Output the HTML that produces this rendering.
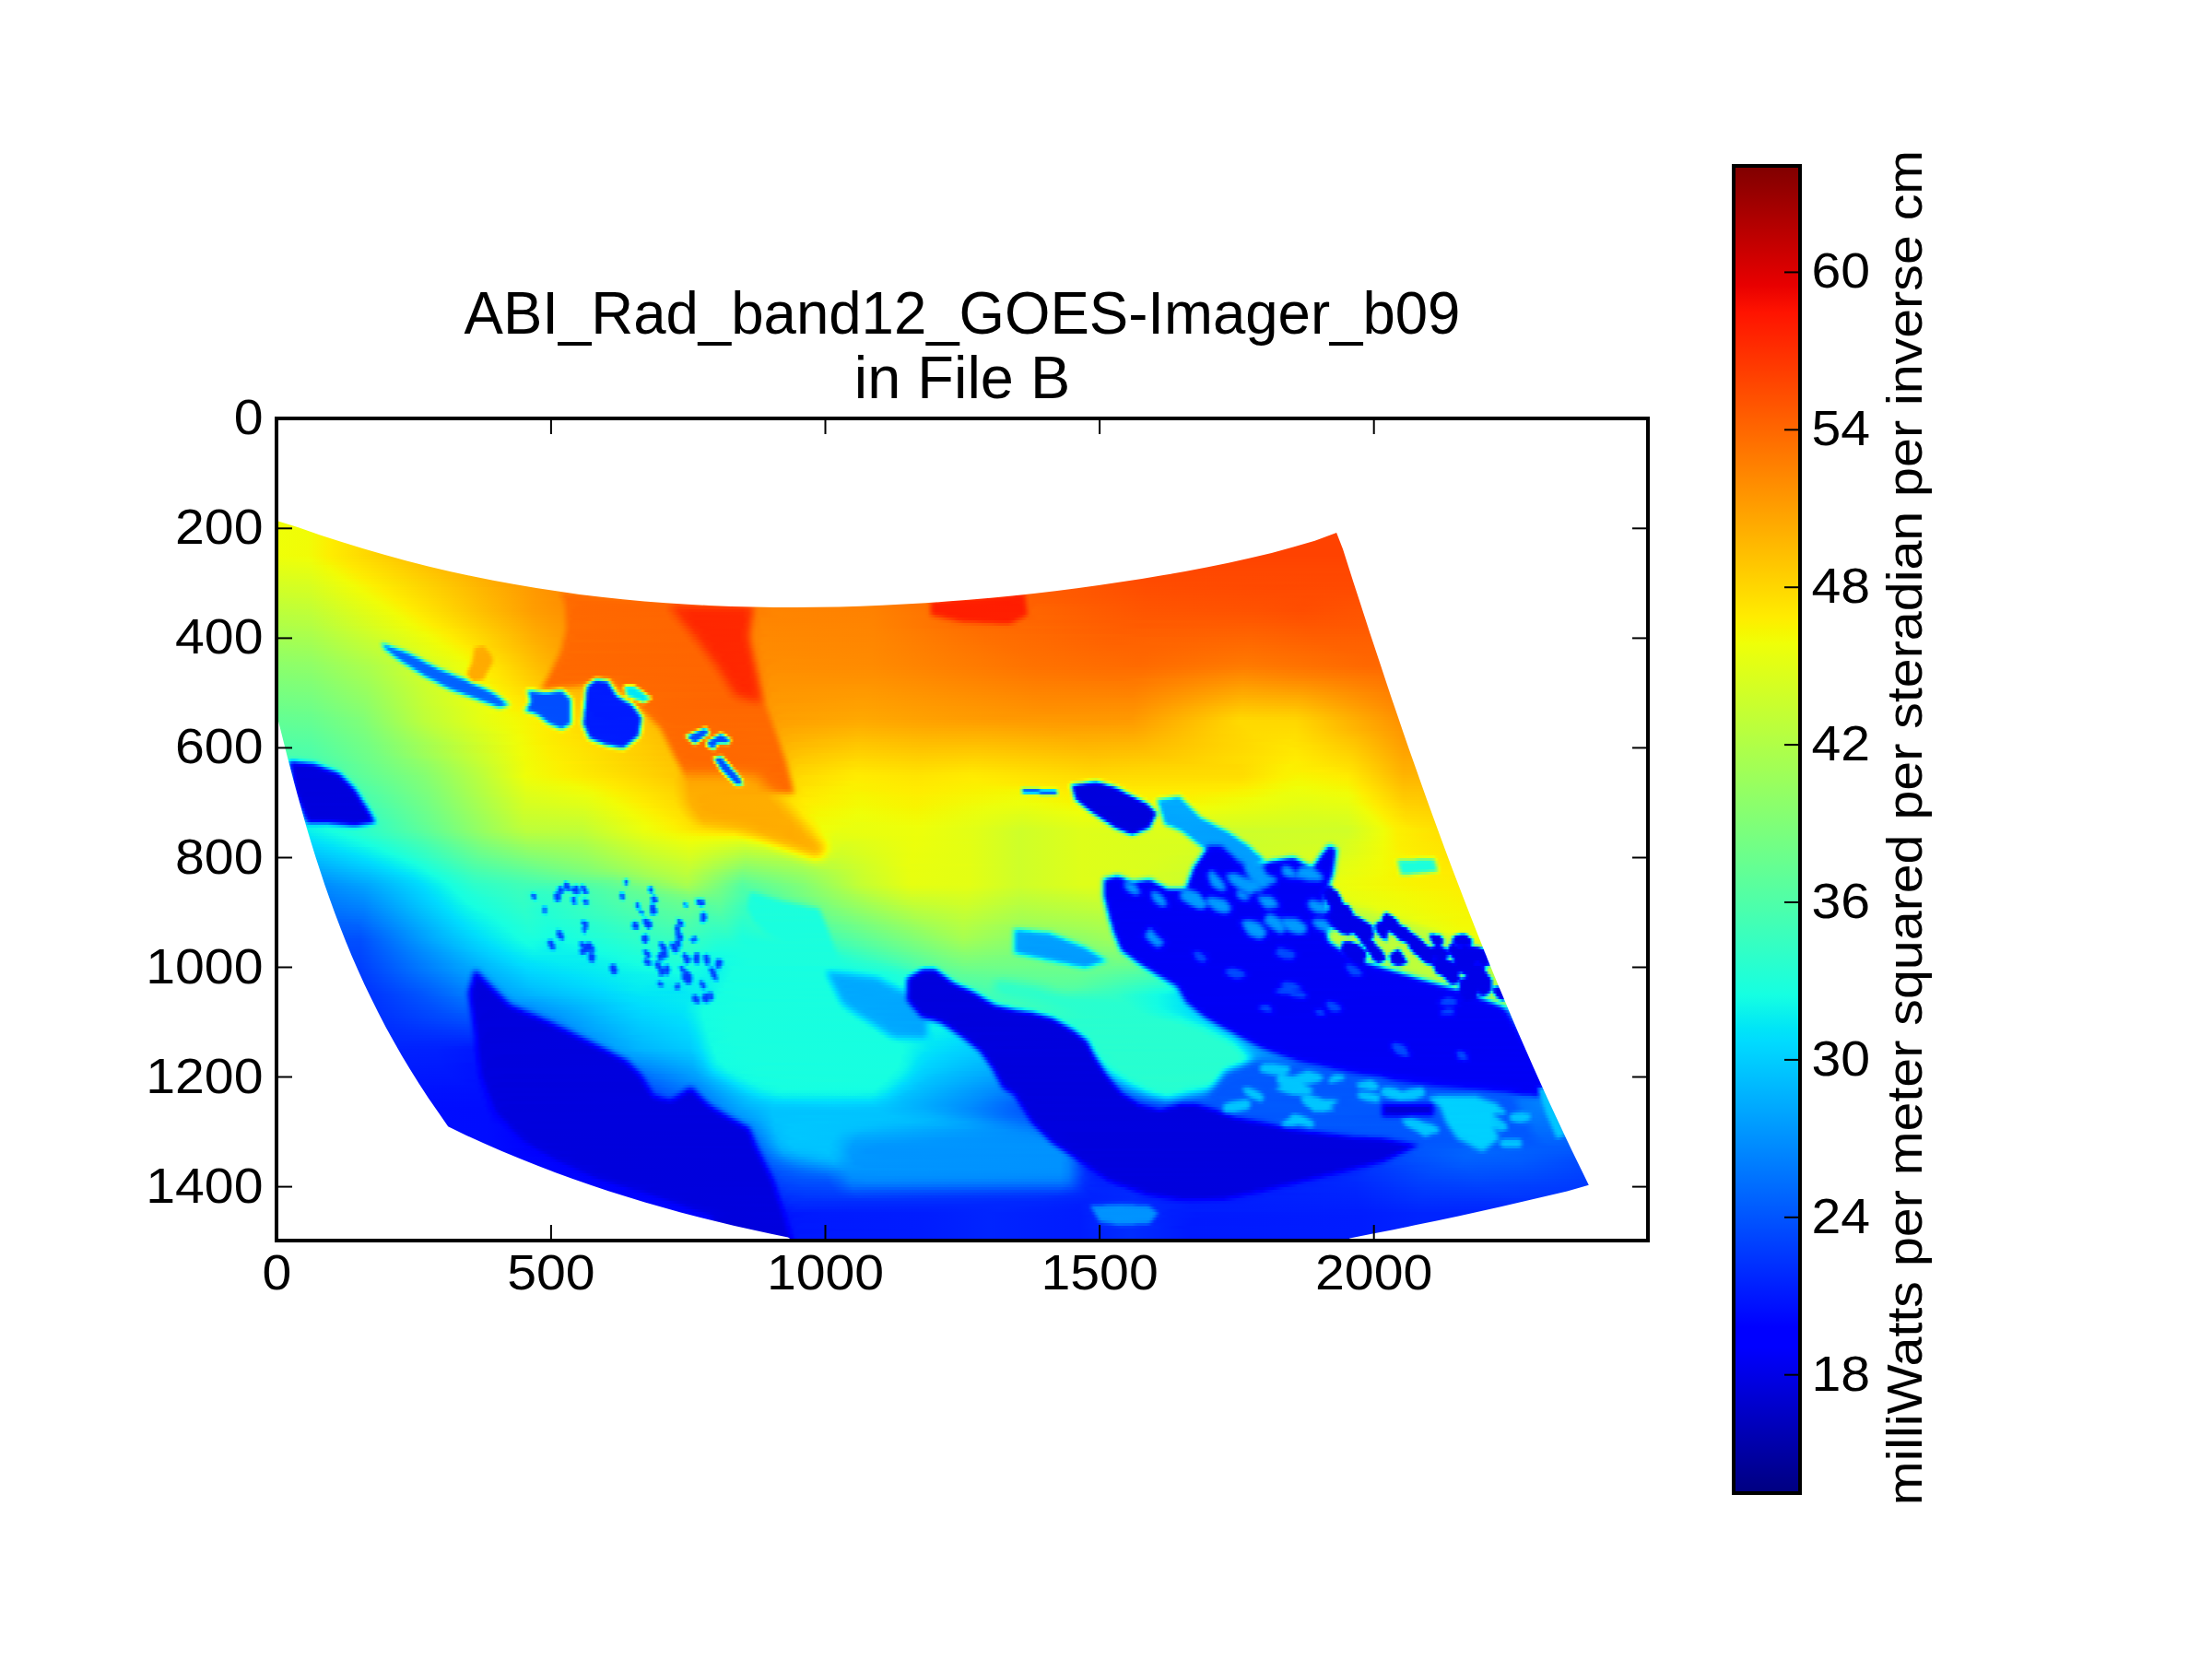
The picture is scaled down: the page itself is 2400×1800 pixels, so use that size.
<!DOCTYPE html>
<html><head><meta charset="utf-8"><style>
html,body{margin:0;padding:0;background:#fff;width:2400px;height:1800px;overflow:hidden}
#img{position:absolute;left:300.0px;top:454.0px;width:1488.0px;height:892.0px;overflow:hidden;clip-path:polygon(0.3px 111.0px,23.8px 118.2px,47.2px 126.4px,70.7px 134.1px,94.2px 141.3px,117.6px 148.1px,141.1px 154.5px,164.6px 160.5px,188.0px 166.0px,211.5px 171.1px,235.0px 175.8px,258.4px 180.1px,281.9px 184.1px,305.3px 187.6px,328.8px 190.9px,352.3px 193.7px,375.7px 196.2px,399.2px 198.4px,422.7px 200.2px,446.1px 201.8px,469.6px 203.0px,493.1px 203.9px,516.5px 204.5px,540.0px 204.9px,563.5px 205.0px,586.9px 204.8px,610.4px 204.4px,633.9px 203.7px,657.3px 202.8px,680.8px 201.6px,704.3px 200.2px,727.7px 198.6px,751.2px 196.8px,774.7px 194.7px,798.1px 192.5px,821.6px 189.9px,845.1px 187.2px,868.5px 184.2px,892.0px 181.1px,915.5px 177.6px,938.9px 174.0px,962.4px 170.1px,985.8px 166.0px,1009.3px 161.6px,1032.8px 156.8px,1056.2px 151.6px,1079.7px 145.9px,1103.2px 139.6px,1126.6px 132.7px,1150.1px 124.0px,1157.1px 142.1px,1162.9px 160.3px,1168.7px 178.4px,1174.6px 196.6px,1180.5px 214.7px,1186.4px 232.9px,1192.4px 251.0px,1198.4px 269.1px,1204.4px 287.3px,1210.5px 305.4px,1216.7px 323.6px,1222.9px 341.7px,1229.2px 359.9px,1235.6px 378.0px,1242.0px 396.2px,1248.4px 414.3px,1255.0px 432.5px,1261.6px 450.6px,1268.3px 468.8px,1275.1px 486.9px,1282.0px 505.0px,1289.0px 523.2px,1296.0px 541.3px,1303.2px 559.5px,1310.4px 577.6px,1317.7px 595.8px,1325.2px 613.9px,1332.8px 632.1px,1340.4px 650.2px,1348.2px 668.4px,1356.1px 686.5px,1364.1px 704.7px,1372.2px 722.8px,1380.5px 740.9px,1388.9px 759.1px,1397.4px 777.2px,1406.1px 795.4px,1414.9px 813.5px,1423.8px 831.7px,1400.3px 838.4px,1376.7px 844.0px,1353.1px 849.5px,1329.5px 854.9px,1306.0px 860.2px,1282.4px 865.4px,1258.8px 870.4px,1235.2px 875.3px,1211.7px 880.2px,1188.1px 884.8px,1164.5px 889.4px,1131.2px 911.0px,589.5px 911.0px,555.0px 888.4px,535.6px 884.5px,516.2px 880.3px,496.8px 875.9px,477.4px 871.3px,458.0px 866.5px,438.6px 861.4px,419.2px 856.1px,399.7px 850.5px,380.3px 844.6px,360.9px 838.5px,341.5px 832.0px,322.1px 825.3px,302.7px 818.2px,283.3px 810.8px,263.9px 803.0px,244.5px 794.9px,225.1px 786.5px,205.6px 777.7px,186.2px 768.2px,175.5px 752.8px,164.9px 737.4px,154.8px 722.0px,145.1px 706.6px,135.9px 691.2px,127.1px 675.8px,118.6px 660.4px,110.6px 645.0px,102.9px 629.6px,95.5px 614.2px,88.5px 598.8px,81.8px 583.4px,75.4px 568.0px,69.3px 552.6px,63.5px 537.2px,57.9px 521.8px,52.5px 506.4px,47.4px 491.1px,42.4px 475.7px,37.6px 460.3px,33.0px 444.9px,28.6px 429.5px,24.3px 414.1px,20.1px 398.7px,16.0px 383.3px,12.0px 367.9px,8.1px 352.5px,4.2px 337.1px,0.3px 321.7px)}
#img div{position:absolute;left:0;width:100%}
#cb{position:absolute;left:1881px;top:180px;width:72px;height:1440px;background:linear-gradient(0deg,#000080 0.00%,#0000ff 11.00%,#0000ff 12.50%,#00dbff 34.00%,#00e5f7 35.00%,#15ffe2 37.50%,#efff08 64.00%,#f7f600 65.00%,#ffec00 66.00%,#ff1300 89.00%,#e80000 91.00%,#800000 100.00%)}
svg{position:absolute;left:0;top:0}
.t{font-family:"Liberation Sans",sans-serif;font-size:53px;fill:#000}
.ti{font-family:"Liberation Sans",sans-serif;font-size:64px;fill:#000}
</style></head><body>
<div id="img">
<div style="top:0px;height:3px;background:linear-gradient(90deg,#efff08 1.5px,#f1fc06 34.5px,#feed00 58.5px,#ffc700 127.5px,#ff8d00 298.5px,#ff7b00 388.5px,#ff7800 634.5px,#ff5500 751.5px,#ff5100 829.5px,#ff4200 943.5px,#ff4200 1486.5px)"></div>
<div style="top:3px;height:3px;background:linear-gradient(90deg,#efff08 1.5px,#f1fc06 34.5px,#feed00 58.5px,#ffc700 127.5px,#ff8d00 298.5px,#ff7b00 388.5px,#ff7800 634.5px,#ff5500 751.5px,#ff5100 829.5px,#ff4200 943.5px,#ff4200 1486.5px)"></div>
<div style="top:6px;height:3px;background:linear-gradient(90deg,#efff08 1.5px,#f1fc06 34.5px,#feed00 58.5px,#ffc700 127.5px,#ff8d00 298.5px,#ff7b00 388.5px,#ff7800 634.5px,#ff5500 751.5px,#ff5100 829.5px,#ff4200 943.5px,#ff4200 1486.5px)"></div>
<div style="top:9px;height:3px;background:linear-gradient(90deg,#efff08 1.5px,#f1fc06 34.5px,#feed00 58.5px,#ffc700 127.5px,#ff8d00 298.5px,#ff7b00 388.5px,#ff7800 634.5px,#ff5500 751.5px,#ff5100 829.5px,#ff4200 943.5px,#ff4200 1486.5px)"></div>
<div style="top:12px;height:3px;background:linear-gradient(90deg,#efff08 1.5px,#f1fc06 34.5px,#feed00 58.5px,#ffc700 127.5px,#ff8d00 298.5px,#ff7b00 388.5px,#ff7800 634.5px,#ff5500 751.5px,#ff5100 829.5px,#ff4200 943.5px,#ff4200 1486.5px)"></div>
<div style="top:15px;height:3px;background:linear-gradient(90deg,#efff08 1.5px,#f1fc06 34.5px,#feed00 58.5px,#ffc700 127.5px,#ff8d00 298.5px,#ff7b00 388.5px,#ff7800 634.5px,#ff5500 751.5px,#ff5100 829.5px,#ff4200 943.5px,#ff4200 1486.5px)"></div>
<div style="top:18px;height:3px;background:linear-gradient(90deg,#efff08 1.5px,#f1fc06 34.5px,#feed00 58.5px,#ffc700 127.5px,#ff8d00 298.5px,#ff7b00 388.5px,#ff7800 634.5px,#ff5500 751.5px,#ff5100 829.5px,#ff4200 943.5px,#ff4200 1486.5px)"></div>
<div style="top:21px;height:3px;background:linear-gradient(90deg,#efff08 1.5px,#f1fc06 34.5px,#feed00 58.5px,#ffc700 127.5px,#ff8d00 298.5px,#ff7b00 388.5px,#ff7800 634.5px,#ff5500 751.5px,#ff5100 829.5px,#ff4200 943.5px,#ff4200 1486.5px)"></div>
<div style="top:24px;height:3px;background:linear-gradient(90deg,#efff08 1.5px,#f1fc06 34.5px,#feed00 58.5px,#ffc700 127.5px,#ff8d00 298.5px,#ff7b00 388.5px,#ff7800 634.5px,#ff5500 751.5px,#ff5100 829.5px,#ff4200 943.5px,#ff4200 1486.5px)"></div>
<div style="top:27px;height:3px;background:linear-gradient(90deg,#efff08 1.5px,#f1fc06 34.5px,#feed00 58.5px,#ffc700 127.5px,#ff8d00 298.5px,#ff7b00 388.5px,#ff7800 634.5px,#ff5500 751.5px,#ff5100 829.5px,#ff4200 943.5px,#ff4200 1486.5px)"></div>
<div style="top:30px;height:3px;background:linear-gradient(90deg,#efff08 1.5px,#f1fc06 34.5px,#feed00 58.5px,#ffc700 127.5px,#ff8d00 298.5px,#ff7b00 388.5px,#ff7800 634.5px,#ff5500 751.5px,#ff5100 829.5px,#ff4200 943.5px,#ff4200 1486.5px)"></div>
<div style="top:33px;height:3px;background:linear-gradient(90deg,#efff08 1.5px,#f1fc06 34.5px,#feed00 58.5px,#ffc700 127.5px,#ff8d00 298.5px,#ff7b00 388.5px,#ff7800 634.5px,#ff5500 751.5px,#ff5100 829.5px,#ff4200 943.5px,#ff4200 1486.5px)"></div>
<div style="top:36px;height:3px;background:linear-gradient(90deg,#efff08 1.5px,#f1fc06 34.5px,#feed00 58.5px,#ffc700 127.5px,#ff8d00 298.5px,#ff7b00 388.5px,#ff7800 634.5px,#ff5500 751.5px,#ff5100 829.5px,#ff4200 943.5px,#ff4200 1486.5px)"></div>
<div style="top:39px;height:3px;background:linear-gradient(90deg,#efff08 1.5px,#f1fc06 34.5px,#feed00 58.5px,#ffc700 127.5px,#ff8d00 298.5px,#ff7b00 388.5px,#ff7800 634.5px,#ff5500 751.5px,#ff5100 829.5px,#ff4200 943.5px,#ff4200 1486.5px)"></div>
<div style="top:42px;height:3px;background:linear-gradient(90deg,#efff08 1.5px,#f1fc06 34.5px,#feed00 58.5px,#ffc700 127.5px,#ff8d00 298.5px,#ff7b00 388.5px,#ff7800 634.5px,#ff5500 751.5px,#ff5100 829.5px,#ff4200 943.5px,#ff4200 1486.5px)"></div>
<div style="top:45px;height:3px;background:linear-gradient(90deg,#efff08 1.5px,#f1fc06 34.5px,#feed00 58.5px,#ffc700 127.5px,#ff8d00 298.5px,#ff7b00 388.5px,#ff7800 634.5px,#ff5500 751.5px,#ff5100 829.5px,#ff4200 943.5px,#ff4200 1486.5px)"></div>
<div style="top:48px;height:3px;background:linear-gradient(90deg,#efff08 1.5px,#f1fc06 34.5px,#feed00 58.5px,#ffc700 127.5px,#ff8d00 298.5px,#ff7b00 388.5px,#ff7800 634.5px,#ff5500 751.5px,#ff5100 829.5px,#ff4200 943.5px,#ff4200 1486.5px)"></div>
<div style="top:51px;height:3px;background:linear-gradient(90deg,#efff08 1.5px,#f1fc06 34.5px,#feed00 58.5px,#ffc700 127.5px,#ff8d00 298.5px,#ff7b00 388.5px,#ff7800 634.5px,#ff5500 751.5px,#ff5100 829.5px,#ff4200 943.5px,#ff4200 1486.5px)"></div>
<div style="top:54px;height:3px;background:linear-gradient(90deg,#efff08 1.5px,#f1fc06 34.5px,#feed00 58.5px,#ffc700 127.5px,#ff8d00 298.5px,#ff7b00 388.5px,#ff7800 634.5px,#ff5500 751.5px,#ff5100 829.5px,#ff4200 943.5px,#ff4200 1486.5px)"></div>
<div style="top:57px;height:3px;background:linear-gradient(90deg,#efff08 1.5px,#f1fc06 34.5px,#feed00 58.5px,#ffc700 127.5px,#ff8d00 298.5px,#ff7b00 388.5px,#ff7800 634.5px,#ff5500 751.5px,#ff5100 829.5px,#ff4200 943.5px,#ff4200 1486.5px)"></div>
<div style="top:60px;height:3px;background:linear-gradient(90deg,#efff08 1.5px,#f1fc06 34.5px,#feed00 58.5px,#ffc700 127.5px,#ff8d00 298.5px,#ff7b00 388.5px,#ff7800 634.5px,#ff5500 751.5px,#ff5100 829.5px,#ff4200 943.5px,#ff4200 1486.5px)"></div>
<div style="top:63px;height:3px;background:linear-gradient(90deg,#efff08 1.5px,#f1fc06 34.5px,#feed00 58.5px,#ffc700 127.5px,#ff8d00 298.5px,#ff7b00 388.5px,#ff7800 634.5px,#ff5500 751.5px,#ff5100 829.5px,#ff4200 943.5px,#ff4200 1486.5px)"></div>
<div style="top:66px;height:3px;background:linear-gradient(90deg,#efff08 1.5px,#f1fc06 34.5px,#feed00 58.5px,#ffc700 127.5px,#ff8d00 298.5px,#ff7b00 388.5px,#ff7800 634.5px,#ff5500 751.5px,#ff5100 829.5px,#ff4200 943.5px,#ff4200 1486.5px)"></div>
<div style="top:69px;height:3px;background:linear-gradient(90deg,#efff08 1.5px,#f1fc06 34.5px,#feed00 58.5px,#ffc700 127.5px,#ff8d00 298.5px,#ff7b00 388.5px,#ff7800 634.5px,#ff5500 751.5px,#ff5100 829.5px,#ff4200 943.5px,#ff4200 1486.5px)"></div>
<div style="top:72px;height:3px;background:linear-gradient(90deg,#efff08 1.5px,#f1fc06 34.5px,#feed00 58.5px,#ffc700 127.5px,#ff8d00 298.5px,#ff7b00 388.5px,#ff7800 634.5px,#ff5500 751.5px,#ff5100 829.5px,#ff4200 943.5px,#ff4200 1486.5px)"></div>
<div style="top:75px;height:3px;background:linear-gradient(90deg,#efff08 1.5px,#f1fc06 34.5px,#feed00 58.5px,#ffc700 127.5px,#ff8d00 298.5px,#ff7b00 388.5px,#ff7800 634.5px,#ff5500 751.5px,#ff5100 829.5px,#ff4200 943.5px,#ff4200 1486.5px)"></div>
<div style="top:78px;height:3px;background:linear-gradient(90deg,#efff08 1.5px,#f1fc06 34.5px,#feed00 58.5px,#ffc700 127.5px,#ff8d00 298.5px,#ff7b00 388.5px,#ff7800 634.5px,#ff5500 751.5px,#ff5100 829.5px,#ff4200 943.5px,#ff4200 1486.5px)"></div>
<div style="top:81px;height:3px;background:linear-gradient(90deg,#efff08 1.5px,#f1fc06 34.5px,#feed00 58.5px,#ffc700 127.5px,#ff8d00 298.5px,#ff7b00 388.5px,#ff7800 634.5px,#ff5500 751.5px,#ff5100 829.5px,#ff4200 943.5px,#ff4200 1486.5px)"></div>
<div style="top:84px;height:3px;background:linear-gradient(90deg,#efff08 1.5px,#f1fc06 34.5px,#feed00 58.5px,#ffc700 127.5px,#ff8d00 298.5px,#ff7b00 388.5px,#ff7800 634.5px,#ff5500 751.5px,#ff5100 829.5px,#ff4200 943.5px,#ff4200 1486.5px)"></div>
<div style="top:87px;height:3px;background:linear-gradient(90deg,#efff08 1.5px,#f1fc06 34.5px,#feed00 58.5px,#ffc700 127.5px,#ff8d00 298.5px,#ff7b00 388.5px,#ff7800 634.5px,#ff5500 751.5px,#ff5100 829.5px,#ff4200 943.5px,#ff4200 1486.5px)"></div>
<div style="top:90px;height:3px;background:linear-gradient(90deg,#efff08 1.5px,#f1fc06 34.5px,#feed00 58.5px,#ffc700 127.5px,#ff8d00 298.5px,#ff7b00 388.5px,#ff7800 634.5px,#ff5500 751.5px,#ff5100 829.5px,#ff4200 943.5px,#ff4200 1486.5px)"></div>
<div style="top:93px;height:3px;background:linear-gradient(90deg,#efff08 1.5px,#f1fc06 34.5px,#feed00 58.5px,#ffc700 127.5px,#ff8d00 298.5px,#ff7b00 388.5px,#ff7800 634.5px,#ff5500 751.5px,#ff5100 829.5px,#ff4200 943.5px,#ff4200 1486.5px)"></div>
<div style="top:96px;height:3px;background:linear-gradient(90deg,#efff08 1.5px,#f1fc06 34.5px,#feed00 58.5px,#ffc700 127.5px,#ff8d00 298.5px,#ff7b00 388.5px,#ff7800 634.5px,#ff5500 751.5px,#ff5100 829.5px,#ff4200 943.5px,#ff4200 1486.5px)"></div>
<div style="top:99px;height:3px;background:linear-gradient(90deg,#efff08 1.5px,#f1fc06 34.5px,#feed00 58.5px,#ffc700 127.5px,#ff8d00 298.5px,#ff7b00 388.5px,#ff7800 634.5px,#ff5500 751.5px,#ff5100 829.5px,#ff4200 943.5px,#ff4200 1486.5px)"></div>
<div style="top:102px;height:3px;background:linear-gradient(90deg,#efff08 1.5px,#f1fc06 34.5px,#feed00 58.5px,#ffc700 127.5px,#ff8d00 298.5px,#ff7b00 388.5px,#ff7800 634.5px,#ff5500 751.5px,#ff5100 829.5px,#ff4200 943.5px,#ff4200 1486.5px)"></div>
<div style="top:105px;height:3px;background:linear-gradient(90deg,#efff08 1.5px,#f1fc06 34.5px,#feed00 58.5px,#ffc700 127.5px,#ff8d00 298.5px,#ff7b00 388.5px,#ff7800 634.5px,#ff5500 751.5px,#ff5100 829.5px,#ff4200 943.5px,#ff4200 1486.5px)"></div>
<div style="top:108px;height:3px;background:linear-gradient(90deg,#efff08 1.5px,#f1fc06 34.5px,#feed00 58.5px,#ffc700 127.5px,#ff8d00 298.5px,#ff7b00 388.5px,#ff7800 634.5px,#ff5500 751.5px,#ff5100 829.5px,#ff4200 943.5px,#ff4200 1486.5px)"></div>
<div style="top:111px;height:3px;background:linear-gradient(90deg,#efff08 1.5px,#f1fc06 34.5px,#feed00 58.5px,#ffc700 127.5px,#ff8d00 298.5px,#ff7b00 388.5px,#ff7800 634.5px,#ff5500 751.5px,#ff5100 829.5px,#ff4200 943.5px,#ff4200 1486.5px)"></div>
<div style="top:114px;height:3px;background:linear-gradient(90deg,#efff08 1.5px,#f1fc06 34.5px,#feed00 58.5px,#ffc700 127.5px,#ff8d00 298.5px,#ff7b00 388.5px,#ff7800 634.5px,#ff5500 751.5px,#ff5100 829.5px,#ff4200 943.5px,#ff4200 1486.5px)"></div>
<div style="top:117px;height:3px;background:linear-gradient(90deg,#efff08 1.5px,#f1fc06 34.5px,#feed00 58.5px,#ffc700 127.5px,#ff8d00 298.5px,#ff7b00 388.5px,#ff7800 634.5px,#ff5500 751.5px,#ff5100 829.5px,#ff4200 943.5px,#ff4200 1486.5px)"></div>
<div style="top:120px;height:3px;background:linear-gradient(90deg,#efff08 1.5px,#f1fc06 34.5px,#feed00 58.5px,#ffc700 127.5px,#ff8d00 298.5px,#ff7b00 388.5px,#ff7800 634.5px,#ff5500 751.5px,#ff5100 829.5px,#ff4200 943.5px,#ff4200 1486.5px)"></div>
<div style="top:123px;height:3px;background:linear-gradient(90deg,#efff08 1.5px,#f1fc06 34.5px,#feed00 58.5px,#ffc700 127.5px,#ff8d00 298.5px,#ff7b00 388.5px,#ff7800 634.5px,#ff5500 751.5px,#ff5100 829.5px,#ff4200 943.5px,#ff4200 1486.5px)"></div>
<div style="top:126px;height:3px;background:linear-gradient(90deg,#efff08 1.5px,#f1fc06 34.5px,#feed00 58.5px,#ffc700 127.5px,#ff8d00 298.5px,#ff7b00 388.5px,#ff7800 634.5px,#ff5500 751.5px,#ff5100 829.5px,#ff4200 943.5px,#ff4200 1486.5px)"></div>
<div style="top:129px;height:3px;background:linear-gradient(90deg,#efff08 1.5px,#f1fc06 34.5px,#feed00 58.5px,#ffc700 127.5px,#ff8d00 298.5px,#ff7b00 388.5px,#ff7800 634.5px,#ff5500 751.5px,#ff5100 829.5px,#ff4200 943.5px,#ff4200 1486.5px)"></div>
<div style="top:132px;height:3px;background:linear-gradient(90deg,#efff08 1.5px,#f1fc06 34.5px,#feed00 58.5px,#ffc700 127.5px,#ff8d00 298.5px,#ff7b00 388.5px,#ff7800 634.5px,#ff5500 751.5px,#ff5100 829.5px,#ff4200 943.5px,#ff4200 1486.5px)"></div>
<div style="top:135px;height:3px;background:linear-gradient(90deg,#efff08 1.5px,#f1fc06 34.5px,#feed00 58.5px,#ffc700 127.5px,#ff8d00 298.5px,#ff7b00 388.5px,#ff7800 634.5px,#ff5500 751.5px,#ff5100 829.5px,#ff4200 943.5px,#ff4200 1486.5px)"></div>
<div style="top:138px;height:3px;background:linear-gradient(90deg,#efff08 1.5px,#f1fc06 34.5px,#feed00 58.5px,#ffc700 127.5px,#ff8d00 298.5px,#ff7b00 388.5px,#ff7800 634.5px,#ff5500 751.5px,#ff5100 829.5px,#ff4200 943.5px,#ff4200 1486.5px)"></div>
<div style="top:141px;height:3px;background:linear-gradient(90deg,#efff08 1.5px,#f1fc06 34.5px,#feed00 58.5px,#ffc700 127.5px,#ff8d00 298.5px,#ff7b00 388.5px,#ff7800 634.5px,#ff5500 751.5px,#ff5100 829.5px,#ff4200 943.5px,#ff4200 1486.5px)"></div>
<div style="top:144px;height:3px;background:linear-gradient(90deg,#efff08 1.5px,#f1fc06 34.5px,#feed00 58.5px,#ffc700 127.5px,#ff8d00 298.5px,#ff7b00 388.5px,#ff7800 634.5px,#ff5500 751.5px,#ff5100 829.5px,#ff4200 943.5px,#ff4200 1486.5px)"></div>
<div style="top:147px;height:3px;background:linear-gradient(90deg,#eeff08 1.5px,#f1fc06 34.5px,#feed00 58.5px,#ffc700 127.5px,#ff8d00 298.5px,#ff7b00 388.5px,#ff7800 634.5px,#ff5500 751.5px,#ff5100 829.5px,#ff4200 943.5px,#ff4200 1486.5px)"></div>
<div style="top:150px;height:3px;background:linear-gradient(90deg,#edff0a 1.5px,#effe08 34.5px,#fcef00 58.5px,#ffc200 142.5px,#ff8200 343.5px,#ff7b00 415.5px,#ff7800 634.5px,#ff5600 751.5px,#ff5200 829.5px,#ff4300 940.5px,#ff4300 1486.5px)"></div>
<div style="top:153px;height:3px;background:linear-gradient(90deg,#eaff0d 1.5px,#eeff09 37.5px,#faf200 58.5px,#ffe500 79.5px,#ffbb00 166.5px,#ff8300 340.5px,#ff7c00 412.5px,#ff7900 634.5px,#ff5700 751.5px,#ff5300 829.5px,#ff4400 940.5px,#ff4400 1486.5px)"></div>
<div style="top:156px;height:3px;background:linear-gradient(90deg,#e8ff0f 1.5px,#eaff0d 34.5px,#f7f500 58.5px,#ffe600 82.5px,#ffbb00 172.5px,#ff8400 337.5px,#ff7c00 412.5px,#ff7900 637.5px,#ff5800 751.5px,#ff5400 829.5px,#ff4500 940.5px,#ff4500 1486.5px)"></div>
<div style="top:159px;height:3px;background:linear-gradient(90deg,#e5ff12 1.5px,#e9ff0e 37.5px,#f3fa04 55.5px,#ffea00 79.5px,#ffbc00 175.5px,#ff8500 331.5px,#ff7d00 412.5px,#ff7a00 634.5px,#ff5900 751.5px,#ff5500 829.5px,#ff4600 940.5px,#ff4600 1486.5px)"></div>
<div style="top:162px;height:3px;background:linear-gradient(90deg,#e3ff14 1.5px,#e5ff12 34.5px,#f2fb04 58.5px,#ffe800 88.5px,#ffbd00 178.5px,#ff8800 322.5px,#ff7d00 406.5px,#ff7a00 637.5px,#ff5a00 751.5px,#ff5600 826.5px,#ff4700 940.5px,#ff4700 1486.5px)"></div>
<div style="top:165px;height:3px;background:linear-gradient(90deg,#e0ff17 1.5px,#e4ff13 37.5px,#f1fc05 61.5px,#fdee00 82.5px,#ffbc00 184.5px,#ff8b00 313.5px,#ff7e00 400.5px,#ff7b00 634.5px,#ff5b00 751.5px,#ff5700 826.5px,#ff4800 940.5px,#ff4800 1486.5px)"></div>
<div style="top:168px;height:3px;background:linear-gradient(90deg,#deff19 1.5px,#e0ff17 34.5px,#f2fb04 67.5px,#ffe800 97.5px,#ffb500 205.5px,#ff8f00 304.5px,#ff7f00 379.5px,#ff7b00 637.5px,#ff5b00 754.5px,#ff5700 832.5px,#ff4900 940.5px,#ff4700 1138.5px,#ff4900 1486.5px)"></div>
<div style="top:171px;height:3px;background:linear-gradient(90deg,#dbff1c 1.5px,#dfff18 37.5px,#f1fc05 70.5px,#fdee00 91.5px,#ffb800 202.5px,#ff8e00 307.5px,#ff7e00 403.5px,#ff7b00 640.5px,#ff5c00 754.5px,#ff5800 832.5px,#ff4a00 940.5px,#ff4800 1141.5px,#ff4a00 1486.5px)"></div>
<div style="top:174px;height:3px;background:linear-gradient(90deg,#d9ff1e 1.5px,#dbff1c 34.5px,#f1fd06 73.5px,#fdee00 97.5px,#ffad00 229.5px,#ff8f00 307.5px,#ff7f00 391.5px,#ff7c00 637.5px,#ff5d00 754.5px,#ff5900 832.5px,#ff4a00 946.5px,#ff4800 1132.5px,#ff4a00 1486.5px)"></div>
<div style="top:177px;height:3px;background:linear-gradient(90deg,#d6ff21 1.5px,#d9ff1e 34.5px,#f1fc05 79.5px,#fcef00 100.5px,#ff9c00 268.5px,#ff8500 349.5px,#ff7f00 427.5px,#ff7c00 640.5px,#ff5e00 754.5px,#ff5a00 832.5px,#ff4b00 946.5px,#ff4900 1135.5px,#ff4b00 1486.5px)"></div>
<div style="top:180px;height:3px;background:linear-gradient(90deg,#d4ff23 1.5px,#d6ff21 34.5px,#f1fd06 82.5px,#fdef00 106.5px,#ff9f00 262.5px,#ff8600 346.5px,#ff8000 424.5px,#ff7d00 637.5px,#ff5f00 757.5px,#ff5b00 832.5px,#ff4c00 943.5px,#ff4800 1096.5px,#ff4c00 1324.5px,#ff4c00 1486.5px)"></div>
<div style="top:183px;height:3px;background:linear-gradient(90deg,#d1ff26 1.5px,#d4ff23 34.5px,#f1fc05 88.5px,#ffea00 118.5px,#ff9800 283.5px,#ff8700 337.5px,#ff8000 424.5px,#ff7d00 640.5px,#ff6000 757.5px,#ff5a00 844.5px,#ff4d00 943.5px,#ff4900 1090.5px,#ff4d00 1342.5px,#ff4d00 1486.5px)"></div>
<div style="top:186px;height:3px;background:linear-gradient(90deg,#cfff28 1.5px,#d3ff24 37.5px,#f1fd06 91.5px,#fdef00 115.5px,#ff9900 280.5px,#ff9000 304.5px,#ff8200 316.5px,#ff7e00 640.5px,#ff6100 757.5px,#ff5900 799.5px,#ff5800 811.5px,#ff5f00 820.5px,#ff4e00 943.5px,#ff4b00 1078.5px,#ff4b00 1132.5px,#ff4e00 1486.5px)"></div>
<div style="top:189px;height:3px;background:linear-gradient(90deg,#ccff2b 1.5px,#cfff28 34.5px,#f1fc06 97.5px,#fdee00 121.5px,#ff9b00 277.5px,#ff9000 304.5px,#ff7700 313.5px,#ff7700 331.5px,#ff8000 418.5px,#ff7e00 643.5px,#ff6300 739.5px,#ff5500 775.5px,#ff4000 799.5px,#ff3a00 805.5px,#ff3c00 808.5px,#ff4700 811.5px,#ff5900 814.5px,#ff5f00 820.5px,#ff4f00 943.5px,#ff4c00 1075.5px,#ff4c00 1135.5px,#ff4f00 1486.5px)"></div>
<div style="top:192px;height:3px;background:linear-gradient(90deg,#caff2d 1.5px,#ceff29 37.5px,#f0fd06 100.5px,#fdef00 124.5px,#ff9a00 280.5px,#ff9100 304.5px,#ff7d00 310.5px,#ff7100 313.5px,#ff6b00 322.5px,#ff7d00 433.5px,#ff8200 625.5px,#ff6d00 709.5px,#ff5500 742.5px,#ff2800 793.5px,#ff2200 805.5px,#ff2600 808.5px,#ff3800 811.5px,#ff5400 814.5px,#ff5f00 817.5px,#ff5000 946.5px,#ff4d00 1072.5px,#ff4b00 1120.5px,#ff5000 1210.5px,#ff5000 1486.5px)"></div>
<div style="top:195px;height:3px;background:linear-gradient(90deg,#c7ff30 1.5px,#caff2d 34.5px,#f1fc06 106.5px,#feee00 130.5px,#ff9c00 277.5px,#ff9200 304.5px,#ff8d00 307.5px,#ff6a00 316.5px,#ff6e00 394.5px,#ff7200 424.5px,#ff7400 457.5px,#ff7e00 517.5px,#ff8200 541.5px,#ff7f00 643.5px,#ff7100 703.5px,#ff6600 709.5px,#ff5b00 712.5px,#ff3000 748.5px,#ff2100 775.5px,#ff1d00 805.5px,#ff2000 808.5px,#ff3100 811.5px,#ff5000 814.5px,#ff6000 817.5px,#ff5100 946.5px,#ff4e00 1069.5px,#ff4c00 1123.5px,#ff5100 1204.5px,#ff5100 1486.5px)"></div>
<div style="top:198px;height:3px;background:linear-gradient(90deg,#c5ff32 1.5px,#c9ff2e 37.5px,#f0fd07 109.5px,#fbf000 130.5px,#ffe200 154.5px,#ff9c00 277.5px,#ff9000 307.5px,#ff6c00 316.5px,#ff6800 328.5px,#ff6a00 421.5px,#ff5d00 439.5px,#ff6c00 511.5px,#ff8100 523.5px,#ff8000 640.5px,#ff7200 703.5px,#ff6c00 706.5px,#ff3d00 712.5px,#ff3300 715.5px,#ff2200 739.5px,#ff1c00 793.5px,#ff1f00 808.5px,#ff2f00 811.5px,#ff4e00 814.5px,#ff6000 817.5px,#ff5200 949.5px,#ff4f00 1066.5px,#ff4c00 1114.5px,#ff5200 1198.5px,#ff5200 1486.5px)"></div>
<div style="top:201px;height:3px;background:linear-gradient(90deg,#c2ff35 1.5px,#c5ff32 34.5px,#f1fc06 115.5px,#feed00 139.5px,#ff9d00 277.5px,#ff9100 307.5px,#ff8900 310.5px,#ff6d00 316.5px,#ff6800 331.5px,#ff6600 421.5px,#ff4c00 436.5px,#ff5200 508.5px,#ff5f00 514.5px,#ff7900 520.5px,#ff8200 526.5px,#ff8000 646.5px,#ff7300 703.5px,#ff6b00 706.5px,#ff4f00 709.5px,#ff2c00 712.5px,#ff2000 715.5px,#ff1c00 805.5px,#ff1e00 808.5px,#ff2b00 811.5px,#ff4a00 814.5px,#ff5f00 817.5px,#ff6200 826.5px,#ff5300 946.5px,#ff5000 1066.5px,#ff4c00 1114.5px,#ff5300 1192.5px,#ff5300 1486.5px)"></div>
<div style="top:204px;height:3px;background:linear-gradient(90deg,#c0ff37 1.5px,#c4ff33 37.5px,#f0fd06 118.5px,#feee00 142.5px,#ff9d00 277.5px,#ff9200 307.5px,#ff8b00 310.5px,#ff6e00 316.5px,#ff6800 325.5px,#ff6500 421.5px,#ff3f00 436.5px,#ff3a00 451.5px,#ff3b00 505.5px,#ff4300 511.5px,#ff4f00 514.5px,#ff7500 520.5px,#ff7f00 523.5px,#ff8400 538.5px,#ff8100 643.5px,#ff7300 703.5px,#ff6c00 706.5px,#ff2a00 712.5px,#ff1e00 715.5px,#ff1d00 808.5px,#ff2800 811.5px,#ff4700 814.5px,#ff5f00 817.5px,#ff6400 823.5px,#ff5400 943.5px,#ff5100 1063.5px,#ff4d00 1111.5px,#ff5400 1195.5px,#ff5400 1486.5px)"></div>
<div style="top:207px;height:3px;background:linear-gradient(90deg,#bdff39 1.5px,#c0ff37 34.5px,#f1fc05 124.5px,#fdee00 145.5px,#ff9f00 274.5px,#ff9300 307.5px,#ff8d00 310.5px,#ff6f00 316.5px,#ff6800 322.5px,#ff6500 421.5px,#ff4d00 430.5px,#ff3800 436.5px,#ff2e00 448.5px,#ff2f00 505.5px,#ff3900 511.5px,#ff4800 514.5px,#ff7300 520.5px,#ff7f00 523.5px,#ff8400 538.5px,#ff8100 646.5px,#ff7400 703.5px,#ff6d00 706.5px,#ff2b00 712.5px,#ff1e00 715.5px,#ff1d00 808.5px,#ff2700 811.5px,#ff5e00 817.5px,#ff6500 820.5px,#ff5500 940.5px,#ff5200 1063.5px,#ff4d00 1111.5px,#ff5500 1186.5px,#ff5500 1486.5px)"></div>
<div style="top:210px;height:3px;background:linear-gradient(90deg,#bbff3c 1.5px,#bfff38 37.5px,#f1fd06 127.5px,#feed00 151.5px,#ff9f00 277.5px,#ff9400 307.5px,#ff8e00 310.5px,#ff7000 316.5px,#ff6800 322.5px,#ff6600 421.5px,#ff5c00 427.5px,#ff3100 439.5px,#ff2800 451.5px,#ff2a00 505.5px,#ff3500 511.5px,#ff4600 514.5px,#ff7400 520.5px,#ff7f00 523.5px,#ff8500 541.5px,#ff8200 643.5px,#ff7500 703.5px,#ff6f00 706.5px,#ff3500 712.5px,#ff2700 715.5px,#ff1d00 730.5px,#ff1f00 808.5px,#ff2900 811.5px,#ff5e00 817.5px,#ff6500 820.5px,#ff5600 943.5px,#ff5400 1060.5px,#ff4f00 1114.5px,#ff5600 1192.5px,#ff5600 1486.5px)"></div>
<div style="top:213px;height:3px;background:linear-gradient(90deg,#b8ff3e 1.5px,#bbff3c 34.5px,#f1fc05 133.5px,#fdee00 154.5px,#ffa100 277.5px,#ff9600 307.5px,#ff9000 310.5px,#ff7100 316.5px,#ff6900 319.5px,#ff6500 424.5px,#ff5900 430.5px,#ff2e00 442.5px,#ff2600 454.5px,#ff2800 505.5px,#ff3600 511.5px,#ff4800 514.5px,#ff7600 520.5px,#ff8100 523.5px,#ff8500 547.5px,#ff8200 646.5px,#ff7600 703.5px,#ff7200 706.5px,#ff4600 715.5px,#ff2800 727.5px,#ff1d00 742.5px,#ff1f00 802.5px,#ff2d00 808.5px,#ff6200 817.5px,#ff6600 826.5px,#ff5700 940.5px,#ff5600 1060.5px,#ff5100 1111.5px,#ff5700 1207.5px,#ff5700 1486.5px)"></div>
<div style="top:216px;height:3px;background:linear-gradient(90deg,#b6ff41 1.5px,#baff3d 37.5px,#f0fd06 136.5px,#feed00 160.5px,#ffa300 277.5px,#ff9700 307.5px,#ff9100 310.5px,#ff7200 316.5px,#ff6800 322.5px,#ff6700 424.5px,#ff5700 433.5px,#ff3400 442.5px,#ff2800 448.5px,#ff2800 505.5px,#ff2c00 508.5px,#ff3700 511.5px,#ff7900 520.5px,#ff8500 526.5px,#ff8300 643.5px,#ff7500 706.5px,#ff6100 718.5px,#ff2b00 739.5px,#ff2300 751.5px,#ff1d00 793.5px,#ff2300 799.5px,#ff3b00 805.5px,#ff6200 814.5px,#ff6600 826.5px,#ff5800 943.5px,#ff5800 1060.5px,#ff5200 1111.5px,#ff5800 1207.5px,#ff5800 1486.5px)"></div>
<div style="top:219px;height:3px;background:linear-gradient(90deg,#b3ff43 1.5px,#b7ff40 37.5px,#f1fc05 142.5px,#fdee00 163.5px,#ffa300 280.5px,#ff9800 307.5px,#ff9300 310.5px,#ff7400 316.5px,#ff6a00 319.5px,#ff6600 427.5px,#ff5e00 433.5px,#ff3200 445.5px,#ff2600 454.5px,#ff2800 505.5px,#ff2d00 508.5px,#ff3a00 511.5px,#ff6900 517.5px,#ff7b00 520.5px,#ff8500 526.5px,#ff8300 646.5px,#ff7300 715.5px,#ff6300 730.5px,#ff4000 745.5px,#ff3c00 757.5px,#ff3200 766.5px,#ff2f00 775.5px,#ff2900 787.5px,#ff2900 793.5px,#ff2e00 796.5px,#ff5900 805.5px,#ff6600 811.5px,#ff5c00 904.5px,#ff5b00 1006.5px,#ff5800 1072.5px,#ff5400 1114.5px,#ff5900 1225.5px,#ff5900 1486.5px)"></div>
<div style="top:222px;height:3px;background:linear-gradient(90deg,#b1ff46 1.5px,#b5ff42 37.5px,#f1fd06 145.5px,#feed00 169.5px,#ffa500 280.5px,#ff9a00 307.5px,#ff9500 310.5px,#ff7500 316.5px,#ff6b00 319.5px,#ff6600 430.5px,#ff5c00 436.5px,#ff3100 448.5px,#ff2700 454.5px,#ff2800 505.5px,#ff3c00 511.5px,#ff6d00 517.5px,#ff7d00 520.5px,#ff8600 526.5px,#ff8400 643.5px,#ff7100 727.5px,#ff6000 748.5px,#ff5a00 760.5px,#ff5300 775.5px,#ff4a00 784.5px,#ff4900 793.5px,#ff6800 805.5px,#ff5a00 940.5px,#ff5c00 1057.5px,#ff5600 1117.5px,#ff5a00 1285.5px,#ff5a00 1486.5px)"></div>
<div style="top:225px;height:3px;background:linear-gradient(90deg,#aeff48 1.5px,#b2ff45 37.5px,#f1fc05 151.5px,#fdee00 172.5px,#ffa700 280.5px,#ff9b00 307.5px,#ff9600 310.5px,#ff7600 316.5px,#ff6b00 319.5px,#ff6600 433.5px,#ff5b00 439.5px,#ff2f00 451.5px,#ff2600 460.5px,#ff2900 505.5px,#ff3000 508.5px,#ff3f00 511.5px,#ff7000 517.5px,#ff7f00 520.5px,#ff8700 526.5px,#ff8400 646.5px,#ff6e00 739.5px,#ff6400 793.5px,#ff6a00 811.5px,#ff5b00 937.5px,#ff5e00 1057.5px,#ff5800 1120.5px,#ff5b00 1486.5px)"></div>
<div style="top:228px;height:3px;background:linear-gradient(90deg,#acff4b 1.5px,#b0ff47 37.5px,#e8ff0f 139.5px,#f6f701 163.5px,#ffe600 190.5px,#ffaa00 277.5px,#ff9c00 307.5px,#ff9600 310.5px,#ff7400 316.5px,#ff6a00 319.5px,#ff6500 436.5px,#ff5900 442.5px,#ff2e00 454.5px,#ff2600 466.5px,#ff2700 502.5px,#ff3200 508.5px,#ff4200 511.5px,#ff7400 517.5px,#ff8100 520.5px,#ff8700 529.5px,#ff8500 643.5px,#ff6d00 763.5px,#ff5e00 910.5px,#ff6000 1057.5px,#ff5a00 1120.5px,#ff5c00 1486.5px)"></div>
<div style="top:231px;height:3px;background:linear-gradient(90deg,#a9ff4d 1.5px,#adff4a 37.5px,#e0ff17 130.5px,#f1fc05 160.5px,#fdee00 181.5px,#ffaa00 280.5px,#ff9d00 307.5px,#ff9400 310.5px,#ff7100 316.5px,#ff6900 319.5px,#ff6500 439.5px,#ff5700 445.5px,#ff3400 454.5px,#ff2700 463.5px,#ff2700 502.5px,#ff3300 508.5px,#ff4500 511.5px,#ff7600 517.5px,#ff8200 520.5px,#ff8800 529.5px,#ff8500 646.5px,#ff6e00 763.5px,#ff5e00 916.5px,#ff6200 1057.5px,#ff5b00 1123.5px,#ff5d00 1486.5px)"></div>
<div style="top:234px;height:3px;background:linear-gradient(90deg,#a7ff50 1.5px,#abff4c 37.5px,#d8ff1f 121.5px,#f1fd06 163.5px,#feed00 187.5px,#ffac00 280.5px,#ff9d00 307.5px,#ff9200 310.5px,#ff6e00 316.5px,#ff6800 325.5px,#ff6600 439.5px,#ff5e00 445.5px,#ff2c00 460.5px,#ff2600 472.5px,#ff2700 502.5px,#ff3400 508.5px,#ff4600 511.5px,#ff7700 517.5px,#ff8300 520.5px,#ff8800 535.5px,#ff8500 649.5px,#ff6f00 766.5px,#ff5f00 940.5px,#ff6400 1057.5px,#ff5d00 1123.5px,#ff5e00 1486.5px)"></div>
<div style="top:237px;height:3px;background:linear-gradient(90deg,#a4ff52 1.5px,#a8ff4f 37.5px,#d5ff22 121.5px,#f1fc05 169.5px,#fdee00 190.5px,#ffaf00 277.5px,#ffa200 304.5px,#ff9d00 307.5px,#ff6c00 316.5px,#ff6800 328.5px,#ff6600 442.5px,#ff5d00 448.5px,#ff3100 460.5px,#ff2700 466.5px,#ff2700 502.5px,#ff3300 508.5px,#ff4500 511.5px,#ff7700 517.5px,#ff8300 520.5px,#ff8900 529.5px,#ff8600 646.5px,#ff6f00 772.5px,#ff6100 907.5px,#ff6400 997.5px,#ff6600 1054.5px,#ff5f00 1126.5px,#ff5e00 1486.5px)"></div>
<div style="top:240px;height:3px;background:linear-gradient(90deg,#a2ff55 1.5px,#a5ff51 37.5px,#caff2c 109.5px,#c3ff34 112.5px,#b4ff43 115.5px,#cdff2a 121.5px,#dcff1b 136.5px,#f1fd06 172.5px,#feed00 196.5px,#ffaf00 280.5px,#ffa300 304.5px,#ff9c00 307.5px,#ff7600 313.5px,#ff6b00 316.5px,#ff6600 445.5px,#ff5100 454.5px,#ff2f00 463.5px,#ff2600 472.5px,#ff2700 502.5px,#ff3100 508.5px,#ff4200 511.5px,#ff7400 517.5px,#ff8200 520.5px,#ff8900 526.5px,#ff8600 649.5px,#ff7000 772.5px,#ff6200 907.5px,#ff6400 979.5px,#ff6800 1054.5px,#ff6000 1129.5px,#ff5f00 1486.5px)"></div>
<div style="top:243px;height:3px;background:linear-gradient(90deg,#9fff57 1.5px,#a3ff54 37.5px,#c7ff30 109.5px,#abff4b 112.5px,#54ffa3 115.5px,#4bffac 118.5px,#84ff72 121.5px,#aeff49 124.5px,#c7ff30 127.5px,#d7ff20 133.5px,#f1fc05 178.5px,#fdee00 199.5px,#ffdf00 217.5px,#ffd700 226.5px,#ffb100 280.5px,#ffa300 304.5px,#ff9a00 307.5px,#ff7200 313.5px,#ff6800 319.5px,#ff6500 448.5px,#ff5900 454.5px,#ff2d00 466.5px,#ff2600 478.5px,#ff2900 505.5px,#ff2f00 508.5px,#ff3e00 511.5px,#ff7000 517.5px,#ff8100 520.5px,#ff8a00 529.5px,#ff8700 646.5px,#ff7000 778.5px,#ff6200 913.5px,#ff6a00 1054.5px,#ff6100 1138.5px,#ff6000 1486.5px)"></div>
<div style="top:246px;height:3px;background:linear-gradient(90deg,#9dff5a 1.5px,#a0ff56 37.5px,#c5ff32 109.5px,#b4ff43 112.5px,#47ffb0 115.5px,#00b2ff 118.5px,#00beff 121.5px,#16ffe1 124.5px,#5cff9b 127.5px,#96ff60 130.5px,#b9ff3d 133.5px,#cdff2a 136.5px,#daff1d 142.5px,#f1fd06 181.5px,#feed00 205.5px,#ffe800 211.5px,#ffc400 220.5px,#ffbf00 223.5px,#ffd600 229.5px,#ffc600 253.5px,#ffb000 286.5px,#ffa300 304.5px,#ff9700 307.5px,#ff6f00 313.5px,#ff6800 319.5px,#ff6500 451.5px,#ff5700 457.5px,#ff3300 466.5px,#ff2600 475.5px,#ff2800 505.5px,#ff3a00 511.5px,#ff6c00 517.5px,#ff7f00 520.5px,#ff8a00 526.5px,#ff8700 649.5px,#ff6f00 793.5px,#ff6400 907.5px,#ff6400 952.5px,#ff6c00 1054.5px,#ff6200 1150.5px,#ff6100 1486.5px)"></div>
<div style="top:249px;height:3px;background:linear-gradient(90deg,#9aff5c 1.5px,#9eff59 37.5px,#c1ff36 106.5px,#c0ff37 112.5px,#8aff6d 115.5px,#05ecf2 118.5px,#0088ff 121.5px,#0078ff 124.5px,#0098ff 127.5px,#00d1ff 130.5px,#2affcd 133.5px,#a3ff54 139.5px,#c5ff32 142.5px,#d5ff22 145.5px,#e1ff16 157.5px,#f1fc05 187.5px,#fdee00 208.5px,#ffe800 211.5px,#ffb400 217.5px,#ffad00 223.5px,#ffb700 226.5px,#ffcd00 229.5px,#ffd700 232.5px,#ffb100 286.5px,#ffa800 301.5px,#ffa200 304.5px,#ff6d00 313.5px,#ff6800 319.5px,#ff6600 451.5px,#ff5e00 457.5px,#ff3100 469.5px,#ff2700 475.5px,#ff2800 505.5px,#ff2c00 508.5px,#ff3700 511.5px,#ff4b00 514.5px,#ff6700 517.5px,#ff7c00 520.5px,#ff8a00 526.5px,#ff8800 643.5px,#ff6f00 799.5px,#ff6500 907.5px,#ff6500 949.5px,#ff6e00 1054.5px,#ff6300 1153.5px,#ff6200 1486.5px)"></div>
<div style="top:252px;height:3px;background:linear-gradient(90deg,#98ff5f 1.5px,#9bff5b 37.5px,#bcff3b 103.5px,#c1ff35 112.5px,#b8ff3f 115.5px,#83ff74 118.5px,#1bffdb 121.5px,#0098ff 124.5px,#006bff 127.5px,#006aff 130.5px,#007aff 133.5px,#00a0ff 136.5px,#01e6f6 139.5px,#48ffaf 142.5px,#93ff64 145.5px,#c3ff34 148.5px,#d6ff20 151.5px,#e2ff15 163.5px,#f2fb04 193.5px,#fbf100 208.5px,#ffe800 211.5px,#ffc500 214.5px,#ffad00 217.5px,#ffad00 226.5px,#ffba00 229.5px,#ffcf00 232.5px,#ffd800 235.5px,#ffb400 283.5px,#ffa900 301.5px,#ff9f00 304.5px,#ff7600 310.5px,#ff6b00 313.5px,#ff6600 454.5px,#ff5c00 460.5px,#ff2f00 472.5px,#ff2600 481.5px,#ff2700 505.5px,#ff3300 511.5px,#ff4600 514.5px,#ff7900 520.5px,#ff8500 523.5px,#ff8b00 532.5px,#ff8800 646.5px,#ff6f00 805.5px,#ff6700 901.5px,#ff6500 940.5px,#ff7000 1051.5px,#ff6300 1174.5px,#ff6300 1486.5px)"></div>
<div style="top:255px;height:3px;background:linear-gradient(90deg,#95ff61 1.5px,#99ff5e 37.5px,#b9ff3e 103.5px,#c0ff36 115.5px,#bcff3b 118.5px,#99ff5e 121.5px,#3effb8 124.5px,#00acff 127.5px,#006fff 130.5px,#0063ff 133.5px,#0064ff 136.5px,#006eff 139.5px,#008bff 142.5px,#00d2ff 145.5px,#45ffb2 148.5px,#94ff63 151.5px,#c4ff33 154.5px,#d7ff20 157.5px,#e3ff14 169.5px,#f1fc05 196.5px,#f9f400 208.5px,#ffe700 211.5px,#ffc100 214.5px,#ffac00 217.5px,#ffaa00 226.5px,#ffae00 229.5px,#ffd600 235.5px,#ffd700 241.5px,#ffb800 280.5px,#ffad00 298.5px,#ffa700 301.5px,#ff9900 304.5px,#ff7000 310.5px,#ff6800 316.5px,#ff6500 457.5px,#ff5900 463.5px,#ff2d00 475.5px,#ff2600 487.5px,#ff2900 508.5px,#ff3100 511.5px,#ff4100 514.5px,#ff7500 520.5px,#ff8400 523.5px,#ff8b00 529.5px,#ff8900 643.5px,#ff6f00 814.5px,#ff6800 901.5px,#ff6600 940.5px,#ff7200 1051.5px,#ff6400 1183.5px,#ff6400 1486.5px)"></div>
<div style="top:258px;height:3px;background:linear-gradient(90deg,#93ff64 1.5px,#96ff61 37.5px,#b6ff41 103.5px,#bfff38 121.5px,#a7ff50 124.5px,#58ff9f 127.5px,#00cfff 130.5px,#007cff 133.5px,#0065ff 136.5px,#0063ff 142.5px,#006bff 145.5px,#008bff 148.5px,#00d2ff 151.5px,#45ffb1 154.5px,#97ff60 157.5px,#caff2d 160.5px,#daff1d 163.5px,#f1fd06 199.5px,#f6f600 208.5px,#ffe300 211.5px,#ffba00 214.5px,#ffab00 217.5px,#ffab00 229.5px,#ffb600 232.5px,#ffd100 235.5px,#ffdb00 238.5px,#ffb800 283.5px,#ffad00 298.5px,#ffa400 301.5px,#ff7900 307.5px,#ff6c00 310.5px,#ff6800 322.5px,#ff6500 460.5px,#ff5700 466.5px,#ff3300 475.5px,#ff2600 484.5px,#ff2800 508.5px,#ff2f00 511.5px,#ff3d00 514.5px,#ff7000 520.5px,#ff8200 523.5px,#ff8c00 529.5px,#ff8900 646.5px,#ff7000 814.5px,#ff6a00 892.5px,#ff6700 937.5px,#ff7400 1051.5px,#ff6500 1186.5px,#ff6500 1486.5px)"></div>
<div style="top:261px;height:3px;background:linear-gradient(90deg,#91ff66 1.5px,#94ff63 37.5px,#b1ff45 100.5px,#c0ff37 124.5px,#b3ff44 127.5px,#78ff7f 130.5px,#15ffe2 133.5px,#0098ff 136.5px,#006cff 139.5px,#0062ff 142.5px,#0063ff 148.5px,#006bff 151.5px,#008bff 154.5px,#00defc 157.5px,#5eff99 160.5px,#a9ff4e 163.5px,#ceff29 166.5px,#dbff1c 169.5px,#f2fc05 205.5px,#f5f702 208.5px,#ffdd00 211.5px,#ffb500 214.5px,#ffaa00 217.5px,#ffaa00 229.5px,#ffb200 232.5px,#ffce00 235.5px,#ffdd00 238.5px,#ffb900 283.5px,#ffb200 295.5px,#ffac00 298.5px,#ff9c00 301.5px,#ff7100 307.5px,#ff6800 313.5px,#ff6600 460.5px,#ff5e00 466.5px,#ff3100 478.5px,#ff2700 484.5px,#ff2800 508.5px,#ff2d00 511.5px,#ff3900 514.5px,#ff6b00 520.5px,#ff7f00 523.5px,#ff8900 526.5px,#ff8d00 550.5px,#ff8a00 643.5px,#ff7000 823.5px,#ff6b00 892.5px,#ff6800 937.5px,#ff7600 1051.5px,#ff6600 1183.5px,#ff6600 1486.5px)"></div>
<div style="top:264px;height:3px;background:linear-gradient(90deg,#8eff69 1.5px,#91ff66 37.5px,#afff48 100.5px,#c0ff36 127.5px,#bbff3c 130.5px,#99ff5e 133.5px,#48ffaf 136.5px,#00c6ff 139.5px,#007dff 142.5px,#0066ff 145.5px,#0061ff 151.5px,#0063ff 154.5px,#0070ff 157.5px,#009dff 160.5px,#0bf4eb 163.5px,#63ff94 166.5px,#a9ff4d 169.5px,#cfff28 172.5px,#dcff1b 175.5px,#effe08 205.5px,#f6f601 208.5px,#ffd300 211.5px,#ffb000 214.5px,#ffaa00 220.5px,#ffab00 229.5px,#ffb700 232.5px,#ffd400 235.5px,#ffdf00 238.5px,#ffb200 295.5px,#ffa800 298.5px,#ff7a00 304.5px,#ff6c00 307.5px,#ff6800 319.5px,#ff6600 463.5px,#ff5c00 469.5px,#ff2f00 481.5px,#ff2600 490.5px,#ff2700 508.5px,#ff3500 514.5px,#ff4a00 517.5px,#ff7c00 523.5px,#ff8800 526.5px,#ff8d00 541.5px,#ff8a00 646.5px,#ff7100 820.5px,#ff6c00 892.5px,#ff6900 937.5px,#ff7800 1051.5px,#ff6700 1180.5px,#ff6700 1486.5px)"></div>
<div style="top:267px;height:3px;background:linear-gradient(90deg,#8cff6b 1.5px,#8fff68 37.5px,#acff4b 100.5px,#c0ff37 133.5px,#b0ff47 136.5px,#78ff7f 139.5px,#1fffd7 142.5px,#00a5ff 145.5px,#0070ff 148.5px,#0063ff 151.5px,#0064ff 160.5px,#0072ff 163.5px,#009eff 166.5px,#0cf4eb 169.5px,#63ff93 172.5px,#aaff4d 175.5px,#ceff29 178.5px,#dbff1c 181.5px,#e5ff12 190.5px,#eeff09 205.5px,#feed00 208.5px,#ffc100 211.5px,#ffac00 214.5px,#ffaa00 226.5px,#ffaf00 229.5px,#ffdf00 235.5px,#ffe000 241.5px,#ffc100 277.5px,#ffb700 292.5px,#ffb000 295.5px,#ffa000 298.5px,#ff7200 304.5px,#ff6800 310.5px,#ff6500 466.5px,#ff5900 472.5px,#ff2d00 484.5px,#ff2600 493.5px,#ff2a00 511.5px,#ff3200 514.5px,#ff4400 517.5px,#ff7900 523.5px,#ff8700 526.5px,#ff8e00 535.5px,#ff8b00 646.5px,#ff7200 817.5px,#ff6d00 895.5px,#ff6a00 934.5px,#ff7b00 1048.5px,#ff6800 1183.5px,#ff6800 1486.5px)"></div>
<div style="top:270px;height:3px;background:linear-gradient(90deg,#8aff6d 1.5px,#8dff6a 37.5px,#aaff4d 100.5px,#c3ff34 136.5px,#beff39 139.5px,#a3ff53 142.5px,#5aff9d 145.5px,#00d9ff 148.5px,#0084ff 151.5px,#0067ff 154.5px,#0061ff 163.5px,#0064ff 166.5px,#0072ff 169.5px,#009eff 172.5px,#0bf3ec 175.5px,#58ff9f 178.5px,#99ff5e 181.5px,#c4ff33 184.5px,#d9ff1e 187.5px,#e5ff12 193.5px,#eaff0c 202.5px,#f1fc06 205.5px,#ffd900 208.5px,#ffb300 211.5px,#ffaa00 214.5px,#ffac00 226.5px,#ffbb00 229.5px,#ffd900 232.5px,#ffe600 235.5px,#ffbf00 283.5px,#ffb800 292.5px,#ffad00 295.5px,#ff7b00 301.5px,#ff6d00 304.5px,#ff6800 310.5px,#ff6700 466.5px,#ff5f00 472.5px,#ff3200 484.5px,#ff2600 493.5px,#ff2900 511.5px,#ff3000 514.5px,#ff3f00 517.5px,#ff7500 523.5px,#ff8500 526.5px,#ff8e00 532.5px,#ff8c00 646.5px,#ff7300 826.5px,#ff6e00 901.5px,#ff6e00 943.5px,#ff7f00 1051.5px,#ff6b00 1186.5px,#ff6a00 1486.5px)"></div>
<div style="top:273px;height:3px;background:linear-gradient(90deg,#87ff6f 1.5px,#8bff6c 37.5px,#a6ff51 97.5px,#c4ff33 142.5px,#b8ff3e 145.5px,#87ff70 148.5px,#2affcc 151.5px,#00b1ff 154.5px,#0075ff 157.5px,#0063ff 160.5px,#0064ff 172.5px,#0071ff 175.5px,#0091ff 178.5px,#00d0ff 181.5px,#33ffc4 184.5px,#7dff79 187.5px,#b4ff43 190.5px,#d6ff21 193.5px,#e3ff14 196.5px,#eaff0d 202.5px,#faf100 205.5px,#ffc300 208.5px,#ffac00 211.5px,#ffaa00 223.5px,#ffb100 226.5px,#ffe700 232.5px,#ffe600 238.5px,#ffc200 283.5px,#ffb700 292.5px,#ffa500 295.5px,#ff7300 301.5px,#ff6a00 304.5px,#ff6600 469.5px,#ff5d00 475.5px,#ff2f00 487.5px,#ff2600 496.5px,#ff2800 511.5px,#ff2e00 514.5px,#ff3b00 517.5px,#ff7000 523.5px,#ff8300 526.5px,#ff8f00 532.5px,#ff8e00 643.5px,#ff7500 826.5px,#ff7000 904.5px,#ff7000 940.5px,#ff8400 1051.5px,#ff6e00 1189.5px,#ff6c00 1486.5px)"></div>
<div style="top:276px;height:3px;background:linear-gradient(90deg,#85ff71 1.5px,#88ff6e 37.5px,#a6ff51 100.5px,#c7ff30 145.5px,#c3ff34 148.5px,#abff4c 151.5px,#6bff8c 154.5px,#07eef0 157.5px,#008fff 160.5px,#006bff 163.5px,#0061ff 169.5px,#0063ff 178.5px,#0069ff 181.5px,#007eff 184.5px,#00adff 187.5px,#12fbe5 190.5px,#66ff91 193.5px,#a7ff50 196.5px,#cfff28 199.5px,#e3ff14 202.5px,#feed00 205.5px,#ffbc00 208.5px,#ffab00 211.5px,#ffac00 223.5px,#ffbf00 226.5px,#ffe100 229.5px,#ffec00 232.5px,#ffbe00 289.5px,#ffb200 292.5px,#ff7d00 298.5px,#ff6d00 301.5px,#ff6800 316.5px,#ff6600 472.5px,#ff5a00 478.5px,#ff3400 487.5px,#ff2800 493.5px,#ff2800 511.5px,#ff2c00 514.5px,#ff3700 517.5px,#ff4d00 520.5px,#ff8100 526.5px,#ff8c00 529.5px,#ff9100 544.5px,#ff8f00 646.5px,#ff7700 823.5px,#ff7200 904.5px,#ff7200 937.5px,#ff8900 1048.5px,#ff6f00 1207.5px,#ff6e00 1486.5px)"></div>
<div style="top:279px;height:3px;background:linear-gradient(90deg,#83ff73 1.5px,#86ff70 37.5px,#a4ff53 100.5px,#c8ff2e 151.5px,#c0ff37 154.5px,#96ff61 157.5px,#43ffb4 160.5px,#00d0ff 163.5px,#008aff 166.5px,#006bff 169.5px,#0061ff 175.5px,#0065ff 187.5px,#0073ff 190.5px,#009bff 193.5px,#00defd 196.5px,#45ffb2 199.5px,#d0ff27 205.5px,#ffd800 208.5px,#ffb000 211.5px,#ffaa00 214.5px,#ffac00 220.5px,#ffb300 223.5px,#ffec00 229.5px,#ffe900 238.5px,#ffc400 286.5px,#ffbc00 289.5px,#ffa800 292.5px,#ff7300 298.5px,#ff6a00 301.5px,#ff6b00 340.5px,#ff8200 343.5px,#ffab00 346.5px,#ffaa00 349.5px,#ff8600 355.5px,#ff8000 358.5px,#ff6c00 364.5px,#ff6800 388.5px,#ff6500 475.5px,#ff5600 481.5px,#ff3100 490.5px,#ff2700 496.5px,#ff2700 511.5px,#ff3400 517.5px,#ff4700 520.5px,#ff7e00 526.5px,#ff8b00 529.5px,#ff9200 538.5px,#ff9000 649.5px,#ff7900 823.5px,#ff7400 907.5px,#ff7500 937.5px,#ff8e00 1048.5px,#ff7e00 1135.5px,#ff7000 1228.5px,#ff7000 1486.5px)"></div>
<div style="top:282px;height:3px;background:linear-gradient(90deg,#81ff76 1.5px,#84ff72 37.5px,#a0ff57 97.5px,#caff2d 154.5px,#c8ff2f 157.5px,#b8ff3e 160.5px,#8dff6a 163.5px,#42ffb5 166.5px,#00d1ff 169.5px,#008aff 172.5px,#006bff 175.5px,#0062ff 178.5px,#0063ff 193.5px,#006cff 196.5px,#0084ff 199.5px,#00baff 202.5px,#26ffd1 205.5px,#9dff59 208.5px,#ffd900 211.5px,#ffb700 214.5px,#ffc200 220.5px,#ffd000 223.5px,#ffe700 226.5px,#faf200 229.5px,#ffe100 250.5px,#ffc400 286.5px,#ffb500 289.5px,#ff7c00 295.5px,#ff6d00 298.5px,#ff6800 313.5px,#ff6b00 334.5px,#ff7200 337.5px,#ffa100 340.5px,#c6ff31 343.5px,#3dffba 346.5px,#2cffcb 349.5px,#56ffa1 352.5px,#8aff6d 355.5px,#afff47 358.5px,#ffce00 361.5px,#ff7e00 364.5px,#ff6e00 367.5px,#ff6800 376.5px,#ff6600 475.5px,#ff5c00 481.5px,#ff2e00 493.5px,#ff2600 505.5px,#ff2a00 514.5px,#ff3100 517.5px,#ff4300 520.5px,#ff7b00 526.5px,#ff8b00 529.5px,#ff9200 535.5px,#ff9200 646.5px,#ff7b00 823.5px,#ff7500 916.5px,#ff9200 1048.5px,#ff8500 1126.5px,#ff7200 1222.5px,#ff7200 1486.5px)"></div>
<div style="top:285px;height:3px;background:linear-gradient(90deg,#7fff78 1.5px,#82ff75 37.5px,#9eff59 97.5px,#ccff2b 160.5px,#caff2d 163.5px,#bbff3c 166.5px,#8fff68 169.5px,#42ffb5 172.5px,#00c8ff 175.5px,#007eff 178.5px,#0067ff 181.5px,#0061ff 190.5px,#0066ff 202.5px,#0077ff 205.5px,#00bdff 208.5px,#62ff94 211.5px,#b7ff40 214.5px,#dbff1b 217.5px,#f1fc06 220.5px,#f7f500 223.5px,#ffe300 250.5px,#ffca00 283.5px,#ffc000 286.5px,#ffa800 289.5px,#ff8800 292.5px,#ff7300 295.5px,#ff6b00 298.5px,#ff7100 328.5px,#ff7400 331.5px,#ff8100 334.5px,#ffc200 337.5px,#84ff72 340.5px,#00a8ff 343.5px,#003fff 346.5px,#0031ff 349.5px,#0054ff 355.5px,#0085ff 358.5px,#71ff86 361.5px,#ffb400 364.5px,#ff7c00 367.5px,#ff6f00 370.5px,#ff6900 376.5px,#ff6500 478.5px,#ff5900 484.5px,#ff3300 493.5px,#ff2800 499.5px,#ff2900 514.5px,#ff3000 517.5px,#ff3e00 520.5px,#ff7600 526.5px,#ff8900 529.5px,#ff9300 535.5px,#ff9300 649.5px,#ff7d00 826.5px,#ff7900 934.5px,#ff9700 1048.5px,#ff8d00 1114.5px,#ff7400 1219.5px,#ff7400 1486.5px)"></div>
<div style="top:288px;height:3px;background:linear-gradient(90deg,#7dff7a 1.5px,#80ff77 37.5px,#9cff5b 97.5px,#cdff29 163.5px,#ccff2a 169.5px,#bbff3b 172.5px,#82ff75 175.5px,#28ffcf 178.5px,#00b6ff 181.5px,#007dff 184.5px,#0067ff 187.5px,#0061ff 196.5px,#0061ff 205.5px,#0067ff 208.5px,#0083ff 211.5px,#00b3ff 214.5px,#19ffde 217.5px,#70ff87 220.5px,#b2ff45 223.5px,#ddff1a 226.5px,#f2fb05 229.5px,#fbf100 235.5px,#ffde00 259.5px,#ffd000 280.5px,#ffca00 283.5px,#ffb900 286.5px,#ff8000 292.5px,#ff7400 295.5px,#ff8100 322.5px,#ff9000 331.5px,#ffd100 334.5px,#5aff9d 337.5px,#0080ff 340.5px,#0028ff 343.5px,#001bff 346.5px,#001bff 355.5px,#0029ff 358.5px,#00b4ff 361.5px,#c3ff34 364.5px,#ff9e00 367.5px,#ff7d00 370.5px,#ff7100 373.5px,#ff9f00 376.5px,#f1fc06 379.5px,#ebff0c 385.5px,#ffda00 388.5px,#ff7d00 391.5px,#ff6900 394.5px,#ff6700 478.5px,#ff5e00 484.5px,#ff3000 496.5px,#ff2600 505.5px,#ff2800 514.5px,#ff2e00 517.5px,#ff3b00 520.5px,#ff5300 523.5px,#ff7200 526.5px,#ff8800 529.5px,#ff9400 535.5px,#ff9600 637.5px,#ff7f00 826.5px,#ff7b00 931.5px,#ff9c00 1048.5px,#ff9200 1114.5px,#ff7500 1222.5px,#ff7500 1486.5px)"></div>
<div style="top:291px;height:3px;background:linear-gradient(90deg,#7bff7c 1.5px,#7eff79 37.5px,#9aff5d 97.5px,#d0ff27 169.5px,#ccff2b 175.5px,#b4ff43 178.5px,#7bff7b 181.5px,#28ffce 184.5px,#00b9ff 187.5px,#0084ff 190.5px,#006cff 193.5px,#0063ff 196.5px,#0062ff 211.5px,#0065ff 214.5px,#0073ff 217.5px,#009dff 220.5px,#00e3f9 223.5px,#55ffa2 226.5px,#abff4c 229.5px,#dfff18 232.5px,#f4f802 235.5px,#fdee00 241.5px,#ffdc00 268.5px,#f9f300 271.5px,#e9ff0e 274.5px,#eeff08 277.5px,#fdee00 280.5px,#ffc200 286.5px,#ffa500 289.5px,#ff9400 292.5px,#ff9200 295.5px,#ffaa00 301.5px,#ffcf00 307.5px,#ffc700 310.5px,#ffa500 313.5px,#ff9e00 316.5px,#ffa500 328.5px,#ffae00 331.5px,#d2ff25 334.5px,#00acff 337.5px,#0026ff 340.5px,#001aff 343.5px,#001bff 358.5px,#0042ff 361.5px,#23ffd4 364.5px,#fdee00 367.5px,#ff9600 370.5px,#ff8100 373.5px,#ffcb00 376.5px,#35ffc1 379.5px,#0ef7e9 382.5px,#0ef7e9 385.5px,#29ffcd 388.5px,#aaff4c 391.5px,#ffa600 394.5px,#ff6d00 397.5px,#ff6800 403.5px,#ff6600 481.5px,#ff5b00 487.5px,#ff2d00 499.5px,#ff2700 511.5px,#ff2d00 517.5px,#ff3800 520.5px,#ff4e00 523.5px,#ff8500 529.5px,#ff9100 532.5px,#ff9500 544.5px,#ff9700 640.5px,#ff8100 823.5px,#ff7d00 928.5px,#ffa100 1048.5px,#ff9700 1114.5px,#ff7700 1222.5px,#ff7700 1486.5px)"></div>
<div style="top:294px;height:3px;background:linear-gradient(90deg,#79ff7e 1.5px,#7dff7a 40.5px,#98ff5f 97.5px,#cbff2c 163.5px,#d3ff24 178.5px,#ceff29 181.5px,#b6ff41 184.5px,#82ff75 187.5px,#3fffb7 190.5px,#00dbff 193.5px,#009eff 196.5px,#007bff 199.5px,#0069ff 202.5px,#0061ff 208.5px,#0063ff 220.5px,#006dff 223.5px,#008eff 226.5px,#00ddfe 229.5px,#56ffa1 232.5px,#b0ff47 235.5px,#e8ff0f 238.5px,#faf200 241.5px,#ffe500 256.5px,#ffde00 265.5px,#ffe500 268.5px,#b3ff44 271.5px,#3dffba 274.5px,#2cffcb 277.5px,#7cff7b 283.5px,#aaff4d 286.5px,#cdff2a 289.5px,#d4ff22 292.5px,#cdff2a 295.5px,#a4ff52 298.5px,#42ffb4 304.5px,#2bffcc 307.5px,#5aff9d 310.5px,#e1ff16 313.5px,#ffc300 316.5px,#ffb800 319.5px,#ffb700 328.5px,#ffc200 331.5px,#a5ff52 334.5px,#007dff 337.5px,#001dff 340.5px,#001aff 358.5px,#001fff 361.5px,#0075ff 364.5px,#83ff74 367.5px,#ffc200 370.5px,#ff9600 373.5px,#ffae00 376.5px,#51ffa5 379.5px,#01e7f6 382.5px,#00e6f6 388.5px,#0df5ea 391.5px,#60ff97 394.5px,#ffd600 397.5px,#ff7600 400.5px,#ff6800 403.5px,#ff6500 484.5px,#ff5700 490.5px,#ff3400 499.5px,#ff2a00 505.5px,#ff2900 514.5px,#ff3600 520.5px,#ff4900 523.5px,#ff8200 529.5px,#ff9100 532.5px,#ff9600 547.5px,#ff9900 637.5px,#ff8300 823.5px,#ff8000 931.5px,#ffa600 1048.5px,#ff9d00 1111.5px,#ff7900 1225.5px,#ff7900 1486.5px)"></div>
<div style="top:297px;height:3px;background:linear-gradient(90deg,#77ff80 1.5px,#7aff7d 37.5px,#96ff61 97.5px,#caff2d 163.5px,#d6ff21 184.5px,#d2ff25 187.5px,#c4ff33 190.5px,#a0ff56 193.5px,#6dff8a 196.5px,#30ffc7 199.5px,#00d1ff 202.5px,#0092ff 205.5px,#0074ff 208.5px,#0066ff 211.5px,#0061ff 223.5px,#0063ff 226.5px,#006cff 229.5px,#0090ff 232.5px,#05ebf2 235.5px,#79ff7d 238.5px,#d6ff21 241.5px,#f7f500 244.5px,#ffeb00 250.5px,#ffe000 265.5px,#ffe500 268.5px,#afff48 271.5px,#00c2ff 274.5px,#0066ff 277.5px,#0071ff 280.5px,#0083ff 283.5px,#00a3ff 286.5px,#00baff 289.5px,#00bdff 292.5px,#00b7ff 295.5px,#007aff 301.5px,#0066ff 304.5px,#005fff 307.5px,#0085ff 310.5px,#36ffc1 313.5px,#d7ff1f 316.5px,#ffcc00 319.5px,#ffc000 322.5px,#ffbd00 328.5px,#ffce00 331.5px,#79ff7e 334.5px,#005aff 337.5px,#001bff 340.5px,#001aff 361.5px,#002fff 364.5px,#00ccff 367.5px,#c2ff34 370.5px,#ffbe00 373.5px,#ffa800 376.5px,#89ff6e 379.5px,#05ebf2 382.5px,#00e6f7 388.5px,#04ebf3 394.5px,#36ffc1 397.5px,#d9ff1d 400.5px,#ff8800 403.5px,#ff6a00 406.5px,#ff6700 484.5px,#ff5e00 490.5px,#ff3600 502.5px,#ff2c00 514.5px,#ff3600 520.5px,#ff4600 523.5px,#ff7e00 529.5px,#ff9000 532.5px,#ff9700 538.5px,#ff9a00 640.5px,#ff8500 823.5px,#ff8200 928.5px,#ffaa00 1048.5px,#ffa300 1108.5px,#ff7b00 1228.5px,#ff7b00 1486.5px)"></div>
<div style="top:300px;height:3px;background:linear-gradient(90deg,#75ff82 1.5px,#78ff7f 37.5px,#94ff63 97.5px,#c7ff30 160.5px,#d9ff1e 193.5px,#d3ff24 196.5px,#c3ff34 199.5px,#9bff5c 202.5px,#1cffdb 208.5px,#00baff 211.5px,#0086ff 214.5px,#006eff 217.5px,#0064ff 220.5px,#0063ff 232.5px,#0072ff 235.5px,#00b6ff 238.5px,#4fffa8 241.5px,#c0ff37 244.5px,#f4f903 247.5px,#feee00 250.5px,#ffe300 268.5px,#d1ff26 271.5px,#07efef 274.5px,#005aff 277.5px,#004dff 280.5px,#004fff 298.5px,#004dff 307.5px,#0051ff 310.5px,#0081ff 313.5px,#35ffc1 316.5px,#d9ff1e 319.5px,#ffcb00 322.5px,#ffc200 325.5px,#ffc000 328.5px,#ffd200 331.5px,#6fff88 334.5px,#0052ff 337.5px,#001bff 340.5px,#001cff 364.5px,#0046ff 367.5px,#00e3f9 370.5px,#9eff59 373.5px,#ffe400 376.5px,#e5ff12 379.5px,#66ff90 382.5px,#1effd8 385.5px,#06edf0 388.5px,#00e6f6 391.5px,#01e7f6 397.5px,#1cffdb 400.5px,#93ff64 403.5px,#ffae00 406.5px,#ff6a00 409.5px,#ff6600 487.5px,#ff5300 496.5px,#ff3900 508.5px,#ff3400 517.5px,#ff3900 520.5px,#ff4600 523.5px,#ff7a00 529.5px,#ff8f00 532.5px,#ff9800 538.5px,#ff9b00 643.5px,#ff8700 826.5px,#ff8400 928.5px,#ffaf00 1045.5px,#ffa900 1108.5px,#ff7d00 1222.5px,#ff7d00 1486.5px)"></div>
<div style="top:303px;height:3px;background:linear-gradient(90deg,#73ff84 1.5px,#76ff81 37.5px,#92ff65 97.5px,#c8ff2f 163.5px,#deff19 199.5px,#dcff1b 202.5px,#d3ff23 205.5px,#bdff3a 208.5px,#8aff6c 211.5px,#49ffad 214.5px,#08efef 217.5px,#00a5ff 220.5px,#007cff 223.5px,#006aff 226.5px,#0061ff 232.5px,#0061ff 235.5px,#0069ff 238.5px,#0096ff 241.5px,#2cffcb 244.5px,#abff4c 247.5px,#ecff0b 250.5px,#fdef00 253.5px,#ffe400 268.5px,#e9ff0e 271.5px,#3affbd 274.5px,#0069ff 277.5px,#004dff 280.5px,#004dff 310.5px,#0051ff 313.5px,#0087ff 316.5px,#60ff97 319.5px,#ffe600 322.5px,#ffc500 325.5px,#ffc300 328.5px,#ffdc00 331.5px,#5aff9d 334.5px,#004aff 337.5px,#001aff 340.5px,#001dff 367.5px,#0037ff 370.5px,#0091ff 373.5px,#3cffba 376.5px,#c9ff2e 379.5px,#ffdf00 382.5px,#eeff09 385.5px,#9aff5c 388.5px,#3cffba 391.5px,#10f9e7 394.5px,#02e8f5 397.5px,#0df6ea 400.5px,#64ff93 403.5px,#ffc900 406.5px,#ff6c00 409.5px,#ff6800 421.5px,#ff6500 490.5px,#ff4100 514.5px,#ff4200 520.5px,#ff4b00 523.5px,#ff5d00 526.5px,#ff8e00 532.5px,#ff9700 535.5px,#ff9d00 637.5px,#ff9200 742.5px,#ff8800 832.5px,#ff8800 931.5px,#ffb400 1048.5px,#ffae00 1108.5px,#ff7f00 1222.5px,#ff7f00 1486.5px)"></div>
<div style="top:306px;height:3px;background:linear-gradient(90deg,#71ff86 1.5px,#74ff83 37.5px,#90ff67 97.5px,#c9ff2e 166.5px,#e2ff15 208.5px,#deff18 211.5px,#d2ff25 214.5px,#b2ff44 217.5px,#77ff7f 220.5px,#36ffc1 223.5px,#00dbff 226.5px,#009dff 229.5px,#0076ff 232.5px,#0067ff 235.5px,#0065ff 241.5px,#0087ff 244.5px,#0af2ec 247.5px,#90ff66 250.5px,#e6ff10 253.5px,#fdee00 256.5px,#ffe600 268.5px,#e7ff10 271.5px,#3fffb8 274.5px,#006cff 277.5px,#004dff 280.5px,#004dff 313.5px,#0060ff 316.5px,#2bffcc 319.5px,#f6f601 322.5px,#ffc800 325.5px,#ffc700 328.5px,#faf200 331.5px,#25ffd2 334.5px,#0036ff 337.5px,#001aff 340.5px,#001aff 370.5px,#0022ff 373.5px,#004dff 376.5px,#00bdff 379.5px,#63ff93 382.5px,#eeff09 385.5px,#ffac00 388.5px,#ffbc00 391.5px,#cfff28 394.5px,#7aff7d 397.5px,#afff48 400.5px,#ffa600 403.5px,#ff6d00 406.5px,#ff6800 412.5px,#ff6600 493.5px,#ff4e00 517.5px,#ff5300 523.5px,#ff6000 526.5px,#ff8c00 532.5px,#ff9700 535.5px,#ff9f00 634.5px,#ff9400 739.5px,#ff8a00 832.5px,#ff8a00 931.5px,#ffb900 1048.5px,#ffb300 1108.5px,#ff8100 1222.5px,#ff8100 1486.5px)"></div>
<div style="top:309px;height:3px;background:linear-gradient(90deg,#6fff88 1.5px,#72ff85 37.5px,#8cff6b 94.5px,#c4ff33 160.5px,#e6ff11 214.5px,#dfff18 220.5px,#ceff29 223.5px,#abff4c 226.5px,#6eff89 229.5px,#23ffd4 232.5px,#00c6ff 235.5px,#008dff 238.5px,#0073ff 241.5px,#007eff 244.5px,#00bbff 247.5px,#52ffa5 250.5px,#ccff2b 253.5px,#f9f300 256.5px,#ffeb00 262.5px,#ffea00 265.5px,#fbf100 268.5px,#adff4a 271.5px,#00d1ff 274.5px,#0058ff 277.5px,#004dff 280.5px,#004dff 313.5px,#005eff 316.5px,#26ffd0 319.5px,#f3fa04 322.5px,#ffcb00 325.5px,#ffca00 328.5px,#f2fb05 331.5px,#11fae6 334.5px,#002eff 337.5px,#001aff 340.5px,#001cff 376.5px,#0029ff 379.5px,#005eff 382.5px,#0ef7e9 385.5px,#cfff28 388.5px,#ff9c00 391.5px,#ff8000 394.5px,#ff8700 397.5px,#ff6900 403.5px,#ff6500 499.5px,#ff5a00 520.5px,#ff6400 526.5px,#ff8a00 532.5px,#ff9700 535.5px,#ff9b00 547.5px,#ffa000 637.5px,#ff9700 721.5px,#ff8c00 832.5px,#ff8d00 931.5px,#ffb200 1018.5px,#ffbe00 1048.5px,#ffb800 1108.5px,#ff8300 1222.5px,#ff8300 1486.5px)"></div>
<div style="top:312px;height:3px;background:linear-gradient(90deg,#6cff8a 1.5px,#70ff87 37.5px,#8aff6d 94.5px,#c2ff34 160.5px,#e9ff0e 223.5px,#e8ff0f 226.5px,#dfff18 229.5px,#c7ff30 232.5px,#9cff5a 235.5px,#57ffa0 238.5px,#20ffd7 241.5px,#38ffbe 244.5px,#c3ff34 250.5px,#ecff0b 253.5px,#faf200 256.5px,#feed00 265.5px,#dcff1b 268.5px,#3effb9 271.5px,#0078ff 274.5px,#004fff 277.5px,#004dff 313.5px,#005eff 316.5px,#25ffd1 319.5px,#f1fd06 322.5px,#ffce00 325.5px,#ffcd00 328.5px,#eaff0d 331.5px,#07eef0 334.5px,#002cff 337.5px,#001aff 340.5px,#001aff 379.5px,#001eff 382.5px,#0046ff 385.5px,#1affdd 388.5px,#efff08 391.5px,#ff9500 394.5px,#ff7900 397.5px,#ff6d00 400.5px,#ff6800 415.5px,#ff6500 511.5px,#ff6300 523.5px,#ff6700 526.5px,#ff7200 529.5px,#ff9500 535.5px,#ff9c00 541.5px,#ffa100 637.5px,#ff9800 736.5px,#ff8e00 829.5px,#ff8f00 931.5px,#ffbb00 1027.5px,#ffc300 1048.5px,#ffbe00 1105.5px,#ff8500 1222.5px,#ff8500 1486.5px)"></div>
<div style="top:315px;height:3px;background:linear-gradient(90deg,#6aff8c 1.5px,#6eff89 37.5px,#88ff6f 94.5px,#c1ff36 160.5px,#ebff0c 229.5px,#e9ff0e 235.5px,#caff2d 241.5px,#d4ff23 244.5px,#e9ff0e 247.5px,#f7f500 253.5px,#fcf000 262.5px,#f9f300 265.5px,#bbff3c 268.5px,#11fbe5 271.5px,#0082ff 274.5px,#0062ff 277.5px,#0053ff 280.5px,#004dff 289.5px,#004dff 313.5px,#005eff 316.5px,#25ffd2 319.5px,#eeff08 322.5px,#ffd100 325.5px,#ffd200 328.5px,#cdff2a 331.5px,#00bbff 334.5px,#0025ff 337.5px,#001aff 340.5px,#001aff 382.5px,#001eff 385.5px,#005fff 388.5px,#54ffa2 391.5px,#ffd500 394.5px,#ff9000 397.5px,#ff7900 400.5px,#ff6d00 403.5px,#ff6800 418.5px,#ff6800 526.5px,#ff6f00 529.5px,#ff9100 535.5px,#ff9b00 538.5px,#ffa300 637.5px,#ff9a00 721.5px,#ff9000 835.5px,#ff9100 928.5px,#ffb900 1015.5px,#ffc700 1045.5px,#ffc400 1105.5px,#ff8700 1222.5px,#ff8700 1486.5px)"></div>
<div style="top:318px;height:3px;background:linear-gradient(90deg,#68ff8e 1.5px,#6bff8b 37.5px,#86ff71 94.5px,#c0ff37 160.5px,#ecff0b 232.5px,#f4f903 250.5px,#f9f300 265.5px,#e0ff17 268.5px,#5eff99 274.5px,#1effd9 277.5px,#00b9ff 280.5px,#0074ff 283.5px,#0053ff 286.5px,#004dff 292.5px,#004dff 313.5px,#005eff 316.5px,#24ffd3 319.5px,#ecff0b 322.5px,#ffd400 325.5px,#ffd600 328.5px,#b7ff40 331.5px,#0097ff 334.5px,#001fff 337.5px,#0019ff 346.5px,#001aff 385.5px,#0025ff 388.5px,#0096ff 391.5px,#99ff5e 394.5px,#ffbe00 397.5px,#ff8f00 400.5px,#ff7a00 403.5px,#ff6e00 406.5px,#ff6800 415.5px,#ff6800 526.5px,#ff6c00 529.5px,#ff9900 538.5px,#ff9e00 553.5px,#ffa500 634.5px,#ff9c00 718.5px,#ff9200 838.5px,#ff9400 931.5px,#ffba00 1009.5px,#ffcc00 1045.5px,#ffc900 1105.5px,#ff8800 1225.5px,#ff8800 1486.5px)"></div>
<div style="top:321px;height:3px;background:linear-gradient(90deg,#66ff91 1.5px,#69ff8d 37.5px,#84ff73 94.5px,#bfff38 160.5px,#e5ff12 220.5px,#f2fb04 250.5px,#f9f300 268.5px,#f4f802 271.5px,#ebff0c 274.5px,#d3ff24 277.5px,#9fff58 280.5px,#36ffc1 283.5px,#009cff 286.5px,#005aff 289.5px,#004eff 292.5px,#004dff 313.5px,#005eff 316.5px,#23ffd4 319.5px,#eaff0d 322.5px,#ffd600 325.5px,#ffda00 328.5px,#b0ff46 331.5px,#0090ff 334.5px,#001fff 337.5px,#0019ff 346.5px,#001aff 388.5px,#0034ff 391.5px,#00d6ff 394.5px,#d3ff23 397.5px,#ffac00 400.5px,#ff8f00 403.5px,#ff7a00 406.5px,#ff6e00 409.5px,#ff6800 418.5px,#ff6a00 529.5px,#ff7300 532.5px,#ff9600 538.5px,#ff9f00 544.5px,#ffa600 637.5px,#ff9e00 709.5px,#ff9600 790.5px,#ff9600 928.5px,#ffbc00 1006.5px,#ffd100 1045.5px,#ffce00 1105.5px,#ff8a00 1225.5px,#ff8a00 1486.5px)"></div>
<div style="top:324px;height:3px;background:linear-gradient(90deg,#64ff93 1.5px,#67ff8f 37.5px,#7fff78 91.5px,#beff39 160.5px,#e4ff13 220.5px,#f2fb05 253.5px,#fbf100 277.5px,#f5f702 280.5px,#d1ff26 283.5px,#67ff8f 286.5px,#00c5ff 289.5px,#0065ff 292.5px,#004fff 295.5px,#004dff 313.5px,#005eff 316.5px,#22ffd5 319.5px,#e8ff0f 322.5px,#ffd900 325.5px,#ffe100 328.5px,#92ff65 331.5px,#0078ff 334.5px,#001dff 337.5px,#0019ff 361.5px,#001dff 391.5px,#006dff 394.5px,#8cff6b 397.5px,#ffc600 400.5px,#ffa700 403.5px,#ff7a00 409.5px,#ff6e00 412.5px,#ff6800 421.5px,#ff6900 529.5px,#ff6f00 532.5px,#ff9200 538.5px,#ff9d00 541.5px,#ffa800 634.5px,#ff9f00 715.5px,#ff9900 784.5px,#ff9700 925.5px,#ffc000 1006.5px,#ffd600 1045.5px,#ffd300 1105.5px,#ff8c00 1225.5px,#ff8c00 1486.5px)"></div>
<div style="top:327px;height:3px;background:linear-gradient(90deg,#62ff95 1.5px,#65ff92 37.5px,#7dff7a 91.5px,#bcff3b 160.5px,#e4ff13 223.5px,#f2fb05 256.5px,#faf200 283.5px,#e4ff13 286.5px,#8eff69 289.5px,#00e6f6 292.5px,#0078ff 295.5px,#0055ff 298.5px,#004dff 304.5px,#004dff 313.5px,#0062ff 316.5px,#27ffd0 319.5px,#e7ff0f 322.5px,#ffdc00 325.5px,#ffea00 328.5px,#6aff8c 331.5px,#0057ff 334.5px,#001bff 337.5px,#001aff 388.5px,#001dff 391.5px,#007cff 394.5px,#9fff58 397.5px,#ffca00 400.5px,#ffa700 406.5px,#ff7a00 412.5px,#ff6e00 415.5px,#ff6800 424.5px,#ff6800 529.5px,#ff6c00 532.5px,#ff7800 535.5px,#ff9b00 541.5px,#ffa100 550.5px,#ffaa00 634.5px,#ffa200 706.5px,#ff9c00 781.5px,#ff9800 865.5px,#ff9b00 928.5px,#ffc500 1009.5px,#ffd900 1045.5px,#ffd700 1105.5px,#ff8e00 1225.5px,#ff8e00 1486.5px)"></div>
<div style="top:330px;height:3px;background:linear-gradient(90deg,#60ff97 1.5px,#63ff94 37.5px,#7eff79 94.5px,#b9ff3e 160.5px,#e2ff15 223.5px,#f2fb04 259.5px,#fcef00 286.5px,#eeff09 289.5px,#aeff49 292.5px,#3dffba 295.5px,#00beff 298.5px,#007cff 301.5px,#0059ff 304.5px,#004fff 307.5px,#0050ff 310.5px,#0062ff 313.5px,#00aaff 316.5px,#6aff8d 319.5px,#f4f903 322.5px,#ffdc00 325.5px,#ffe900 328.5px,#75ff82 331.5px,#0062ff 334.5px,#001cff 337.5px,#001aff 388.5px,#0020ff 391.5px,#009dff 394.5px,#c0ff37 397.5px,#ffc800 400.5px,#ffb800 406.5px,#ff9000 412.5px,#ff7a00 415.5px,#ff6d00 418.5px,#ff6800 433.5px,#ff6a00 532.5px,#ff7200 535.5px,#ff9800 541.5px,#ffa100 544.5px,#ffad00 634.5px,#ffa500 709.5px,#ffa000 781.5px,#ff9b00 886.5px,#ff9e00 928.5px,#ffc800 1012.5px,#ffd900 1045.5px,#ffd900 1105.5px,#ff9000 1225.5px,#ff9000 1486.5px)"></div>
<div style="top:333px;height:3px;background:linear-gradient(90deg,#5eff99 1.5px,#61ff96 37.5px,#7cff7b 94.5px,#bbff3c 166.5px,#e0ff17 223.5px,#f2fc05 259.5px,#feee00 289.5px,#f8f400 292.5px,#dcff1b 295.5px,#a7ff50 298.5px,#54ffa3 301.5px,#00dcff 304.5px,#0093ff 307.5px,#008fff 310.5px,#0df5ea 313.5px,#81ff76 316.5px,#e1ff16 319.5px,#ffe300 322.5px,#ffdd00 325.5px,#ffe100 328.5px,#b5ff42 331.5px,#00b5ff 334.5px,#0028ff 337.5px,#001aff 340.5px,#001aff 388.5px,#0028ff 391.5px,#00d2ff 394.5px,#deff19 397.5px,#ffc700 400.5px,#ffb800 409.5px,#ffa700 412.5px,#ff7700 418.5px,#ff6b00 421.5px,#ff6a00 457.5px,#ff7900 460.5px,#ffb200 463.5px,#ffb800 466.5px,#ff6c00 469.5px,#ff6800 481.5px,#ff6900 532.5px,#ff6e00 535.5px,#ff9400 541.5px,#ffa100 544.5px,#ffa700 562.5px,#ffb000 634.5px,#ffa800 703.5px,#ffa600 766.5px,#ff9f00 841.5px,#ffa200 931.5px,#ffcf00 1024.5px,#ffda00 1051.5px,#ffda00 1105.5px,#ff9200 1225.5px,#ff9200 1486.5px)"></div>
<div style="top:336px;height:3px;background:linear-gradient(90deg,#5cff9b 1.5px,#5fff98 37.5px,#7aff7c 94.5px,#b8ff3f 166.5px,#e3ff14 232.5px,#f2fb04 262.5px,#ffec00 295.5px,#fbf100 298.5px,#e9ff0e 301.5px,#bdff3a 304.5px,#80ff77 307.5px,#75ff82 310.5px,#c3ff34 313.5px,#f7f500 316.5px,#ffe300 319.5px,#ffdd00 328.5px,#f0fe07 331.5px,#47ffaf 334.5px,#0050ff 337.5px,#001bff 340.5px,#001aff 388.5px,#002eff 391.5px,#10fae7 394.5px,#f2fb05 397.5px,#ffc600 400.5px,#ffc000 409.5px,#ffb700 412.5px,#ffa300 415.5px,#ff8600 418.5px,#ff7100 421.5px,#ff6900 424.5px,#ff6800 448.5px,#ff6d00 451.5px,#ff8500 454.5px,#ffe500 457.5px,#6aff8d 460.5px,#00d3ff 463.5px,#2dffca 466.5px,#ffa400 469.5px,#ff6900 472.5px,#ff6b00 535.5px,#ff7800 538.5px,#ffa000 544.5px,#ffa800 550.5px,#ffb400 631.5px,#ffac00 706.5px,#ffa900 772.5px,#ffa200 856.5px,#ffa500 931.5px,#ffd000 1024.5px,#ffda00 1054.5px,#ffdc00 1105.5px,#ffa500 1195.5px,#ff9400 1225.5px,#ff9400 1486.5px)"></div>
<div style="top:339px;height:3px;background:linear-gradient(90deg,#5aff9d 1.5px,#5dff9a 37.5px,#7bff7c 97.5px,#bcff3b 175.5px,#e9ff0d 247.5px,#f4f903 265.5px,#ffea00 301.5px,#ffec00 304.5px,#f8f500 307.5px,#f6f601 310.5px,#ffe900 313.5px,#ffe000 322.5px,#ffdd00 328.5px,#ffe400 331.5px,#a6ff51 334.5px,#009aff 337.5px,#0022ff 340.5px,#001aff 343.5px,#001aff 388.5px,#003dff 391.5px,#35ffc2 394.5px,#feed00 397.5px,#ffc700 400.5px,#ffbf00 412.5px,#ffb100 415.5px,#ff7a00 421.5px,#ff6c00 424.5px,#ff6800 436.5px,#ff6800 442.5px,#ff7200 445.5px,#ff9800 448.5px,#d3ff23 451.5px,#3dffba 454.5px,#00a2ff 457.5px,#005aff 460.5px,#004eff 463.5px,#0077ff 466.5px,#b9ff3e 469.5px,#ff6e00 472.5px,#ff6900 475.5px,#ff7b00 478.5px,#ffca00 481.5px,#ff9f00 484.5px,#ff6c00 487.5px,#ff6800 499.5px,#ff6a00 535.5px,#ff7300 538.5px,#ff9d00 544.5px,#ffa800 547.5px,#ffb700 631.5px,#ffaf00 703.5px,#ffae00 763.5px,#ffa600 847.5px,#ffa700 928.5px,#ffd200 1027.5px,#ffdb00 1057.5px,#ffdd00 1105.5px,#ffb000 1183.5px,#ff9600 1225.5px,#ff9600 1486.5px)"></div>
<div style="top:342px;height:3px;background:linear-gradient(90deg,#58ff9f 1.5px,#5bff9c 37.5px,#77ff80 94.5px,#bbff3c 178.5px,#f1fc06 262.5px,#fcf000 286.5px,#ffdf00 331.5px,#e2ff15 334.5px,#23ffd4 337.5px,#0040ff 340.5px,#001cff 343.5px,#001aff 385.5px,#0022ff 388.5px,#006fff 391.5px,#7aff7d 394.5px,#ffda00 397.5px,#ffc700 400.5px,#ffc200 412.5px,#ffbb00 415.5px,#ffa600 418.5px,#ff8800 421.5px,#ff7100 424.5px,#ff6900 427.5px,#ff6800 439.5px,#ff7d00 442.5px,#bdff3a 445.5px,#16ffe1 448.5px,#007eff 451.5px,#0053ff 454.5px,#004dff 457.5px,#004eff 460.5px,#006cff 463.5px,#3fffb8 466.5px,#ffcb00 469.5px,#ff7200 472.5px,#ffb500 475.5px,#8dff6a 478.5px,#00b8ff 481.5px,#24ffd3 484.5px,#f6f601 487.5px,#ff7b00 490.5px,#ff6900 493.5px,#ff6900 535.5px,#ff6e00 538.5px,#ff7f00 541.5px,#ff9700 544.5px,#ffa700 547.5px,#ffaf00 559.5px,#ffba00 634.5px,#ffb300 703.5px,#ffb200 763.5px,#ffaa00 841.5px,#ffac00 931.5px,#ffce00 1018.5px,#ffdc00 1060.5px,#ffdf00 1105.5px,#ffb700 1177.5px,#ff9800 1222.5px,#ff9800 1486.5px)"></div>
<div style="top:345px;height:3px;background:linear-gradient(90deg,#56ffa1 1.5px,#59ff9e 37.5px,#75ff82 94.5px,#c1ff36 190.5px,#f1fd06 262.5px,#fbf100 286.5px,#ffde00 331.5px,#ffea00 334.5px,#98ff5f 337.5px,#00b4ff 340.5px,#0049ff 343.5px,#0028ff 346.5px,#001dff 349.5px,#001aff 382.5px,#0027ff 385.5px,#0075ff 388.5px,#36ffc1 391.5px,#d9ff1e 394.5px,#ffce00 397.5px,#ffc700 403.5px,#ffc000 415.5px,#ffb300 418.5px,#ff7b00 424.5px,#ff6c00 427.5px,#ff6800 439.5px,#ff7700 442.5px,#b7ff3f 445.5px,#0092ff 448.5px,#004eff 451.5px,#0051ff 457.5px,#0093ff 460.5px,#8dff6a 463.5px,#ffa300 466.5px,#ff9400 469.5px,#cfff27 472.5px,#01e7f6 475.5px,#0067ff 478.5px,#004eff 481.5px,#0054ff 484.5px,#00a6ff 487.5px,#92ff65 490.5px,#ff9500 493.5px,#ff6800 496.5px,#ff6b00 538.5px,#ff7800 541.5px,#ffa500 547.5px,#ffae00 550.5px,#ffbe00 631.5px,#ffb600 703.5px,#ffb500 766.5px,#ffac00 874.5px,#ffaf00 931.5px,#ffd000 1021.5px,#ffdc00 1060.5px,#ffe000 1105.5px,#ffbe00 1171.5px,#ff9a00 1222.5px,#ff9a00 1486.5px)"></div>
<div style="top:348px;height:3px;background:linear-gradient(90deg,#54ffa3 1.5px,#57ffa0 37.5px,#76ff81 97.5px,#d2ff25 217.5px,#f0fd07 262.5px,#faf100 286.5px,#ffe500 316.5px,#ffe000 334.5px,#f1fc06 337.5px,#9eff59 340.5px,#3effb9 343.5px,#00bbff 346.5px,#0065ff 349.5px,#0034ff 352.5px,#0021ff 355.5px,#001aff 361.5px,#001bff 379.5px,#0032ff 382.5px,#0095ff 385.5px,#5dff9a 388.5px,#e5ff12 391.5px,#ffd400 394.5px,#ffca00 397.5px,#ffc300 415.5px,#ffbc00 418.5px,#ffa700 421.5px,#ff8800 424.5px,#ff7200 427.5px,#ff6900 430.5px,#ff6800 442.5px,#ff7f00 445.5px,#abff4c 448.5px,#0090ff 451.5px,#005bff 454.5px,#00d8ff 457.5px,#d6ff21 460.5px,#ff8000 463.5px,#ffbb00 466.5px,#47ffb0 469.5px,#007fff 472.5px,#0051ff 475.5px,#0052ff 487.5px,#00baff 490.5px,#ffca00 493.5px,#ff6900 496.5px,#ff6a00 538.5px,#ff7200 541.5px,#ffa100 547.5px,#ffae00 550.5px,#ffbb00 589.5px,#ffc100 634.5px,#ffba00 700.5px,#ffb900 766.5px,#ffaf00 877.5px,#ffb200 931.5px,#ffd300 1027.5px,#ffe300 1099.5px,#ffc300 1168.5px,#ff9c00 1222.5px,#ff9c00 1486.5px)"></div>
<div style="top:351px;height:3px;background:linear-gradient(90deg,#52ffa5 1.5px,#55ffa2 37.5px,#74ff83 97.5px,#ebff0c 256.5px,#f8f400 280.5px,#ffe600 316.5px,#ffe000 337.5px,#ffe700 340.5px,#eeff09 343.5px,#bdff3a 346.5px,#6eff89 349.5px,#0df5ea 352.5px,#008dff 355.5px,#0054ff 358.5px,#003bff 361.5px,#002bff 364.5px,#001dff 370.5px,#001dff 376.5px,#003aff 379.5px,#00baff 382.5px,#88ff6f 385.5px,#f4f903 388.5px,#ffd200 391.5px,#ffcb00 397.5px,#ffc100 418.5px,#ffb400 421.5px,#ff7b00 427.5px,#ff6c00 430.5px,#ff6800 442.5px,#ff6800 445.5px,#ff7f00 448.5px,#b2ff45 451.5px,#5cff9b 454.5px,#ffd600 457.5px,#ff7000 460.5px,#ff6b00 463.5px,#c5ff32 466.5px,#006dff 469.5px,#004dff 472.5px,#0058ff 475.5px,#00e0fc 478.5px,#38ffbf 481.5px,#39ffbe 484.5px,#2fffc8 487.5px,#84ff73 490.5px,#ff8000 493.5px,#ff6800 496.5px,#ff6900 538.5px,#ff6e00 541.5px,#ff8000 544.5px,#ff9b00 547.5px,#ffae00 550.5px,#ffb700 559.5px,#ffc500 631.5px,#ffbd00 703.5px,#ffbd00 766.5px,#ffb300 871.5px,#ffb600 934.5px,#ffdf00 1069.5px,#ffe300 1105.5px,#ffc500 1168.5px,#ff9d00 1222.5px,#ff9d00 1486.5px)"></div>
<div style="top:354px;height:3px;background:linear-gradient(90deg,#4fffa7 1.5px,#53ffa4 37.5px,#74ff82 100.5px,#f1fc06 265.5px,#fdef00 295.5px,#ffde00 343.5px,#ffe100 346.5px,#fcef00 349.5px,#dbff1b 352.5px,#61ff95 358.5px,#2dffca 361.5px,#00e1fa 364.5px,#00a5ff 367.5px,#0079ff 370.5px,#0055ff 373.5px,#0063ff 376.5px,#00e2fa 379.5px,#9bff5c 382.5px,#ffeb00 385.5px,#ffd100 388.5px,#ffc400 418.5px,#ffbd00 421.5px,#ffa700 424.5px,#ff8800 427.5px,#ff7200 430.5px,#ff6900 433.5px,#ff6800 448.5px,#ff8300 454.5px,#ff6a00 457.5px,#ff6a00 463.5px,#fcf000 466.5px,#00dcff 469.5px,#0062ff 472.5px,#00a3ff 475.5px,#feed00 478.5px,#ff7e00 481.5px,#ff7d00 484.5px,#ff8400 487.5px,#ff8300 490.5px,#ff6900 493.5px,#ff6b00 541.5px,#ff7900 544.5px,#ffab00 550.5px,#ffb600 553.5px,#ffc800 631.5px,#ffc000 697.5px,#ffc200 757.5px,#ffb600 871.5px,#ffb900 934.5px,#ffe500 1093.5px,#ffdf00 1120.5px,#ffc800 1168.5px,#ff9f00 1222.5px,#ff9f00 1486.5px)"></div>
<div style="top:357px;height:3px;background:linear-gradient(90deg,#4dffa9 1.5px,#51ffa6 37.5px,#73ff84 100.5px,#f0fd06 265.5px,#fcf000 295.5px,#ffdd00 352.5px,#feed00 358.5px,#effe07 361.5px,#dbff1c 364.5px,#93ff64 370.5px,#67ff90 373.5px,#6aff8d 376.5px,#c4ff33 379.5px,#ffe500 382.5px,#ffd200 385.5px,#ffc200 421.5px,#ffb400 424.5px,#ff7b00 430.5px,#ff6c00 433.5px,#ff6800 445.5px,#ff6800 463.5px,#ff7200 466.5px,#ffbc00 469.5px,#6fff87 472.5px,#85ff72 475.5px,#ff8000 478.5px,#ff6800 481.5px,#ff6a00 541.5px,#ff7300 544.5px,#ffa700 550.5px,#ffb600 553.5px,#ffbf00 571.5px,#ffcb00 631.5px,#ffc400 700.5px,#ffc600 757.5px,#ffb900 874.5px,#ffbc00 934.5px,#ffe700 1102.5px,#ffcb00 1168.5px,#ffa100 1222.5px,#ffa100 1486.5px)"></div>
<div style="top:360px;height:3px;background:linear-gradient(90deg,#4bffab 1.5px,#4fffa8 37.5px,#73ff84 103.5px,#f0fd07 265.5px,#fbf000 295.5px,#ffdf00 343.5px,#ffda00 364.5px,#ffea00 376.5px,#ffdb00 379.5px,#ffd300 382.5px,#ffc500 421.5px,#ffbd00 424.5px,#ffa800 427.5px,#ff8900 430.5px,#ff7200 433.5px,#ff6900 436.5px,#ff6900 469.5px,#ff7d00 472.5px,#ff8300 475.5px,#ff6900 478.5px,#ff6900 541.5px,#ff6f00 544.5px,#ff8200 547.5px,#ffa000 550.5px,#ffb500 553.5px,#ffbe00 559.5px,#ffcf00 631.5px,#ffc700 697.5px,#ffc900 760.5px,#ffbd00 880.5px,#ffc100 943.5px,#ffe800 1105.5px,#ffd000 1165.5px,#ffa300 1222.5px,#ffa300 1486.5px)"></div>
<div style="top:363px;height:3px;background:linear-gradient(90deg,#49ffae 1.5px,#4dffaa 37.5px,#71ff86 103.5px,#d6ff21 235.5px,#effe07 265.5px,#fbf100 295.5px,#ffe000 343.5px,#ffc300 424.5px,#ffb500 427.5px,#ff7b00 433.5px,#ff6c00 436.5px,#ff6800 448.5px,#ff6b00 475.5px,#ff7700 478.5px,#ff8a00 481.5px,#ff6800 487.5px,#ff6b00 544.5px,#ff7900 547.5px,#ffb100 553.5px,#ffbe00 556.5px,#ffcb00 592.5px,#ffd200 631.5px,#ffcb00 697.5px,#ffcd00 760.5px,#ffc000 883.5px,#ffc500 952.5px,#ffe900 1105.5px,#ffd300 1165.5px,#ffa500 1222.5px,#ffa500 1486.5px)"></div>
<div style="top:366px;height:3px;background:linear-gradient(90deg,#47ffb0 1.5px,#45ffb2 10.5px,#3dffba 16.5px,#77ff80 115.5px,#d2ff25 232.5px,#f1fc06 268.5px,#fdee00 304.5px,#ffc600 424.5px,#ffbe00 427.5px,#ffa900 430.5px,#ff8900 433.5px,#ff7200 436.5px,#ff6800 442.5px,#ff6800 469.5px,#ff7d00 472.5px,#e4ff13 475.5px,#6aff8d 478.5px,#28ffcf 481.5px,#b3ff44 484.5px,#ff7b00 487.5px,#ff6800 490.5px,#ff6a00 544.5px,#ff7300 547.5px,#ff8b00 550.5px,#ffab00 553.5px,#ffbe00 556.5px,#ffc800 571.5px,#ffd500 631.5px,#ffce00 700.5px,#ffd100 757.5px,#ffc300 889.5px,#ffc900 961.5px,#ffe300 1072.5px,#ffeb00 1105.5px,#ffd600 1165.5px,#ffa700 1222.5px,#ffa700 1486.5px)"></div>
<div style="top:369px;height:3px;background:linear-gradient(90deg,#45ffb2 1.5px,#44ffb3 7.5px,#37ffc0 10.5px,#14fee3 13.5px,#00defc 16.5px,#00dcff 19.5px,#03eaf3 22.5px,#12fbe5 25.5px,#32ffc5 37.5px,#4effa9 49.5px,#89ff6e 145.5px,#d9ff1e 241.5px,#f1fc06 268.5px,#fcef00 304.5px,#ffc400 427.5px,#ffb600 430.5px,#ff7d00 436.5px,#ff6d00 439.5px,#ff6800 454.5px,#ff6800 469.5px,#ff7d00 472.5px,#6dff8a 475.5px,#0064ff 478.5px,#0051ff 481.5px,#00a6ff 484.5px,#f2fb05 487.5px,#ff6f00 490.5px,#ff6800 493.5px,#ff6900 544.5px,#ff6e00 547.5px,#ff8200 550.5px,#ffa300 553.5px,#ffbc00 556.5px,#ffc800 562.5px,#ffd900 631.5px,#ffd100 694.5px,#ffd500 757.5px,#ffc700 883.5px,#ffcc00 964.5px,#ffdf00 1057.5px,#ffec00 1105.5px,#ffd800 1165.5px,#ffa900 1222.5px,#ffa900 1486.5px)"></div>
<div style="top:372px;height:3px;background:linear-gradient(90deg,#43ffb4 1.5px,#41ffb6 7.5px,#29ffce 10.5px,#00b4ff 13.5px,#0053ff 16.5px,#003bff 19.5px,#0061ff 25.5px,#006dff 28.5px,#009bff 34.5px,#00a8ff 37.5px,#00c0ff 40.5px,#04ebf3 43.5px,#26ffd1 46.5px,#3cffbb 49.5px,#4effa9 55.5px,#94ff63 163.5px,#daff1d 244.5px,#f1fc05 271.5px,#ffec00 316.5px,#ffc700 427.5px,#ffc000 430.5px,#ffac00 433.5px,#ff8d00 436.5px,#ff7500 439.5px,#ff6b00 442.5px,#ff6b00 472.5px,#ffd800 475.5px,#00c5ff 478.5px,#004fff 481.5px,#0053ff 484.5px,#00d9ff 487.5px,#ffec00 490.5px,#ff7000 493.5px,#ff6900 496.5px,#ff6b00 547.5px,#ff7a00 550.5px,#ffb900 556.5px,#ffc700 559.5px,#ffdd00 625.5px,#ffd500 697.5px,#ffd900 757.5px,#ffca00 883.5px,#ffd100 988.5px,#ffdf00 1057.5px,#fdee00 1105.5px,#ffdb00 1165.5px,#ffab00 1222.5px,#ffab00 1486.5px)"></div>
<div style="top:375px;height:3px;background:linear-gradient(90deg,#41ffb6 1.5px,#3fffb7 7.5px,#29ffcd 10.5px,#00a6ff 13.5px,#0018ff 16.5px,#0000f3 19.5px,#0000f3 22.5px,#0000ff 28.5px,#0000ff 31.5px,#000fff 37.5px,#0023ff 40.5px,#0050ff 43.5px,#00c9ff 49.5px,#12fce5 52.5px,#31ffc6 55.5px,#42ffb4 58.5px,#51ffa6 64.5px,#91ff65 163.5px,#cdff2a 232.5px,#f1fc06 271.5px,#fcf000 307.5px,#ffc500 430.5px,#ffb900 433.5px,#ff8100 439.5px,#ff7000 442.5px,#ff6c00 454.5px,#ff6c00 472.5px,#ff7700 475.5px,#b0ff47 478.5px,#007aff 481.5px,#004dff 484.5px,#0054ff 487.5px,#00dbff 490.5px,#ffd900 493.5px,#ff6e00 496.5px,#ff6800 544.5px,#ff6a00 547.5px,#ff7400 550.5px,#ffb400 556.5px,#ffc700 559.5px,#ffd000 568.5px,#ffdf00 631.5px,#ffd800 697.5px,#ffdd00 754.5px,#ffcd00 886.5px,#ffd900 1042.5px,#fcf000 1099.5px,#ffde00 1165.5px,#ffad00 1222.5px,#ffad00 1486.5px)"></div>
<div style="top:378px;height:3px;background:linear-gradient(90deg,#3fffb8 1.5px,#3effb9 7.5px,#2fffc8 10.5px,#00bdff 13.5px,#0023ff 16.5px,#0000e8 19.5px,#0000de 22.5px,#0000e3 37.5px,#0000e8 40.5px,#0000f7 43.5px,#0005ff 46.5px,#002dff 49.5px,#0065ff 52.5px,#00a4ff 55.5px,#00dcff 58.5px,#1cffdb 61.5px,#37ffbf 64.5px,#49ffae 67.5px,#56ffa1 73.5px,#8cff6b 160.5px,#c2ff35 223.5px,#f1fd06 271.5px,#fdee00 313.5px,#ffc800 430.5px,#ffc100 433.5px,#ffae00 436.5px,#ff7a00 442.5px,#ff7200 445.5px,#ff7100 475.5px,#ff9f00 478.5px,#25ffd2 481.5px,#0055ff 484.5px,#004dff 487.5px,#0059ff 490.5px,#3bffbc 493.5px,#ffae00 496.5px,#ff7300 499.5px,#ff6800 544.5px,#ff7000 550.5px,#ff8900 553.5px,#ffae00 556.5px,#ffc700 559.5px,#ffd200 565.5px,#ffe300 631.5px,#ffdb00 694.5px,#ffe100 754.5px,#ffd100 880.5px,#ffda00 1042.5px,#fcf000 1096.5px,#ffe800 1147.5px,#ffde00 1168.5px,#ffaf00 1222.5px,#ffaf00 1486.5px)"></div>
<div style="top:381px;height:3px;background:linear-gradient(90deg,#3dffba 1.5px,#3cffba 7.5px,#33ffc4 10.5px,#00d3ff 13.5px,#0037ff 16.5px,#0000ed 19.5px,#0000dd 22.5px,#0000de 43.5px,#0000eb 49.5px,#0000ff 52.5px,#0011ff 55.5px,#003cff 58.5px,#0073ff 61.5px,#00b4ff 64.5px,#0df6ea 67.5px,#39ffbe 70.5px,#4fffa7 73.5px,#58ff9f 79.5px,#89ff6e 160.5px,#c0ff37 223.5px,#f0fd07 271.5px,#fcef00 313.5px,#ffc900 430.5px,#ffc500 433.5px,#ffb900 436.5px,#ff8800 442.5px,#ff7c00 445.5px,#ff7a00 475.5px,#ff7f00 478.5px,#f7f500 481.5px,#00d5ff 484.5px,#0054ff 487.5px,#004dff 490.5px,#0065ff 493.5px,#46ffb1 496.5px,#ffb500 499.5px,#ff7c00 502.5px,#ff7000 523.5px,#ff6800 538.5px,#ff6800 547.5px,#ff6d00 550.5px,#ff8200 553.5px,#ffa700 556.5px,#ffc500 559.5px,#ffd100 562.5px,#ffe700 625.5px,#ffdf00 697.5px,#ffe500 754.5px,#ffd400 883.5px,#ffdc00 1048.5px,#fbf100 1096.5px,#ffed00 1135.5px,#ffe300 1165.5px,#ffb000 1222.5px,#ffb000 1486.5px)"></div>
<div style="top:384px;height:3px;background:linear-gradient(90deg,#3bffbc 1.5px,#3bffbc 7.5px,#34ffc2 10.5px,#01e7f6 13.5px,#0051ff 16.5px,#0000f6 19.5px,#0000de 22.5px,#0000df 52.5px,#0000ef 58.5px,#0000ff 61.5px,#001eff 64.5px,#0066ff 67.5px,#00d0ff 70.5px,#34ffc3 73.5px,#4fffa8 76.5px,#58ff9f 82.5px,#86ff70 160.5px,#bbff3c 220.5px,#f0fe07 271.5px,#fbf000 313.5px,#ffe100 361.5px,#ffc700 433.5px,#ffbf00 436.5px,#ff9800 442.5px,#ff8a00 445.5px,#ff8700 454.5px,#ff8700 478.5px,#ff8d00 481.5px,#ebff0c 484.5px,#00d2ff 487.5px,#0054ff 490.5px,#004dff 493.5px,#0065ff 496.5px,#5eff99 499.5px,#ffa200 502.5px,#ff8700 505.5px,#ff8000 517.5px,#ff6b00 532.5px,#ff6b00 550.5px,#ff7b00 553.5px,#ffc200 559.5px,#ffd300 562.5px,#ffea00 628.5px,#ffe200 694.5px,#ffe900 751.5px,#ffd700 883.5px,#ffdc00 1048.5px,#fbf100 1093.5px,#f9f300 1111.5px,#ffe900 1162.5px,#ffb200 1222.5px,#ffb200 1486.5px)"></div>
<div style="top:387px;height:3px;background:linear-gradient(90deg,#38ffbe 1.5px,#35ffc2 10.5px,#10f9e7 13.5px,#006fff 16.5px,#0000ff 19.5px,#0000df 22.5px,#0000dd 58.5px,#0000e9 64.5px,#0000ff 67.5px,#0050ff 70.5px,#00cbff 73.5px,#33ffc4 76.5px,#4fffa8 79.5px,#59ff9e 88.5px,#81ff75 157.5px,#b9ff3e 220.5px,#edff09 268.5px,#fbf100 316.5px,#ffde00 376.5px,#ffc800 433.5px,#ffb700 439.5px,#ff9800 445.5px,#ff9300 451.5px,#ff9400 481.5px,#ff9a00 484.5px,#e2ff14 487.5px,#00cfff 490.5px,#0053ff 493.5px,#004dff 496.5px,#0085ff 499.5px,#96ff61 502.5px,#ffa500 505.5px,#ff9300 508.5px,#ff8c00 517.5px,#ff6e00 532.5px,#ff6800 547.5px,#ff6a00 550.5px,#ff7500 553.5px,#ff9500 556.5px,#ffbd00 559.5px,#ffd300 562.5px,#ffdc00 571.5px,#ffec00 631.5px,#ffe500 694.5px,#ffeb00 754.5px,#ffdb00 880.5px,#ffde00 1048.5px,#fcf000 1087.5px,#f7f600 1108.5px,#ffec00 1162.5px,#ffb500 1222.5px,#ffb400 1486.5px)"></div>
<div style="top:390px;height:3px;background:linear-gradient(90deg,#36ffc1 1.5px,#34ffc3 10.5px,#1bffdc 13.5px,#008dff 16.5px,#0004ff 19.5px,#0000e1 22.5px,#0000dc 28.5px,#0000dd 64.5px,#0000e4 67.5px,#0000ff 70.5px,#004fff 73.5px,#00cbff 76.5px,#32ffc4 79.5px,#4effa9 82.5px,#5aff9d 94.5px,#82ff75 160.5px,#b7ff40 220.5px,#ecff0b 271.5px,#faf100 328.5px,#ffe500 364.5px,#ffcd00 430.5px,#ffbb00 439.5px,#ffa300 445.5px,#ff9d00 451.5px,#ff9e00 484.5px,#ffa500 487.5px,#dcff1b 490.5px,#00ccff 493.5px,#0053ff 496.5px,#004eff 499.5px,#00a0ff 502.5px,#e5ff11 505.5px,#ff9f00 508.5px,#ff9100 520.5px,#ff6e00 535.5px,#ff6900 550.5px,#ff7100 553.5px,#ff8b00 556.5px,#ffb400 559.5px,#ffd100 562.5px,#ffdb00 565.5px,#feed00 631.5px,#ffe600 694.5px,#ffed00 757.5px,#ffdf00 865.5px,#ffe600 874.5px,#fdef00 877.5px,#f4f903 880.5px,#e2ff15 883.5px,#d0ff27 889.5px,#e4ff13 892.5px,#faf200 895.5px,#ffe500 898.5px,#ffde00 904.5px,#ffe000 1045.5px,#fbf000 1081.5px,#f5f802 1108.5px,#fdef00 1162.5px,#ffb800 1222.5px,#ffb600 1486.5px)"></div>
<div style="top:393px;height:3px;background:linear-gradient(90deg,#34ffc3 1.5px,#33ffc4 10.5px,#22ffd5 13.5px,#00aaff 16.5px,#0018ff 19.5px,#0000e5 22.5px,#0000dd 25.5px,#0000dd 67.5px,#0000e3 70.5px,#0000ff 73.5px,#004fff 76.5px,#00caff 79.5px,#32ffc5 82.5px,#4dffaa 85.5px,#55ffa1 91.5px,#80ff77 160.5px,#bcff3b 226.5px,#e9ff0d 271.5px,#f4f903 316.5px,#ffe800 364.5px,#ffce00 430.5px,#ffbd00 439.5px,#ffa500 448.5px,#ffa500 487.5px,#ffab00 490.5px,#d7ff20 493.5px,#00cbff 496.5px,#0055ff 499.5px,#0064ff 502.5px,#90ff67 505.5px,#ffaa00 508.5px,#ff9300 523.5px,#ff7200 535.5px,#ff6800 547.5px,#ff6d00 553.5px,#ff8200 556.5px,#ffcd00 562.5px,#ffdb00 565.5px,#fdef00 622.5px,#ffe800 694.5px,#fdee00 760.5px,#ffe200 856.5px,#ffe600 859.5px,#edff0a 862.5px,#c1ff36 868.5px,#8bff6c 874.5px,#59ff9e 877.5px,#32ffc5 880.5px,#00defd 883.5px,#00beff 886.5px,#00b2ff 889.5px,#07eef0 892.5px,#51ffa6 895.5px,#98ff5f 898.5px,#d2ff25 901.5px,#f2fb05 904.5px,#ffeb00 907.5px,#ffe100 913.5px,#ffe400 1045.5px,#f9f300 1081.5px,#f2fb05 1105.5px,#faf200 1162.5px,#ffe300 1177.5px,#ffba00 1222.5px,#ffb800 1486.5px)"></div>
<div style="top:396px;height:3px;background:linear-gradient(90deg,#31ffc6 1.5px,#31ffc6 10.5px,#26ffd1 13.5px,#00c1ff 16.5px,#002cff 19.5px,#0000ea 22.5px,#0000dd 25.5px,#0000dd 70.5px,#0000e3 73.5px,#0000ff 76.5px,#004fff 79.5px,#00c9ff 82.5px,#31ffc5 85.5px,#4dffaa 88.5px,#56ffa0 97.5px,#7eff79 160.5px,#baff3d 226.5px,#e7ff10 271.5px,#f2fb04 322.5px,#ffe800 370.5px,#ffd000 430.5px,#ffbf00 439.5px,#ffa800 448.5px,#ffa800 490.5px,#ffae00 493.5px,#d9ff1e 496.5px,#3affbd 499.5px,#28ffcf 502.5px,#9bff5b 505.5px,#ffb200 508.5px,#ffa800 511.5px,#ffa100 520.5px,#ff7300 538.5px,#ff6900 550.5px,#ff6b00 553.5px,#ff7b00 556.5px,#ffc800 562.5px,#ffdc00 565.5px,#fbf100 628.5px,#ffe900 694.5px,#fbf000 760.5px,#ffe900 832.5px,#ffe500 856.5px,#f0fd07 859.5px,#6eff89 862.5px,#00d4ff 865.5px,#0061ff 871.5px,#0047ff 874.5px,#001eff 877.5px,#0006ff 880.5px,#0000fe 883.5px,#0000f4 886.5px,#0000f3 889.5px,#0000ff 892.5px,#001bff 895.5px,#0060ff 898.5px,#00c5ff 901.5px,#38ffbf 904.5px,#c3ff33 910.5px,#f2fb05 913.5px,#ffe800 916.5px,#ffe300 928.5px,#ffe900 1048.5px,#f2fb04 1093.5px,#f2fb05 1123.5px,#f8f400 1162.5px,#ffe600 1177.5px,#ffbd00 1222.5px,#ffba00 1486.5px)"></div>
<div style="top:399px;height:3px;background:linear-gradient(90deg,#2fffc8 1.5px,#2effc8 10.5px,#27ffd0 13.5px,#00d4ff 16.5px,#0042ff 19.5px,#0000f1 22.5px,#0000dd 25.5px,#0000dd 73.5px,#0000e3 76.5px,#0000ff 79.5px,#0050ff 82.5px,#00d0ff 85.5px,#37ffc0 88.5px,#4effa9 91.5px,#81ff76 166.5px,#c1ff35 235.5px,#e4ff13 271.5px,#f1fd06 328.5px,#feed00 364.5px,#ffd300 430.5px,#ffc100 439.5px,#ffaa00 448.5px,#ffaa00 493.5px,#ffad00 496.5px,#ffba00 499.5px,#ffbc00 502.5px,#ffaa00 508.5px,#ffa500 520.5px,#ff9400 529.5px,#ff7500 541.5px,#ff6b00 550.5px,#ff6c00 553.5px,#ff7700 556.5px,#ff9800 559.5px,#ffc300 562.5px,#ffdb00 565.5px,#ffe300 571.5px,#fbf100 619.5px,#ffeb00 694.5px,#faf200 772.5px,#faf200 805.5px,#d1ff26 808.5px,#b6ff40 811.5px,#beff38 814.5px,#c0ff37 823.5px,#c7ff30 826.5px,#e8ff0f 829.5px,#effe07 832.5px,#f2fb05 844.5px,#fcf000 847.5px,#ffe800 850.5px,#ffe800 856.5px,#efff08 859.5px,#41ffb6 862.5px,#0020ff 865.5px,#0000ef 868.5px,#0000e5 871.5px,#0000dc 886.5px,#0000df 895.5px,#0000e6 898.5px,#0000fa 901.5px,#000dff 904.5px,#0045ff 907.5px,#00b3ff 910.5px,#54ffa3 913.5px,#bcff3b 916.5px,#f2fb04 919.5px,#ffe800 922.5px,#ffe900 1030.5px,#f9f300 1066.5px,#eeff08 1108.5px,#f5f702 1162.5px,#ffe900 1177.5px,#ffc000 1222.5px,#ffbc00 1426.5px,#ffbc00 1486.5px)"></div>
<div style="top:402px;height:3px;background:linear-gradient(90deg,#2cffcb 1.5px,#28ffcf 13.5px,#00e6f7 16.5px,#005eff 19.5px,#0000fd 22.5px,#0000de 25.5px,#0000dd 76.5px,#0000e4 79.5px,#0000ff 82.5px,#0065ff 85.5px,#06edf1 88.5px,#41ffb6 91.5px,#4fffa8 94.5px,#7fff78 166.5px,#c2ff34 238.5px,#e2ff15 271.5px,#f1fc06 337.5px,#fcef00 367.5px,#ffd500 430.5px,#ffc300 439.5px,#ffac00 448.5px,#ffa800 520.5px,#ff9800 532.5px,#ff7f00 544.5px,#ff7900 553.5px,#ff8000 556.5px,#ff9900 559.5px,#ffc100 562.5px,#ffdb00 565.5px,#ffe500 571.5px,#faf200 619.5px,#ffec00 697.5px,#f8f400 769.5px,#f6f701 805.5px,#6fff88 808.5px,#0073ff 811.5px,#0068ff 814.5px,#0069ff 823.5px,#0079ff 826.5px,#00c7ff 829.5px,#00d7ff 832.5px,#00d8ff 841.5px,#00e4f8 844.5px,#9eff59 847.5px,#feed00 850.5px,#ffea00 856.5px,#f7f500 859.5px,#77ff80 862.5px,#003cff 865.5px,#0000e2 868.5px,#0000dc 874.5px,#0000de 904.5px,#0000e3 907.5px,#0000fa 910.5px,#002dff 913.5px,#00b4ff 916.5px,#6bff8c 919.5px,#cfff28 922.5px,#f5f701 925.5px,#ffeb00 928.5px,#ffec00 1024.5px,#f2fb04 1078.5px,#ecff0b 1108.5px,#f3fa04 1162.5px,#ffe900 1180.5px,#ffc300 1222.5px,#ffbe00 1348.5px,#ffbe00 1486.5px)"></div>
<div style="top:405px;height:3px;background:linear-gradient(90deg,#2affcd 1.5px,#27ffcf 13.5px,#0cf5eb 16.5px,#007dff 19.5px,#0000ff 22.5px,#0000e1 25.5px,#0000dc 31.5px,#0000dd 79.5px,#0000e8 82.5px,#0012ff 85.5px,#0092ff 88.5px,#21ffd6 91.5px,#48ffaf 94.5px,#51ffa6 100.5px,#7dff7a 166.5px,#c7ff30 244.5px,#dfff18 271.5px,#f0fd07 343.5px,#faf200 367.5px,#ffe500 397.5px,#ffd700 430.5px,#ffc500 439.5px,#ffae00 448.5px,#ffaa00 472.5px,#ffa700 529.5px,#ff9d00 553.5px,#ffa100 556.5px,#ffb000 559.5px,#ffdf00 565.5px,#ffe800 574.5px,#f8f400 631.5px,#feed00 694.5px,#f5f701 784.5px,#f3f903 805.5px,#96ff61 808.5px,#00e0fb 811.5px,#00d4ff 814.5px,#00d5ff 823.5px,#00c5ff 826.5px,#0078ff 829.5px,#0068ff 832.5px,#0069ff 841.5px,#0073ff 844.5px,#71ff85 847.5px,#fbf100 850.5px,#feed00 856.5px,#fbf100 859.5px,#aaff4d 862.5px,#007eff 865.5px,#0000ea 868.5px,#0000dc 871.5px,#0000dd 910.5px,#0000e2 913.5px,#0000ff 916.5px,#004bff 919.5px,#00dffc 922.5px,#77ff7f 925.5px,#cdff29 928.5px,#f3fa04 931.5px,#fdee00 934.5px,#fdee00 967.5px,#f3fa04 979.5px,#ffec00 985.5px,#f6f701 1057.5px,#eaff0d 1099.5px,#f0fd07 1162.5px,#fdef00 1177.5px,#ffc600 1222.5px,#ffc000 1324.5px,#ffc000 1486.5px)"></div>
<div style="top:408px;height:3px;background:linear-gradient(90deg,#27ffd0 1.5px,#26ffd1 13.5px,#16ffe1 16.5px,#00a4ff 19.5px,#001dff 22.5px,#0000e8 25.5px,#0000dd 28.5px,#0000de 82.5px,#0000f3 85.5px,#0039ff 88.5px,#00c8ff 91.5px,#36ffc1 94.5px,#4bffac 97.5px,#79ff7e 163.5px,#cdff29 253.5px,#ddff1a 271.5px,#ebff0c 337.5px,#f8f500 367.5px,#ffe700 397.5px,#ffd900 430.5px,#ffc700 439.5px,#ffaf00 448.5px,#ffaa00 463.5px,#ffac00 532.5px,#ffc800 556.5px,#ffe400 565.5px,#fbf100 601.5px,#f7f600 631.5px,#fdef00 694.5px,#f2fb05 805.5px,#e4ff13 811.5px,#e6ff11 823.5px,#e0ff17 826.5px,#c0ff37 829.5px,#baff3d 832.5px,#bbff3b 841.5px,#b4ff42 844.5px,#d0ff27 847.5px,#faf200 850.5px,#fbf100 859.5px,#cfff28 862.5px,#00ceff 865.5px,#0000fd 868.5px,#0000dd 871.5px,#0000dd 916.5px,#0000e6 919.5px,#0000ff 922.5px,#0050ff 925.5px,#00defd 928.5px,#76ff81 931.5px,#cbff2c 934.5px,#f1fd06 937.5px,#fbf100 940.5px,#fcf000 952.5px,#f1fc06 958.5px,#dcff1b 964.5px,#b6ff40 970.5px,#9aff5d 973.5px,#84ff73 976.5px,#89ff6e 979.5px,#caff2d 982.5px,#f6f701 985.5px,#fcf000 988.5px,#f4f903 1054.5px,#eaff0d 1090.5px,#e9ff0e 1123.5px,#f0fd07 1165.5px,#fdef00 1180.5px,#ffc800 1222.5px,#ffc200 1324.5px,#ffc200 1486.5px)"></div>
<div style="top:411px;height:3px;background:linear-gradient(90deg,#25ffd2 1.5px,#24ffd3 13.5px,#1dffd9 16.5px,#00d0ff 19.5px,#004fff 22.5px,#0000fb 25.5px,#0000df 28.5px,#0000dc 82.5px,#0000e2 85.5px,#0000ff 88.5px,#006eff 91.5px,#0cf4eb 94.5px,#40ffb7 97.5px,#4bffab 100.5px,#77ff80 163.5px,#daff1d 271.5px,#e7ff0f 337.5px,#f2fb04 361.5px,#ffe900 397.5px,#ffd800 433.5px,#ffb100 448.5px,#ffaa00 460.5px,#ffad00 532.5px,#ffbf00 544.5px,#ffdf00 559.5px,#ffeb00 571.5px,#f6f701 634.5px,#fbf000 694.5px,#f0fd07 811.5px,#f9f300 859.5px,#e6ff11 862.5px,#44ffb2 865.5px,#002eff 868.5px,#0000e9 871.5px,#0000dd 874.5px,#0000de 922.5px,#0000e6 925.5px,#0000ff 928.5px,#004fff 931.5px,#00ddfe 934.5px,#74ff83 937.5px,#c9ff2e 940.5px,#eeff09 943.5px,#f9f300 946.5px,#faf200 949.5px,#f0fd06 952.5px,#83ff73 958.5px,#5fff98 961.5px,#27ffd0 967.5px,#10f9e7 970.5px,#00e0fb 973.5px,#00cfff 976.5px,#00ddfd 979.5px,#51ffa6 982.5px,#c3ff33 985.5px,#f3fa04 988.5px,#f9f300 991.5px,#eeff08 1063.5px,#e6ff11 1111.5px,#ebff0b 1162.5px,#faf200 1180.5px,#ffe300 1195.5px,#ffcb00 1222.5px,#ffc400 1309.5px,#ffc400 1486.5px)"></div>
<div style="top:414px;height:3px;background:linear-gradient(90deg,#22ffd5 1.5px,#20ffd7 16.5px,#09f0ee 19.5px,#0088ff 22.5px,#000bff 25.5px,#0000e4 28.5px,#0000dc 34.5px,#0000dd 85.5px,#0000ea 88.5px,#001cff 91.5px,#009fff 94.5px,#24ffd3 97.5px,#45ffb2 100.5px,#4dffa9 106.5px,#72ff85 160.5px,#d8ff1f 271.5px,#e3ff14 334.5px,#f1fc06 364.5px,#fcef00 388.5px,#ffde00 430.5px,#ffcd00 439.5px,#ffb300 448.5px,#ffaa00 460.5px,#ffad00 535.5px,#ffba00 544.5px,#ffe100 559.5px,#ffec00 571.5px,#f4f903 631.5px,#faf200 694.5px,#ecff0b 805.5px,#f7f500 859.5px,#f3fa04 862.5px,#b7ff40 865.5px,#1affdd 868.5px,#003cff 871.5px,#0000f0 874.5px,#0000de 877.5px,#0000de 928.5px,#0000e6 931.5px,#0000ff 934.5px,#004eff 937.5px,#00dbff 940.5px,#75ff82 943.5px,#d1ff26 946.5px,#f4f903 949.5px,#e9ff0e 952.5px,#7dff7a 955.5px,#01e7f6 958.5px,#00c0ff 961.5px,#00b0ff 967.5px,#00a9ff 976.5px,#00acff 979.5px,#00cfff 982.5px,#4effa9 985.5px,#c1ff36 988.5px,#f0fd07 991.5px,#f6f601 994.5px,#e9ff0e 1075.5px,#e4ff12 1117.5px,#e9ff0e 1162.5px,#f3fa04 1174.5px,#ffe900 1192.5px,#ffce00 1222.5px,#ffc500 1312.5px,#ffc500 1486.5px)"></div>
<div style="top:417px;height:3px;background:linear-gradient(90deg,#20ffd7 1.5px,#1fffd8 16.5px,#15ffe2 19.5px,#00bbff 22.5px,#003bff 25.5px,#0000f4 28.5px,#0000de 31.5px,#0000df 88.5px,#0000f8 91.5px,#0042ff 94.5px,#00ccff 97.5px,#33ffc3 100.5px,#47ffaf 103.5px,#73ff84 163.5px,#d5ff22 271.5px,#e1ff16 337.5px,#f2fc05 370.5px,#feed00 400.5px,#ffdd00 433.5px,#ffc700 442.5px,#ffb000 451.5px,#ffaa00 469.5px,#ffad00 538.5px,#ffbb00 547.5px,#ffe400 562.5px,#fdef00 574.5px,#f3fa03 634.5px,#f9f300 694.5px,#ebff0c 790.5px,#edff0a 823.5px,#f5f802 862.5px,#effe08 865.5px,#c4ff33 868.5px,#3bffbb 871.5px,#0066ff 874.5px,#0000fe 877.5px,#0000df 880.5px,#0000de 934.5px,#0000e6 937.5px,#0000ff 940.5px,#0059ff 943.5px,#32ffc5 946.5px,#c5ff31 949.5px,#e9ff0e 952.5px,#94ff63 955.5px,#00e0fb 958.5px,#00abff 961.5px,#00abff 982.5px,#00cdff 985.5px,#4cffaa 988.5px,#beff38 991.5px,#edff0a 994.5px,#f3fa04 1000.5px,#e8ff0f 1066.5px,#e2ff15 1117.5px,#e6ff10 1162.5px,#f3fa04 1177.5px,#ffe900 1195.5px,#ffd000 1225.5px,#ffc700 1306.5px,#ffc700 1486.5px)"></div>
<div style="top:420px;height:3px;background:linear-gradient(90deg,#1dffda 1.5px,#1affdd 19.5px,#00e3f9 22.5px,#0077ff 25.5px,#0003ff 28.5px,#0000e2 31.5px,#0000dc 37.5px,#0000dd 88.5px,#0000e3 91.5px,#0000ff 94.5px,#006fff 97.5px,#0cf4eb 100.5px,#3effb9 103.5px,#48ffaf 106.5px,#6eff89 160.5px,#d2ff25 268.5px,#ddff1a 334.5px,#f1fd06 373.5px,#fbf000 397.5px,#ffdf00 433.5px,#ffcc00 442.5px,#ffb300 451.5px,#ffaa00 463.5px,#ffad00 541.5px,#ffbd00 550.5px,#ffe700 565.5px,#f9f300 583.5px,#f2fb05 634.5px,#f8f400 691.5px,#ebff0c 775.5px,#e8ff0f 811.5px,#f2fb05 859.5px,#effe07 868.5px,#d3ff24 871.5px,#67ff8f 874.5px,#008dff 877.5px,#0003ff 880.5px,#0000e2 883.5px,#0000dc 892.5px,#0000de 940.5px,#0000ed 943.5px,#003cff 946.5px,#2cffcb 949.5px,#c1ff36 952.5px,#b8ff3f 955.5px,#22ffd5 958.5px,#00afff 961.5px,#00a7ff 964.5px,#00a7ff 982.5px,#00abff 985.5px,#00ccff 988.5px,#4bffac 991.5px,#bcff3b 994.5px,#eaff0d 997.5px,#f0fe07 1003.5px,#e0ff17 1111.5px,#e4ff13 1162.5px,#f0fd07 1177.5px,#fdef00 1192.5px,#ffd400 1222.5px,#ffc900 1300.5px,#ffc900 1486.5px)"></div>
<div style="top:423px;height:3px;background:linear-gradient(90deg,#1bffdc 1.5px,#1affdd 19.5px,#0ef7e8 22.5px,#00adff 25.5px,#002cff 28.5px,#0000ee 31.5px,#0000dd 34.5px,#0000dd 91.5px,#0000eb 94.5px,#001fff 97.5px,#00a7ff 100.5px,#26ffd0 103.5px,#43ffb4 106.5px,#72ff85 166.5px,#cfff27 268.5px,#d8ff1f 331.5px,#f2fc05 379.5px,#feee00 409.5px,#ffdf00 436.5px,#ffb100 454.5px,#ffaa00 466.5px,#ffad00 544.5px,#ffbe00 553.5px,#ffea00 568.5px,#f8f500 583.5px,#f0fd06 631.5px,#f6f600 694.5px,#e9ff0e 775.5px,#e5ff12 811.5px,#f0fd06 868.5px,#efff08 871.5px,#dbff1b 874.5px,#89ff6d 877.5px,#00c5ff 880.5px,#0018ff 883.5px,#0000e9 886.5px,#0000dd 889.5px,#0000dd 943.5px,#0000eb 946.5px,#003bff 949.5px,#2affcc 952.5px,#abff4b 955.5px,#52ffa5 958.5px,#00bcff 961.5px,#00a7ff 964.5px,#00aaff 988.5px,#00cbff 991.5px,#49ffae 994.5px,#b9ff3e 997.5px,#e7ff10 1000.5px,#edff0a 1003.5px,#deff19 1111.5px,#e1ff15 1162.5px,#f0fd07 1180.5px,#fdef00 1195.5px,#ffd600 1225.5px,#ffcb00 1297.5px,#ffcb00 1486.5px)"></div>
<div style="top:426px;height:3px;background:linear-gradient(90deg,#18ffdf 1.5px,#18ffdf 19.5px,#14fee3 22.5px,#00d4ff 25.5px,#0061ff 28.5px,#0000ff 31.5px,#0000e0 34.5px,#0000dc 46.5px,#0000df 94.5px,#0000fd 97.5px,#0050ff 100.5px,#00dcfe 103.5px,#37ffc0 106.5px,#45ffb2 109.5px,#6dff8a 163.5px,#cdff2a 268.5px,#d6ff21 334.5px,#f1fc06 382.5px,#fbf100 406.5px,#ffe200 436.5px,#ffce00 445.5px,#ffb000 457.5px,#ffaa00 475.5px,#ffac00 544.5px,#ffb700 553.5px,#ffec00 571.5px,#f5f802 589.5px,#f0fe07 634.5px,#f5f702 694.5px,#e9ff0e 766.5px,#e2ff15 811.5px,#eeff09 871.5px,#edff0a 874.5px,#e3ff14 877.5px,#a2ff55 880.5px,#16ffe1 883.5px,#004fff 886.5px,#0000fe 889.5px,#0000e0 892.5px,#0000dc 904.5px,#0000dd 946.5px,#0000ec 949.5px,#0049ff 952.5px,#52ffa5 955.5px,#74ff83 958.5px,#00d2ff 961.5px,#00a8ff 964.5px,#00a9ff 991.5px,#00caff 994.5px,#47ffb0 997.5px,#b6ff41 1000.5px,#e3ff13 1003.5px,#e9ff0e 1009.5px,#dbff1b 1114.5px,#dfff18 1162.5px,#f0fd07 1183.5px,#fdef00 1198.5px,#ffd900 1225.5px,#ffcd00 1297.5px,#ffcd00 1486.5px)"></div>
<div style="top:429px;height:3px;background:linear-gradient(90deg,#16ffe1 1.5px,#14ffe2 22.5px,#05ecf2 25.5px,#0098ff 28.5px,#001bff 31.5px,#0000e9 34.5px,#0000dd 37.5px,#0000dd 94.5px,#0000e5 97.5px,#000dff 100.5px,#008fff 103.5px,#1cffdb 106.5px,#3fffb8 109.5px,#47ffaf 115.5px,#68ff8f 160.5px,#caff2c 268.5px,#d3ff24 334.5px,#f1fd06 385.5px,#fcef00 415.5px,#ffe100 439.5px,#ffc300 451.5px,#ffaf00 460.5px,#ffaa00 505.5px,#ffac00 547.5px,#ffb700 556.5px,#ffe800 571.5px,#f7f600 580.5px,#eeff09 631.5px,#f4f903 694.5px,#e7ff10 766.5px,#deff18 808.5px,#ecff0b 874.5px,#e5ff12 880.5px,#c2ff34 883.5px,#5dff9a 886.5px,#00a0ff 889.5px,#0013ff 892.5px,#0000e9 895.5px,#0000dd 898.5px,#0000dc 946.5px,#0000e2 949.5px,#0031ff 952.5px,#51ffa6 955.5px,#9cff5b 958.5px,#10f9e7 961.5px,#00abff 964.5px,#00a6ff 970.5px,#00a8ff 994.5px,#00c9ff 997.5px,#45ffb2 1000.5px,#afff48 1003.5px,#daff1d 1006.5px,#e4ff13 1009.5px,#d9ff1d 1117.5px,#dcff1a 1162.5px,#f0fd07 1186.5px,#fdef00 1201.5px,#ffdc00 1222.5px,#ffcf00 1294.5px,#ffcf00 1486.5px)"></div>
<div style="top:432px;height:3px;background:linear-gradient(90deg,#13fde4 1.5px,#13fde4 22.5px,#0df6ea 25.5px,#00c3ff 28.5px,#004cff 31.5px,#0000ff 34.5px,#0000e3 37.5px,#0000dd 94.5px,#0000e0 97.5px,#0000f7 100.5px,#0041ff 103.5px,#00ccff 106.5px,#31ffc6 109.5px,#42ffb5 112.5px,#6cff8b 166.5px,#c8ff2f 268.5px,#ceff29 331.5px,#f1fc06 391.5px,#fdef00 421.5px,#ffe100 442.5px,#ffb400 460.5px,#ffac00 484.5px,#ffac00 550.5px,#ffb800 559.5px,#ffea00 574.5px,#f3fa04 586.5px,#edff0a 634.5px,#f3fa04 694.5px,#e7ff10 760.5px,#dcff1b 808.5px,#e9ff0e 877.5px,#e7ff10 883.5px,#d7ff1f 886.5px,#97ff60 889.5px,#12fce5 892.5px,#004eff 895.5px,#0000fe 898.5px,#0000e0 901.5px,#0000dc 913.5px,#0000dd 946.5px,#0000f8 949.5px,#00a1ff 952.5px,#a3ff54 955.5px,#c5ff32 958.5px,#3fffb8 961.5px,#00b5ff 964.5px,#00a5ff 967.5px,#00a7ff 997.5px,#00c5ff 1000.5px,#2cffcb 1003.5px,#7dff7a 1006.5px,#b8ff3e 1009.5px,#d6ff20 1012.5px,#e0ff17 1015.5px,#d7ff1f 1123.5px,#daff1d 1162.5px,#f0fd07 1189.5px,#fdef00 1204.5px,#ffde00 1225.5px,#ffd100 1294.5px,#ffd100 1486.5px)"></div>
<div style="top:435px;height:3px;background:linear-gradient(90deg,#11fae6 1.5px,#0ff8e8 25.5px,#00e0fb 28.5px,#008dff 31.5px,#002bff 34.5px,#0006ff 37.5px,#0003ff 46.5px,#0000fe 61.5px,#0000e8 73.5px,#0000e1 85.5px,#0000ee 94.5px,#0000ff 100.5px,#002fff 103.5px,#00a2ff 106.5px,#21ffd6 109.5px,#3effb9 112.5px,#75ff82 178.5px,#c5ff31 268.5px,#cbff2c 331.5px,#f1fc05 397.5px,#ffeb00 433.5px,#ffe000 445.5px,#ffb700 463.5px,#ffaa00 520.5px,#ffae00 556.5px,#ffc100 565.5px,#ffeb00 577.5px,#f3fa04 586.5px,#ecff0b 616.5px,#f1fc06 697.5px,#e4ff12 763.5px,#d9ff1e 808.5px,#e7ff10 874.5px,#e6ff11 886.5px,#e0ff17 889.5px,#beff39 892.5px,#5aff9d 895.5px,#009dff 898.5px,#0013ff 901.5px,#0000e9 904.5px,#0000dd 907.5px,#0000dc 943.5px,#0000e1 946.5px,#0028ff 949.5px,#41ffb6 952.5px,#d3ff24 955.5px,#d8ff1e 958.5px,#6eff89 961.5px,#00c8ff 964.5px,#00a6ff 967.5px,#00a5ff 1000.5px,#00b2ff 1003.5px,#00d8ff 1006.5px,#30ffc7 1009.5px,#7aff7d 1012.5px,#b5ff42 1015.5px,#d4ff23 1018.5px,#dcff1a 1021.5px,#d5ff22 1123.5px,#d7ff1f 1162.5px,#f0fd07 1192.5px,#fdef00 1207.5px,#ffe100 1225.5px,#ffd300 1291.5px,#ffd300 1486.5px)"></div>
<div style="top:438px;height:3px;background:linear-gradient(90deg,#0ef7e9 1.5px,#0ef7e9 25.5px,#08f0ef 28.5px,#00cdff 31.5px,#0099ff 34.5px,#0082ff 37.5px,#0082ff 55.5px,#005eff 61.5px,#0051ff 64.5px,#002dff 70.5px,#0025ff 73.5px,#0009ff 79.5px,#0003ff 85.5px,#000cff 88.5px,#0039ff 94.5px,#0070ff 100.5px,#0097ff 103.5px,#00d5ff 106.5px,#27ffd0 109.5px,#3cffbb 112.5px,#6dff89 172.5px,#c3ff34 268.5px,#c8ff2f 331.5px,#f1fd06 400.5px,#fdef00 430.5px,#ffe000 448.5px,#ffc100 463.5px,#ffaa00 523.5px,#ffae00 559.5px,#ffc200 568.5px,#feed00 580.5px,#f1fc06 589.5px,#eaff0d 631.5px,#f0fd07 694.5px,#e4ff13 760.5px,#d6ff21 808.5px,#e4ff13 874.5px,#e2ff15 892.5px,#d3ff24 895.5px,#93ff64 898.5px,#10f9e7 901.5px,#004cff 904.5px,#0000fd 907.5px,#0000e0 910.5px,#0000dc 934.5px,#0000dd 943.5px,#0000f8 946.5px,#009fff 949.5px,#9fff58 952.5px,#e0ff16 955.5px,#dfff18 958.5px,#9eff59 961.5px,#1dffd9 964.5px,#00c2ff 967.5px,#00adff 970.5px,#00a4ff 976.5px,#00a5ff 1006.5px,#00b1ff 1009.5px,#00d6ff 1012.5px,#31ffc5 1015.5px,#85ff72 1018.5px,#bdff39 1021.5px,#d3ff24 1024.5px,#d8ff1f 1030.5px,#d3ff23 1150.5px,#daff1d 1168.5px,#f0fd07 1195.5px,#fdef00 1210.5px,#ffe300 1228.5px,#ffd500 1291.5px,#ffd500 1486.5px)"></div>
<div style="top:441px;height:3px;background:linear-gradient(90deg,#0cf4eb 1.5px,#0bf3ec 28.5px,#00e5f7 34.5px,#00e5f7 43.5px,#04ebf3 55.5px,#00dbff 61.5px,#00d4ff 64.5px,#00b3ff 73.5px,#0090ff 79.5px,#0089ff 82.5px,#0089ff 85.5px,#0096ff 88.5px,#00ccff 94.5px,#00e4f8 97.5px,#0df6ea 100.5px,#1bffdc 103.5px,#35ffc2 109.5px,#3effb9 115.5px,#63ff94 163.5px,#bcff3b 262.5px,#c1ff36 277.5px,#c4ff32 331.5px,#efff08 400.5px,#fcf000 433.5px,#ffe100 451.5px,#ffcb00 466.5px,#ffb500 505.5px,#ffab00 529.5px,#ffac00 559.5px,#ffba00 568.5px,#fcef00 583.5px,#efff08 592.5px,#e9ff0e 631.5px,#efff08 697.5px,#e3ff14 757.5px,#d3ff24 808.5px,#e2ff15 874.5px,#e1ff16 895.5px,#dbff1b 898.5px,#b9ff3e 901.5px,#56ffa0 904.5px,#009bff 907.5px,#0015ff 910.5px,#0000f1 913.5px,#0000e1 916.5px,#0000dc 931.5px,#0000e1 940.5px,#0000f2 943.5px,#0038ff 946.5px,#41ffb6 949.5px,#ceff29 952.5px,#e1ff16 955.5px,#e1ff16 958.5px,#d0ff26 961.5px,#9aff5c 964.5px,#1effd9 970.5px,#00d3ff 973.5px,#00b2ff 976.5px,#00a6ff 979.5px,#00a2ff 1009.5px,#00a4ff 1012.5px,#00b3ff 1015.5px,#00e6f7 1018.5px,#44ffb3 1021.5px,#8aff6d 1024.5px,#baff3d 1027.5px,#ceff29 1030.5px,#d4ff23 1036.5px,#d2ff24 1162.5px,#f0fd07 1198.5px,#fdef00 1213.5px,#ffe300 1237.5px,#ffd700 1291.5px,#ffd700 1486.5px)"></div>
<div style="top:444px;height:3px;background:linear-gradient(90deg,#09f1ee 1.5px,#0cf5ea 37.5px,#17ffe0 58.5px,#13fde4 76.5px,#10f9e7 85.5px,#1dffda 91.5px,#32ffc5 103.5px,#61ff96 163.5px,#a5ff51 238.5px,#beff39 271.5px,#c1ff36 331.5px,#edff0a 400.5px,#faf200 433.5px,#ffdd00 460.5px,#ffc600 499.5px,#ffae00 523.5px,#ffab00 559.5px,#ffb300 568.5px,#ffdb00 580.5px,#fbf100 586.5px,#f0fe07 592.5px,#e8ff0f 616.5px,#edff09 697.5px,#e1ff15 757.5px,#d0ff27 808.5px,#dfff18 874.5px,#ddff1a 901.5px,#ceff29 904.5px,#90ff67 907.5px,#1effd9 910.5px,#008dff 913.5px,#002aff 916.5px,#0000ff 919.5px,#0000e5 922.5px,#0000dd 928.5px,#0000e5 934.5px,#0000ff 937.5px,#002aff 940.5px,#008dff 943.5px,#28ffcf 946.5px,#acff4b 949.5px,#dcff1b 952.5px,#deff19 961.5px,#d9ff1d 964.5px,#cbff2b 967.5px,#abff4b 970.5px,#77ff80 973.5px,#32ffc5 976.5px,#00e2fa 979.5px,#00b8ff 982.5px,#00a5ff 985.5px,#00a1ff 1015.5px,#00a5ff 1018.5px,#00b7ff 1021.5px,#01e6f6 1024.5px,#41ffb6 1027.5px,#86ff71 1030.5px,#b6ff41 1033.5px,#cbff2c 1036.5px,#cfff28 1048.5px,#d0ff27 1162.5px,#f0fd07 1201.5px,#fdef00 1216.5px,#ffd800 1285.5px,#ffd800 1486.5px)"></div>
<div style="top:447px;height:3px;background:linear-gradient(90deg,#05ecf1 1.5px,#08efef 34.5px,#17ffe0 61.5px,#2bffcb 97.5px,#57ff9f 157.5px,#9aff5d 229.5px,#baff3d 271.5px,#bdff3a 331.5px,#e8ff0f 397.5px,#f3fa04 424.5px,#ffe800 460.5px,#ffda00 496.5px,#ffb200 526.5px,#ffaa00 556.5px,#ffaf00 568.5px,#ffc500 577.5px,#ffea00 586.5px,#f1fc06 592.5px,#e7ff10 607.5px,#e9ff0e 649.5px,#edff0a 697.5px,#e1ff16 757.5px,#ceff29 805.5px,#deff19 874.5px,#deff19 904.5px,#d8ff1e 907.5px,#c4ff33 910.5px,#97ff60 913.5px,#48ffaf 916.5px,#00c6ff 919.5px,#004aff 922.5px,#0002ff 925.5px,#0000f8 928.5px,#0002ff 931.5px,#004aff 934.5px,#00c6ff 937.5px,#48ffaf 940.5px,#97ff60 943.5px,#c4ff33 946.5px,#d9ff1e 949.5px,#deff19 955.5px,#dbff1c 970.5px,#d2ff25 973.5px,#b7ff40 976.5px,#89ff6e 979.5px,#3bffbc 982.5px,#00d2ff 985.5px,#00a9ff 988.5px,#00a1ff 994.5px,#00a0ff 1021.5px,#00a4ff 1024.5px,#00b6ff 1027.5px,#00e5f7 1030.5px,#46ffb1 1033.5px,#95ff62 1036.5px,#c1ff36 1039.5px,#ccff2b 1042.5px,#d0ff27 1162.5px,#effe07 1201.5px,#fcf000 1216.5px,#ffda00 1285.5px,#ffda00 1486.5px)"></div>
<div style="top:450px;height:3px;background:linear-gradient(90deg,#01e7f6 1.5px,#03eaf3 34.5px,#17ffe0 70.5px,#4dffaa 151.5px,#92ff65 226.5px,#b3ff43 271.5px,#b9ff3e 331.5px,#e5ff12 400.5px,#f1fc05 430.5px,#faf200 460.5px,#ffed00 496.5px,#ffd200 514.5px,#ffb400 532.5px,#ffaa00 556.5px,#ffaf00 571.5px,#ffc700 580.5px,#fdee00 589.5px,#edff0a 595.5px,#e4ff13 607.5px,#e9ff0e 658.5px,#edff0a 694.5px,#e2ff15 754.5px,#ceff29 805.5px,#deff19 874.5px,#dbff1c 913.5px,#d0ff27 916.5px,#afff48 919.5px,#66ff91 922.5px,#0df5ea 925.5px,#00b1ff 928.5px,#0cf5ea 931.5px,#66ff91 934.5px,#afff48 937.5px,#cfff27 940.5px,#daff1d 943.5px,#ddff1a 961.5px,#dbff1c 976.5px,#d4ff22 979.5px,#b4ff43 982.5px,#61ff95 985.5px,#00e4f8 988.5px,#00aeff 991.5px,#00a2ff 994.5px,#00a0ff 1027.5px,#00a4ff 1030.5px,#00bcff 1033.5px,#19ffde 1036.5px,#6fff88 1039.5px,#b0ff47 1042.5px,#c9ff2e 1045.5px,#ceff29 1051.5px,#d2ff25 1162.5px,#f0fe07 1201.5px,#fbf000 1216.5px,#ffe700 1240.5px,#ffdb00 1291.5px,#ffdb00 1486.5px)"></div>
<div style="top:453px;height:3px;background:linear-gradient(90deg,#00e1fa 1.5px,#00e4f8 34.5px,#17ffe0 79.5px,#4dffa9 157.5px,#8dff6a 226.5px,#adff4a 271.5px,#b4ff43 331.5px,#dfff18 397.5px,#f1fc06 439.5px,#f2fb05 466.5px,#f2fb05 499.5px,#ffe700 514.5px,#ffb700 538.5px,#ffab00 556.5px,#ffad00 571.5px,#ffbd00 580.5px,#ffe400 589.5px,#f0fd06 595.5px,#e2ff15 604.5px,#e6ff11 649.5px,#ecff0a 694.5px,#e2ff15 754.5px,#ceff29 805.5px,#deff19 874.5px,#dcff1a 919.5px,#d5ff22 922.5px,#acff4a 928.5px,#d4ff22 934.5px,#dcff1b 937.5px,#dcff1b 979.5px,#d9ff1e 982.5px,#c1ff36 985.5px,#78ff7f 988.5px,#15ffe1 991.5px,#00b5ff 994.5px,#00a3ff 997.5px,#00a0ff 1033.5px,#00abff 1036.5px,#00d9ff 1039.5px,#45ffb2 1042.5px,#9bff5c 1045.5px,#c4ff33 1048.5px,#cdff2a 1051.5px,#d3ff24 1162.5px,#f0fd07 1201.5px,#fbf100 1216.5px,#ffe400 1252.5px,#ffdc00 1294.5px,#ffdc00 1486.5px)"></div>
<div style="top:456px;height:3px;background:linear-gradient(90deg,#00dbff 1.5px,#00defd 34.5px,#05ecf2 55.5px,#17ffe0 88.5px,#48ffae 157.5px,#85ff72 223.5px,#a7ff50 271.5px,#afff47 331.5px,#dcff1b 400.5px,#f0fe07 448.5px,#e6ff11 502.5px,#f0fd06 514.5px,#ffea00 523.5px,#ffbb00 544.5px,#ffac00 562.5px,#ffb000 577.5px,#ffbe00 583.5px,#ffe800 592.5px,#f6f701 595.5px,#ecff0b 598.5px,#e0ff16 604.5px,#e1ff16 634.5px,#ecff0a 691.5px,#e3ff13 751.5px,#ceff29 805.5px,#deff19 874.5px,#d9ff1e 985.5px,#caff2d 988.5px,#8dff6a 991.5px,#2bffcc 994.5px,#00c1ff 997.5px,#00a4ff 1000.5px,#009fff 1012.5px,#009fff 1036.5px,#00a3ff 1039.5px,#00bfff 1042.5px,#25ffd2 1045.5px,#7cff7b 1048.5px,#b6ff40 1051.5px,#cbff2c 1054.5px,#d0ff27 1084.5px,#d1ff26 1138.5px,#ceff28 1144.5px,#dfff18 1177.5px,#f0fd07 1201.5px,#fbf100 1216.5px,#ffe500 1252.5px,#ffdd00 1294.5px,#ffdd00 1486.5px)"></div>
<div style="top:459px;height:3px;background:linear-gradient(90deg,#00d6ff 1.5px,#00daff 37.5px,#04eaf3 61.5px,#18ffdf 97.5px,#43ffb3 157.5px,#80ff77 223.5px,#a1ff56 271.5px,#abff4c 331.5px,#d9ff1e 403.5px,#ebff0b 448.5px,#daff1d 505.5px,#ecff0b 523.5px,#f8f400 529.5px,#ffec00 532.5px,#ffbf00 550.5px,#ffad00 568.5px,#ffb100 580.5px,#ffc000 586.5px,#fcef00 595.5px,#efff08 598.5px,#dfff18 604.5px,#dcff1b 619.5px,#ecff0b 694.5px,#e2ff15 754.5px,#ceff29 805.5px,#deff19 874.5px,#daff1d 985.5px,#d8ff1f 988.5px,#ceff29 991.5px,#a2ff55 994.5px,#41ffb6 997.5px,#00d0ff 1000.5px,#00a8ff 1003.5px,#0092ff 1012.5px,#0093ff 1024.5px,#009eff 1030.5px,#00a0ff 1042.5px,#00afff 1045.5px,#00e6f7 1048.5px,#52ffa5 1051.5px,#9fff58 1054.5px,#c5ff32 1057.5px,#ceff29 1060.5px,#d1ff26 1135.5px,#c0ff37 1138.5px,#a3ff54 1141.5px,#a3ff53 1144.5px,#bfff38 1147.5px,#d0ff27 1150.5px,#f0fd06 1201.5px,#fcef00 1219.5px,#ffde00 1288.5px,#ffde00 1486.5px)"></div>
<div style="top:462px;height:3px;background:linear-gradient(90deg,#00d0ff 1.5px,#00d3ff 34.5px,#00e2f9 58.5px,#15ffe2 100.5px,#41ffb5 160.5px,#7bff7c 223.5px,#9bff5b 274.5px,#a6ff50 331.5px,#d3ff24 400.5px,#e7ff10 448.5px,#d0ff27 508.5px,#deff19 526.5px,#f0fe07 535.5px,#f7f500 538.5px,#ffed00 541.5px,#ffbf00 559.5px,#ffaf00 574.5px,#ffb300 583.5px,#ffc600 589.5px,#ffea00 595.5px,#f1fc05 598.5px,#ddff1a 604.5px,#d9ff1e 616.5px,#ecff0b 691.5px,#e3ff13 751.5px,#ceff29 805.5px,#deff19 874.5px,#d8ff1f 988.5px,#d7ff1f 991.5px,#d1ff26 994.5px,#b0ff47 997.5px,#60ff97 1000.5px,#05ebf2 1003.5px,#00a8ff 1006.5px,#0077ff 1009.5px,#005aff 1012.5px,#0052ff 1015.5px,#0053ff 1021.5px,#005eff 1024.5px,#0094ff 1030.5px,#009dff 1033.5px,#009fff 1045.5px,#00a5ff 1048.5px,#00c4ff 1051.5px,#27ffd0 1054.5px,#85ff72 1057.5px,#c2ff35 1060.5px,#ceff28 1063.5px,#d3ff24 1132.5px,#c0ff37 1135.5px,#79ff7d 1138.5px,#1bffdc 1141.5px,#16ffe1 1144.5px,#66ff90 1147.5px,#afff48 1150.5px,#cfff28 1153.5px,#d7ff20 1159.5px,#f1fd06 1201.5px,#fcef00 1219.5px,#ffdf00 1291.5px,#ffdf00 1486.5px)"></div>
<div style="top:465px;height:3px;background:linear-gradient(90deg,#00caff 1.5px,#00cdff 34.5px,#00e0fb 64.5px,#08efef 88.5px,#18ffdf 112.5px,#3cffba 160.5px,#73ff84 220.5px,#95ff61 274.5px,#a2ff55 331.5px,#d0ff27 403.5px,#e3ff14 448.5px,#c6ff31 508.5px,#d1ff25 529.5px,#efff08 544.5px,#f6f600 547.5px,#feed00 550.5px,#ffbf00 568.5px,#ffb300 580.5px,#ffb900 586.5px,#ffd500 592.5px,#ffe900 595.5px,#f1fd06 598.5px,#dbff1c 604.5px,#d6ff21 613.5px,#ebff0c 691.5px,#e3ff13 751.5px,#ceff29 805.5px,#deff19 874.5px,#d9ff1e 982.5px,#d3ff24 997.5px,#bdff3a 1000.5px,#7aff7d 1003.5px,#02e8f5 1006.5px,#0053ff 1009.5px,#0011ff 1012.5px,#0005ff 1015.5px,#0005ff 1021.5px,#0012ff 1024.5px,#003bff 1027.5px,#0072ff 1030.5px,#0093ff 1033.5px,#009dff 1036.5px,#00a0ff 1051.5px,#00b2ff 1054.5px,#15ffe2 1057.5px,#82ff75 1060.5px,#c2ff35 1063.5px,#cfff28 1066.5px,#d4ff22 1129.5px,#c7ff2f 1132.5px,#89ff6e 1135.5px,#00e6f6 1138.5px,#0051ff 1141.5px,#0041ff 1144.5px,#00a9ff 1147.5px,#55ffa2 1150.5px,#baff3d 1153.5px,#d6ff21 1156.5px,#f1fc06 1201.5px,#fcf000 1219.5px,#ffe000 1288.5px,#ffe000 1486.5px)"></div>
<div style="top:468px;height:3px;background:linear-gradient(90deg,#00c5ff 1.5px,#00c9ff 37.5px,#00e0fb 73.5px,#07eef0 94.5px,#17ffdf 118.5px,#37ffbf 160.5px,#6eff89 220.5px,#8fff68 274.5px,#9fff58 334.5px,#cbff2b 403.5px,#deff18 448.5px,#bdff3a 508.5px,#c6ff31 532.5px,#deff18 547.5px,#edff0a 553.5px,#fdee00 559.5px,#ffc500 574.5px,#ffbb00 583.5px,#ffca00 589.5px,#fdef00 595.5px,#ecff0b 598.5px,#d7ff20 604.5px,#d3ff24 613.5px,#ebff0c 691.5px,#e3ff13 751.5px,#ceff29 805.5px,#deff19 874.5px,#d8ff1e 976.5px,#d4ff22 997.5px,#c9ff2e 1000.5px,#8bff6c 1003.5px,#00defd 1006.5px,#0030ff 1009.5px,#0000ff 1012.5px,#0000f7 1018.5px,#0000fc 1024.5px,#0005ff 1027.5px,#006fff 1033.5px,#008fff 1036.5px,#009bff 1039.5px,#009fff 1054.5px,#00afff 1057.5px,#15ffe2 1060.5px,#7fff77 1063.5px,#beff39 1066.5px,#ceff28 1069.5px,#d6ff21 1126.5px,#cdff2a 1129.5px,#98ff5f 1132.5px,#1bffdc 1135.5px,#0059ff 1138.5px,#0000ff 1141.5px,#0000ff 1144.5px,#0039ff 1147.5px,#11fbe6 1150.5px,#a8ff4e 1153.5px,#d6ff21 1156.5px,#f1fc06 1201.5px,#fdee00 1225.5px,#ffe000 1294.5px,#ffe000 1486.5px)"></div>
<div style="top:471px;height:3px;background:linear-gradient(90deg,#00bfff 1.5px,#00c2ff 34.5px,#00dffc 82.5px,#06edf1 100.5px,#16ffe0 124.5px,#32ffc4 160.5px,#69ff8e 220.5px,#89ff6e 274.5px,#99ff5e 331.5px,#c7ff30 403.5px,#daff1d 448.5px,#b4ff42 508.5px,#bfff38 538.5px,#d5ff21 553.5px,#ecff0b 562.5px,#fcef00 568.5px,#ffce00 580.5px,#ffce00 586.5px,#ffe800 592.5px,#f2fb05 595.5px,#d8ff1f 601.5px,#cfff27 607.5px,#eaff0c 691.5px,#e3ff13 751.5px,#ceff29 805.5px,#deff19 874.5px,#d9ff1e 967.5px,#d5ff22 994.5px,#d0ff27 997.5px,#aaff4d 1000.5px,#33ffc4 1003.5px,#0068ff 1006.5px,#0001ff 1009.5px,#0000f6 1012.5px,#0000f4 1024.5px,#0002ff 1030.5px,#002eff 1033.5px,#0064ff 1036.5px,#008cff 1039.5px,#009bff 1042.5px,#00a0ff 1057.5px,#00afff 1060.5px,#0af2ed 1063.5px,#67ff90 1066.5px,#b6ff41 1069.5px,#cfff28 1072.5px,#d0ff27 1084.5px,#c6ff31 1093.5px,#b4ff42 1099.5px,#b0ff46 1102.5px,#baff3c 1105.5px,#cbff2b 1108.5px,#d4ff23 1111.5px,#d7ff20 1123.5px,#d3ff24 1126.5px,#adff4a 1129.5px,#37ffc0 1132.5px,#006fff 1135.5px,#0006ff 1138.5px,#0000f8 1141.5px,#0000fb 1144.5px,#0032ff 1147.5px,#19ffde 1150.5px,#b1ff46 1153.5px,#d8ff1e 1156.5px,#f1fc05 1201.5px,#feee00 1231.5px,#ffe100 1294.5px,#ffe100 1486.5px)"></div>
<div style="top:474px;height:3px;background:linear-gradient(90deg,#00b9ff 1.5px,#00bcff 34.5px,#00dffc 91.5px,#09f1ee 112.5px,#18ffdf 133.5px,#3fffb8 178.5px,#64ff93 220.5px,#83ff74 274.5px,#98ff5f 337.5px,#c2ff34 403.5px,#d6ff21 448.5px,#acff4b 508.5px,#b8ff3f 544.5px,#ccff2a 559.5px,#ebff0c 571.5px,#fcf000 577.5px,#ffe300 583.5px,#feed00 589.5px,#f2fb05 592.5px,#d1ff26 601.5px,#cdff2a 613.5px,#eaff0c 688.5px,#e3ff13 751.5px,#ceff29 805.5px,#deff19 874.5px,#daff1d 955.5px,#d2ff24 994.5px,#bdff3a 997.5px,#62ff95 1000.5px,#009cff 1003.5px,#0013ff 1006.5px,#0000f9 1009.5px,#0000f3 1015.5px,#0000f4 1027.5px,#0000ff 1033.5px,#0026ff 1036.5px,#0061ff 1039.5px,#008aff 1042.5px,#009aff 1045.5px,#009fff 1060.5px,#00a8ff 1063.5px,#00dcfe 1066.5px,#5fff97 1069.5px,#b5ff41 1072.5px,#c9ff2e 1075.5px,#a9ff4e 1084.5px,#85ff71 1090.5px,#2cffcb 1099.5px,#23ffd4 1102.5px,#48ffaf 1105.5px,#8dff6a 1108.5px,#bdff3a 1111.5px,#d1ff26 1114.5px,#d8ff1f 1120.5px,#d6ff20 1123.5px,#c1ff35 1126.5px,#66ff91 1129.5px,#009fff 1132.5px,#0014ff 1135.5px,#0000f9 1138.5px,#0000f4 1141.5px,#0000fe 1144.5px,#0043ff 1147.5px,#30ffc6 1150.5px,#bcff3b 1153.5px,#dbff1c 1156.5px,#f0fd07 1198.5px,#f7f600 1213.5px,#f4f903 1225.5px,#f3fa04 1234.5px,#e8ff0e 1240.5px,#edff0a 1255.5px,#feed00 1258.5px,#ffe600 1264.5px,#ffe200 1336.5px,#ffe200 1486.5px)"></div>
<div style="top:477px;height:3px;background:linear-gradient(90deg,#00b4ff 1.5px,#00b8ff 37.5px,#00defd 97.5px,#06edf0 115.5px,#17ffe0 139.5px,#5cff9a 217.5px,#7eff79 277.5px,#92ff65 334.5px,#beff39 403.5px,#d2ff25 448.5px,#a3ff54 508.5px,#b1ff46 550.5px,#c4ff33 565.5px,#edff09 583.5px,#e8ff0e 589.5px,#ceff29 598.5px,#c8ff2f 607.5px,#eaff0d 688.5px,#e3ff13 751.5px,#ceff29 805.5px,#deff19 874.5px,#daff1d 952.5px,#d3ff24 991.5px,#c7ff30 994.5px,#87ff6f 997.5px,#00dcff 1000.5px,#0033ff 1003.5px,#0000ff 1006.5px,#0000f4 1009.5px,#0000f4 1030.5px,#0000ff 1036.5px,#0028ff 1039.5px,#005cff 1042.5px,#0080ff 1045.5px,#0093ff 1048.5px,#009cff 1051.5px,#00a0ff 1063.5px,#00aeff 1066.5px,#0af1ed 1069.5px,#69ff8d 1072.5px,#84ff73 1075.5px,#34ffc3 1081.5px,#14ffe3 1084.5px,#00d5ff 1087.5px,#005fff 1096.5px,#0042ff 1099.5px,#003cff 1102.5px,#006bff 1105.5px,#00d7ff 1108.5px,#57ffa0 1111.5px,#a1ff56 1114.5px,#c7ff30 1117.5px,#d4ff23 1120.5px,#ccff2b 1123.5px,#8dff6a 1126.5px,#00e0fb 1129.5px,#0034ff 1132.5px,#0000ff 1135.5px,#0000f4 1138.5px,#0000f4 1141.5px,#0000ff 1144.5px,#005eff 1147.5px,#4effa9 1150.5px,#c7ff30 1153.5px,#ddff19 1156.5px,#f1fd06 1198.5px,#f6f701 1210.5px,#f0fd07 1213.5px,#a5ff52 1219.5px,#a1ff55 1228.5px,#a1ff55 1231.5px,#98ff5f 1234.5px,#7eff78 1237.5px,#75ff82 1240.5px,#75ff81 1252.5px,#94ff62 1255.5px,#e6ff11 1258.5px,#ffe900 1261.5px,#ffe300 1297.5px,#ffe300 1486.5px)"></div>
<div style="top:480px;height:3px;background:linear-gradient(90deg,#00aeff 1.5px,#00b2ff 37.5px,#00daff 100.5px,#05ecf1 121.5px,#16ffe1 145.5px,#56ffa1 214.5px,#79ff7e 280.5px,#8fff68 337.5px,#bbff3c 406.5px,#cdff29 448.5px,#9bff5c 508.5px,#abff4b 556.5px,#beff39 571.5px,#d5ff22 583.5px,#cfff28 592.5px,#c3ff33 601.5px,#eaff0d 688.5px,#e3ff13 751.5px,#ceff29 805.5px,#deff19 874.5px,#daff1d 949.5px,#d3ff23 988.5px,#cdff2a 991.5px,#a1ff56 994.5px,#24ffd3 997.5px,#005aff 1000.5px,#0000ff 1003.5px,#0000f5 1006.5px,#0000f4 1033.5px,#0001ff 1039.5px,#006fff 1048.5px,#008eff 1051.5px,#009bff 1054.5px,#00a0ff 1060.5px,#00a9ff 1063.5px,#00c5ff 1066.5px,#02e7f5 1069.5px,#06edf1 1072.5px,#00bfff 1075.5px,#007cff 1078.5px,#004bff 1081.5px,#0030ff 1084.5px,#001cff 1087.5px,#0001ff 1096.5px,#0000ff 1105.5px,#002cff 1108.5px,#0088ff 1111.5px,#15ffe2 1114.5px,#70ff87 1117.5px,#a5ff52 1120.5px,#98ff5f 1123.5px,#27ffd0 1126.5px,#005dff 1129.5px,#0000ff 1132.5px,#0000f5 1135.5px,#0000f4 1141.5px,#0000ff 1144.5px,#007aff 1147.5px,#68ff8e 1150.5px,#cfff27 1153.5px,#e0ff17 1156.5px,#f1fc06 1198.5px,#f6f701 1210.5px,#ecff0b 1213.5px,#9cff5b 1216.5px,#40ffb7 1219.5px,#30ffc7 1222.5px,#2cffcb 1234.5px,#21ffd6 1240.5px,#23ffd4 1252.5px,#4effa9 1255.5px,#c8ff2f 1258.5px,#ffed00 1261.5px,#ffe600 1270.5px,#ffe400 1486.5px)"></div>
<div style="top:483px;height:3px;background:linear-gradient(90deg,#00a8ff 1.5px,#00abff 34.5px,#00d4ff 100.5px,#00e1fa 115.5px,#09f0ee 133.5px,#19ffde 154.5px,#50ffa6 214.5px,#73ff84 280.5px,#88ff6e 334.5px,#b7ff40 406.5px,#c9ff2e 448.5px,#92ff65 508.5px,#a9ff4e 565.5px,#c3ff34 586.5px,#bfff38 604.5px,#e8ff0f 682.5px,#e5ff12 748.5px,#ceff29 805.5px,#deff19 874.5px,#daff1d 946.5px,#d1ff26 988.5px,#baff3d 991.5px,#55ffa2 994.5px,#0089ff 997.5px,#000cff 1000.5px,#0000f8 1003.5px,#0000f5 1012.5px,#0000f4 1036.5px,#0000ff 1042.5px,#0015ff 1045.5px,#007eff 1051.5px,#009aff 1054.5px,#00a4ff 1066.5px,#008bff 1069.5px,#001bff 1075.5px,#0000ff 1078.5px,#0000fb 1084.5px,#0000ff 1087.5px,#000cff 1090.5px,#002bff 1093.5px,#0029ff 1096.5px,#0000ff 1102.5px,#0002ff 1108.5px,#002aff 1111.5px,#0061ff 1114.5px,#00b0ff 1117.5px,#13fde4 1120.5px,#14ffe2 1123.5px,#0087ff 1126.5px,#0010ff 1129.5px,#0000f9 1132.5px,#0000f3 1138.5px,#0000f5 1141.5px,#0004ff 1144.5px,#009aff 1147.5px,#7fff78 1150.5px,#d6ff21 1153.5px,#e1ff15 1156.5px,#f1fc06 1198.5px,#f6f701 1210.5px,#f1fc06 1213.5px,#aeff49 1216.5px,#3affbd 1219.5px,#1affdc 1222.5px,#1affdd 1252.5px,#33ffc4 1255.5px,#a3ff54 1258.5px,#f7f500 1261.5px,#ffe900 1264.5px,#ffe500 1324.5px,#ffe500 1486.5px)"></div>
<div style="top:486px;height:3px;background:linear-gradient(90deg,#00a3ff 1.5px,#00a7ff 37.5px,#00ceff 100.5px,#00e0fb 121.5px,#0cf5eb 145.5px,#1affdd 160.5px,#4bffab 214.5px,#72ff85 292.5px,#85ff71 337.5px,#b4ff43 409.5px,#c5ff32 448.5px,#89ff6d 508.5px,#a3ff54 568.5px,#b6ff40 589.5px,#c6ff31 619.5px,#e9ff0e 688.5px,#e3ff13 751.5px,#ceff29 805.5px,#deff19 874.5px,#daff1d 946.5px,#d2ff24 985.5px,#cbff2c 988.5px,#92ff65 991.5px,#00dcfe 994.5px,#002bff 997.5px,#0000fd 1000.5px,#0000f4 1003.5px,#0000f9 1009.5px,#0000ff 1015.5px,#0000f4 1024.5px,#0000f7 1042.5px,#0000ff 1045.5px,#0027ff 1048.5px,#0075ff 1051.5px,#0099ff 1054.5px,#009eff 1060.5px,#0097ff 1066.5px,#0079ff 1069.5px,#0035ff 1072.5px,#0000ff 1075.5px,#0000f6 1078.5px,#0000f5 1084.5px,#0000ff 1087.5px,#0032ff 1090.5px,#006dff 1093.5px,#0075ff 1096.5px,#005bff 1099.5px,#002cff 1102.5px,#000aff 1105.5px,#0027ff 1108.5px,#0059ff 1111.5px,#006fff 1114.5px,#008dff 1120.5px,#0089ff 1123.5px,#004fff 1126.5px,#000cff 1129.5px,#0000fd 1132.5px,#0000f5 1135.5px,#0000f6 1141.5px,#000fff 1144.5px,#00beff 1147.5px,#97ff60 1150.5px,#dbff1b 1153.5px,#e3ff14 1156.5px,#f2fc05 1198.5px,#f4f802 1213.5px,#c9ff2e 1216.5px,#50ffa6 1219.5px,#1cffdb 1222.5px,#1bffdc 1252.5px,#26ffd1 1255.5px,#7eff79 1258.5px,#ebff0c 1261.5px,#ffea00 1264.5px,#ffe600 1324.5px,#ffe600 1486.5px)"></div>
<div style="top:489px;height:3px;background:linear-gradient(90deg,#009dff 1.5px,#00a1ff 37.5px,#00caff 103.5px,#00dffc 127.5px,#09f1ee 148.5px,#18ffdf 163.5px,#46ffb0 214.5px,#71ff86 304.5px,#89ff6e 352.5px,#b1ff46 412.5px,#c2ff35 445.5px,#81ff76 505.5px,#9fff58 571.5px,#d2ff25 643.5px,#e8ff0e 688.5px,#e3ff13 751.5px,#ceff29 805.5px,#deff19 874.5px,#dbff1c 907.5px,#d8ff1f 913.5px,#ddff1a 928.5px,#d1ff26 985.5px,#bfff38 988.5px,#5cff9a 991.5px,#007fff 994.5px,#0000ff 997.5px,#0000f5 1000.5px,#0000f7 1006.5px,#0000ff 1009.5px,#0029ff 1012.5px,#0034ff 1015.5px,#0010ff 1018.5px,#0000ff 1021.5px,#0000f6 1024.5px,#0000f7 1027.5px,#0000ff 1030.5px,#0004ff 1039.5px,#0000ff 1045.5px,#0013ff 1048.5px,#005eff 1051.5px,#0091ff 1054.5px,#009dff 1057.5px,#009cff 1066.5px,#008cff 1069.5px,#0051ff 1072.5px,#000aff 1075.5px,#0000fb 1078.5px,#0000f5 1081.5px,#0000f6 1084.5px,#0000ff 1087.5px,#003eff 1090.5px,#0083ff 1093.5px,#0097ff 1096.5px,#008dff 1099.5px,#003cff 1105.5px,#005aff 1108.5px,#0089ff 1111.5px,#0096ff 1114.5px,#0098ff 1120.5px,#0091ff 1123.5px,#0074ff 1126.5px,#000eff 1132.5px,#0000ff 1135.5px,#0000f5 1138.5px,#0000f8 1141.5px,#001dff 1144.5px,#00dffc 1147.5px,#a8ff4f 1150.5px,#dfff17 1153.5px,#e6ff11 1159.5px,#f2fb05 1198.5px,#f6f701 1213.5px,#ddff1a 1216.5px,#6eff89 1219.5px,#23ffd4 1222.5px,#1bffdc 1225.5px,#22ffd5 1237.5px,#2fffc8 1243.5px,#30ffc6 1246.5px,#49ffae 1252.5px,#50ffa7 1255.5px,#84ff72 1258.5px,#e4ff13 1261.5px,#ffeb00 1264.5px,#ffe700 1324.5px,#ffe700 1486.5px)"></div>
<div style="top:492px;height:3px;background:linear-gradient(90deg,#0097ff 1.5px,#009aff 34.5px,#00bfff 97.5px,#00defd 133.5px,#04ebf3 148.5px,#15ffe1 166.5px,#41ffb6 214.5px,#6dff8a 310.5px,#88ff6f 364.5px,#a7ff50 403.5px,#beff39 445.5px,#78ff7f 505.5px,#99ff5e 571.5px,#cdff2a 637.5px,#e8ff0f 688.5px,#e3ff13 751.5px,#ceff29 805.5px,#deff19 874.5px,#dcff1a 895.5px,#d1ff26 901.5px,#c5ff32 904.5px,#9bff5c 910.5px,#9dff5a 913.5px,#cdff2a 919.5px,#d9ff1e 922.5px,#dbff1c 934.5px,#ceff29 985.5px,#aaff4d 988.5px,#20ffd6 991.5px,#0040ff 994.5px,#0000ff 997.5px,#0000f4 1000.5px,#0000f4 1003.5px,#0000fd 1006.5px,#001bff 1009.5px,#0061ff 1012.5px,#0076ff 1015.5px,#004cff 1018.5px,#0013ff 1021.5px,#0000ff 1024.5px,#0000ff 1027.5px,#0017ff 1030.5px,#003aff 1033.5px,#004dff 1036.5px,#004fff 1039.5px,#0039ff 1042.5px,#001aff 1045.5px,#0013ff 1048.5px,#003dff 1051.5px,#007bff 1054.5px,#0099ff 1057.5px,#009eff 1063.5px,#009eff 1066.5px,#0097ff 1069.5px,#0077ff 1072.5px,#003bff 1075.5px,#000fff 1078.5px,#0000ff 1081.5px,#0000ff 1087.5px,#002dff 1090.5px,#0074ff 1093.5px,#0092ff 1096.5px,#0096ff 1099.5px,#0086ff 1102.5px,#0068ff 1105.5px,#007aff 1108.5px,#0097ff 1111.5px,#009eff 1117.5px,#009cff 1123.5px,#0095ff 1126.5px,#007cff 1129.5px,#0049ff 1132.5px,#000eff 1135.5px,#0000fc 1138.5px,#0000fc 1141.5px,#0037ff 1144.5px,#21ffd6 1147.5px,#baff3c 1150.5px,#e3ff14 1153.5px,#f2fb05 1198.5px,#f6f600 1213.5px,#ebff0c 1216.5px,#9bff5b 1219.5px,#53ffa4 1222.5px,#4affac 1225.5px,#4effa8 1228.5px,#72ff85 1234.5px,#78ff7f 1237.5px,#a0ff57 1243.5px,#a3ff54 1246.5px,#c7ff30 1252.5px,#ccff2b 1255.5px,#d9ff1e 1258.5px,#f5f702 1261.5px,#ffec00 1264.5px,#ffe800 1324.5px,#ffe800 1486.5px)"></div>
<div style="top:495px;height:3px;background:linear-gradient(90deg,#0092ff 1.5px,#0096ff 37.5px,#00bbff 100.5px,#00dffc 142.5px,#05ecf2 154.5px,#16ffe0 172.5px,#3effb9 217.5px,#69ff8e 319.5px,#80ff77 367.5px,#a1ff56 403.5px,#b9ff3d 445.5px,#70ff87 505.5px,#93ff63 571.5px,#c9ff2d 634.5px,#e8ff0f 688.5px,#e3ff13 751.5px,#ceff29 805.5px,#deff19 874.5px,#dcff1b 892.5px,#cbff2c 895.5px,#7aff7c 901.5px,#4dffaa 904.5px,#16ffe0 907.5px,#00ceff 910.5px,#00d6ff 913.5px,#2affcc 916.5px,#6fff88 919.5px,#a8ff4f 922.5px,#c7ff30 925.5px,#d3ff24 928.5px,#d0ff27 934.5px,#b4ff43 946.5px,#bcff3b 949.5px,#ccff2b 952.5px,#d4ff23 955.5px,#d0ff27 982.5px,#c7ff2f 985.5px,#85ff71 988.5px,#00beff 991.5px,#0016ff 994.5px,#0000f7 997.5px,#0000f4 1003.5px,#0000fe 1006.5px,#0020ff 1009.5px,#0070ff 1012.5px,#0092ff 1015.5px,#0080ff 1018.5px,#0014ff 1024.5px,#0003ff 1027.5px,#0032ff 1030.5px,#006fff 1033.5px,#008aff 1036.5px,#008dff 1039.5px,#007fff 1042.5px,#0048ff 1048.5px,#003fff 1051.5px,#0062ff 1054.5px,#008eff 1057.5px,#009cff 1060.5px,#009cff 1069.5px,#0095ff 1072.5px,#007cff 1075.5px,#0014ff 1084.5px,#0000ff 1087.5px,#000dff 1090.5px,#003eff 1093.5px,#0061ff 1096.5px,#0075ff 1099.5px,#0078ff 1102.5px,#006aff 1105.5px,#008cff 1111.5px,#009bff 1120.5px,#009bff 1126.5px,#0094ff 1129.5px,#0077ff 1132.5px,#0036ff 1135.5px,#0000ff 1138.5px,#0000ff 1141.5px,#0065ff 1144.5px,#50ffa6 1147.5px,#ccff2b 1150.5px,#e6ff11 1153.5px,#f2fb05 1195.5px,#f6f600 1213.5px,#f4f903 1216.5px,#c7ff30 1222.5px,#caff2c 1228.5px,#e3ff14 1234.5px,#edff09 1240.5px,#faf100 1252.5px,#ffe900 1282.5px,#ffe900 1486.5px)"></div>
<div style="top:498px;height:3px;background:linear-gradient(90deg,#008cff 1.5px,#0090ff 37.5px,#00b5ff 100.5px,#00defc 148.5px,#06edf1 160.5px,#17ffe0 178.5px,#37ffc0 214.5px,#5dff9a 307.5px,#70ff87 361.5px,#7bff7c 373.5px,#67ff90 376.5px,#22ffd5 379.5px,#7aff7c 382.5px,#88ff6e 385.5px,#aeff49 433.5px,#b3ff43 448.5px,#67ff90 505.5px,#8eff69 571.5px,#c8ff2f 634.5px,#e7ff10 688.5px,#e3ff13 751.5px,#ceff29 805.5px,#deff19 874.5px,#deff19 889.5px,#d5ff22 892.5px,#99ff5e 895.5px,#20ffd7 898.5px,#009fff 901.5px,#0062ff 904.5px,#0033ff 907.5px,#0018ff 910.5px,#001dff 913.5px,#0048ff 916.5px,#0098ff 919.5px,#11fae6 922.5px,#54ffa2 925.5px,#81ff76 928.5px,#8cff6b 931.5px,#65ff92 937.5px,#2effc9 943.5px,#24ffd3 946.5px,#43ffb4 949.5px,#85ff71 952.5px,#b8ff3f 955.5px,#cdff2a 958.5px,#d4ff23 964.5px,#ceff29 982.5px,#b9ff3e 985.5px,#4dffaa 988.5px,#006eff 991.5px,#0000ff 994.5px,#0000f5 997.5px,#0000f4 1003.5px,#0000fa 1006.5px,#0014ff 1009.5px,#0063ff 1012.5px,#0094ff 1015.5px,#0097ff 1018.5px,#0080ff 1021.5px,#0014ff 1027.5px,#0022ff 1030.5px,#0064ff 1033.5px,#0091ff 1036.5px,#009cff 1039.5px,#0094ff 1045.5px,#0072ff 1051.5px,#006cff 1054.5px,#0094ff 1060.5px,#009eff 1066.5px,#0098ff 1075.5px,#008eff 1078.5px,#0078ff 1081.5px,#0044ff 1084.5px,#0006ff 1087.5px,#0000ff 1093.5px,#0027ff 1099.5px,#0032ff 1102.5px,#0034ff 1105.5px,#0050ff 1111.5px,#0072ff 1117.5px,#007dff 1120.5px,#0080ff 1129.5px,#006cff 1132.5px,#0005ff 1138.5px,#0018ff 1141.5px,#00baff 1144.5px,#8dff6a 1147.5px,#dcff1b 1150.5px,#e8ff0e 1153.5px,#f4f903 1201.5px,#ffea00 1288.5px,#ffea00 1486.5px)"></div>
<div style="top:501px;height:3px;background:linear-gradient(90deg,#0087ff 1.5px,#008aff 37.5px,#00afff 100.5px,#00dffc 154.5px,#0cf5ea 172.5px,#18ffdf 184.5px,#32ffc5 214.5px,#4affad 277.5px,#53ffa4 307.5px,#4cffab 310.5px,#00e5f7 313.5px,#2cffca 316.5px,#56ffa1 319.5px,#68ff8f 364.5px,#70ff87 373.5px,#22ffd4 376.5px,#0054ff 379.5px,#3cffba 382.5px,#7dff7a 385.5px,#a8ff4f 433.5px,#b0ff47 445.5px,#80ff77 481.5px,#5eff99 505.5px,#8cff6b 574.5px,#c6ff31 634.5px,#e7ff10 688.5px,#e3ff13 751.5px,#ceff29 805.5px,#deff19 874.5px,#deff19 889.5px,#d0ff27 892.5px,#72ff85 895.5px,#0093ff 898.5px,#0014ff 901.5px,#0000ff 904.5px,#0000f7 910.5px,#0000ff 916.5px,#002dff 919.5px,#0065ff 922.5px,#008fff 925.5px,#00afff 928.5px,#00b6ff 931.5px,#0042ff 943.5px,#003bff 946.5px,#0062ff 949.5px,#00c8ff 952.5px,#49ffae 955.5px,#90ff67 958.5px,#b9ff3e 961.5px,#ccff2b 964.5px,#d1ff26 970.5px,#cfff28 979.5px,#caff2d 982.5px,#9eff58 985.5px,#0cf4eb 988.5px,#0031ff 991.5px,#0000fc 994.5px,#0000f4 997.5px,#0000f7 1006.5px,#0003ff 1009.5px,#0089ff 1015.5px,#009bff 1018.5px,#0097ff 1021.5px,#0078ff 1024.5px,#003aff 1027.5px,#0013ff 1030.5px,#003bff 1033.5px,#0079ff 1036.5px,#0095ff 1039.5px,#009dff 1045.5px,#0096ff 1051.5px,#008dff 1057.5px,#009dff 1069.5px,#0090ff 1075.5px,#0085ff 1078.5px,#0073ff 1081.5px,#003eff 1084.5px,#0001ff 1087.5px,#0000f7 1090.5px,#0000fa 1096.5px,#0000ff 1102.5px,#0000ff 1108.5px,#0005ff 1111.5px,#002fff 1120.5px,#0036ff 1129.5px,#0026ff 1132.5px,#000aff 1135.5px,#0000ff 1138.5px,#0048ff 1141.5px,#2dffca 1144.5px,#bdff39 1147.5px,#e6ff11 1150.5px,#ecff0b 1159.5px,#faf200 1237.5px,#ffeb00 1309.5px,#ffeb00 1486.5px)"></div>
<div style="top:504px;height:3px;background:linear-gradient(90deg,#0081ff 1.5px,#0085ff 37.5px,#00a6ff 97.5px,#00ddfe 157.5px,#07efef 172.5px,#16ffe1 187.5px,#2dffca 214.5px,#41ffb5 268.5px,#47ffaf 304.5px,#3cffbb 307.5px,#21ffd6 310.5px,#004fff 313.5px,#0072ff 316.5px,#37ffc0 319.5px,#33ffc4 322.5px,#19ffde 325.5px,#47ffaf 328.5px,#0af2ed 331.5px,#3bffbb 334.5px,#52ffa4 337.5px,#67ff90 373.5px,#3effb9 376.5px,#008fff 379.5px,#57ffa0 382.5px,#72ff84 385.5px,#81ff76 400.5px,#7aff7d 403.5px,#7bff7c 406.5px,#89ff6d 409.5px,#aaff4d 445.5px,#7aff7d 481.5px,#56ffa1 505.5px,#83ff74 571.5px,#c2ff35 631.5px,#e6ff11 688.5px,#e3ff14 751.5px,#ceff29 805.5px,#deff19 874.5px,#ddff19 889.5px,#cfff28 892.5px,#69ff8e 895.5px,#007aff 898.5px,#0000ff 901.5px,#0000f5 904.5px,#0000f5 913.5px,#0000ff 916.5px,#0034ff 919.5px,#0071ff 922.5px,#0080ff 925.5px,#0074ff 928.5px,#0055ff 931.5px,#0024ff 934.5px,#0001ff 937.5px,#0000ff 949.5px,#0023ff 952.5px,#0070ff 955.5px,#00d8ff 958.5px,#4dffa9 961.5px,#95ff61 964.5px,#b9ff3e 967.5px,#c1ff36 970.5px,#bfff38 979.5px,#b4ff43 982.5px,#6dff8a 985.5px,#00a4ff 988.5px,#000fff 991.5px,#0000f8 994.5px,#0000f3 1003.5px,#0000f5 1006.5px,#0000ff 1009.5px,#0027ff 1012.5px,#006dff 1015.5px,#0091ff 1018.5px,#009aff 1021.5px,#0091ff 1024.5px,#0063ff 1027.5px,#001dff 1030.5px,#0012ff 1033.5px,#0072ff 1039.5px,#008fff 1042.5px,#009aff 1045.5px,#009aff 1060.5px,#0093ff 1066.5px,#0096ff 1069.5px,#0091ff 1072.5px,#0077ff 1075.5px,#004fff 1078.5px,#000dff 1084.5px,#0000ff 1087.5px,#0000f4 1090.5px,#0000f7 1111.5px,#0000ff 1123.5px,#0000fc 1135.5px,#0006ff 1138.5px,#0076ff 1141.5px,#44ffb3 1144.5px,#d3ff24 1147.5px,#eaff0d 1150.5px,#f8f400 1228.5px,#ffec00 1303.5px,#ffec00 1486.5px)"></div>
<div style="top:507px;height:3px;background:linear-gradient(90deg,#007eff 1.5px,#0081ff 37.5px,#009fff 94.5px,#00dcfe 160.5px,#04ebf3 172.5px,#15ffe1 190.5px,#29ffcd 214.5px,#3effb9 265.5px,#3effb9 292.5px,#40ffb7 301.5px,#12fce5 304.5px,#0076ff 307.5px,#00bcff 310.5px,#0051ff 313.5px,#0046ff 316.5px,#00b3ff 319.5px,#0094ff 322.5px,#004dff 325.5px,#00ceff 328.5px,#0065ff 331.5px,#0078ff 334.5px,#38ffbf 337.5px,#4effa8 340.5px,#61ff96 373.5px,#5fff97 376.5px,#44ffb2 379.5px,#66ff91 382.5px,#75ff82 400.5px,#0df6e9 403.5px,#00a5ff 406.5px,#66ff91 409.5px,#82ff75 412.5px,#a2ff55 445.5px,#79ff7d 478.5px,#51ffa5 505.5px,#7cff7b 568.5px,#bdff39 631.5px,#e2ff14 688.5px,#e1ff16 751.5px,#ccff2b 805.5px,#dbff1c 874.5px,#dbff1c 889.5px,#ccff2b 892.5px,#67ff90 895.5px,#0077ff 898.5px,#0000ff 901.5px,#0000f4 904.5px,#0000f4 913.5px,#0000ff 916.5px,#002bff 919.5px,#0073ff 922.5px,#0093ff 925.5px,#0093ff 928.5px,#007aff 931.5px,#0001ff 937.5px,#0000f4 943.5px,#0002ff 955.5px,#0028ff 958.5px,#0078ff 961.5px,#02e9f4 964.5px,#46ffb1 967.5px,#5bff9b 970.5px,#59ff9d 979.5px,#47ffb0 982.5px,#00e6f6 985.5px,#0066ff 988.5px,#0016ff 991.5px,#0000ff 994.5px,#0000f4 1003.5px,#0000f8 1009.5px,#0003ff 1012.5px,#0065ff 1018.5px,#0085ff 1021.5px,#0090ff 1024.5px,#0075ff 1027.5px,#002dff 1030.5px,#0000ff 1033.5px,#0007ff 1036.5px,#0030ff 1039.5px,#0062ff 1042.5px,#0085ff 1045.5px,#0096ff 1048.5px,#009eff 1054.5px,#009cff 1060.5px,#0096ff 1063.5px,#0063ff 1072.5px,#0044ff 1075.5px,#0018ff 1078.5px,#0000ff 1081.5px,#0000f4 1090.5px,#0000f5 1132.5px,#0000fd 1135.5px,#0019ff 1141.5px,#0058ff 1144.5px,#8dff6a 1147.5px,#e7ff10 1150.5px,#effe08 1174.5px,#fbf100 1255.5px,#feed00 1339.5px,#feed00 1486.5px)"></div>
<div style="top:510px;height:3px;background:linear-gradient(90deg,#007bff 1.5px,#007eff 37.5px,#009bff 94.5px,#00d9ff 160.5px,#04ebf2 175.5px,#16ffe1 193.5px,#28ffcf 217.5px,#3bffbc 265.5px,#36ffc1 286.5px,#3affbc 301.5px,#00d6ff 304.5px,#003cff 307.5px,#0065ff 310.5px,#009cff 313.5px,#0071ff 316.5px,#0081ff 319.5px,#003eff 322.5px,#003aff 325.5px,#008fff 328.5px,#0091ff 331.5px,#003dff 334.5px,#00cfff 337.5px,#49ffae 340.5px,#5aff9d 370.5px,#56ffa1 373.5px,#64ff93 385.5px,#6bff8b 400.5px,#00c6ff 403.5px,#0041ff 406.5px,#23ffd4 409.5px,#77ff80 412.5px,#97ff60 448.5px,#69ff8e 487.5px,#4effa8 505.5px,#4effa9 517.5px,#63ff94 538.5px,#7fff78 574.5px,#baff3d 634.5px,#ddff1a 688.5px,#dfff18 748.5px,#c8ff2f 805.5px,#d7ff20 874.5px,#d7ff20 889.5px,#c9ff2e 892.5px,#64ff93 895.5px,#0076ff 898.5px,#0000ff 901.5px,#0000f4 904.5px,#0000f4 913.5px,#0000fa 916.5px,#000bff 919.5px,#0049ff 922.5px,#007dff 925.5px,#0093ff 928.5px,#008fff 931.5px,#0066ff 934.5px,#001dff 937.5px,#0000ff 940.5px,#0000f6 943.5px,#0000ff 946.5px,#0017ff 952.5px,#0000ff 958.5px,#0005ff 961.5px,#005eff 967.5px,#0070ff 970.5px,#0079ff 979.5px,#0081ff 982.5px,#007dff 985.5px,#0070ff 988.5px,#0000ff 1000.5px,#0000f4 1009.5px,#0000ff 1015.5px,#001eff 1018.5px,#0046ff 1021.5px,#0060ff 1024.5px,#0059ff 1027.5px,#0026ff 1030.5px,#0000ff 1033.5px,#0000fc 1036.5px,#0008ff 1039.5px,#003eff 1042.5px,#0067ff 1045.5px,#008cff 1051.5px,#0097ff 1054.5px,#0097ff 1057.5px,#006dff 1066.5px,#001dff 1072.5px,#0004ff 1075.5px,#0000ff 1078.5px,#0000f4 1084.5px,#0000f4 1129.5px,#0000ff 1135.5px,#0000f8 1138.5px,#0000ea 1141.5px,#0000f2 1144.5px,#0072ff 1147.5px,#5aff9d 1150.5px,#dbff1b 1153.5px,#eaff0c 1156.5px,#f8f500 1240.5px,#feee00 1303.5px,#feee00 1486.5px)"></div>
<div style="top:513px;height:3px;background:linear-gradient(90deg,#0078ff 1.5px,#007cff 37.5px,#0097ff 94.5px,#00d6ff 160.5px,#02e8f5 175.5px,#16ffe1 196.5px,#28ffcf 223.5px,#39ffbe 265.5px,#33ffc4 274.5px,#08efef 277.5px,#14fee3 280.5px,#31ffc6 283.5px,#35ffc2 298.5px,#05ebf2 301.5px,#0081ff 304.5px,#0053ff 307.5px,#0087ff 310.5px,#26ffd1 313.5px,#22ffd4 316.5px,#17ffe0 319.5px,#0082ff 322.5px,#0055ff 325.5px,#0092ff 328.5px,#05ecf1 331.5px,#005aff 334.5px,#008cff 337.5px,#3fffb8 340.5px,#49ffae 343.5px,#56ffa1 370.5px,#00e5f7 373.5px,#09f1ee 376.5px,#5aff9c 379.5px,#67ff90 400.5px,#30ffc6 403.5px,#00a6ff 406.5px,#33ffc4 409.5px,#6fff88 412.5px,#8bff6c 448.5px,#6eff89 481.5px,#4bffab 505.5px,#47ffb0 511.5px,#3affbc 514.5px,#36ffc1 517.5px,#58ff9f 532.5px,#8aff6d 589.5px,#b5ff42 634.5px,#d8ff1f 688.5px,#dbff1b 748.5px,#c5ff32 805.5px,#d4ff23 880.5px,#d4ff23 889.5px,#c5ff31 892.5px,#62ff94 895.5px,#0076ff 898.5px,#0000ff 901.5px,#0000f4 904.5px,#0000f5 916.5px,#0000ff 919.5px,#0010ff 922.5px,#0040ff 925.5px,#0067ff 928.5px,#0078ff 931.5px,#0063ff 934.5px,#0026ff 937.5px,#0000ff 940.5px,#0000f9 943.5px,#0005ff 946.5px,#0040ff 949.5px,#0062ff 952.5px,#0051ff 955.5px,#0001ff 961.5px,#0001ff 976.5px,#002aff 979.5px,#0067ff 982.5px,#008bff 985.5px,#0094ff 988.5px,#008fff 991.5px,#0081ff 994.5px,#006cff 997.5px,#0040ff 1000.5px,#0009ff 1003.5px,#0000fb 1006.5px,#0000ff 1018.5px,#0004ff 1021.5px,#0013ff 1024.5px,#0013ff 1027.5px,#0002ff 1030.5px,#0000f9 1036.5px,#000cff 1039.5px,#0051ff 1042.5px,#0079ff 1045.5px,#006fff 1051.5px,#0077ff 1054.5px,#0074ff 1057.5px,#0050ff 1060.5px,#0036ff 1063.5px,#0034ff 1066.5px,#0022ff 1069.5px,#0006ff 1072.5px,#0000ff 1078.5px,#0000f4 1087.5px,#0000f4 1129.5px,#0000fe 1132.5px,#0000ff 1135.5px,#0000eb 1138.5px,#0000ea 1147.5px,#0025ff 1150.5px,#84ff73 1153.5px,#e7ff10 1156.5px,#f3fa04 1219.5px,#fdef00 1297.5px,#fdef00 1486.5px)"></div>
<div style="top:516px;height:3px;background:linear-gradient(90deg,#0076ff 1.5px,#0079ff 37.5px,#0093ff 94.5px,#00d6ff 163.5px,#02e8f5 178.5px,#16ffe1 199.5px,#28ffcf 229.5px,#37ffc0 265.5px,#34ffc2 271.5px,#26ffd1 274.5px,#006cff 277.5px,#006cff 280.5px,#21ffd6 283.5px,#2fffc8 286.5px,#30ffc6 298.5px,#008cff 301.5px,#0039ff 304.5px,#006fff 307.5px,#1effd9 310.5px,#38ffbe 313.5px,#3affbd 316.5px,#33ffc4 319.5px,#1fffd8 322.5px,#07eef0 325.5px,#11fae6 328.5px,#3cffbb 331.5px,#29ffce 334.5px,#28ffcf 337.5px,#44ffb3 340.5px,#52ffa4 367.5px,#46ffb1 370.5px,#0075ff 373.5px,#006fff 376.5px,#48ffaf 379.5px,#5aff9d 382.5px,#62ff94 403.5px,#36ffc1 406.5px,#00ceff 409.5px,#49ffad 412.5px,#6aff8d 415.5px,#7fff77 448.5px,#6aff8d 481.5px,#47ffb0 508.5px,#3effb9 511.5px,#2bffcc 514.5px,#21ffd6 517.5px,#29ffcd 523.5px,#54ffa3 538.5px,#67ff90 553.5px,#95ff62 604.5px,#bcff3b 652.5px,#d3ff24 688.5px,#d8ff1f 748.5px,#c2ff35 808.5px,#d0ff26 886.5px,#d0ff27 889.5px,#c3ff33 892.5px,#67ff90 895.5px,#0080ff 898.5px,#0000ff 901.5px,#0000f4 904.5px,#0000f5 919.5px,#0001ff 925.5px,#002dff 931.5px,#0025ff 934.5px,#0006ff 937.5px,#0000f8 943.5px,#0005ff 946.5px,#004eff 949.5px,#0086ff 952.5px,#0089ff 955.5px,#006aff 958.5px,#0000ff 964.5px,#0000f4 970.5px,#0000f5 973.5px,#0000ff 976.5px,#002fff 979.5px,#007aff 982.5px,#0099ff 985.5px,#009cff 994.5px,#0098ff 997.5px,#007fff 1000.5px,#003cff 1003.5px,#0003ff 1006.5px,#0006ff 1009.5px,#0016ff 1012.5px,#0017ff 1015.5px,#0000ff 1024.5px,#0000fe 1030.5px,#0000f6 1033.5px,#0000f8 1036.5px,#0009ff 1039.5px,#004fff 1042.5px,#0083ff 1045.5px,#008cff 1048.5px,#0079ff 1051.5px,#0013ff 1060.5px,#0016ff 1063.5px,#0031ff 1066.5px,#0039ff 1069.5px,#0033ff 1075.5px,#0028ff 1078.5px,#000bff 1081.5px,#0000ff 1084.5px,#0000f5 1087.5px,#0000f5 1117.5px,#0000fb 1123.5px,#0000f7 1129.5px,#0000ff 1132.5px,#0019ff 1135.5px,#0000f2 1138.5px,#0000e8 1141.5px,#0000e8 1147.5px,#0000f1 1150.5px,#00afff 1153.5px,#c5ff32 1156.5px,#e7ff0f 1159.5px,#f2fb04 1222.5px,#fcf000 1294.5px,#fcf000 1486.5px)"></div>
<div style="top:519px;height:3px;background:linear-gradient(90deg,#0073ff 1.5px,#0077ff 40.5px,#008fff 94.5px,#00daff 169.5px,#05ebf2 184.5px,#16ffe1 202.5px,#35ffc2 265.5px,#33ffc4 271.5px,#2dffca 274.5px,#00b0ff 277.5px,#0066ff 280.5px,#19ffde 283.5px,#2cffca 286.5px,#2fffc8 298.5px,#00a2ff 301.5px,#0039ff 304.5px,#0066ff 307.5px,#27ffd0 310.5px,#36ffc1 313.5px,#37ffbf 316.5px,#00e0fb 319.5px,#0058ff 322.5px,#00e2f9 325.5px,#3cffbb 328.5px,#26ffd1 331.5px,#0bf3ec 334.5px,#32ffc5 337.5px,#42ffb5 340.5px,#50ffa7 367.5px,#4cffaa 370.5px,#00a1ff 373.5px,#006aff 376.5px,#40ffb6 379.5px,#57ffa0 382.5px,#5dff99 403.5px,#00a9ff 406.5px,#003fff 409.5px,#00adff 412.5px,#61ff96 415.5px,#6aff8d 424.5px,#76ff81 448.5px,#73ff84 451.5px,#30ffc7 457.5px,#32ffc5 460.5px,#46ffb1 463.5px,#6aff8d 466.5px,#66ff91 481.5px,#43ffb4 508.5px,#37ffc0 511.5px,#23ffd4 514.5px,#1affdc 517.5px,#1dffd9 526.5px,#30ffc7 535.5px,#5aff9d 550.5px,#96ff61 610.5px,#cbff2c 682.5px,#d5ff22 748.5px,#beff39 805.5px,#cdff2a 889.5px,#c4ff33 892.5px,#7bff7c 895.5px,#00a4ff 898.5px,#0009ff 901.5px,#0000f6 904.5px,#0000f4 922.5px,#0000ff 931.5px,#0000f9 937.5px,#0000f5 943.5px,#0000ff 946.5px,#0035ff 949.5px,#007bff 952.5px,#0096ff 955.5px,#0090ff 958.5px,#006aff 961.5px,#0025ff 964.5px,#0000ff 967.5px,#0000f5 970.5px,#0000f4 973.5px,#0000ff 976.5px,#0023ff 979.5px,#006aff 982.5px,#0090ff 985.5px,#009bff 988.5px,#009eff 997.5px,#0098ff 1000.5px,#0073ff 1003.5px,#0034ff 1006.5px,#003cff 1009.5px,#0062ff 1012.5px,#0069ff 1015.5px,#0060ff 1018.5px,#002aff 1027.5px,#000bff 1030.5px,#0000ff 1033.5px,#0000f7 1036.5px,#0000ff 1039.5px,#0020ff 1042.5px,#0055ff 1045.5px,#0074ff 1048.5px,#0073ff 1051.5px,#004aff 1054.5px,#0012ff 1057.5px,#0000ff 1060.5px,#001dff 1063.5px,#005cff 1066.5px,#007bff 1069.5px,#0081ff 1072.5px,#0080ff 1075.5px,#0073ff 1078.5px,#0049ff 1081.5px,#0012ff 1084.5px,#0000ff 1087.5px,#0000f5 1090.5px,#0000f5 1114.5px,#0000fe 1117.5px,#0006ff 1120.5px,#0016ff 1123.5px,#0010ff 1126.5px,#0002ff 1129.5px,#0003ff 1132.5px,#002dff 1135.5px,#0000ff 1138.5px,#0000e9 1141.5px,#0000e8 1150.5px,#000bff 1153.5px,#5fff97 1156.5px,#e1ff16 1159.5px,#e8ff0e 1171.5px,#f3fa04 1234.5px,#fbf100 1297.5px,#fbf100 1486.5px)"></div>
<div style="top:522px;height:3px;background:linear-gradient(90deg,#0071ff 1.5px,#0073ff 37.5px,#008bff 94.5px,#00daff 172.5px,#05ebf2 187.5px,#16ffe1 205.5px,#33ffc4 265.5px,#2fffc8 274.5px,#29ffcd 277.5px,#11fbe6 280.5px,#24ffd3 283.5px,#2affcc 286.5px,#2effc9 298.5px,#04eaf3 301.5px,#007aff 304.5px,#00bdff 307.5px,#31ffc6 310.5px,#35ffc2 316.5px,#00dcff 319.5px,#0041ff 322.5px,#00d0ff 325.5px,#39ffbd 328.5px,#08efef 331.5px,#004fff 334.5px,#008cff 337.5px,#37ffc0 340.5px,#41ffb6 343.5px,#4effa9 370.5px,#30ffc7 376.5px,#50ffa7 379.5px,#56ffa1 385.5px,#54ffa3 388.5px,#34ffc3 391.5px,#55ffa1 394.5px,#5bff9b 403.5px,#00d7ff 406.5px,#0046ff 409.5px,#006fff 412.5px,#4dffa9 415.5px,#63ff94 418.5px,#6bff8c 439.5px,#4affad 442.5px,#65ff92 445.5px,#6eff89 448.5px,#6bff8c 451.5px,#15ffe1 454.5px,#0051ff 457.5px,#005eff 460.5px,#0090ff 463.5px,#58ff9f 466.5px,#62ff94 469.5px,#62ff95 481.5px,#3fffb8 508.5px,#1fffd7 514.5px,#19ffde 520.5px,#1dffda 535.5px,#2dffca 544.5px,#5bff9c 562.5px,#7bff7c 586.5px,#adff4a 646.5px,#c9ff2e 691.5px,#d1ff25 748.5px,#bbff3c 805.5px,#c9ff2e 889.5px,#c5ff32 892.5px,#93ff63 895.5px,#00daff 898.5px,#0020ff 901.5px,#0000f9 904.5px,#0000f3 910.5px,#0000f4 943.5px,#0000fb 946.5px,#0010ff 949.5px,#0052ff 952.5px,#0084ff 955.5px,#0095ff 958.5px,#0088ff 961.5px,#004fff 964.5px,#0008ff 967.5px,#0000f8 970.5px,#0000f4 973.5px,#0003ff 979.5px,#0061ff 985.5px,#0086ff 988.5px,#0099ff 991.5px,#009eff 1000.5px,#0093ff 1003.5px,#006cff 1006.5px,#0065ff 1009.5px,#008aff 1012.5px,#0096ff 1015.5px,#008eff 1021.5px,#0086ff 1024.5px,#0074ff 1027.5px,#0048ff 1030.5px,#000eff 1033.5px,#0000fd 1036.5px,#0000f7 1039.5px,#0000ff 1042.5px,#000fff 1045.5px,#0029ff 1048.5px,#002fff 1051.5px,#0000ff 1057.5px,#0000fc 1060.5px,#000bff 1063.5px,#004fff 1066.5px,#0086ff 1069.5px,#0099ff 1072.5px,#0097ff 1078.5px,#007fff 1081.5px,#0047ff 1084.5px,#0008ff 1087.5px,#0000f9 1090.5px,#0000f3 1096.5px,#0000f4 1111.5px,#0000f9 1114.5px,#0008ff 1117.5px,#0041ff 1120.5px,#0064ff 1123.5px,#005eff 1126.5px,#0035ff 1132.5px,#006dff 1138.5px,#0000f7 1141.5px,#0000e8 1144.5px,#0000e8 1150.5px,#0000f2 1153.5px,#00caff 1156.5px,#c9ff2e 1159.5px,#ddff1a 1162.5px,#e6ff10 1171.5px,#f2fb05 1234.5px,#faf200 1294.5px,#faf200 1486.5px)"></div>
<div style="top:525px;height:3px;background:linear-gradient(90deg,#006eff 1.5px,#0072ff 40.5px,#0087ff 94.5px,#00daff 175.5px,#05ebf2 190.5px,#15ffe1 208.5px,#31ffc5 268.5px,#29ffce 289.5px,#2cffca 301.5px,#27ffd0 304.5px,#31ffc6 310.5px,#33ffc4 316.5px,#22ffd5 319.5px,#008bff 322.5px,#00c4ff 325.5px,#36ffc1 328.5px,#30ffc7 331.5px,#0084ff 334.5px,#0089ff 337.5px,#35ffc2 340.5px,#3fffb8 343.5px,#53ffa4 385.5px,#2dffca 388.5px,#0069ff 391.5px,#17ffe0 394.5px,#57ffa0 397.5px,#55ffa2 403.5px,#00d8ff 406.5px,#00c3ff 409.5px,#34ffc3 412.5px,#5bff9c 415.5px,#66ff91 436.5px,#5dff9a 439.5px,#009aff 442.5px,#04eaf3 445.5px,#67ff8f 448.5px,#65ff91 451.5px,#2cffcb 454.5px,#006fff 457.5px,#003fff 460.5px,#0065ff 463.5px,#46ffb1 466.5px,#5cff9b 469.5px,#5eff99 481.5px,#3affbd 508.5px,#1dffda 514.5px,#19ffde 526.5px,#1cffdb 544.5px,#2cffca 556.5px,#6fff88 583.5px,#87ff70 604.5px,#c2ff35 685.5px,#cfff27 745.5px,#b8ff3f 808.5px,#c4ff33 892.5px,#a6ff51 895.5px,#23ffd4 898.5px,#0041ff 901.5px,#0000fe 904.5px,#0000f4 907.5px,#0000f5 946.5px,#0000ff 949.5px,#0019ff 952.5px,#004dff 955.5px,#0077ff 958.5px,#0083ff 961.5px,#005dff 964.5px,#0015ff 967.5px,#0000fb 970.5px,#0000f4 973.5px,#0000fa 979.5px,#0000ff 982.5px,#0019ff 985.5px,#0076ff 991.5px,#0091ff 994.5px,#009bff 997.5px,#009cff 1003.5px,#0088ff 1006.5px,#006aff 1009.5px,#0096ff 1015.5px,#009dff 1021.5px,#0096ff 1027.5px,#007cff 1030.5px,#0004ff 1036.5px,#0000f6 1042.5px,#0000ff 1051.5px,#0000f5 1060.5px,#0000ff 1063.5px,#0021ff 1066.5px,#0063ff 1069.5px,#008eff 1072.5px,#009aff 1075.5px,#009aff 1078.5px,#0091ff 1081.5px,#006dff 1084.5px,#0024ff 1087.5px,#0000ff 1090.5px,#0000f4 1093.5px,#0000f4 1111.5px,#0000fc 1114.5px,#001aff 1117.5px,#0066ff 1120.5px,#008fff 1123.5px,#0093ff 1126.5px,#007aff 1132.5px,#0077ff 1135.5px,#00a4ff 1138.5px,#001aff 1141.5px,#0000ed 1144.5px,#0000e8 1150.5px,#0000e9 1153.5px,#0022ff 1156.5px,#14fee3 1159.5px,#62ff95 1162.5px,#cbff2c 1165.5px,#deff19 1168.5px,#e9ff0e 1189.5px,#f2fb05 1240.5px,#f9f300 1297.5px,#f9f300 1486.5px)"></div>
<div style="top:528px;height:3px;background:linear-gradient(90deg,#006cff 1.5px,#0070ff 43.5px,#0083ff 94.5px,#00defd 181.5px,#05ebf2 193.5px,#16ffe1 214.5px,#30ffc7 268.5px,#26ffd1 286.5px,#00d4ff 289.5px,#00dffc 292.5px,#28ffce 295.5px,#32ffc5 319.5px,#2cffca 322.5px,#36ffc1 331.5px,#1fffd8 334.5px,#27ffcf 337.5px,#3affbc 340.5px,#50ffa7 385.5px,#2affcd 388.5px,#005aff 391.5px,#00dffc 394.5px,#53ffa3 397.5px,#55ffa2 400.5px,#41ffb6 403.5px,#005eff 406.5px,#0057ff 409.5px,#30ffc7 412.5px,#5aff9c 415.5px,#62ff95 439.5px,#00e5f7 442.5px,#00b8ff 445.5px,#61ff95 448.5px,#5dff9a 454.5px,#44ffb3 457.5px,#00ddfd 460.5px,#22ffd4 463.5px,#53ffa3 466.5px,#5aff9d 481.5px,#36ffc1 508.5px,#1bffdb 514.5px,#1affdd 553.5px,#28ffce 568.5px,#51ffa6 583.5px,#75ff82 592.5px,#8aff6d 613.5px,#beff38 691.5px,#cbff2c 748.5px,#b4ff43 805.5px,#c2ff35 892.5px,#b1ff46 895.5px,#4cffab 898.5px,#006bff 901.5px,#0000ff 904.5px,#0000f4 907.5px,#0000f6 949.5px,#0000ff 952.5px,#000cff 955.5px,#0032ff 958.5px,#0047ff 961.5px,#0031ff 964.5px,#0005ff 967.5px,#0000f4 973.5px,#0000f6 982.5px,#0000fe 985.5px,#0003ff 988.5px,#0027ff 991.5px,#0078ff 997.5px,#008dff 1000.5px,#0090ff 1003.5px,#0076ff 1006.5px,#0044ff 1009.5px,#004aff 1012.5px,#0076ff 1015.5px,#0093ff 1018.5px,#009cff 1021.5px,#009dff 1027.5px,#0094ff 1030.5px,#006bff 1033.5px,#0022ff 1036.5px,#0000ff 1039.5px,#0000f4 1042.5px,#0000f7 1063.5px,#0000ff 1066.5px,#002dff 1069.5px,#0065ff 1072.5px,#007dff 1075.5px,#007dff 1078.5px,#0073ff 1081.5px,#005aff 1084.5px,#0025ff 1087.5px,#0000ff 1090.5px,#0000f5 1093.5px,#0000f4 1111.5px,#0000fa 1114.5px,#0010ff 1117.5px,#0059ff 1120.5px,#008cff 1123.5px,#009aff 1126.5px,#0099ff 1132.5px,#0093ff 1135.5px,#00bdff 1138.5px,#0092ff 1141.5px,#0000ff 1144.5px,#0000e9 1147.5px,#0000ea 1156.5px,#0000f9 1159.5px,#002eff 1162.5px,#63ff94 1165.5px,#ceff29 1168.5px,#dbff1c 1174.5px,#e8ff0f 1195.5px,#f2fb05 1246.5px,#f9f300 1303.5px,#f9f300 1486.5px)"></div>
<div style="top:531px;height:3px;background:linear-gradient(90deg,#0069ff 1.5px,#006dff 43.5px,#007fff 94.5px,#00defd 184.5px,#07efef 199.5px,#14ffe2 217.5px,#2effc9 268.5px,#23ffd4 286.5px,#0086ff 289.5px,#0086ff 292.5px,#25ffd2 295.5px,#4dffaa 385.5px,#4affad 388.5px,#00e3f8 391.5px,#00daff 394.5px,#3cffbb 397.5px,#52ffa5 400.5px,#3cffbb 403.5px,#0055ff 406.5px,#003aff 409.5px,#00b8ff 412.5px,#55ffa2 415.5px,#60ff97 439.5px,#52ffa5 445.5px,#60ff97 448.5px,#51ffa5 466.5px,#56ffa1 481.5px,#34ffc2 508.5px,#1cffda 514.5px,#19ffde 526.5px,#1cffdb 571.5px,#2affcc 583.5px,#35ffc1 586.5px,#6aff8d 592.5px,#75ff82 595.5px,#abff4c 667.5px,#baff3d 694.5px,#c8ff2f 748.5px,#b1ff46 805.5px,#bfff38 892.5px,#b6ff41 895.5px,#6eff89 898.5px,#009cff 901.5px,#0008ff 904.5px,#0000f6 907.5px,#0000f5 952.5px,#0000ff 958.5px,#0000fc 967.5px,#0000f3 973.5px,#0000f7 988.5px,#0000ff 991.5px,#0003ff 994.5px,#003fff 1000.5px,#0048ff 1003.5px,#002dff 1006.5px,#0008ff 1009.5px,#000bff 1012.5px,#006bff 1018.5px,#0087ff 1021.5px,#0093ff 1024.5px,#0097ff 1027.5px,#0092ff 1030.5px,#006eff 1033.5px,#0024ff 1036.5px,#0000ff 1039.5px,#0000f4 1042.5px,#0000f4 1063.5px,#0000ff 1069.5px,#0020ff 1072.5px,#0033ff 1075.5px,#0033ff 1078.5px,#0016ff 1084.5px,#0001ff 1087.5px,#0000f3 1096.5px,#0000f6 1114.5px,#0000ff 1117.5px,#002aff 1120.5px,#0063ff 1123.5px,#0086ff 1126.5px,#0095ff 1129.5px,#0098ff 1135.5px,#00aaff 1138.5px,#0081ff 1141.5px,#0000ff 1144.5px,#0000ea 1147.5px,#0000e8 1159.5px,#0000ef 1162.5px,#007dff 1165.5px,#99ff5e 1168.5px,#c8ff2f 1171.5px,#e5ff12 1195.5px,#e3ff14 1204.5px,#eaff0d 1210.5px,#f4f903 1261.5px,#f8f400 1312.5px,#f8f400 1486.5px)"></div>
<div style="top:534px;height:3px;background:linear-gradient(90deg,#0066ff 1.5px,#006bff 49.5px,#007bff 94.5px,#00defd 187.5px,#07efef 202.5px,#17ffe0 226.5px,#2cffca 268.5px,#22ffd5 286.5px,#0091ff 289.5px,#008eff 292.5px,#23ffd3 295.5px,#4bffac 388.5px,#42ffb5 391.5px,#008dff 394.5px,#0092ff 397.5px,#46ffb1 400.5px,#40ffb7 403.5px,#006cff 406.5px,#003aff 409.5px,#009aff 412.5px,#51ffa6 415.5px,#5dff9a 448.5px,#53ffa3 457.5px,#29ffcd 460.5px,#00d8ff 463.5px,#33ffc3 466.5px,#4dffa9 469.5px,#52ffa5 481.5px,#35ffc2 508.5px,#1affdd 517.5px,#1bffdc 583.5px,#20ffd7 586.5px,#37ffc0 589.5px,#5bff9c 592.5px,#6fff88 595.5px,#8dff6a 631.5px,#b5ff42 694.5px,#c5ff31 745.5px,#aeff49 808.5px,#bbff3b 892.5px,#b8ff3f 895.5px,#88ff6f 898.5px,#00d2ff 901.5px,#001fff 904.5px,#0000f8 907.5px,#0000f3 922.5px,#0000f6 994.5px,#0000ff 1003.5px,#0000ff 1006.5px,#0000f8 1009.5px,#0001ff 1015.5px,#0046ff 1021.5px,#0060ff 1024.5px,#006cff 1027.5px,#0067ff 1030.5px,#0043ff 1033.5px,#0009ff 1036.5px,#0000f9 1039.5px,#0000f3 1045.5px,#0000f4 1066.5px,#0000ff 1072.5px,#0013ff 1075.5px,#001cff 1078.5px,#0000ff 1084.5px,#0000f5 1093.5px,#0000f4 1114.5px,#0000ff 1120.5px,#001fff 1123.5px,#004aff 1126.5px,#0065ff 1129.5px,#0076ff 1135.5px,#006cff 1138.5px,#001dff 1141.5px,#0000f5 1144.5px,#0000e9 1147.5px,#0000e8 1162.5px,#0000ff 1165.5px,#10fae7 1168.5px,#b8ff3f 1171.5px,#c1ff35 1174.5px,#ddff19 1198.5px,#95ff61 1201.5px,#3fffb8 1204.5px,#b7ff40 1207.5px,#e4ff13 1210.5px,#eaff0c 1219.5px,#f4f903 1264.5px,#f7f500 1336.5px,#f7f500 1486.5px)"></div>
<div style="top:537px;height:3px;background:linear-gradient(90deg,#0064ff 1.5px,#0069ff 52.5px,#0077ff 94.5px,#00defd 190.5px,#07eef0 205.5px,#17ffdf 232.5px,#2bffcc 271.5px,#22ffd5 286.5px,#12fce5 289.5px,#0cf5ea 292.5px,#23ffd4 295.5px,#49ffae 391.5px,#23ffd4 394.5px,#00ddfe 397.5px,#44ffb3 400.5px,#4bffac 403.5px,#00d1ff 406.5px,#00b3ff 409.5px,#1dffda 412.5px,#50ffa7 415.5px,#59ff9e 448.5px,#4effa9 457.5px,#009fff 460.5px,#003eff 463.5px,#00caff 466.5px,#48ffaf 469.5px,#4dffa9 481.5px,#30ffc7 511.5px,#1cffdb 517.5px,#1bffdc 586.5px,#29ffce 589.5px,#66ff91 595.5px,#72ff85 601.5px,#b0ff47 694.5px,#c1ff36 748.5px,#aaff4d 805.5px,#b7ff40 895.5px,#9aff5d 898.5px,#1bffdb 901.5px,#003eff 904.5px,#0000fe 907.5px,#0000f4 910.5px,#0000f4 1012.5px,#0000ff 1018.5px,#0000ff 1021.5px,#0011ff 1024.5px,#001bff 1027.5px,#0018ff 1030.5px,#0006ff 1033.5px,#0000ff 1036.5px,#0000f5 1039.5px,#0000f5 1066.5px,#0000ff 1069.5px,#0017ff 1072.5px,#0049ff 1075.5px,#005eff 1078.5px,#0048ff 1081.5px,#0004ff 1087.5px,#0000ff 1099.5px,#0000fb 1108.5px,#0000f4 1117.5px,#0000ff 1123.5px,#000aff 1126.5px,#001bff 1129.5px,#0028ff 1135.5px,#000cff 1138.5px,#0000fb 1141.5px,#0000eb 1144.5px,#0000e9 1165.5px,#0061ff 1168.5px,#57ffa0 1171.5px,#9dff5a 1174.5px,#bbff3c 1177.5px,#cdff2a 1195.5px,#b2ff45 1198.5px,#00acff 1201.5px,#0002ff 1204.5px,#0085ff 1207.5px,#5aff9d 1210.5px,#d2ff25 1213.5px,#e6ff11 1216.5px,#f2fb05 1261.5px,#f6f601 1312.5px,#f6f601 1486.5px)"></div>
<div style="top:540px;height:3px;background:linear-gradient(90deg,#0061ff 1.5px,#0067ff 58.5px,#0073ff 94.5px,#00defd 193.5px,#0cf5eb 217.5px,#18ffde 238.5px,#29ffce 271.5px,#21ffd6 292.5px,#38ffbe 358.5px,#46ffb0 394.5px,#1dffda 397.5px,#0cf5eb 400.5px,#40ffb7 403.5px,#48ffae 406.5px,#52ffa5 430.5px,#3fffb8 433.5px,#3affbd 436.5px,#52ffa5 439.5px,#55ffa1 448.5px,#4affad 457.5px,#0094ff 460.5px,#0039ff 463.5px,#009bff 466.5px,#43ffb4 469.5px,#48ffaf 484.5px,#31ffc6 505.5px,#31ffc6 511.5px,#1affdd 520.5px,#19ffde 586.5px,#20ffd7 589.5px,#39ffbe 592.5px,#59ff9d 595.5px,#69ff8e 598.5px,#aaff4d 691.5px,#bfff38 745.5px,#a7ff50 808.5px,#b4ff42 895.5px,#a4ff53 898.5px,#43ffb4 901.5px,#0067ff 904.5px,#0000ff 907.5px,#0000f4 910.5px,#0000f6 1021.5px,#0000fb 1030.5px,#0000f5 1042.5px,#0000ff 1048.5px,#0006ff 1054.5px,#0000fd 1063.5px,#0000fa 1066.5px,#0001ff 1069.5px,#0080ff 1075.5px,#0091ff 1078.5px,#0087ff 1081.5px,#006cff 1084.5px,#0044ff 1087.5px,#002bff 1090.5px,#0037ff 1096.5px,#0033ff 1102.5px,#002aff 1105.5px,#0000ff 1111.5px,#0000f5 1117.5px,#0000ff 1123.5px,#0016ff 1126.5px,#0021ff 1129.5px,#0021ff 1132.5px,#001aff 1135.5px,#0005ff 1138.5px,#0000f9 1141.5px,#0000ea 1144.5px,#0000e8 1165.5px,#0000fa 1168.5px,#0017ff 1171.5px,#0080ff 1174.5px,#58ff9f 1177.5px,#acff4b 1180.5px,#bdff3a 1183.5px,#c0ff37 1195.5px,#50ffa6 1198.5px,#0009ff 1201.5px,#0000e8 1204.5px,#0000ed 1207.5px,#001aff 1210.5px,#12fce5 1213.5px,#b3ff44 1216.5px,#e0ff16 1219.5px,#ecff0b 1237.5px,#f5f702 1294.5px,#f5f702 1486.5px)"></div>
<div style="top:543px;height:3px;background:linear-gradient(90deg,#005fff 1.5px,#0065ff 64.5px,#006cff 91.5px,#00ddfd 196.5px,#09f1ed 217.5px,#18ffdf 241.5px,#27ffd0 271.5px,#1fffd8 292.5px,#27ffd0 328.5px,#00d2ff 331.5px,#00daff 334.5px,#20ffd7 337.5px,#2effc9 340.5px,#40ffb7 382.5px,#39ffbd 385.5px,#21ffd6 388.5px,#36ffc1 391.5px,#42ffb5 394.5px,#00afff 397.5px,#0046ff 400.5px,#0085ff 403.5px,#11fae6 406.5px,#47ffaf 409.5px,#4fffa8 430.5px,#29ffce 433.5px,#006eff 436.5px,#00d1ff 439.5px,#49ffad 442.5px,#53ffa4 445.5px,#47ffb0 457.5px,#0095ff 460.5px,#0046ff 463.5px,#00e0fb 466.5px,#41ffb6 469.5px,#44ffb3 484.5px,#2effc9 505.5px,#2dffca 514.5px,#1bffdb 520.5px,#1bffdc 589.5px,#2bffcc 592.5px,#4bffac 595.5px,#62ff95 598.5px,#6bff8c 604.5px,#a9ff4e 700.5px,#bbff3b 745.5px,#a4ff53 808.5px,#afff48 883.5px,#b1ff45 895.5px,#aaff4d 898.5px,#66ff90 901.5px,#009dff 904.5px,#000bff 907.5px,#0000f6 910.5px,#0000f4 1039.5px,#0003ff 1045.5px,#002bff 1048.5px,#0049ff 1051.5px,#0053ff 1054.5px,#004aff 1057.5px,#0008ff 1066.5px,#0012ff 1069.5px,#0057ff 1072.5px,#008eff 1075.5px,#009cff 1078.5px,#009cff 1081.5px,#0094ff 1084.5px,#006aff 1090.5px,#0082ff 1096.5px,#0080ff 1102.5px,#0078ff 1105.5px,#005bff 1108.5px,#0006ff 1114.5px,#0000ff 1120.5px,#0023ff 1123.5px,#005aff 1126.5px,#006dff 1129.5px,#0069ff 1135.5px,#0049ff 1138.5px,#000fff 1141.5px,#0000f5 1144.5px,#0000e9 1147.5px,#0000e9 1171.5px,#0000ef 1174.5px,#0021ff 1177.5px,#00c4ff 1180.5px,#83ff74 1183.5px,#b8ff3f 1186.5px,#bdff3a 1189.5px,#aeff48 1192.5px,#70ff87 1195.5px,#00e5f7 1198.5px,#0000fa 1201.5px,#0000e8 1204.5px,#0000e9 1210.5px,#0000ff 1213.5px,#00defd 1216.5px,#c6ff30 1219.5px,#d8ff1f 1222.5px,#e7ff10 1234.5px,#f4f903 1276.5px,#f4f802 1486.5px)"></div>
<div style="top:546px;height:3px;background:linear-gradient(90deg,#005cff 1.5px,#0063ff 76.5px,#0068ff 91.5px,#00ddfe 199.5px,#0cf4eb 226.5px,#17ffe0 244.5px,#25ffd1 271.5px,#1effd9 295.5px,#26ffd1 325.5px,#21ffd6 328.5px,#0082ff 331.5px,#0043ff 334.5px,#0096ff 337.5px,#2affcd 340.5px,#3dffba 382.5px,#00e5f7 385.5px,#0051ff 388.5px,#009dff 391.5px,#37ffbf 394.5px,#00caff 397.5px,#003dff 400.5px,#0039ff 403.5px,#007eff 406.5px,#3cffbb 409.5px,#46ffb1 412.5px,#4bffac 430.5px,#2fffc7 433.5px,#0055ff 436.5px,#0046ff 439.5px,#0ff9e7 442.5px,#4fffa8 445.5px,#45ffb2 457.5px,#14ffe2 460.5px,#0bf3ec 463.5px,#37ffc0 466.5px,#3effb9 469.5px,#3fffb8 487.5px,#2bffcc 505.5px,#2dffca 514.5px,#19ffde 526.5px,#1affdd 589.5px,#22ffd5 592.5px,#58ff9f 598.5px,#63ff94 601.5px,#a4ff53 700.5px,#b8ff3f 745.5px,#a0ff57 808.5px,#aaff4d 880.5px,#aeff49 895.5px,#abff4b 898.5px,#84ff73 901.5px,#00dffc 904.5px,#002aff 907.5px,#0000fb 910.5px,#0000f3 916.5px,#0000f4 1039.5px,#0000fb 1042.5px,#0011ff 1045.5px,#0056ff 1048.5px,#0084ff 1051.5px,#008fff 1054.5px,#008bff 1057.5px,#007fff 1060.5px,#006aff 1063.5px,#0026ff 1069.5px,#0045ff 1072.5px,#007aff 1075.5px,#0095ff 1078.5px,#009dff 1084.5px,#0094ff 1087.5px,#0083ff 1090.5px,#0089ff 1093.5px,#0098ff 1096.5px,#0099ff 1105.5px,#008eff 1108.5px,#0072ff 1111.5px,#0012ff 1117.5px,#0000ff 1120.5px,#002eff 1123.5px,#0072ff 1126.5px,#0091ff 1129.5px,#0097ff 1132.5px,#0096ff 1135.5px,#0085ff 1138.5px,#0047ff 1141.5px,#0001ff 1144.5px,#0000ee 1147.5px,#0000e8 1153.5px,#0000e9 1177.5px,#0000fb 1180.5px,#005aff 1183.5px,#3dffba 1186.5px,#a5ff52 1189.5px,#3dffb9 1192.5px,#0030ff 1195.5px,#0002ff 1198.5px,#0000ea 1201.5px,#0000e9 1213.5px,#003dff 1216.5px,#6dff8a 1219.5px,#c0ff37 1222.5px,#cdff2a 1225.5px,#e8ff0f 1243.5px,#f4f903 1285.5px,#f4f903 1486.5px)"></div>
<div style="top:549px;height:3px;background:linear-gradient(90deg,#005aff 1.5px,#0061ff 88.5px,#00ddfe 202.5px,#06edf1 220.5px,#16ffe0 247.5px,#23ffd3 274.5px,#1cffdb 295.5px,#24ffd2 328.5px,#00dffc 331.5px,#004bff 334.5px,#0086ff 337.5px,#27ffd0 340.5px,#39ffbe 382.5px,#00c1ff 385.5px,#003bff 388.5px,#004cff 391.5px,#19ffde 394.5px,#2bffcc 397.5px,#006eff 400.5px,#0039ff 403.5px,#006bff 406.5px,#33ffc4 409.5px,#43ffb4 412.5px,#47ffb0 427.5px,#39ffbe 430.5px,#0092ff 433.5px,#0076ff 436.5px,#0080ff 439.5px,#0af2ed 442.5px,#4bffac 445.5px,#3affbd 472.5px,#3bffbc 487.5px,#28ffce 505.5px,#2bffcc 517.5px,#19ffde 529.5px,#19ffde 589.5px,#1cffda 592.5px,#2effc9 595.5px,#4bffac 598.5px,#5cff9a 601.5px,#a2ff55 706.5px,#b5ff42 745.5px,#9eff59 796.5px,#8dff6a 802.5px,#93ff64 811.5px,#9eff59 835.5px,#aaff4d 892.5px,#aaff4c 898.5px,#96ff61 901.5px,#2dffca 904.5px,#0054ff 907.5px,#0000ff 910.5px,#0000f4 913.5px,#0000f4 940.5px,#0000ff 946.5px,#0000f9 952.5px,#0000f3 958.5px,#0000f4 1039.5px,#0003ff 1045.5px,#0086ff 1051.5px,#009bff 1054.5px,#009bff 1060.5px,#0095ff 1063.5px,#007dff 1066.5px,#004aff 1069.5px,#0029ff 1072.5px,#0043ff 1075.5px,#0073ff 1078.5px,#0091ff 1081.5px,#009bff 1084.5px,#009bff 1087.5px,#0080ff 1093.5px,#009bff 1099.5px,#009cff 1108.5px,#0096ff 1111.5px,#007cff 1114.5px,#003cff 1117.5px,#0003ff 1120.5px,#0010ff 1123.5px,#004bff 1126.5px,#007fff 1129.5px,#0095ff 1132.5px,#009aff 1138.5px,#0088ff 1141.5px,#0039ff 1144.5px,#0000fc 1147.5px,#0000e9 1150.5px,#0000e8 1180.5px,#0000ec 1183.5px,#0013ff 1186.5px,#00d6ff 1189.5px,#006dff 1192.5px,#0000ed 1195.5px,#0000e8 1201.5px,#0000e8 1213.5px,#0000f2 1216.5px,#0040ff 1219.5px,#04eaf3 1222.5px,#6cff8b 1225.5px,#b7ff40 1228.5px,#c8ff2f 1231.5px,#e8ff0f 1252.5px,#f3fa04 1285.5px,#f3fa04 1486.5px)"></div>
<div style="top:552px;height:3px;background:linear-gradient(90deg,#0057ff 1.5px,#005fff 91.5px,#00e0fc 208.5px,#09f0ee 229.5px,#18ffdf 253.5px,#22ffd5 274.5px,#1affdd 295.5px,#1bffdc 301.5px,#0cf4eb 304.5px,#1dffd9 310.5px,#22ffd5 328.5px,#00b8ff 331.5px,#0054ff 334.5px,#00b1ff 337.5px,#25ffd1 340.5px,#36ffc1 382.5px,#06edf1 385.5px,#0080ff 388.5px,#0070ff 391.5px,#1cffda 394.5px,#3bffbc 397.5px,#16ffe1 400.5px,#008dff 403.5px,#08f0ef 406.5px,#3dffb9 409.5px,#43ffb3 427.5px,#2effc8 430.5px,#0054ff 433.5px,#0059ff 436.5px,#2affcd 439.5px,#46ffb1 442.5px,#42ffb5 454.5px,#36ffc1 472.5px,#37ffc0 487.5px,#25ffd2 505.5px,#29ffce 520.5px,#19ffde 532.5px,#1affdd 592.5px,#23ffd4 595.5px,#54ffa3 601.5px,#5eff99 607.5px,#a6ff51 721.5px,#b2ff45 745.5px,#9dff5a 793.5px,#94ff63 796.5px,#4cffaa 802.5px,#43ffb3 805.5px,#4affac 808.5px,#60ff97 814.5px,#83ff74 829.5px,#9bff5c 847.5px,#a8ff4f 898.5px,#9eff59 901.5px,#53ffa4 904.5px,#0085ff 907.5px,#0003ff 910.5px,#0000f5 913.5px,#0000f4 937.5px,#0001ff 943.5px,#002aff 946.5px,#0028ff 949.5px,#0001ff 952.5px,#0000f3 961.5px,#0000f4 1042.5px,#0000ff 1045.5px,#0021ff 1048.5px,#006aff 1051.5px,#0094ff 1054.5px,#009dff 1057.5px,#009dff 1063.5px,#0096ff 1066.5px,#0076ff 1069.5px,#003cff 1072.5px,#001bff 1075.5px,#0035ff 1078.5px,#0064ff 1081.5px,#0086ff 1084.5px,#0095ff 1087.5px,#0090ff 1090.5px,#0071ff 1093.5px,#006eff 1096.5px,#008aff 1099.5px,#0098ff 1102.5px,#009bff 1111.5px,#008bff 1114.5px,#004cff 1117.5px,#0003ff 1120.5px,#0000ff 1123.5px,#0012ff 1126.5px,#0044ff 1129.5px,#006aff 1132.5px,#0098ff 1138.5px,#00defd 1144.5px,#0012ff 1150.5px,#0000ec 1153.5px,#0000e8 1165.5px,#0000eb 1186.5px,#0084ff 1189.5px,#007eff 1192.5px,#0000eb 1195.5px,#0000e8 1201.5px,#0000ef 1204.5px,#0000e8 1213.5px,#0000e9 1219.5px,#0000f9 1222.5px,#0028ff 1225.5px,#28ffcf 1228.5px,#b7ff40 1231.5px,#c1ff36 1234.5px,#ebff0b 1264.5px,#f2fb05 1288.5px,#f2fb05 1486.5px)"></div>
<div style="top:555px;height:3px;background:linear-gradient(90deg,#0054ff 1.5px,#005bff 91.5px,#00ccff 193.5px,#00e3f9 217.5px,#16ffe1 253.5px,#20ffd7 274.5px,#18ffde 298.5px,#18ffdf 301.5px,#0099ff 304.5px,#0075ff 307.5px,#01e7f5 310.5px,#1cffdb 313.5px,#20ffd7 328.5px,#00d6ff 331.5px,#006cff 334.5px,#15ffe1 337.5px,#24ffd2 340.5px,#35ffc2 385.5px,#29ffce 391.5px,#37ffc0 394.5px,#38ffbf 400.5px,#32ffc5 403.5px,#3affbd 406.5px,#40ffb7 427.5px,#37ffbf 430.5px,#007eff 433.5px,#004eff 436.5px,#12fbe5 439.5px,#44ffb3 442.5px,#3effb9 454.5px,#32ffc5 475.5px,#33ffc3 487.5px,#22ffd5 505.5px,#28ffcf 523.5px,#19ffde 535.5px,#19ffde 592.5px,#1dffda 595.5px,#30ffc7 598.5px,#49ffad 601.5px,#56ffa1 604.5px,#a1ff55 721.5px,#aeff49 745.5px,#99ff5d 793.5px,#8aff6d 796.5px,#4cffab 799.5px,#03e9f4 802.5px,#00cdff 805.5px,#00d1ff 808.5px,#00dffc 811.5px,#06edf1 817.5px,#13fde4 820.5px,#25ffd2 826.5px,#3effb9 832.5px,#43ffb4 835.5px,#51ffa5 838.5px,#81ff76 844.5px,#8eff69 847.5px,#97ff60 853.5px,#a5ff52 898.5px,#a1ff56 901.5px,#72ff84 904.5px,#00c4ff 907.5px,#001dff 910.5px,#0000f9 913.5px,#0000f3 919.5px,#0000f5 937.5px,#0000ff 940.5px,#0027ff 943.5px,#0065ff 946.5px,#0067ff 949.5px,#002eff 952.5px,#0000ff 955.5px,#0000f4 961.5px,#0000f4 1042.5px,#0001ff 1048.5px,#007dff 1054.5px,#0098ff 1057.5px,#009eff 1063.5px,#009dff 1066.5px,#0091ff 1069.5px,#0062ff 1072.5px,#001cff 1075.5px,#0003ff 1078.5px,#001eff 1081.5px,#006eff 1087.5px,#0072ff 1090.5px,#004dff 1093.5px,#0037ff 1096.5px,#0072ff 1102.5px,#0084ff 1105.5px,#008dff 1108.5px,#008bff 1111.5px,#0075ff 1114.5px,#0000ff 1120.5px,#0000f7 1123.5px,#0005ff 1129.5px,#001dff 1132.5px,#003eff 1135.5px,#0080ff 1138.5px,#05ecf2 1141.5px,#59ff9e 1144.5px,#87ff70 1147.5px,#50ffa7 1150.5px,#004eff 1153.5px,#0000f1 1156.5px,#0000ea 1159.5px,#0000ed 1162.5px,#0000fa 1165.5px,#0000ff 1168.5px,#0000ea 1171.5px,#0000ea 1186.5px,#0067ff 1189.5px,#00dbff 1192.5px,#0000ff 1195.5px,#0000e8 1198.5px,#0000e8 1201.5px,#0009ff 1204.5px,#005aff 1207.5px,#0000ff 1210.5px,#0000e9 1213.5px,#0000ea 1225.5px,#003bff 1228.5px,#39ffbe 1231.5px,#a8ff4f 1234.5px,#bdff39 1237.5px,#c5ff32 1249.5px,#beff39 1252.5px,#c3ff34 1255.5px,#d1ff25 1258.5px,#e6ff11 1267.5px,#efff08 1279.5px,#e0ff16 1285.5px,#e0ff16 1288.5px,#f1fc06 1294.5px,#f1fc06 1486.5px)"></div>
<div style="top:558px;height:3px;background:linear-gradient(90deg,#0052ff 1.5px,#0057ff 91.5px,#00b9ff 178.5px,#00ddfd 214.5px,#07efef 235.5px,#17ffe0 259.5px,#1dffd9 277.5px,#15ffe2 301.5px,#007fff 304.5px,#003aff 307.5px,#0095ff 310.5px,#18ffde 313.5px,#1effd9 328.5px,#18ffdf 331.5px,#00e4f8 334.5px,#20ffd7 337.5px,#32ffc5 394.5px,#13fde4 397.5px,#00cbff 400.5px,#25ffd2 403.5px,#37ffbf 406.5px,#3cffba 427.5px,#36ffc1 430.5px,#0083ff 433.5px,#0045ff 436.5px,#00a7ff 439.5px,#38ffbf 442.5px,#41ffb6 445.5px,#40ffb7 448.5px,#2dffc9 454.5px,#38ffbf 457.5px,#2effc9 475.5px,#2dffc9 490.5px,#1fffd8 505.5px,#25ffd2 526.5px,#19ffde 541.5px,#1bffdc 595.5px,#26ffd1 598.5px,#3effb8 601.5px,#4fffa8 604.5px,#9dff59 721.5px,#abff4c 745.5px,#96ff61 793.5px,#85ff71 796.5px,#3fffb7 799.5px,#00cbff 802.5px,#00a7ff 805.5px,#00abff 817.5px,#00c0ff 829.5px,#00cbff 835.5px,#00dbff 838.5px,#14fee3 841.5px,#59ff9e 847.5px,#74ff83 850.5px,#85ff72 853.5px,#93ff64 859.5px,#a1ff56 901.5px,#89ff6e 904.5px,#1dffd9 907.5px,#004eff 910.5px,#0000ff 913.5px,#0000f4 916.5px,#0000f4 934.5px,#0000f8 937.5px,#0008ff 940.5px,#004eff 943.5px,#0087ff 946.5px,#008dff 949.5px,#0064ff 952.5px,#0025ff 955.5px,#0000ff 958.5px,#0000f4 964.5px,#0000f4 1045.5px,#0000fc 1048.5px,#0011ff 1051.5px,#0050ff 1054.5px,#007eff 1057.5px,#0091ff 1060.5px,#009aff 1066.5px,#0090ff 1069.5px,#0061ff 1072.5px,#0016ff 1075.5px,#0000fe 1078.5px,#0000ff 1081.5px,#0007ff 1084.5px,#0023ff 1087.5px,#0029ff 1090.5px,#000fff 1093.5px,#0000ff 1096.5px,#000eff 1099.5px,#003cff 1105.5px,#004eff 1108.5px,#004bff 1111.5px,#0032ff 1114.5px,#000cff 1117.5px,#0000fe 1120.5px,#0000f4 1123.5px,#0000f8 1129.5px,#0003ff 1135.5px,#0056ff 1138.5px,#24ffd3 1141.5px,#91ff65 1144.5px,#b1ff45 1147.5px,#b7ff40 1150.5px,#64ff93 1153.5px,#00abff 1156.5px,#002eff 1162.5px,#00a4ff 1165.5px,#00ccff 1168.5px,#0000ff 1171.5px,#0000e9 1174.5px,#0000e8 1186.5px,#002bff 1189.5px,#5dff99 1192.5px,#0098ff 1195.5px,#0000f4 1198.5px,#0000e8 1201.5px,#0026ff 1204.5px,#5aff9d 1207.5px,#00d6ff 1210.5px,#001bff 1213.5px,#0000ee 1216.5px,#0000e8 1222.5px,#0000ee 1228.5px,#000fff 1231.5px,#00b9ff 1234.5px,#83ff74 1237.5px,#b9ff3e 1240.5px,#beff39 1246.5px,#99ff5e 1249.5px,#00c4ff 1252.5px,#00abff 1255.5px,#20ffd7 1258.5px,#43ffb4 1261.5px,#abff4c 1264.5px,#d5ff22 1267.5px,#e0ff17 1273.5px,#cdff2a 1276.5px,#86ff71 1279.5px,#20ffd7 1282.5px,#00afff 1285.5px,#00b0ff 1288.5px,#4affad 1291.5px,#ddff1a 1294.5px,#f0fe07 1297.5px,#f0fd07 1486.5px)"></div>
<div style="top:561px;height:3px;background:linear-gradient(90deg,#004fff 1.5px,#0053ff 91.5px,#00b3ff 175.5px,#00dffc 220.5px,#09f1ee 241.5px,#17ffe0 262.5px,#1bffdc 280.5px,#14ffe2 301.5px,#00b8ff 304.5px,#0047ff 307.5px,#005fff 310.5px,#0cf4eb 313.5px,#19ffde 316.5px,#31ffc6 391.5px,#1fffd7 394.5px,#0060ff 397.5px,#003fff 400.5px,#00c0ff 403.5px,#33ffc4 406.5px,#39ffbe 427.5px,#36ffc0 430.5px,#00a7ff 433.5px,#003cff 436.5px,#004cff 439.5px,#18ffdf 442.5px,#3dffba 445.5px,#2fffc8 448.5px,#00c5ff 451.5px,#008aff 454.5px,#2cffcb 457.5px,#32ffc4 460.5px,#2affcc 478.5px,#29ffcd 490.5px,#1cffdb 505.5px,#22ffd5 529.5px,#19ffde 547.5px,#19ffdd 595.5px,#20ffd7 598.5px,#47ffb0 604.5px,#50ffa7 610.5px,#a8ff4f 745.5px,#93ff64 793.5px,#82ff75 796.5px,#3cffba 799.5px,#00c7ff 802.5px,#00a3ff 805.5px,#009fff 817.5px,#00a7ff 838.5px,#00b2ff 841.5px,#00c7ff 844.5px,#02e7f5 847.5px,#23ffd4 850.5px,#66ff91 856.5px,#7cff7a 859.5px,#8eff69 865.5px,#9dff5a 895.5px,#9fff58 901.5px,#96ff61 904.5px,#54ffa2 907.5px,#0098ff 910.5px,#000dff 913.5px,#0000f7 916.5px,#0000f3 928.5px,#0000f9 937.5px,#000aff 940.5px,#004fff 943.5px,#0087ff 946.5px,#0098ff 949.5px,#008bff 952.5px,#0061ff 955.5px,#0027ff 958.5px,#0000ff 961.5px,#0000f3 970.5px,#0000f5 1048.5px,#0000ff 1051.5px,#0014ff 1054.5px,#003bff 1057.5px,#0074ff 1063.5px,#007cff 1066.5px,#0068ff 1069.5px,#0000ff 1075.5px,#0000f5 1081.5px,#0000ff 1087.5px,#0000f7 1096.5px,#0000ff 1105.5px,#0000fb 1117.5px,#0000f4 1123.5px,#0000f5 1132.5px,#0000ff 1135.5px,#0035ff 1138.5px,#14fee3 1141.5px,#9fff58 1144.5px,#bbff3b 1147.5px,#baff3c 1153.5px,#b0ff47 1156.5px,#9eff59 1159.5px,#7bff7c 1162.5px,#8fff67 1165.5px,#98ff5f 1168.5px,#02e8f5 1171.5px,#000bff 1174.5px,#0000e8 1177.5px,#0000e8 1183.5px,#0000f2 1186.5px,#0067ff 1189.5px,#92ff65 1192.5px,#6fff88 1195.5px,#0060ff 1198.5px,#0000fd 1201.5px,#004fff 1204.5px,#91ff65 1207.5px,#adff49 1210.5px,#47ffaf 1213.5px,#0025ff 1216.5px,#0000ea 1219.5px,#0000ea 1231.5px,#0000fa 1234.5px,#005eff 1237.5px,#5fff98 1240.5px,#b5ff42 1243.5px,#bdff3a 1246.5px,#84ff73 1249.5px,#002dff 1252.5px,#0000ee 1255.5px,#0000fb 1258.5px,#0002ff 1261.5px,#08efef 1264.5px,#b8ff3f 1267.5px,#caff2d 1270.5px,#c8ff2f 1273.5px,#25ffd1 1276.5px,#0022ff 1279.5px,#0000fb 1282.5px,#0000ec 1285.5px,#0000ed 1288.5px,#0019ff 1291.5px,#1dffda 1294.5px,#c3ff34 1297.5px,#eeff08 1300.5px,#effe07 1486.5px)"></div>
<div style="top:564px;height:3px;background:linear-gradient(90deg,#004dff 1.5px,#004fff 91.5px,#00a9ff 169.5px,#00defd 223.5px,#06edf0 241.5px,#17ffe0 265.5px,#17ffdf 283.5px,#12fce5 292.5px,#00cfff 295.5px,#00cbff 298.5px,#11fae6 301.5px,#11fae6 304.5px,#00c5ff 307.5px,#0091ff 310.5px,#0ff8e8 313.5px,#16ffe0 316.5px,#18ffde 325.5px,#17ffe0 331.5px,#2effc9 391.5px,#1dffda 394.5px,#0057ff 397.5px,#003aff 400.5px,#00a3ff 403.5px,#2fffc7 406.5px,#35ffc2 427.5px,#33ffc4 430.5px,#00b2ff 433.5px,#0063ff 436.5px,#006fff 439.5px,#1bffdc 442.5px,#39ffbe 445.5px,#00d5ff 448.5px,#005cff 451.5px,#0061ff 454.5px,#03e9f4 457.5px,#2fffc8 460.5px,#26ffd1 478.5px,#23ffd3 493.5px,#1affdd 508.5px,#1fffd8 535.5px,#19ffde 553.5px,#1cffdb 598.5px,#3dffb9 604.5px,#48ffaf 607.5px,#a4ff53 745.5px,#8fff67 793.5px,#7fff78 796.5px,#3affbd 799.5px,#00c5ff 802.5px,#00a2ff 805.5px,#009eff 817.5px,#00a0ff 841.5px,#00aaff 847.5px,#00baff 850.5px,#00d5ff 853.5px,#14fee3 856.5px,#58ff9f 862.5px,#71ff86 865.5px,#81ff75 868.5px,#8fff68 874.5px,#9cff5b 901.5px,#9aff5d 904.5px,#7aff7d 907.5px,#03e9f4 910.5px,#0037ff 913.5px,#0000fe 916.5px,#0000f4 919.5px,#0000f5 937.5px,#0000ff 940.5px,#0022ff 943.5px,#0060ff 946.5px,#008bff 949.5px,#0097ff 952.5px,#008cff 955.5px,#0066ff 958.5px,#002eff 961.5px,#0000ff 964.5px,#0000f4 970.5px,#0000f6 1051.5px,#0000ff 1057.5px,#000fff 1060.5px,#0027ff 1063.5px,#0031ff 1066.5px,#001eff 1069.5px,#0001ff 1072.5px,#0000f3 1081.5px,#0000f4 1132.5px,#0000fa 1135.5px,#001aff 1138.5px,#00bbff 1141.5px,#77ff80 1144.5px,#b3ff44 1147.5px,#bdff3a 1150.5px,#bdff3a 1153.5px,#95ff61 1162.5px,#95ff62 1165.5px,#b0ff47 1168.5px,#a9ff4d 1171.5px,#00cfff 1174.5px,#0000f5 1177.5px,#0000e8 1180.5px,#0000e8 1183.5px,#0010ff 1186.5px,#0af1ed 1189.5px,#a9ff4d 1192.5px,#b9ff3e 1195.5px,#83ff74 1198.5px,#00c5ff 1201.5px,#00c0ff 1204.5px,#adff4a 1207.5px,#bdff3a 1210.5px,#b0ff47 1213.5px,#1effd9 1216.5px,#0034ff 1219.5px,#0000ff 1222.5px,#0000eb 1225.5px,#0000e8 1234.5px,#0000ef 1237.5px,#003dff 1240.5px,#27ffd0 1243.5px,#b0ff47 1246.5px,#a0ff57 1249.5px,#0080ff 1252.5px,#0000ed 1255.5px,#0000e9 1261.5px,#002aff 1264.5px,#6dff8a 1267.5px,#bfff38 1270.5px,#a4ff53 1273.5px,#0077ff 1276.5px,#0000eb 1279.5px,#0000e9 1291.5px,#0000ff 1294.5px,#0df5ea 1297.5px,#e2ff15 1300.5px,#edff09 1303.5px,#edff09 1486.5px)"></div>
<div style="top:567px;height:3px;background:linear-gradient(90deg,#004bff 1.5px,#004dff 91.5px,#00afff 178.5px,#00dffc 229.5px,#09f1ed 250.5px,#16ffe0 271.5px,#12fbe5 289.5px,#07eef0 292.5px,#0063ff 295.5px,#004dff 298.5px,#00d7ff 301.5px,#11fbe6 304.5px,#0df5ea 310.5px,#13fde4 313.5px,#16ffe1 325.5px,#00c8ff 328.5px,#0083ff 331.5px,#00d6ff 334.5px,#00acff 337.5px,#00a6ff 340.5px,#18ffdf 343.5px,#1fffd7 355.5px,#2bffcc 391.5px,#29ffce 394.5px,#00c5ff 397.5px,#0065ff 400.5px,#0cf4eb 403.5px,#2effc9 406.5px,#2effc9 412.5px,#00beff 415.5px,#00a8ff 418.5px,#24ffd3 421.5px,#30ffc6 424.5px,#00d9ff 427.5px,#00caff 430.5px,#0059ff 433.5px,#0048ff 436.5px,#00defd 439.5px,#35ffc1 442.5px,#37ffc0 445.5px,#29ffce 448.5px,#00acff 451.5px,#00dbff 454.5px,#1dffda 457.5px,#2cffca 460.5px,#23ffd4 478.5px,#1fffd8 496.5px,#19ffdd 508.5px,#1cffdb 541.5px,#1affdd 598.5px,#22ffd5 601.5px,#41ffb6 607.5px,#9fff58 745.5px,#8cff6b 793.5px,#7cff7b 796.5px,#38ffbf 799.5px,#00c4ff 802.5px,#00a1ff 805.5px,#009dff 829.5px,#00a0ff 850.5px,#00a5ff 853.5px,#00b2ff 856.5px,#00c9ff 859.5px,#04eaf3 862.5px,#25ffd2 865.5px,#65ff92 871.5px,#7aff7d 874.5px,#8dff6a 880.5px,#97ff5f 904.5px,#8aff6c 907.5px,#3bffbc 910.5px,#0074ff 913.5px,#0000ff 916.5px,#0000f5 919.5px,#0000f4 937.5px,#0000ff 943.5px,#0024ff 946.5px,#005eff 949.5px,#0087ff 952.5px,#0094ff 955.5px,#0085ff 958.5px,#004fff 961.5px,#000bff 964.5px,#0000f9 967.5px,#0000f3 973.5px,#0000f6 1057.5px,#0000ff 1066.5px,#0000ff 1069.5px,#0000f4 1075.5px,#0000f6 1135.5px,#0000ff 1138.5px,#004dff 1141.5px,#00e1fa 1144.5px,#6aff8d 1147.5px,#a6ff51 1150.5px,#afff48 1153.5px,#00d4ff 1156.5px,#003eff 1159.5px,#002eff 1162.5px,#003aff 1165.5px,#00b0ff 1168.5px,#59ff9e 1171.5px,#67ff8f 1174.5px,#0045ff 1177.5px,#0000eb 1180.5px,#0000e8 1183.5px,#0000ec 1186.5px,#0018ff 1189.5px,#3dffba 1192.5px,#b8ff3f 1195.5px,#bcff3b 1198.5px,#aaff4d 1201.5px,#86ff70 1204.5px,#b8ff3f 1207.5px,#bdff3a 1213.5px,#b0ff46 1216.5px,#7bff7c 1219.5px,#0ff8e8 1222.5px,#006aff 1225.5px,#0000ff 1228.5px,#0000e9 1231.5px,#0000ea 1240.5px,#001eff 1243.5px,#49ffae 1246.5px,#b0ff46 1249.5px,#40ffb7 1252.5px,#0017ff 1255.5px,#0000ea 1258.5px,#0000e9 1261.5px,#0025ff 1264.5px,#6bff8b 1267.5px,#b9ff3e 1270.5px,#6fff88 1273.5px,#0059ff 1276.5px,#0000ff 1279.5px,#0000e9 1282.5px,#0000e8 1291.5px,#0000f3 1294.5px,#00d7ff 1297.5px,#d4ff23 1300.5px,#e1ff16 1303.5px,#e2ff15 1486.5px)"></div>
<div style="top:570px;height:3px;background:linear-gradient(90deg,#004aff 1.5px,#004cff 91.5px,#00baff 193.5px,#00defd 232.5px,#06edf1 250.5px,#14fee3 274.5px,#10f9e7 289.5px,#0bf4eb 292.5px,#008aff 295.5px,#003aff 298.5px,#008bff 301.5px,#0cf4eb 304.5px,#13fde4 325.5px,#00c0ff 328.5px,#0043ff 331.5px,#004eff 334.5px,#003eff 337.5px,#0041ff 340.5px,#00bcff 343.5px,#19ffde 346.5px,#29ffce 394.5px,#27ffd0 397.5px,#1bffdc 400.5px,#29ffce 403.5px,#2affcc 412.5px,#008fff 415.5px,#003dff 418.5px,#0094ff 421.5px,#25ffd2 424.5px,#008bff 427.5px,#003eff 430.5px,#0057ff 433.5px,#0049ff 436.5px,#00d3ff 439.5px,#33ffc4 442.5px,#2affcd 460.5px,#1fffd7 478.5px,#1effd9 496.5px,#1affdd 511.5px,#19ffde 598.5px,#1dffda 601.5px,#39ffbe 607.5px,#42ffb5 613.5px,#9aff5d 745.5px,#89ff6e 793.5px,#79ff7e 796.5px,#36ffc1 799.5px,#00c3ff 802.5px,#00a0ff 805.5px,#009eff 856.5px,#00aaff 862.5px,#00bbff 865.5px,#00d8ff 868.5px,#14fee3 871.5px,#58ff9e 877.5px,#75ff82 880.5px,#86ff71 883.5px,#8fff68 892.5px,#93ff64 904.5px,#8fff68 907.5px,#62ff94 910.5px,#00bdff 913.5px,#0020ff 916.5px,#0000fa 919.5px,#0000f3 925.5px,#0000f7 943.5px,#0000ff 946.5px,#001dff 949.5px,#0050ff 952.5px,#0071ff 955.5px,#0064ff 958.5px,#0000ff 964.5px,#0000f4 970.5px,#0000f4 1081.5px,#0000ff 1087.5px,#0000f3 1105.5px,#0000f4 1135.5px,#0000ff 1141.5px,#003bff 1144.5px,#00a9ff 1147.5px,#3dffb9 1150.5px,#7cff7b 1153.5px,#005cff 1156.5px,#0000e8 1159.5px,#0000ec 1168.5px,#0004ff 1171.5px,#0091ff 1174.5px,#07eef0 1177.5px,#003fff 1180.5px,#0000ed 1183.5px,#0000e8 1186.5px,#0000eb 1189.5px,#004dff 1192.5px,#6eff89 1195.5px,#b9ff3e 1198.5px,#bdff3a 1210.5px,#bcff3a 1219.5px,#b6ff41 1222.5px,#8eff69 1225.5px,#006fff 1228.5px,#0000ea 1231.5px,#0000ea 1243.5px,#0024ff 1246.5px,#0af2ec 1249.5px,#76ff80 1252.5px,#00bfff 1255.5px,#0006ff 1258.5px,#0000ff 1261.5px,#00a0ff 1264.5px,#92ff65 1267.5px,#85ff71 1270.5px,#006cff 1273.5px,#0000ff 1276.5px,#0010ff 1279.5px,#0003ff 1282.5px,#0000ff 1285.5px,#0000f6 1288.5px,#0000fe 1291.5px,#000aff 1294.5px,#06eef0 1297.5px,#77ff80 1300.5px,#91ff66 1303.5px,#bdff3a 1306.5px,#ccff2b 1309.5px,#d3ff24 1312.5px,#d3ff23 1486.5px)"></div>
<div style="top:573px;height:3px;background:linear-gradient(90deg,#0048ff 1.5px,#004aff 91.5px,#00c2ff 205.5px,#00dffc 238.5px,#09f1ee 259.5px,#11fbe6 277.5px,#0cf5eb 292.5px,#00d2ff 295.5px,#0056ff 298.5px,#0077ff 301.5px,#07eef0 304.5px,#0df6e9 310.5px,#10fae6 325.5px,#01e7f5 328.5px,#007eff 331.5px,#003bff 334.5px,#0038ff 340.5px,#005bff 343.5px,#08efef 346.5px,#18ffdf 349.5px,#26ffd1 394.5px,#1bffdc 400.5px,#27ffcf 403.5px,#2affcd 412.5px,#00d9ff 415.5px,#0048ff 418.5px,#0043ff 421.5px,#00d9ff 424.5px,#00bbff 427.5px,#003dff 430.5px,#0042ff 433.5px,#00a5ff 436.5px,#0bf3ec 439.5px,#30ffc7 442.5px,#27ffd0 460.5px,#1cffdb 478.5px,#1bffdc 499.5px,#1affdc 601.5px,#38ffbe 610.5px,#83ff73 718.5px,#94ff62 745.5px,#86ff71 793.5px,#76ff81 796.5px,#34ffc2 799.5px,#00c3ff 802.5px,#00a0ff 805.5px,#009cff 817.5px,#009fff 865.5px,#00b1ff 871.5px,#00c8ff 874.5px,#07efef 877.5px,#35ffc2 880.5px,#61ff96 883.5px,#7bff7c 886.5px,#86ff70 889.5px,#8dff6a 907.5px,#7aff7d 910.5px,#1fffd8 913.5px,#005fff 916.5px,#0000ff 919.5px,#0000f4 925.5px,#0000f6 946.5px,#0000ff 949.5px,#000eff 952.5px,#0027ff 955.5px,#001cff 958.5px,#0000ff 961.5px,#0000f3 970.5px,#0000f6 994.5px,#0000f4 1006.5px,#0000f6 1081.5px,#0000ff 1084.5px,#001dff 1087.5px,#0020ff 1090.5px,#0003ff 1096.5px,#0000fb 1102.5px,#0000f4 1108.5px,#0000f4 1138.5px,#0000ff 1144.5px,#001bff 1147.5px,#00d0ff 1153.5px,#0016ff 1156.5px,#0000e8 1159.5px,#0000e8 1171.5px,#0000f1 1174.5px,#005eff 1177.5px,#02e8f5 1180.5px,#000cff 1183.5px,#0000e8 1186.5px,#0000e8 1189.5px,#0000f0 1192.5px,#004cff 1195.5px,#60ff97 1198.5px,#b8ff3f 1201.5px,#bdff3a 1207.5px,#bcff3b 1210.5px,#acff4b 1213.5px,#77ff80 1216.5px,#bdff3a 1222.5px,#b3ff43 1225.5px,#00e5f7 1228.5px,#0000ff 1231.5px,#0000e8 1234.5px,#0000e9 1246.5px,#0000ff 1249.5px,#003dff 1252.5px,#0015ff 1255.5px,#0000f5 1258.5px,#0000ff 1261.5px,#0020ff 1264.5px,#00aaff 1267.5px,#00d5ff 1270.5px,#0000ff 1273.5px,#0000e8 1276.5px,#0000ec 1279.5px,#0000ff 1282.5px,#0000ff 1285.5px,#0000eb 1288.5px,#0000ee 1291.5px,#0000fa 1294.5px,#0006ff 1297.5px,#0017ff 1300.5px,#0032ff 1303.5px,#008cff 1306.5px,#0cf5ea 1309.5px,#8aff6d 1312.5px,#c4ff33 1315.5px,#c5ff31 1486.5px)"></div>
<div style="top:576px;height:3px;background:linear-gradient(90deg,#0046ff 1.5px,#0048ff 91.5px,#00c9ff 217.5px,#00ddfe 241.5px,#06edf1 259.5px,#0ef7e9 280.5px,#08f0ef 295.5px,#00dcff 298.5px,#00daff 301.5px,#0af2ed 304.5px,#0ef7e9 325.5px,#00bbff 328.5px,#0045ff 331.5px,#0041ff 334.5px,#0053ff 337.5px,#0063ff 343.5px,#00e5f7 346.5px,#15ffe1 349.5px,#23ffd3 394.5px,#00cfff 397.5px,#006cff 400.5px,#00d5ff 403.5px,#23ffd3 406.5px,#27ffd0 412.5px,#09f1ee 415.5px,#0079ff 418.5px,#004eff 421.5px,#00beff 424.5px,#1dffda 427.5px,#007aff 430.5px,#0049ff 433.5px,#00bbff 436.5px,#2affcd 439.5px,#26ffd1 442.5px,#2dffca 445.5px,#2bffcc 451.5px,#23ffd3 454.5px,#1fffd8 466.5px,#19ffde 481.5px,#19ffde 505.5px,#19ffde 601.5px,#1dffd9 604.5px,#31ffc6 610.5px,#68ff8f 685.5px,#8fff68 745.5px,#82ff75 793.5px,#74ff83 796.5px,#38ffbf 799.5px,#00cfff 802.5px,#00abff 805.5px,#00a0ff 811.5px,#009bff 841.5px,#009dff 871.5px,#00a1ff 874.5px,#00adff 877.5px,#00cdff 880.5px,#17ffe0 883.5px,#46ffb1 886.5px,#6aff8d 889.5px,#7eff79 892.5px,#87ff70 898.5px,#89ff6e 907.5px,#83ff74 910.5px,#56ffa1 913.5px,#00c7ff 916.5px,#0043ff 919.5px,#0001ff 922.5px,#0000f3 931.5px,#0000f5 949.5px,#0000ff 955.5px,#0000f3 967.5px,#0000f3 988.5px,#0000ff 994.5px,#000fff 997.5px,#000eff 1000.5px,#0000ff 1003.5px,#0000f4 1009.5px,#0000f4 1078.5px,#0000fb 1081.5px,#0017ff 1084.5px,#0041ff 1087.5px,#0047ff 1090.5px,#0039ff 1096.5px,#0000ff 1105.5px,#0000f5 1108.5px,#0000f5 1144.5px,#0000fd 1147.5px,#0007ff 1150.5px,#003aff 1153.5px,#0009ff 1156.5px,#0000e9 1159.5px,#0000eb 1177.5px,#0041ff 1180.5px,#0042ff 1183.5px,#0000ef 1186.5px,#0000e8 1189.5px,#0000ee 1195.5px,#0051ff 1198.5px,#70ff87 1201.5px,#bcff3b 1204.5px,#b8ff3f 1207.5px,#70ff87 1210.5px,#00b8ff 1213.5px,#0035ff 1216.5px,#05ebf2 1219.5px,#adff4a 1222.5px,#bcff3a 1225.5px,#a5ff52 1228.5px,#00c1ff 1231.5px,#0000f6 1234.5px,#0000e8 1237.5px,#0000e8 1264.5px,#0000fe 1267.5px,#0026ff 1270.5px,#0000f2 1273.5px,#0000e8 1276.5px,#0000eb 1306.5px,#0000ff 1309.5px,#00b8ff 1312.5px,#a6ff51 1315.5px,#b7ff40 1318.5px,#b7ff3f 1486.5px)"></div>
<div style="top:579px;height:3px;background:linear-gradient(90deg,#0045ff 1.5px,#0047ff 91.5px,#00cfff 229.5px,#00e1fb 250.5px,#0bf3ec 277.5px,#0bf3ec 322.5px,#0bf4eb 325.5px,#00d3ff 328.5px,#005dff 331.5px,#007aff 334.5px,#00c5ff 337.5px,#0063ff 340.5px,#007eff 343.5px,#0bf3ec 346.5px,#13fde4 349.5px,#21ffd6 394.5px,#02e8f4 397.5px,#004fff 400.5px,#004fff 403.5px,#04eaf3 406.5px,#24ffd3 409.5px,#14fee3 412.5px,#0079ff 415.5px,#003eff 418.5px,#003dff 421.5px,#00b1ff 424.5px,#26ffd1 427.5px,#0cf5ea 430.5px,#00e0fc 433.5px,#25ffd2 436.5px,#18ffdf 439.5px,#008bff 442.5px,#08efef 445.5px,#29ffce 448.5px,#21ffd6 451.5px,#0097ff 454.5px,#008eff 457.5px,#15ffe1 460.5px,#14fee3 463.5px,#01e7f6 466.5px,#13fde4 469.5px,#15ffe1 475.5px,#19ffde 511.5px,#1bffdc 604.5px,#2dffc9 613.5px,#7fff78 727.5px,#89ff6e 748.5px,#7fff78 793.5px,#76ff80 796.5px,#51ffa6 799.5px,#1fffd8 802.5px,#03e9f4 805.5px,#00d5ff 808.5px,#00b5ff 814.5px,#00a1ff 823.5px,#009bff 841.5px,#009dff 877.5px,#00a3ff 880.5px,#00b7ff 883.5px,#00ddfd 886.5px,#27ffcf 889.5px,#54ffa3 892.5px,#71ff86 895.5px,#7eff79 898.5px,#83ff74 910.5px,#76ff81 913.5px,#45ffb2 916.5px,#00ceff 919.5px,#005cff 922.5px,#0011ff 925.5px,#0000ff 928.5px,#0000f5 931.5px,#0000f4 988.5px,#0000f9 991.5px,#000fff 994.5px,#003aff 997.5px,#003eff 1000.5px,#0027ff 1003.5px,#0003ff 1006.5px,#0000f3 1015.5px,#0000f4 1078.5px,#0000fe 1081.5px,#001eff 1084.5px,#0045ff 1087.5px,#004cff 1090.5px,#0049ff 1099.5px,#003eff 1102.5px,#0013ff 1105.5px,#0000fa 1108.5px,#0000f3 1114.5px,#0000f4 1147.5px,#0000ff 1153.5px,#000dff 1156.5px,#0000f8 1159.5px,#0000e8 1162.5px,#0000e8 1177.5px,#0000ff 1180.5px,#10f9e7 1183.5px,#0051ff 1186.5px,#0000eb 1189.5px,#0000e8 1195.5px,#0000f4 1198.5px,#00b8ff 1201.5px,#a9ff4e 1204.5px,#64ff93 1207.5px,#0052ff 1210.5px,#0000f4 1213.5px,#0000ea 1216.5px,#0016ff 1219.5px,#3effb9 1222.5px,#b8ff3f 1225.5px,#bdff3a 1228.5px,#87ff70 1231.5px,#008aff 1234.5px,#0000ff 1237.5px,#0000e8 1240.5px,#0000e8 1267.5px,#0000ff 1270.5px,#0008ff 1273.5px,#0000e9 1276.5px,#0000e8 1309.5px,#0020ff 1312.5px,#56ffa1 1315.5px,#a8ff4e 1318.5px,#a9ff4e 1486.5px)"></div>
<div style="top:582px;height:3px;background:linear-gradient(90deg,#0043ff 1.5px,#0045ff 91.5px,#00cbff 229.5px,#00dffc 253.5px,#07efef 277.5px,#08efef 328.5px,#00e3f9 331.5px,#08efef 334.5px,#00c4ff 337.5px,#0041ff 340.5px,#0042ff 343.5px,#00c7ff 346.5px,#10fae7 349.5px,#1affdd 379.5px,#1cffdb 397.5px,#00abff 400.5px,#004eff 403.5px,#00ccff 406.5px,#21ffd6 409.5px,#00cbff 412.5px,#003dff 415.5px,#0049ff 421.5px,#009cff 424.5px,#23ffd4 427.5px,#26ffd1 436.5px,#00e1fa 439.5px,#0046ff 442.5px,#0062ff 445.5px,#00dcff 448.5px,#03eaf3 451.5px,#0049ff 454.5px,#004fff 457.5px,#0bf3ec 460.5px,#009dff 463.5px,#004cff 466.5px,#00bcff 469.5px,#14fee3 472.5px,#13fde4 481.5px,#19ffde 505.5px,#1affdd 604.5px,#29ffce 616.5px,#80ff77 736.5px,#83ff73 751.5px,#79ff7d 796.5px,#5fff98 802.5px,#30ffc7 811.5px,#1cffda 814.5px,#0bf3ec 817.5px,#00dffc 820.5px,#00b3ff 829.5px,#00a3ff 835.5px,#009aff 850.5px,#009dff 883.5px,#00a7ff 886.5px,#00c2ff 889.5px,#0af2ed 892.5px,#38ffbf 895.5px,#5fff98 898.5px,#75ff81 901.5px,#7dff7a 904.5px,#7dff7a 913.5px,#73ff84 916.5px,#51ffa6 919.5px,#0bf3ec 922.5px,#0085ff 925.5px,#0028ff 928.5px,#0000ff 931.5px,#0000f4 937.5px,#0000f6 991.5px,#0002ff 994.5px,#0036ff 997.5px,#004aff 1000.5px,#0046ff 1003.5px,#002eff 1006.5px,#0001ff 1009.5px,#0000f3 1015.5px,#0000f4 1078.5px,#0004ff 1084.5px,#0026ff 1087.5px,#003dff 1090.5px,#0047ff 1093.5px,#0049ff 1099.5px,#003fff 1102.5px,#0014ff 1105.5px,#0000fa 1108.5px,#0000f3 1114.5px,#0000f6 1153.5px,#0000ff 1156.5px,#0000ff 1159.5px,#0000ef 1162.5px,#0000e8 1165.5px,#0000e8 1177.5px,#0000f9 1180.5px,#05ecf2 1183.5px,#1effd8 1186.5px,#0000ff 1189.5px,#0000e8 1192.5px,#0000e9 1198.5px,#0023ff 1201.5px,#5aff9d 1204.5px,#00beff 1207.5px,#0000f4 1210.5px,#0000e8 1213.5px,#0000ec 1219.5px,#005aff 1222.5px,#86ff71 1225.5px,#bdff3a 1228.5px,#bbff3c 1231.5px,#9cff5b 1234.5px,#13fde4 1237.5px,#0013ff 1240.5px,#0000e9 1243.5px,#0000e8 1252.5px,#0000f2 1255.5px,#0000e8 1264.5px,#0000ec 1267.5px,#004cff 1270.5px,#00bcff 1273.5px,#0000ff 1276.5px,#0000e8 1279.5px,#0000e8 1309.5px,#0000f3 1312.5px,#00b9ff 1315.5px,#95ff61 1318.5px,#9cff5a 1321.5px,#9bff5c 1486.5px)"></div>
<div style="top:585px;height:3px;background:linear-gradient(90deg,#0042ff 1.5px,#0044ff 91.5px,#00d1ff 241.5px,#00e0fb 259.5px,#05ecf2 280.5px,#09f1ee 334.5px,#00cfff 337.5px,#0047ff 340.5px,#0047ff 343.5px,#00d2ff 346.5px,#0ef6e9 349.5px,#18ffdf 379.5px,#1bffdb 394.5px,#0df5ea 397.5px,#0086ff 400.5px,#00a2ff 403.5px,#11fae6 406.5px,#1effd9 409.5px,#03e9f4 412.5px,#0060ff 415.5px,#0079ff 418.5px,#00c1ff 421.5px,#0bf3ec 424.5px,#21ffd5 427.5px,#23ffd4 436.5px,#1bffdc 439.5px,#0072ff 442.5px,#0039ff 445.5px,#0085ff 448.5px,#00c9ff 451.5px,#003dff 454.5px,#004eff 457.5px,#09f1ee 460.5px,#00a8ff 463.5px,#003aff 466.5px,#0083ff 469.5px,#10f9e7 472.5px,#0ef7e9 475.5px,#00b3ff 478.5px,#00bfff 481.5px,#0cf5eb 484.5px,#15ffe2 487.5px,#19ffde 523.5px,#1affdd 604.5px,#4effa9 676.5px,#72ff84 724.5px,#7fff78 748.5px,#75ff82 802.5px,#69ff8e 811.5px,#4affad 820.5px,#19ffde 829.5px,#06ecf1 832.5px,#00d8ff 835.5px,#00afff 844.5px,#009eff 853.5px,#0099ff 880.5px,#009bff 886.5px,#00a1ff 889.5px,#00b4ff 892.5px,#00ddfe 895.5px,#2dffca 898.5px,#5dff9a 901.5px,#74ff83 904.5px,#79ff7e 910.5px,#78ff7e 916.5px,#73ff84 919.5px,#5dff99 922.5px,#27ffd0 925.5px,#00aaff 928.5px,#0041ff 931.5px,#0003ff 934.5px,#0000f4 943.5px,#0000f4 991.5px,#0000ff 994.5px,#001cff 997.5px,#003fff 1000.5px,#0047ff 1003.5px,#0040ff 1006.5px,#0013ff 1009.5px,#0000fa 1012.5px,#0000f3 1018.5px,#0000f4 1081.5px,#0000ff 1087.5px,#000bff 1090.5px,#001fff 1093.5px,#0025ff 1099.5px,#0019ff 1102.5px,#0000ff 1105.5px,#0000f5 1108.5px,#0000f5 1156.5px,#0000ff 1162.5px,#0000e9 1168.5px,#0000e9 1177.5px,#003bff 1180.5px,#3fffb8 1183.5px,#73ff84 1186.5px,#0068ff 1189.5px,#0000fb 1192.5px,#0000e9 1195.5px,#0000eb 1198.5px,#000bff 1201.5px,#21ffd6 1204.5px,#19ffde 1207.5px,#0000fd 1210.5px,#0000e8 1213.5px,#0000e8 1219.5px,#0000ff 1222.5px,#02e8f4 1225.5px,#afff47 1228.5px,#bdff3a 1231.5px,#bdff3a 1234.5px,#afff48 1237.5px,#09f1ee 1240.5px,#0007ff 1243.5px,#0000ea 1246.5px,#0000e8 1252.5px,#0000ff 1255.5px,#0000ea 1261.5px,#0000e8 1264.5px,#0000fa 1267.5px,#0092ff 1270.5px,#55ffa1 1273.5px,#008dff 1276.5px,#0000ed 1279.5px,#0000e8 1285.5px,#0000ea 1312.5px,#0064ff 1315.5px,#80ff77 1318.5px,#94ff63 1321.5px,#8dff6a 1330.5px,#8dff6a 1486.5px)"></div>
<div style="top:588px;height:3px;background:linear-gradient(90deg,#0040ff 1.5px,#0042ff 91.5px,#00d2ff 247.5px,#00e1fa 265.5px,#05ecf2 304.5px,#07eef0 334.5px,#02e9f4 337.5px,#009fff 340.5px,#0089ff 343.5px,#04ebf3 346.5px,#0bf3ec 349.5px,#0df6ea 364.5px,#0df5ea 367.5px,#13fde4 373.5px,#19ffde 394.5px,#00e5f7 397.5px,#004fff 400.5px,#0042ff 403.5px,#00b1ff 406.5px,#06eef0 409.5px,#0098ff 412.5px,#00a1ff 415.5px,#00daff 418.5px,#1cffdb 421.5px,#20ffd7 439.5px,#00aeff 442.5px,#0040ff 445.5px,#009fff 448.5px,#09f1ed 451.5px,#0059ff 454.5px,#0060ff 457.5px,#0df6ea 460.5px,#00cdff 463.5px,#0042ff 466.5px,#007cff 469.5px,#0ef7e9 472.5px,#00d5ff 475.5px,#0049ff 478.5px,#0042ff 481.5px,#00beff 484.5px,#13fee3 487.5px,#19ffde 511.5px,#1cffdb 607.5px,#30ffc7 649.5px,#67ff90 715.5px,#7aff7d 745.5px,#71ff85 817.5px,#65ff91 826.5px,#50ffa6 832.5px,#13fde4 844.5px,#03e9f4 847.5px,#00d6ff 850.5px,#00aeff 859.5px,#00a0ff 865.5px,#009bff 880.5px,#00a5ff 886.5px,#00b2ff 889.5px,#00c8ff 892.5px,#04ebf3 895.5px,#2dffca 898.5px,#58ff9f 901.5px,#6eff89 904.5px,#74ff83 913.5px,#70ff87 922.5px,#62ff95 925.5px,#38ffbf 928.5px,#00cbff 931.5px,#0061ff 934.5px,#0017ff 937.5px,#0000ff 940.5px,#0000f6 943.5px,#0000f6 994.5px,#0000ff 997.5px,#0021ff 1003.5px,#0021ff 1006.5px,#0001ff 1009.5px,#0000f3 1015.5px,#0000f4 1087.5px,#0000ff 1096.5px,#0000fe 1102.5px,#0000f4 1108.5px,#0000f5 1156.5px,#0000ff 1162.5px,#0000ff 1165.5px,#0000eb 1171.5px,#0000eb 1177.5px,#0046ff 1180.5px,#16ffe1 1183.5px,#4dffaa 1186.5px,#44ffb3 1189.5px,#00a5ff 1192.5px,#0026ff 1195.5px,#006aff 1198.5px,#20ffd7 1201.5px,#9cff5b 1204.5px,#62ff95 1207.5px,#001cff 1210.5px,#0000eb 1213.5px,#0000e8 1219.5px,#0000ee 1222.5px,#0049ff 1225.5px,#7dff7a 1228.5px,#bdff3a 1231.5px,#bdff3a 1237.5px,#a3ff54 1240.5px,#21ffd6 1243.5px,#003fff 1246.5px,#0000f5 1249.5px,#0000eb 1252.5px,#0000f6 1255.5px,#0000ea 1258.5px,#0000e9 1267.5px,#0000f4 1270.5px,#001bff 1273.5px,#005cff 1276.5px,#0000f9 1279.5px,#0000e8 1282.5px,#0000e8 1297.5px,#0000ff 1303.5px,#0000eb 1306.5px,#0000e8 1312.5px,#0020ff 1315.5px,#62ff94 1318.5px,#96ff61 1321.5px,#83ff74 1327.5px,#7fff78 1351.5px,#7fff78 1486.5px)"></div>
<div style="top:591px;height:3px;background:linear-gradient(90deg,#003fff 1.5px,#0040ff 91.5px,#00ddfe 265.5px,#04ebf3 313.5px,#05ecf2 340.5px,#03e9f4 343.5px,#09f1ee 349.5px,#0bf4eb 358.5px,#00ddfe 361.5px,#008aff 364.5px,#00acff 367.5px,#0ef7e8 370.5px,#16ffe1 394.5px,#14fee3 397.5px,#00a6ff 400.5px,#0060ff 403.5px,#00b0ff 406.5px,#00defd 409.5px,#0049ff 412.5px,#005fff 415.5px,#09f1ee 418.5px,#00e1fa 421.5px,#00c5ff 424.5px,#19ffde 427.5px,#1dffda 433.5px,#17ffe0 436.5px,#07efef 442.5px,#00c9ff 445.5px,#13fde4 448.5px,#1bffdc 451.5px,#00dcfe 454.5px,#00c7ff 457.5px,#16ffe1 460.5px,#0df6e9 463.5px,#008dff 466.5px,#00b4ff 469.5px,#0df6e9 472.5px,#00c5ff 475.5px,#0041ff 478.5px,#0053ff 481.5px,#00cdff 484.5px,#13fde4 487.5px,#19ffde 511.5px,#1bffdc 613.5px,#2cffcb 655.5px,#46ffb1 685.5px,#52ffa5 697.5px,#54ffa3 712.5px,#66ff91 721.5px,#74ff82 745.5px,#70ff87 829.5px,#60ff96 841.5px,#40ffb6 850.5px,#22ffd5 856.5px,#0ff8e8 859.5px,#00e2fa 862.5px,#00c0ff 868.5px,#00abff 874.5px,#00a9ff 877.5px,#00b1ff 880.5px,#00c4ff 883.5px,#00dffc 886.5px,#14fee3 889.5px,#45ffb2 895.5px,#66ff90 901.5px,#6eff89 907.5px,#6bff8c 925.5px,#62ff95 928.5px,#45ffb2 931.5px,#09f1ee 934.5px,#008dff 937.5px,#0035ff 940.5px,#0002ff 943.5px,#0000f4 952.5px,#0000f5 997.5px,#0000ff 1003.5px,#0000ff 1006.5px,#0000f4 1012.5px,#0000f5 1030.5px,#0000f4 1153.5px,#0000f9 1156.5px,#0007ff 1159.5px,#0020ff 1162.5px,#001fff 1165.5px,#000cff 1168.5px,#0000ff 1171.5px,#0000ef 1174.5px,#0000ee 1177.5px,#0007ff 1180.5px,#00afff 1189.5px,#00e2fa 1192.5px,#07eef0 1195.5px,#50ffa6 1198.5px,#87ff70 1201.5px,#a1ff55 1204.5px,#98ff5f 1207.5px,#12fce5 1210.5px,#006dff 1213.5px,#001bff 1216.5px,#0028ff 1219.5px,#0080ff 1222.5px,#3dffba 1225.5px,#a7ff50 1228.5px,#bdff3a 1231.5px,#bdff3a 1240.5px,#b5ff42 1243.5px,#6eff89 1246.5px,#00c9ff 1249.5px,#007fff 1252.5px,#0008ff 1255.5px,#0000e9 1258.5px,#0000e8 1273.5px,#0000f3 1276.5px,#0000f1 1279.5px,#0000e8 1282.5px,#0000e9 1297.5px,#0000fd 1300.5px,#0000fe 1306.5px,#0000f1 1309.5px,#0000ff 1312.5px,#0036ff 1315.5px,#44ffb3 1318.5px,#a3ff54 1321.5px,#81ff76 1327.5px,#72ff84 1333.5px,#71ff86 1486.5px)"></div>
<div style="top:594px;height:3px;background:linear-gradient(90deg,#003dff 1.5px,#003fff 91.5px,#00a0ff 199.5px,#00a6ff 211.5px,#00a1ff 214.5px,#00a3ff 217.5px,#00b7ff 226.5px,#00dcfe 271.5px,#04eaf3 325.5px,#09f1ee 358.5px,#00a1ff 361.5px,#0039ff 364.5px,#0059ff 367.5px,#00e6f6 370.5px,#0ef6e9 373.5px,#13fde4 400.5px,#09f1ee 403.5px,#0ff9e7 406.5px,#0ff8e8 409.5px,#0074ff 412.5px,#0042ff 415.5px,#0088ff 418.5px,#007cff 421.5px,#0052ff 424.5px,#05ecf2 427.5px,#19ffde 430.5px,#1affdd 433.5px,#00d7ff 436.5px,#005eff 439.5px,#00ccff 442.5px,#1affdc 445.5px,#12fce4 463.5px,#0bf4eb 466.5px,#00d3ff 469.5px,#00acff 472.5px,#00dbff 475.5px,#0065ff 478.5px,#0093ff 481.5px,#0ef7e9 484.5px,#17ffe0 493.5px,#16ffe1 595.5px,#14fee3 607.5px,#2cffcb 667.5px,#45ffb1 691.5px,#42ffb5 694.5px,#2effc8 697.5px,#13fde4 700.5px,#04ebf3 703.5px,#02e8f4 709.5px,#05ecf1 712.5px,#20ffd7 715.5px,#46ffb0 718.5px,#5bff9b 721.5px,#65ff92 727.5px,#6fff88 751.5px,#6dff8a 844.5px,#5eff99 856.5px,#2affcd 868.5px,#1affdd 871.5px,#0cf4eb 874.5px,#08efef 877.5px,#14ffe2 880.5px,#42ffb5 886.5px,#5eff99 892.5px,#68ff8f 898.5px,#64ff93 928.5px,#5fff98 931.5px,#4effa9 934.5px,#24ffd3 937.5px,#00bcff 940.5px,#0061ff 943.5px,#001dff 946.5px,#0000ff 949.5px,#0000f4 955.5px,#0000f6 1027.5px,#0000ff 1030.5px,#000fff 1036.5px,#000dff 1039.5px,#0001ff 1042.5px,#0000ff 1045.5px,#0000f4 1051.5px,#0000f3 1153.5px,#0000f8 1156.5px,#000dff 1159.5px,#003dff 1162.5px,#0046ff 1165.5px,#003dff 1168.5px,#0025ff 1171.5px,#0002ff 1174.5px,#0000f9 1180.5px,#0000ff 1186.5px,#0013ff 1189.5px,#0033ff 1192.5px,#0064ff 1195.5px,#00e1fa 1201.5px,#30ffc6 1204.5px,#5fff98 1207.5px,#7eff79 1210.5px,#7cff7b 1213.5px,#5bff9c 1216.5px,#77ff80 1219.5px,#9bff5c 1222.5px,#b7ff40 1225.5px,#bdff3a 1234.5px,#bcff3b 1246.5px,#b3ff44 1249.5px,#9eff59 1252.5px,#00afff 1255.5px,#0000f2 1258.5px,#0000e8 1261.5px,#0000ea 1306.5px,#0009ff 1309.5px,#0bf3ec 1312.5px,#76ff81 1315.5px,#a4ff52 1318.5px,#b2ff44 1321.5px,#a3ff53 1324.5px,#79ff7d 1330.5px,#6cff8b 1333.5px,#63ff94 1339.5px,#63ff94 1486.5px)"></div>
<div style="top:597px;height:3px;background:linear-gradient(90deg,#003cff 1.5px,#003dff 91.5px,#0099ff 196.5px,#00a1ff 208.5px,#0095ff 211.5px,#007eff 214.5px,#007aff 217.5px,#00a8ff 223.5px,#00b6ff 229.5px,#00d9ff 274.5px,#05ecf1 346.5px,#07efef 358.5px,#00b0ff 361.5px,#003bff 364.5px,#003cff 367.5px,#00bdff 370.5px,#0bf4eb 373.5px,#13fde4 409.5px,#00ddfe 412.5px,#005cff 415.5px,#0044ff 418.5px,#004cff 421.5px,#003fff 424.5px,#00c5ff 427.5px,#16ffe0 430.5px,#17ffe0 433.5px,#0bf3ec 436.5px,#005fff 439.5px,#005dff 442.5px,#00b9ff 445.5px,#11fae6 448.5px,#17ffe0 451.5px,#0ef7e9 466.5px,#0096ff 469.5px,#003eff 472.5px,#0092ff 475.5px,#00dbff 478.5px,#04ebf2 481.5px,#10f9e7 484.5px,#18ffdf 496.5px,#16ffe1 592.5px,#04ebf2 601.5px,#0df5ea 616.5px,#17ffe0 634.5px,#2bffcb 676.5px,#36ffc0 688.5px,#2cffcb 691.5px,#0af2ed 694.5px,#00a5ff 697.5px,#005dff 700.5px,#003fff 703.5px,#0039ff 709.5px,#0041ff 712.5px,#0075ff 715.5px,#00d6ff 718.5px,#35ffc2 721.5px,#54ffa3 724.5px,#5eff99 727.5px,#6aff8d 748.5px,#6aff8d 859.5px,#5eff98 868.5px,#4fffa7 874.5px,#4dffaa 877.5px,#65ff92 889.5px,#5dff9a 931.5px,#51ffa6 937.5px,#37ffbf 940.5px,#06edf1 943.5px,#0097ff 946.5px,#0044ff 949.5px,#000bff 952.5px,#0000fe 955.5px,#0000f4 961.5px,#0000f4 1024.5px,#0000ff 1027.5px,#003cff 1033.5px,#0042ff 1036.5px,#0041ff 1039.5px,#0036ff 1042.5px,#0008ff 1048.5px,#0000ff 1051.5px,#0000f4 1054.5px,#0000f5 1156.5px,#0000ff 1159.5px,#002bff 1162.5px,#0048ff 1165.5px,#004bff 1168.5px,#0046ff 1171.5px,#002eff 1174.5px,#0002ff 1177.5px,#0000f4 1183.5px,#0000f8 1189.5px,#0000ff 1192.5px,#0000ff 1195.5px,#000dff 1198.5px,#002aff 1201.5px,#0053ff 1204.5px,#008dff 1207.5px,#00d0ff 1210.5px,#23ffd4 1213.5px,#51ffa5 1216.5px,#78ff7f 1219.5px,#95ff62 1222.5px,#a7ff50 1225.5px,#b6ff40 1231.5px,#bdff3a 1243.5px,#bbff3c 1252.5px,#47ffaf 1255.5px,#0007ff 1258.5px,#0000e8 1261.5px,#0000e8 1279.5px,#0000ed 1282.5px,#0000e8 1297.5px,#0000e8 1306.5px,#0000ff 1309.5px,#1dffd9 1312.5px,#b7ff40 1315.5px,#bdff3a 1318.5px,#b3ff44 1324.5px,#a4ff53 1327.5px,#73ff84 1333.5px,#61ff96 1336.5px,#55ffa2 1342.5px,#55ffa2 1486.5px)"></div>
<div style="top:600px;height:3px;background:linear-gradient(90deg,#003aff 1.5px,#003cff 91.5px,#0087ff 181.5px,#009dff 205.5px,#0098ff 208.5px,#007dff 211.5px,#004dff 214.5px,#003cff 217.5px,#0060ff 220.5px,#008cff 223.5px,#00a6ff 226.5px,#00b4ff 232.5px,#00d4ff 271.5px,#00e3f9 316.5px,#06edf1 358.5px,#00e3f9 361.5px,#006aff 364.5px,#0058ff 367.5px,#00d2ff 370.5px,#09f1ed 373.5px,#0ff8e8 412.5px,#007aff 415.5px,#0042ff 418.5px,#0061ff 421.5px,#005dff 424.5px,#03eaf3 427.5px,#13fee3 430.5px,#13fee3 436.5px,#00b3ff 439.5px,#005cff 442.5px,#0046ff 445.5px,#0094ff 448.5px,#11fae6 451.5px,#11fae6 460.5px,#0ef7e9 466.5px,#00d3ff 469.5px,#0048ff 472.5px,#0058ff 475.5px,#00e2fa 478.5px,#0ef7e9 481.5px,#17ffe0 493.5px,#18ffdf 589.5px,#15ffe2 592.5px,#0cf5ea 595.5px,#00e4f8 598.5px,#00d5ff 601.5px,#00cfff 604.5px,#00dffc 619.5px,#14ffe2 649.5px,#29ffcd 682.5px,#24ffd2 685.5px,#0ef6e9 688.5px,#00bcff 691.5px,#001cff 697.5px,#0000fd 700.5px,#0000ed 703.5px,#0000eb 709.5px,#0000ef 712.5px,#0000ff 715.5px,#0046ff 718.5px,#00b0ff 721.5px,#20ffd6 724.5px,#4affad 727.5px,#59ff9e 730.5px,#64ff92 745.5px,#68ff8e 865.5px,#61ff96 895.5px,#54ffa3 937.5px,#4fffa8 940.5px,#42ffb5 943.5px,#22ffd5 946.5px,#00caff 949.5px,#0070ff 952.5px,#0026ff 955.5px,#0000ff 958.5px,#0000f4 967.5px,#0000f4 1024.5px,#0000ff 1027.5px,#0046ff 1033.5px,#004cff 1039.5px,#0046ff 1045.5px,#0037ff 1048.5px,#000bff 1051.5px,#0000f8 1054.5px,#0000f3 1060.5px,#0000f4 1156.5px,#0000f9 1159.5px,#0007ff 1162.5px,#0035ff 1165.5px,#0047ff 1168.5px,#0049ff 1171.5px,#0042ff 1174.5px,#001bff 1177.5px,#0000fd 1180.5px,#0000f4 1183.5px,#0000f7 1198.5px,#0000ff 1204.5px,#0007ff 1207.5px,#0022ff 1210.5px,#0048ff 1213.5px,#007aff 1216.5px,#00b9ff 1219.5px,#14fee3 1222.5px,#46ffb1 1225.5px,#6eff89 1228.5px,#8cff6b 1231.5px,#a1ff56 1234.5px,#b5ff42 1240.5px,#bdff3a 1252.5px,#9cff5a 1255.5px,#0090ff 1258.5px,#0000ff 1261.5px,#0000eb 1264.5px,#0000e9 1279.5px,#0023ff 1282.5px,#0061ff 1285.5px,#0000ff 1288.5px,#0000ef 1291.5px,#0000e8 1294.5px,#0000e9 1309.5px,#0041ff 1312.5px,#81ff76 1315.5px,#bcff3b 1318.5px,#bbff3c 1324.5px,#b4ff42 1327.5px,#a4ff52 1330.5px,#6bff8b 1336.5px,#54ffa3 1339.5px,#49ffae 1342.5px,#47ffb0 1486.5px)"></div>
<div style="top:603px;height:3px;background:linear-gradient(90deg,#0039ff 1.5px,#003cff 94.5px,#007bff 172.5px,#0098ff 205.5px,#008eff 208.5px,#0065ff 211.5px,#0023ff 214.5px,#0005ff 217.5px,#0022ff 220.5px,#005bff 223.5px,#008bff 226.5px,#00a5ff 229.5px,#00b3ff 235.5px,#00d1ff 274.5px,#00e0fb 319.5px,#05ecf1 361.5px,#00e0fb 364.5px,#00dffc 367.5px,#07eef0 370.5px,#0df5ea 412.5px,#00a5ff 415.5px,#0095ff 418.5px,#00ceff 421.5px,#00bfff 424.5px,#0ff8e8 427.5px,#11fae6 436.5px,#00aaff 439.5px,#0045ff 442.5px,#0038ff 445.5px,#0046ff 448.5px,#00caff 451.5px,#11fae6 454.5px,#0df6ea 466.5px,#08f0ee 469.5px,#006fff 472.5px,#003cff 475.5px,#00b8ff 478.5px,#0ff8e8 481.5px,#17ffe0 493.5px,#18ffdf 589.5px,#15ffe1 592.5px,#0cf5ea 595.5px,#00e0fb 598.5px,#00c9ff 601.5px,#00bbff 604.5px,#00b9ff 610.5px,#00ddfe 640.5px,#04eaf3 649.5px,#15ffe2 658.5px,#21ffd5 679.5px,#17ffe0 682.5px,#00d1ff 685.5px,#0032ff 691.5px,#0000ff 694.5px,#0000ea 697.5px,#0000df 700.5px,#0000dd 712.5px,#0000e2 715.5px,#0000fa 718.5px,#0027ff 721.5px,#0089ff 724.5px,#08f0ee 727.5px,#3dffba 730.5px,#53ffa4 733.5px,#5cff9b 739.5px,#61ff95 772.5px,#5dff9a 790.5px,#66ff91 829.5px,#64ff93 871.5px,#4affad 943.5px,#43ffb3 946.5px,#31ffc6 949.5px,#06edf1 952.5px,#00a1ff 955.5px,#0054ff 958.5px,#0018ff 961.5px,#0000ff 964.5px,#0000f4 970.5px,#0000f4 1024.5px,#0006ff 1030.5px,#002bff 1033.5px,#003eff 1036.5px,#0047ff 1039.5px,#0046ff 1045.5px,#0039ff 1048.5px,#0013ff 1051.5px,#0000fb 1054.5px,#0000f3 1060.5px,#0000f4 1159.5px,#0000fd 1162.5px,#000cff 1165.5px,#0021ff 1168.5px,#0025ff 1174.5px,#000cff 1177.5px,#0000fa 1180.5px,#0000f3 1186.5px,#0000f7 1207.5px,#0001ff 1216.5px,#0019ff 1219.5px,#003dff 1222.5px,#006dff 1225.5px,#00a7ff 1228.5px,#02e7f5 1231.5px,#36ffc0 1234.5px,#63ff94 1237.5px,#84ff73 1240.5px,#9aff5d 1243.5px,#b2ff45 1249.5px,#b7ff3f 1255.5px,#88ff6f 1258.5px,#26ffd1 1261.5px,#006bff 1264.5px,#0000f6 1267.5px,#0000e8 1270.5px,#0000e9 1279.5px,#005cff 1282.5px,#65ff92 1285.5px,#07eef0 1288.5px,#0013ff 1291.5px,#0000e8 1294.5px,#0000e8 1309.5px,#0000f7 1312.5px,#00a8ff 1315.5px,#9fff58 1318.5px,#bdff3a 1321.5px,#bbff3c 1327.5px,#b5ff42 1330.5px,#a3ff54 1333.5px,#56ffa1 1339.5px,#3fffb8 1342.5px,#38ffbe 1348.5px,#38ffbe 1486.5px)"></div>
<div style="top:606px;height:3px;background:linear-gradient(90deg,#0037ff 1.5px,#0038ff 91.5px,#006fff 163.5px,#0092ff 205.5px,#0082ff 208.5px,#004dff 211.5px,#0008ff 214.5px,#0000f3 217.5px,#0000ff 220.5px,#001fff 223.5px,#0059ff 226.5px,#0089ff 229.5px,#00a3ff 232.5px,#00b1ff 238.5px,#00cdff 274.5px,#00e1fb 331.5px,#0af2ed 397.5px,#0ef7e9 436.5px,#00b2ff 439.5px,#0040ff 442.5px,#0038ff 445.5px,#003bff 448.5px,#00b6ff 451.5px,#0ff7e8 454.5px,#0ef7e9 457.5px,#08efef 460.5px,#0cf5ea 466.5px,#0bf4eb 469.5px,#00c3ff 472.5px,#005dff 475.5px,#0095ff 478.5px,#0ff8e8 481.5px,#16ffe1 490.5px,#17ffe0 592.5px,#10f9e7 595.5px,#01e6f6 598.5px,#00cdff 601.5px,#00b8ff 604.5px,#00aeff 607.5px,#00b3ff 625.5px,#00c7ff 646.5px,#00d6ff 652.5px,#00e2f9 655.5px,#10f9e7 661.5px,#18ffdf 667.5px,#1dffda 676.5px,#1affdd 679.5px,#00d8ff 682.5px,#006dff 685.5px,#0010ff 688.5px,#0000f2 691.5px,#0000e1 694.5px,#0000dc 709.5px,#0000df 718.5px,#0000ef 721.5px,#000eff 724.5px,#0064ff 727.5px,#00ceff 730.5px,#2cffcb 733.5px,#4affad 736.5px,#58ff9f 742.5px,#5cff9a 772.5px,#4fffa8 787.5px,#60ff97 823.5px,#63ff94 865.5px,#42ffb5 946.5px,#3fffb8 949.5px,#35ffc2 952.5px,#1dffda 955.5px,#00d3ff 958.5px,#003eff 964.5px,#000cff 967.5px,#0000ff 970.5px,#0000f6 973.5px,#0000f4 1027.5px,#0000ff 1033.5px,#000cff 1036.5px,#001fff 1039.5px,#0023ff 1042.5px,#001bff 1045.5px,#0009ff 1048.5px,#0000ff 1051.5px,#0000f3 1057.5px,#0000f5 1090.5px,#0000f8 1099.5px,#0000f3 1129.5px,#0000f4 1162.5px,#0000ff 1171.5px,#0000fb 1177.5px,#0000f3 1183.5px,#0000f6 1216.5px,#0000ff 1225.5px,#0011ff 1228.5px,#0030ff 1231.5px,#005fff 1234.5px,#00d6ff 1240.5px,#25ffd1 1243.5px,#53ffa4 1246.5px,#76ff80 1249.5px,#90ff67 1252.5px,#a2ff55 1255.5px,#adff4a 1258.5px,#b0ff47 1261.5px,#92ff65 1264.5px,#00c4ff 1267.5px,#0000fa 1270.5px,#0000e8 1273.5px,#0000e8 1279.5px,#0005ff 1282.5px,#0086ff 1285.5px,#0048ff 1288.5px,#0000ff 1291.5px,#0000e8 1294.5px,#0000e8 1312.5px,#0000ff 1315.5px,#1cffdb 1318.5px,#b7ff40 1321.5px,#bdff3a 1327.5px,#bbff3c 1330.5px,#afff48 1333.5px,#8aff6d 1336.5px,#55ffa2 1339.5px,#34ffc3 1342.5px,#2bffcc 1345.5px,#2affcc 1486.5px)"></div>
<div style="top:609px;height:3px;background:linear-gradient(90deg,#0035ff 1.5px,#0037ff 91.5px,#006eff 166.5px,#008eff 202.5px,#008cff 205.5px,#0074ff 208.5px,#0000ff 214.5px,#0000e6 217.5px,#0000e7 220.5px,#0000ff 223.5px,#001fff 226.5px,#0058ff 229.5px,#0088ff 232.5px,#00a2ff 235.5px,#00b0ff 241.5px,#00c9ff 274.5px,#00defc 334.5px,#08f0ee 388.5px,#09f0ee 409.5px,#00e5f7 412.5px,#00aaff 415.5px,#00dffc 418.5px,#0af1ed 421.5px,#09f1ed 433.5px,#05ecf1 439.5px,#0082ff 442.5px,#003bff 445.5px,#0041ff 448.5px,#00caff 451.5px,#0cf5ea 454.5px,#06edf1 457.5px,#008dff 460.5px,#00d0ff 463.5px,#0bf4eb 466.5px,#0cf4eb 472.5px,#00d4ff 475.5px,#00cdff 478.5px,#11fae6 481.5px,#18ffde 496.5px,#18ffdf 592.5px,#14fee3 595.5px,#09f0ee 598.5px,#00d8ff 601.5px,#00bfff 604.5px,#00afff 607.5px,#00a8ff 613.5px,#00b2ff 646.5px,#00bcff 652.5px,#00d5ff 658.5px,#00e4f8 661.5px,#10fae7 667.5px,#18ffde 673.5px,#1affdc 676.5px,#15ffe2 679.5px,#00bcff 682.5px,#0034ff 685.5px,#0000f1 688.5px,#0000de 691.5px,#0000de 721.5px,#0000e7 724.5px,#0000ff 727.5px,#0041ff 730.5px,#00a2ff 733.5px,#0df6ea 736.5px,#36ffc1 739.5px,#4affad 742.5px,#54ffa2 748.5px,#57ffa0 772.5px,#42ffb5 784.5px,#4bffac 802.5px,#60ff97 841.5px,#5eff98 868.5px,#38ffbf 952.5px,#33ffc4 955.5px,#27ffd0 958.5px,#0bf3ec 961.5px,#00b9ff 964.5px,#006eff 967.5px,#002bff 970.5px,#0002ff 973.5px,#0000f4 982.5px,#0000f5 1033.5px,#0000ff 1042.5px,#0000f4 1054.5px,#0000f4 1084.5px,#0000ff 1090.5px,#000dff 1093.5px,#0013ff 1096.5px,#0000ff 1105.5px,#0000f4 1111.5px,#0000f5 1225.5px,#0000ff 1234.5px,#000cff 1237.5px,#0027ff 1240.5px,#004eff 1243.5px,#0081ff 1246.5px,#00bbff 1249.5px,#0ef7e9 1252.5px,#3cffba 1255.5px,#63ff94 1258.5px,#82ff75 1261.5px,#98ff5f 1264.5px,#86ff70 1267.5px,#0099ff 1270.5px,#0000f8 1273.5px,#0000e8 1276.5px,#0000eb 1279.5px,#003dff 1282.5px,#0006ff 1285.5px,#0000e8 1288.5px,#0000ea 1315.5px,#0083ff 1318.5px,#adff4a 1321.5px,#bdff3a 1324.5px,#bcff3b 1330.5px,#b1ff45 1333.5px,#8aff6d 1336.5px,#4effa9 1339.5px,#28ffcf 1342.5px,#1dffd9 1345.5px,#1cffdb 1486.5px)"></div>
<div style="top:612px;height:3px;background:linear-gradient(90deg,#0034ff 1.5px,#0037ff 94.5px,#0067ff 163.5px,#0089ff 202.5px,#0084ff 205.5px,#0063ff 208.5px,#0022ff 211.5px,#0000f8 214.5px,#0000e1 217.5px,#0000de 220.5px,#0000e6 223.5px,#0000ff 226.5px,#001eff 229.5px,#0058ff 232.5px,#0087ff 235.5px,#00a0ff 238.5px,#00aeff 244.5px,#00c5ff 274.5px,#00dffc 343.5px,#07efef 394.5px,#07eef0 409.5px,#00d3ff 412.5px,#0050ff 415.5px,#0074ff 418.5px,#01e7f5 421.5px,#08efef 424.5px,#07efef 430.5px,#00aeff 433.5px,#0093ff 436.5px,#07eef0 439.5px,#00e4f8 442.5px,#0091ff 445.5px,#0094ff 448.5px,#03e9f4 451.5px,#0bf3ec 454.5px,#00e5f7 457.5px,#005dff 460.5px,#0060ff 463.5px,#00e1fa 466.5px,#0cf4eb 469.5px,#16ffe1 487.5px,#17ffe0 595.5px,#0ff9e7 598.5px,#00e5f7 601.5px,#00cbff 604.5px,#00b5ff 607.5px,#00abff 610.5px,#00a8ff 628.5px,#00adff 652.5px,#00bdff 658.5px,#00d8ff 664.5px,#00e5f7 667.5px,#10fae6 673.5px,#16ffe1 676.5px,#11fbe6 679.5px,#00b4ff 682.5px,#0029ff 685.5px,#0000ea 688.5px,#0000dd 691.5px,#0000dd 724.5px,#0000e2 727.5px,#0000f8 730.5px,#001aff 733.5px,#0062ff 736.5px,#00b2ff 739.5px,#0ef6e9 742.5px,#31ffc6 745.5px,#43ffb3 748.5px,#4dffaa 751.5px,#54ffa3 769.5px,#4effa9 775.5px,#37ffbf 784.5px,#37ffc0 793.5px,#4fffa8 826.5px,#5cff9a 847.5px,#59ff9d 871.5px,#2dffca 958.5px,#27ffd0 961.5px,#19ffde 964.5px,#00dcff 967.5px,#009eff 970.5px,#0018ff 976.5px,#0000ff 979.5px,#0000f5 982.5px,#0000f4 1084.5px,#0000fe 1087.5px,#0018ff 1090.5px,#003cff 1093.5px,#0043ff 1096.5px,#003cff 1102.5px,#0027ff 1105.5px,#000aff 1108.5px,#0000fe 1111.5px,#0000f4 1114.5px,#0000f5 1234.5px,#0000ff 1243.5px,#0005ff 1246.5px,#001aff 1249.5px,#003bff 1252.5px,#0066ff 1255.5px,#00d6ff 1261.5px,#23ffd4 1264.5px,#4dffa9 1267.5px,#55ffa2 1270.5px,#0091ff 1273.5px,#0047ff 1276.5px,#0082ff 1279.5px,#00a8ff 1282.5px,#0000f5 1285.5px,#0000e8 1288.5px,#0000e9 1315.5px,#0086ff 1318.5px,#a4ff53 1321.5px,#adff4a 1324.5px,#a4ff53 1327.5px,#b8ff3f 1330.5px,#b1ff46 1333.5px,#86ff70 1336.5px,#45ffb2 1339.5px,#1bffdc 1342.5px,#0ff9e7 1345.5px,#0ef7e9 1486.5px)"></div>
<div style="top:615px;height:3px;background:linear-gradient(90deg,#0032ff 1.5px,#0035ff 94.5px,#0066ff 166.5px,#0084ff 202.5px,#007aff 205.5px,#0050ff 208.5px,#000eff 211.5px,#0000ee 214.5px,#0000de 217.5px,#0000de 223.5px,#0000e6 226.5px,#0000ff 229.5px,#001dff 232.5px,#0057ff 235.5px,#0085ff 238.5px,#009fff 241.5px,#00adff 247.5px,#00c1ff 274.5px,#00dffc 352.5px,#06edf0 394.5px,#04eaf3 412.5px,#00adff 415.5px,#00a3ff 418.5px,#01e6f6 421.5px,#06edf1 424.5px,#06edf1 427.5px,#00e1fa 430.5px,#0060ff 433.5px,#0060ff 436.5px,#00e2f9 439.5px,#07eef0 442.5px,#09f0ee 457.5px,#00a2ff 460.5px,#0048ff 463.5px,#00c7ff 466.5px,#0cf4eb 469.5px,#17ffe0 487.5px,#18ffdf 595.5px,#14fee3 598.5px,#09f0ee 601.5px,#00d8ff 604.5px,#00bfff 607.5px,#00afff 610.5px,#00a7ff 616.5px,#00aaff 655.5px,#00bfff 664.5px,#00d8ff 670.5px,#00e6f7 673.5px,#0af2ed 676.5px,#0af1ed 679.5px,#00afff 682.5px,#0027ff 685.5px,#0000e9 688.5px,#0000dd 691.5px,#0000df 730.5px,#0000e8 733.5px,#0000ff 736.5px,#001fff 739.5px,#00a4ff 745.5px,#00e3f9 748.5px,#27ffd0 751.5px,#3fffb8 754.5px,#49ffad 757.5px,#50ffa7 769.5px,#4affad 775.5px,#32ffc5 784.5px,#2fffc7 796.5px,#3effb9 823.5px,#57ffa0 847.5px,#56ffa1 868.5px,#24ffd2 961.5px,#1affdd 967.5px,#09f0ee 970.5px,#00c2ff 973.5px,#001aff 979.5px,#0000fd 982.5px,#0000f4 985.5px,#0000f4 1081.5px,#0000ff 1087.5px,#0040ff 1093.5px,#0049ff 1096.5px,#004bff 1102.5px,#0047ff 1105.5px,#0035ff 1108.5px,#000fff 1111.5px,#0000fd 1114.5px,#0000f4 1117.5px,#0000f6 1246.5px,#0000ff 1255.5px,#000eff 1258.5px,#0029ff 1261.5px,#004dff 1264.5px,#00b5ff 1270.5px,#00defd 1273.5px,#22ffd5 1276.5px,#4fffa8 1279.5px,#00d2ff 1282.5px,#0000f1 1285.5px,#0000e8 1288.5px,#0000eb 1315.5px,#0086ff 1318.5px,#03e9f4 1321.5px,#0091ff 1324.5px,#008eff 1327.5px,#60ff97 1330.5px,#abff4c 1333.5px,#82ff75 1336.5px,#3bffbc 1339.5px,#0ef6e9 1342.5px,#01e7f5 1345.5px,#00e6f7 1486.5px)"></div>
<div style="top:618px;height:3px;background:linear-gradient(90deg,#0031ff 1.5px,#0034ff 94.5px,#005dff 160.5px,#007fff 202.5px,#006fff 205.5px,#003cff 208.5px,#0000ff 211.5px,#0000e6 214.5px,#0000dd 217.5px,#0000de 226.5px,#0000e6 229.5px,#0000ff 232.5px,#001dff 235.5px,#0056ff 238.5px,#0084ff 241.5px,#009dff 244.5px,#00abff 250.5px,#00bfff 280.5px,#00daff 349.5px,#04ebf2 385.5px,#04ebf3 427.5px,#02e7f5 430.5px,#0096ff 433.5px,#00a4ff 436.5px,#04eaf3 439.5px,#09f0ee 457.5px,#00e6f6 460.5px,#00beff 463.5px,#05ecf1 466.5px,#14ffe3 481.5px,#19ffde 508.5px,#16ffe0 598.5px,#0ff9e7 601.5px,#00e5f7 604.5px,#00cbff 607.5px,#00b5ff 610.5px,#00abff 613.5px,#00a7ff 637.5px,#00abff 661.5px,#00b5ff 667.5px,#00d9ff 676.5px,#00defc 679.5px,#00a5ff 682.5px,#0025ff 685.5px,#0000e9 688.5px,#0000dd 691.5px,#0000df 736.5px,#0000e9 739.5px,#0000ff 742.5px,#0013ff 745.5px,#004aff 748.5px,#00ddfe 754.5px,#25ffd2 757.5px,#3dffb9 760.5px,#48ffaf 763.5px,#4affac 772.5px,#2effc9 787.5px,#30ffc7 817.5px,#4bffac 844.5px,#52ffa5 862.5px,#2effc9 934.5px,#15ffe2 970.5px,#09f1ed 973.5px,#00bdff 976.5px,#0056ff 979.5px,#0003ff 982.5px,#0000f4 988.5px,#0000f4 1078.5px,#0000fd 1081.5px,#000bff 1084.5px,#002cff 1087.5px,#003eff 1090.5px,#0048ff 1093.5px,#004bff 1099.5px,#003dff 1105.5px,#0030ff 1108.5px,#0000ff 1114.5px,#0000f6 1117.5px,#0000f5 1255.5px,#0004ff 1267.5px,#0019ff 1270.5px,#0039ff 1273.5px,#0063ff 1276.5px,#0095ff 1279.5px,#0070ff 1282.5px,#0000ef 1285.5px,#0000e8 1288.5px,#0000e9 1300.5px,#0000ef 1303.5px,#0000e8 1306.5px,#0000e8 1312.5px,#0000f5 1315.5px,#0085ff 1318.5px,#0022ff 1321.5px,#0000eb 1324.5px,#0000f0 1327.5px,#004fff 1330.5px,#57ffa0 1333.5px,#7bff7c 1336.5px,#32ffc5 1339.5px,#00e6f6 1342.5px,#00d6ff 1345.5px,#00d4ff 1486.5px)"></div>
<div style="top:621px;height:3px;background:linear-gradient(90deg,#002fff 1.5px,#0032ff 94.5px,#0057ff 157.5px,#007bff 199.5px,#007aff 202.5px,#0065ff 205.5px,#002eff 208.5px,#0000ff 211.5px,#0000e3 214.5px,#0000dc 220.5px,#0000de 229.5px,#0000e6 232.5px,#0000ff 235.5px,#001cff 238.5px,#0055ff 241.5px,#0083ff 244.5px,#009cff 247.5px,#00aaff 253.5px,#00bcff 283.5px,#00d7ff 352.5px,#03e9f4 394.5px,#00e6f7 433.5px,#00e4f8 436.5px,#04eaf3 445.5px,#09f1ed 460.5px,#00e2fa 463.5px,#00d5ff 466.5px,#00a7ff 469.5px,#00b4ff 472.5px,#10f9e7 475.5px,#18ffdf 487.5px,#18ffdf 598.5px,#14fee3 601.5px,#09f0ee 604.5px,#00d8ff 607.5px,#00bfff 610.5px,#00afff 613.5px,#00a7ff 619.5px,#00a9ff 664.5px,#00b6ff 673.5px,#00c5ff 679.5px,#0093ff 682.5px,#001fff 685.5px,#0000e8 688.5px,#0000dd 691.5px,#0000df 742.5px,#0000e5 745.5px,#0000f7 748.5px,#000dff 751.5px,#0048ff 754.5px,#0096ff 757.5px,#00e5f7 760.5px,#2bffcc 763.5px,#3fffb7 766.5px,#47ffb0 772.5px,#2fffc8 790.5px,#2effc8 826.5px,#47ffb0 853.5px,#41ffb6 880.5px,#35ffc2 913.5px,#13fee3 964.5px,#0cf4eb 973.5px,#00defd 976.5px,#0093ff 979.5px,#002aff 982.5px,#0000ff 985.5px,#0000f4 988.5px,#0000f4 1078.5px,#0000ff 1081.5px,#0012ff 1084.5px,#0033ff 1087.5px,#0040ff 1090.5px,#0045ff 1102.5px,#002dff 1111.5px,#0000ff 1117.5px,#0000f3 1123.5px,#0000f5 1264.5px,#0000ff 1276.5px,#000dff 1279.5px,#000aff 1282.5px,#0000ec 1285.5px,#0000e8 1297.5px,#0000ea 1300.5px,#0014ff 1303.5px,#0000f8 1306.5px,#0000e8 1309.5px,#0000ec 1312.5px,#003fff 1315.5px,#26ffd1 1318.5px,#002aff 1321.5px,#0000e9 1324.5px,#0000e8 1327.5px,#0000f0 1330.5px,#0079ff 1333.5px,#5cff9a 1336.5px,#28ffcf 1339.5px,#00d6ff 1342.5px,#00c5ff 1345.5px,#00c3ff 1486.5px)"></div>
<div style="top:624px;height:3px;background:linear-gradient(90deg,#002eff 1.5px,#0030ff 94.5px,#0054ff 157.5px,#0077ff 199.5px,#0076ff 202.5px,#0061ff 205.5px,#002aff 208.5px,#0000ff 211.5px,#0000e2 214.5px,#0000dc 223.5px,#0000de 232.5px,#0000e6 235.5px,#0000fe 238.5px,#001cff 241.5px,#0053ff 244.5px,#0081ff 247.5px,#009aff 250.5px,#00a7ff 256.5px,#00b5ff 277.5px,#00d5ff 355.5px,#01e7f6 397.5px,#04eaf3 448.5px,#00beff 451.5px,#0091ff 454.5px,#00defd 457.5px,#03e9f4 460.5px,#0074ff 463.5px,#004aff 466.5px,#0058ff 469.5px,#005eff 472.5px,#06edf0 475.5px,#14ffe3 478.5px,#19ffde 505.5px,#16ffe0 601.5px,#0ff9e7 604.5px,#00e5f7 607.5px,#00cbff 610.5px,#00b5ff 613.5px,#00abff 616.5px,#00a7ff 640.5px,#00abff 673.5px,#00afff 679.5px,#0080ff 682.5px,#0017ff 685.5px,#0000e7 688.5px,#0000dd 691.5px,#0000de 748.5px,#0000e4 751.5px,#0000f7 754.5px,#0012ff 757.5px,#0059ff 760.5px,#00afff 763.5px,#10fae6 766.5px,#33ffc4 769.5px,#40ffb7 772.5px,#3fffb7 778.5px,#31ffc5 799.5px,#2cffcb 829.5px,#3cffbb 859.5px,#33ffc4 907.5px,#13fde4 955.5px,#07eef0 973.5px,#00e6f7 976.5px,#00beff 979.5px,#005eff 982.5px,#0008ff 985.5px,#0000f8 988.5px,#0000f3 1003.5px,#0000f6 1081.5px,#0000ff 1084.5px,#0001ff 1087.5px,#000eff 1090.5px,#0013ff 1096.5px,#0022ff 1099.5px,#003bff 1102.5px,#0045ff 1108.5px,#0046ff 1111.5px,#003cff 1114.5px,#0015ff 1117.5px,#0000fc 1120.5px,#0000f4 1123.5px,#0000f5 1264.5px,#0000ff 1270.5px,#0000f8 1282.5px,#0000e8 1288.5px,#0000e8 1297.5px,#0000ee 1300.5px,#007cff 1303.5px,#0046ff 1306.5px,#0025ff 1309.5px,#007cff 1312.5px,#2cffcb 1315.5px,#a3ff54 1318.5px,#15ffe1 1321.5px,#0002ff 1324.5px,#0000e8 1327.5px,#0000e8 1330.5px,#0003ff 1333.5px,#07eef0 1336.5px,#1dffda 1339.5px,#00c8ff 1342.5px,#00b5ff 1345.5px,#00b3ff 1486.5px)"></div>
<div style="top:627px;height:3px;background:linear-gradient(90deg,#002dff 1.5px,#0030ff 94.5px,#0053ff 160.5px,#0072ff 202.5px,#0061ff 205.5px,#0000ff 211.5px,#0000e4 214.5px,#0000dc 220.5px,#0000de 235.5px,#0000e6 238.5px,#0000fe 241.5px,#001aff 244.5px,#0051ff 247.5px,#007eff 250.5px,#0096ff 253.5px,#00a3ff 259.5px,#00b8ff 301.5px,#00dffc 379.5px,#03eaf3 445.5px,#03e9f4 448.5px,#007dff 451.5px,#003bff 454.5px,#00c4ff 460.5px,#0043ff 463.5px,#003bff 466.5px,#0055ff 469.5px,#004fff 472.5px,#03e9f4 475.5px,#15ffe1 478.5px,#19ffde 526.5px,#18ffdf 601.5px,#14fee3 604.5px,#09f0ee 607.5px,#00d8ff 610.5px,#00bfff 613.5px,#00afff 616.5px,#00a8ff 622.5px,#00a9ff 676.5px,#00a4ff 679.5px,#0076ff 682.5px,#0015ff 685.5px,#0000e8 688.5px,#0000dd 691.5px,#0000de 754.5px,#0000e7 757.5px,#0000ff 760.5px,#0027ff 763.5px,#00d0ff 769.5px,#1fffd8 772.5px,#36ffc1 775.5px,#3dffba 778.5px,#2bffcc 835.5px,#32ffc5 865.5px,#2fffc8 910.5px,#12fce4 955.5px,#03eaf3 976.5px,#00d9ff 979.5px,#0098ff 982.5px,#0034ff 985.5px,#0000ff 988.5px,#0000f5 991.5px,#0000f6 1087.5px,#0000f9 1096.5px,#0000ff 1099.5px,#0025ff 1111.5px,#0021ff 1114.5px,#0006ff 1117.5px,#0000f4 1123.5px,#0000f7 1144.5px,#0000f3 1180.5px,#0000f4 1258.5px,#0000ff 1264.5px,#0022ff 1270.5px,#0021ff 1273.5px,#0000ff 1279.5px,#0000e8 1291.5px,#0000e9 1297.5px,#0000f1 1300.5px,#004dff 1303.5px,#0099ff 1306.5px,#00d6ff 1309.5px,#41ffb6 1312.5px,#77ff80 1315.5px,#99ff5d 1318.5px,#8eff69 1321.5px,#00aeff 1324.5px,#0002ff 1327.5px,#0000ed 1330.5px,#0004ff 1333.5px,#00b9ff 1336.5px,#16ffe0 1339.5px,#00c2ff 1342.5px,#00afff 1345.5px,#00adff 1486.5px)"></div>
<div style="top:630px;height:3px;background:linear-gradient(90deg,#002dff 1.5px,#0030ff 97.5px,#0051ff 160.5px,#006eff 202.5px,#0062ff 205.5px,#0036ff 208.5px,#0000ff 211.5px,#0000e6 214.5px,#0000dd 217.5px,#0000de 238.5px,#0000e5 241.5px,#0000fd 244.5px,#0019ff 247.5px,#004eff 250.5px,#0079ff 253.5px,#008fff 256.5px,#009dff 262.5px,#00dffc 385.5px,#05ebf2 448.5px,#0092ff 451.5px,#0040ff 454.5px,#0051ff 457.5px,#00d2ff 460.5px,#0066ff 463.5px,#003fff 466.5px,#0091ff 469.5px,#00b2ff 472.5px,#0ff8e8 475.5px,#16ffe0 478.5px,#17ffe0 604.5px,#10f9e7 607.5px,#00e6f7 610.5px,#00ccff 613.5px,#00b7ff 616.5px,#00a9ff 622.5px,#00a7ff 676.5px,#00a3ff 679.5px,#007fff 682.5px,#002cff 685.5px,#0000f8 688.5px,#0000e0 691.5px,#0000dc 703.5px,#0000dd 757.5px,#0000e0 760.5px,#0004ff 766.5px,#0045ff 769.5px,#0099ff 772.5px,#00e5f7 775.5px,#26ffd1 778.5px,#36ffc1 781.5px,#3dffba 790.5px,#33ffc4 820.5px,#2bffcc 844.5px,#2bffcc 916.5px,#12fce4 955.5px,#05ebf2 976.5px,#00e5f7 979.5px,#00c5ff 982.5px,#0018ff 988.5px,#0000ff 991.5px,#0000f5 994.5px,#0000f4 1099.5px,#0000ff 1114.5px,#0000f4 1120.5px,#0000f5 1135.5px,#0000ff 1138.5px,#000dff 1141.5px,#0000ff 1147.5px,#0000f3 1156.5px,#0000f3 1255.5px,#0000ff 1261.5px,#0029ff 1264.5px,#0040ff 1267.5px,#0048ff 1270.5px,#0041ff 1276.5px,#0028ff 1279.5px,#0000ff 1282.5px,#0000f1 1288.5px,#0000ec 1291.5px,#0000f7 1300.5px,#0003ff 1303.5px,#0026ff 1306.5px,#0054ff 1309.5px,#0092ff 1312.5px,#00dcff 1315.5px,#34ffc3 1318.5px,#66ff91 1321.5px,#6fff87 1324.5px,#11fbe6 1327.5px,#0096ff 1330.5px,#15ffe2 1333.5px,#57ffa0 1336.5px,#18ffdf 1339.5px,#00bdff 1342.5px,#00aaff 1345.5px,#00a8ff 1486.5px)"></div>
<div style="top:633px;height:3px;background:linear-gradient(90deg,#002cff 1.5px,#002eff 94.5px,#0052ff 166.5px,#006aff 202.5px,#0061ff 205.5px,#003cff 208.5px,#0003ff 211.5px,#0000e9 214.5px,#0000de 217.5px,#0000de 241.5px,#0000e5 244.5px,#0000fc 247.5px,#0016ff 250.5px,#0046ff 253.5px,#006cff 256.5px,#0081ff 259.5px,#0095ff 265.5px,#00b1ff 307.5px,#00dffc 394.5px,#03e9f4 442.5px,#07eef0 448.5px,#03e9f4 451.5px,#00afff 454.5px,#0088ff 457.5px,#05ebf2 460.5px,#02e8f5 463.5px,#00beff 466.5px,#00e6f7 469.5px,#14fee3 472.5px,#19ffde 502.5px,#18ffdf 604.5px,#14ffe3 607.5px,#0af2ed 610.5px,#00ddfe 613.5px,#00b7ff 619.5px,#00aaff 625.5px,#00a5ff 679.5px,#0095ff 682.5px,#0060ff 685.5px,#0013ff 688.5px,#0000ee 691.5px,#0000de 694.5px,#0000de 763.5px,#0000e4 766.5px,#0000f8 769.5px,#0016ff 772.5px,#005eff 775.5px,#00b0ff 778.5px,#03eaf3 781.5px,#1bffdc 784.5px,#31ffc6 790.5px,#3dffba 802.5px,#33ffc4 826.5px,#2affcd 850.5px,#28ffcf 922.5px,#12fce4 955.5px,#03e9f4 979.5px,#00ddfe 982.5px,#00afff 985.5px,#005eff 988.5px,#0019ff 991.5px,#0000ff 994.5px,#0000f6 997.5px,#0000f5 1063.5px,#0000ff 1069.5px,#0000fd 1078.5px,#0000f4 1081.5px,#0000f4 1132.5px,#0000fa 1135.5px,#0011ff 1138.5px,#003bff 1141.5px,#003dff 1144.5px,#0030ff 1147.5px,#0013ff 1150.5px,#0000ff 1153.5px,#0000f3 1159.5px,#0000f3 1255.5px,#0006ff 1261.5px,#0034ff 1264.5px,#0042ff 1267.5px,#0041ff 1276.5px,#0029ff 1279.5px,#0000ff 1282.5px,#0000f4 1285.5px,#0000f7 1303.5px,#0000ff 1309.5px,#0010ff 1312.5px,#0036ff 1315.5px,#006dff 1318.5px,#00b3ff 1321.5px,#14fee3 1324.5px,#49ffae 1327.5px,#6eff89 1330.5px,#84ff73 1333.5px,#61ff96 1336.5px,#11fae6 1339.5px,#00b7ff 1342.5px,#00a5ff 1345.5px,#00a3ff 1486.5px)"></div>
<div style="top:636px;height:3px;background:linear-gradient(90deg,#002cff 1.5px,#002fff 97.5px,#004fff 166.5px,#0066ff 202.5px,#0060ff 205.5px,#0041ff 208.5px,#000aff 211.5px,#0000ed 214.5px,#0000de 217.5px,#0000de 244.5px,#0000e5 247.5px,#0000f9 250.5px,#000bff 253.5px,#004cff 259.5px,#0079ff 265.5px,#008fff 271.5px,#009eff 286.5px,#00ddfe 394.5px,#02e8f5 442.5px,#14ffe3 466.5px,#19ffde 502.5px,#17ffe0 607.5px,#12fce5 610.5px,#00dcfe 616.5px,#00bbff 622.5px,#00abff 628.5px,#00a7ff 664.5px,#00a7ff 679.5px,#00a3ff 682.5px,#008cff 685.5px,#004fff 688.5px,#0007ff 691.5px,#0000eb 694.5px,#0000de 697.5px,#0000df 769.5px,#0000e8 772.5px,#0000ff 775.5px,#0025ff 778.5px,#0059ff 781.5px,#00acff 787.5px,#00ccff 790.5px,#01e7f6 793.5px,#15ffe2 796.5px,#25ffd2 799.5px,#33ffc4 805.5px,#39ffbe 820.5px,#2affcd 856.5px,#27ffd0 925.5px,#13fde4 955.5px,#00e6f6 982.5px,#00d7ff 985.5px,#00b0ff 988.5px,#0026ff 994.5px,#0000ff 997.5px,#0000f4 1003.5px,#0000f4 1060.5px,#0000fa 1063.5px,#000dff 1066.5px,#002cff 1069.5px,#0036ff 1072.5px,#0030ff 1075.5px,#000bff 1078.5px,#0000fa 1081.5px,#0000f3 1087.5px,#0000f7 1132.5px,#0000f9 1135.5px,#000dff 1138.5px,#003eff 1141.5px,#004bff 1144.5px,#004aff 1147.5px,#003eff 1150.5px,#0000ff 1156.5px,#0000f4 1159.5px,#0000f4 1258.5px,#0000ff 1261.5px,#0019ff 1270.5px,#0012ff 1276.5px,#0001ff 1279.5px,#0000f3 1288.5px,#0000f6 1309.5px,#0003ff 1318.5px,#0020ff 1321.5px,#004eff 1324.5px,#0090ff 1327.5px,#01e6f6 1330.5px,#38ffbf 1333.5px,#32ffc5 1336.5px,#00e1fb 1339.5px,#00aeff 1342.5px,#009fff 1345.5px,#009eff 1486.5px)"></div>
<div style="top:639px;height:3px;background:linear-gradient(90deg,#002bff 1.5px,#002eff 97.5px,#004eff 169.5px,#0061ff 202.5px,#005dff 205.5px,#0045ff 208.5px,#0012ff 211.5px,#0000f2 214.5px,#0000df 217.5px,#0000de 247.5px,#0000e3 250.5px,#0000ff 256.5px,#0009ff 259.5px,#005aff 268.5px,#0080ff 274.5px,#0095ff 283.5px,#00d6ff 382.5px,#01e7f6 442.5px,#14ffe2 463.5px,#19ffde 514.5px,#16ffe0 610.5px,#09f1ee 616.5px,#00e2f9 619.5px,#00c2ff 625.5px,#00aeff 631.5px,#00a7ff 643.5px,#00a6ff 682.5px,#00a1ff 685.5px,#0085ff 688.5px,#0049ff 691.5px,#0005ff 694.5px,#0000ea 697.5px,#0000de 700.5px,#0000dd 772.5px,#0000e0 775.5px,#0000fb 781.5px,#0000ff 784.5px,#0032ff 790.5px,#0051ff 793.5px,#009fff 799.5px,#00bfff 802.5px,#00d2ff 805.5px,#00e5f7 808.5px,#0ef6e9 811.5px,#19ffdd 814.5px,#33ffc3 826.5px,#32ffc5 838.5px,#29ffce 868.5px,#27ffd0 928.5px,#13fce4 958.5px,#00e4f8 985.5px,#00d9ff 988.5px,#00baff 991.5px,#007dff 994.5px,#0035ff 997.5px,#0002ff 1000.5px,#0000f3 1009.5px,#0000f4 1060.5px,#0000fc 1063.5px,#0016ff 1066.5px,#0039ff 1069.5px,#0045ff 1072.5px,#0045ff 1075.5px,#002cff 1078.5px,#0000ff 1081.5px,#0000f3 1087.5px,#0000f6 1123.5px,#0000ff 1126.5px,#0009ff 1132.5px,#0000ff 1135.5px,#0000ff 1138.5px,#0041ff 1144.5px,#0048ff 1147.5px,#0047ff 1150.5px,#0034ff 1153.5px,#0004ff 1156.5px,#0000f3 1162.5px,#0000f4 1258.5px,#0000ff 1264.5px,#0022ff 1270.5px,#0023ff 1273.5px,#0000ff 1279.5px,#0000f4 1282.5px,#0000f5 1315.5px,#0000ff 1324.5px,#0013ff 1327.5px,#004aff 1330.5px,#009bff 1333.5px,#00c7ff 1336.5px,#00b7ff 1339.5px,#00a0ff 1342.5px,#0098ff 1348.5px,#0098ff 1486.5px)"></div>
<div style="top:642px;height:3px;background:linear-gradient(90deg,#002bff 1.5px,#002eff 97.5px,#004bff 169.5px,#005dff 202.5px,#005aff 205.5px,#0047ff 208.5px,#0018ff 211.5px,#0000f7 214.5px,#0000e1 217.5px,#0000dc 232.5px,#0000df 253.5px,#0000ec 259.5px,#0000fa 262.5px,#0000ff 265.5px,#0067ff 277.5px,#0085ff 283.5px,#0096ff 292.5px,#00c8ff 364.5px,#00d8ff 397.5px,#00e5f7 442.5px,#15ffe2 463.5px,#19ffde 523.5px,#17ffe0 613.5px,#14fee3 616.5px,#03eaf3 622.5px,#00daff 625.5px,#00bbff 631.5px,#00abff 637.5px,#00a7ff 673.5px,#00a6ff 685.5px,#009fff 688.5px,#0083ff 691.5px,#0000ff 697.5px,#0000e6 700.5px,#0000de 703.5px,#0000de 781.5px,#0000eb 790.5px,#0000ff 796.5px,#000fff 799.5px,#004dff 808.5px,#00b0ff 820.5px,#00d4ff 823.5px,#0bf3ec 826.5px,#1cffda 829.5px,#2effc9 835.5px,#30ffc7 847.5px,#29ffce 871.5px,#26ffd1 934.5px,#12fce5 964.5px,#00e3f9 988.5px,#00dbff 991.5px,#00c2ff 994.5px,#008dff 997.5px,#0045ff 1000.5px,#000cff 1003.5px,#0000fe 1006.5px,#0000f5 1009.5px,#0000f6 1063.5px,#0000ff 1066.5px,#0009ff 1069.5px,#001bff 1072.5px,#0026ff 1075.5px,#001fff 1078.5px,#0001ff 1081.5px,#0000f3 1087.5px,#0000f4 1120.5px,#0000f9 1123.5px,#000cff 1126.5px,#0034ff 1129.5px,#003bff 1132.5px,#0024ff 1135.5px,#0000ff 1138.5px,#0000ff 1141.5px,#0016ff 1144.5px,#0023ff 1147.5px,#0021ff 1150.5px,#0000ff 1156.5px,#0000f5 1159.5px,#0000f5 1258.5px,#0000ff 1261.5px,#0026ff 1264.5px,#003eff 1267.5px,#0044ff 1270.5px,#0043ff 1273.5px,#002dff 1276.5px,#0000ff 1279.5px,#0000f5 1282.5px,#0000f5 1324.5px,#0000ff 1330.5px,#0033ff 1333.5px,#0076ff 1336.5px,#0094ff 1339.5px,#0093ff 1486.5px)"></div>
<div style="top:645px;height:3px;background:linear-gradient(90deg,#002aff 1.5px,#002dff 97.5px,#004cff 178.5px,#0057ff 205.5px,#0048ff 208.5px,#001fff 211.5px,#0000fd 214.5px,#0000e2 217.5px,#0000dc 226.5px,#0000de 259.5px,#0000e8 265.5px,#0000ff 271.5px,#000eff 274.5px,#005dff 283.5px,#0082ff 289.5px,#0095ff 298.5px,#00bdff 352.5px,#00d6ff 397.5px,#00e1fb 439.5px,#03e9f4 448.5px,#15ffe2 463.5px,#19ffde 511.5px,#18ffdf 616.5px,#11fae6 622.5px,#00e2fa 628.5px,#00c2ff 634.5px,#00aeff 640.5px,#00a7ff 652.5px,#00a5ff 688.5px,#009eff 691.5px,#007cff 694.5px,#0036ff 697.5px,#0000ff 700.5px,#0000ed 703.5px,#0000e0 709.5px,#0000dc 745.5px,#0000de 793.5px,#0000ec 805.5px,#0000fe 811.5px,#0000ff 814.5px,#0009ff 817.5px,#001cff 820.5px,#0068ff 826.5px,#00bfff 832.5px,#00e1fb 835.5px,#12fce5 838.5px,#2affcc 844.5px,#2fffc8 850.5px,#29ffce 877.5px,#26ffd1 940.5px,#13fde4 970.5px,#00e3f9 991.5px,#00dcfe 994.5px,#00c9ff 997.5px,#009cff 1000.5px,#0018ff 1006.5px,#0000ff 1009.5px,#0000f4 1015.5px,#0000f4 1066.5px,#0000ff 1078.5px,#0000f3 1087.5px,#0000f6 1123.5px,#0000ff 1126.5px,#001fff 1129.5px,#0032ff 1132.5px,#002bff 1135.5px,#0004ff 1138.5px,#0000f8 1141.5px,#0000fe 1150.5px,#0000f4 1159.5px,#0000f4 1258.5px,#0000ff 1261.5px,#001aff 1264.5px,#0024ff 1267.5px,#0023ff 1273.5px,#0000ff 1279.5px,#0000f4 1282.5px,#0000f4 1327.5px,#0003ff 1333.5px,#0077ff 1339.5px,#008bff 1342.5px,#008eff 1486.5px)"></div>
<div style="top:648px;height:3px;background:linear-gradient(90deg,#002aff 1.5px,#002dff 100.5px,#004fff 193.5px,#0053ff 205.5px,#0048ff 208.5px,#0000ff 214.5px,#0000e4 217.5px,#0000dc 223.5px,#0000de 265.5px,#0000e5 271.5px,#0000fe 277.5px,#0004ff 280.5px,#0058ff 289.5px,#006fff 292.5px,#0089ff 298.5px,#009dff 313.5px,#00d2ff 391.5px,#00defc 439.5px,#05ecf2 451.5px,#14ffe3 463.5px,#19ffde 490.5px,#17ffe0 622.5px,#13fee3 625.5px,#03eaf3 631.5px,#00daff 634.5px,#00bcff 640.5px,#00acff 646.5px,#00a7ff 667.5px,#00a5ff 691.5px,#009aff 694.5px,#0077ff 697.5px,#0045ff 700.5px,#0021ff 703.5px,#0008ff 706.5px,#0000ff 709.5px,#0000e1 718.5px,#0000dc 739.5px,#0000de 811.5px,#0000e6 820.5px,#0000ff 826.5px,#000bff 829.5px,#0051ff 835.5px,#00adff 841.5px,#00e1fa 844.5px,#1cffda 847.5px,#29ffcd 850.5px,#2cffcb 856.5px,#25ffd1 949.5px,#12fce4 979.5px,#00e4f8 994.5px,#00defd 997.5px,#00cfff 1000.5px,#00aaff 1003.5px,#002dff 1009.5px,#0004ff 1012.5px,#0000fe 1015.5px,#0000f4 1021.5px,#0000f6 1126.5px,#0000ff 1129.5px,#0000fe 1138.5px,#0000f4 1141.5px,#0000f4 1258.5px,#0000ff 1264.5px,#0000fb 1276.5px,#0000f3 1282.5px,#0000f4 1330.5px,#0000fe 1333.5px,#0014ff 1336.5px,#0054ff 1339.5px,#007dff 1342.5px,#0088ff 1345.5px,#0089ff 1486.5px)"></div>
<div style="top:651px;height:3px;background:linear-gradient(90deg,#0029ff 1.5px,#002cff 100.5px,#004fff 205.5px,#0047ff 208.5px,#0028ff 211.5px,#0000ff 214.5px,#0000e7 217.5px,#0000dd 220.5px,#0000df 274.5px,#0000ea 280.5px,#0000f8 283.5px,#0000ff 286.5px,#006bff 298.5px,#0089ff 304.5px,#009bff 316.5px,#00bfff 364.5px,#00d1ff 397.5px,#00defd 442.5px,#03eaf3 451.5px,#13fee3 463.5px,#19ffde 490.5px,#18ffdf 625.5px,#11fae6 631.5px,#00e3f9 637.5px,#00c4ff 643.5px,#00afff 649.5px,#00a7ff 661.5px,#00a4ff 694.5px,#009dff 697.5px,#0074ff 706.5px,#005dff 709.5px,#001bff 715.5px,#0000ff 718.5px,#0000e4 724.5px,#0000dc 730.5px,#0000df 826.5px,#0000ea 832.5px,#0000f8 835.5px,#0000ff 838.5px,#0021ff 841.5px,#0062ff 844.5px,#00aeff 847.5px,#03e9f4 850.5px,#1effd9 853.5px,#28ffcf 856.5px,#26ffd1 958.5px,#18ffdf 982.5px,#0bf3ec 991.5px,#00e2fa 1000.5px,#00d6ff 1003.5px,#00bbff 1006.5px,#008bff 1009.5px,#001dff 1015.5px,#0000ff 1018.5px,#0000f4 1027.5px,#0000f6 1333.5px,#0000ff 1336.5px,#002bff 1339.5px,#0065ff 1342.5px,#007fff 1345.5px,#0084ff 1351.5px,#0084ff 1486.5px)"></div>
<div style="top:654px;height:3px;background:linear-gradient(90deg,#0029ff 1.5px,#002cff 103.5px,#004aff 205.5px,#0045ff 208.5px,#002cff 211.5px,#0000ff 214.5px,#0000ea 217.5px,#0000de 220.5px,#0000de 280.5px,#0000e8 286.5px,#0000ff 292.5px,#0012ff 295.5px,#006bff 304.5px,#007eff 307.5px,#0096ff 316.5px,#00b4ff 352.5px,#00cdff 394.5px,#00defd 445.5px,#06edf1 454.5px,#15ffe2 466.5px,#19ffde 502.5px,#17ffe0 631.5px,#0ef7e9 637.5px,#00dcfe 643.5px,#00b2ff 652.5px,#00a8ff 661.5px,#00a8ff 700.5px,#00c2ff 706.5px,#00c7ff 709.5px,#00baff 712.5px,#0099ff 715.5px,#006dff 718.5px,#0004ff 724.5px,#0000e0 730.5px,#0000dc 754.5px,#0000de 835.5px,#0000ea 841.5px,#0000ff 844.5px,#002aff 847.5px,#00bdff 853.5px,#0af1ed 856.5px,#1fffd7 859.5px,#27ffcf 862.5px,#26ffd1 970.5px,#19ffde 988.5px,#11fae6 994.5px,#00defd 1006.5px,#00cdff 1009.5px,#00acff 1012.5px,#007bff 1015.5px,#0043ff 1018.5px,#0013ff 1021.5px,#0000ff 1024.5px,#0000f4 1033.5px,#0000f4 1333.5px,#0000fa 1336.5px,#0008ff 1339.5px,#0041ff 1342.5px,#006fff 1345.5px,#007dff 1348.5px,#007fff 1486.5px)"></div>
<div style="top:657px;height:3px;background:linear-gradient(90deg,#0028ff 1.5px,#002bff 103.5px,#0045ff 205.5px,#0042ff 208.5px,#002eff 211.5px,#0005ff 214.5px,#0000df 220.5px,#0000de 286.5px,#0000e6 292.5px,#0000ff 298.5px,#0011ff 301.5px,#004fff 307.5px,#007cff 313.5px,#0093ff 319.5px,#00a4ff 334.5px,#00cbff 394.5px,#00dcff 445.5px,#04eaf3 454.5px,#14ffe3 466.5px,#19ffde 493.5px,#16ffe1 637.5px,#0af2ed 643.5px,#00e5f7 646.5px,#00d4ff 649.5px,#00b7ff 655.5px,#00a8ff 664.5px,#00a5ff 697.5px,#00aaff 700.5px,#00b9ff 703.5px,#00d2ff 706.5px,#02e7f5 709.5px,#07eef0 712.5px,#02e8f5 715.5px,#00d5ff 718.5px,#00aeff 721.5px,#0022ff 727.5px,#0000ff 730.5px,#0000e5 733.5px,#0000dc 739.5px,#0000dd 841.5px,#0000e1 844.5px,#0001ff 850.5px,#003bff 853.5px,#00cbff 859.5px,#11fae6 862.5px,#22ffd4 865.5px,#29ffce 871.5px,#27ffd0 979.5px,#17ffdf 997.5px,#0ef7e9 1003.5px,#01e7f6 1009.5px,#00daff 1012.5px,#00c6ff 1015.5px,#00a0ff 1018.5px,#0036ff 1024.5px,#000cff 1027.5px,#0000ff 1030.5px,#0000f5 1036.5px,#0000f5 1336.5px,#0000ff 1339.5px,#001bff 1342.5px,#0053ff 1345.5px,#0073ff 1348.5px,#007aff 1354.5px,#007aff 1486.5px)"></div>
<div style="top:660px;height:3px;background:linear-gradient(90deg,#0028ff 1.5px,#002bff 106.5px,#0040ff 205.5px,#003eff 208.5px,#002fff 211.5px,#0009ff 214.5px,#0000f1 217.5px,#0000e0 220.5px,#0000dc 232.5px,#0000dd 292.5px,#0000e5 298.5px,#0000ff 304.5px,#000fff 307.5px,#0067ff 316.5px,#007dff 319.5px,#0095ff 325.5px,#00a7ff 343.5px,#00c8ff 394.5px,#00d9ff 445.5px,#02e8f5 454.5px,#13fee3 466.5px,#19ffde 493.5px,#17ffe0 640.5px,#0ef7e8 646.5px,#00ddfe 652.5px,#00bdff 658.5px,#00acff 664.5px,#00a5ff 694.5px,#00a9ff 700.5px,#00b8ff 703.5px,#00d2ff 706.5px,#02e8f4 709.5px,#0bf3ec 712.5px,#0bf3ec 718.5px,#03e9f4 721.5px,#00cbff 724.5px,#0090ff 727.5px,#0044ff 730.5px,#0004ff 733.5px,#0000df 739.5px,#0000dd 847.5px,#0000e3 850.5px,#0000f4 853.5px,#000cff 856.5px,#004dff 859.5px,#009bff 862.5px,#00dffc 865.5px,#1bffdc 868.5px,#26ffd1 871.5px,#27ffcf 985.5px,#1affdd 1003.5px,#15ffe2 1006.5px,#00e4f8 1015.5px,#00d5ff 1018.5px,#00bcff 1021.5px,#0094ff 1024.5px,#002bff 1030.5px,#0007ff 1033.5px,#0000ff 1036.5px,#0000f5 1042.5px,#0000f4 1336.5px,#0000ff 1342.5px,#0060ff 1348.5px,#0072ff 1351.5px,#0074ff 1486.5px)"></div>
<div style="top:663px;height:3px;background:linear-gradient(90deg,#0027ff 1.5px,#002aff 106.5px,#003aff 208.5px,#002eff 211.5px,#000eff 214.5px,#0000f5 217.5px,#0000e1 220.5px,#0000dc 235.5px,#0000dd 298.5px,#0000e5 304.5px,#0000ff 310.5px,#000aff 313.5px,#0069ff 322.5px,#0080ff 325.5px,#008fff 328.5px,#009fff 337.5px,#00c5ff 391.5px,#00d7ff 445.5px,#00e5f7 454.5px,#12fce4 466.5px,#19ffde 487.5px,#16ffe1 646.5px,#12fce5 649.5px,#00e5f7 655.5px,#00d4ff 658.5px,#00b7ff 664.5px,#00abff 670.5px,#00a6ff 697.5px,#00aaff 700.5px,#00b8ff 703.5px,#00d1ff 706.5px,#01e7f6 709.5px,#09f1ee 712.5px,#0af2ed 721.5px,#06ecf1 724.5px,#00daff 727.5px,#00adff 730.5px,#001aff 736.5px,#0000f8 739.5px,#0000e3 742.5px,#0000dc 748.5px,#0000de 853.5px,#0000e6 856.5px,#0000fe 859.5px,#0020ff 862.5px,#006fff 865.5px,#00c5ff 868.5px,#12fce4 871.5px,#24ffd3 874.5px,#29ffce 889.5px,#26ffd1 997.5px,#1bffdc 1009.5px,#15ffe2 1012.5px,#00e0fb 1021.5px,#00d0ff 1024.5px,#00b3ff 1027.5px,#008aff 1030.5px,#0028ff 1036.5px,#0005ff 1039.5px,#0000ff 1042.5px,#0000f4 1048.5px,#0000f4 1339.5px,#0000fc 1342.5px,#000dff 1345.5px,#0043ff 1348.5px,#0066ff 1351.5px,#006fff 1354.5px,#006fff 1486.5px)"></div>
<div style="top:666px;height:3px;background:linear-gradient(90deg,#0027ff 1.5px,#002aff 112.5px,#0036ff 208.5px,#002dff 211.5px,#0011ff 214.5px,#0000fa 217.5px,#0000e2 220.5px,#0000dc 229.5px,#0000df 307.5px,#0000ed 313.5px,#0000ff 316.5px,#000aff 319.5px,#006cff 328.5px,#0082ff 331.5px,#0098ff 337.5px,#00c0ff 385.5px,#00d5ff 445.5px,#00e2fa 454.5px,#14ffe2 469.5px,#19ffde 499.5px,#17ffe0 649.5px,#14ffe3 652.5px,#05ecf2 658.5px,#00ddfe 661.5px,#00bfff 667.5px,#00b2ff 673.5px,#00adff 697.5px,#00b0ff 700.5px,#00bdff 703.5px,#00d2ff 706.5px,#00e6f7 709.5px,#09f0ee 715.5px,#05ecf2 727.5px,#00e1fa 730.5px,#00c0ff 733.5px,#0080ff 736.5px,#0035ff 739.5px,#0000ff 742.5px,#0000ea 745.5px,#0000df 748.5px,#0000dd 856.5px,#0000e0 859.5px,#0005ff 865.5px,#0050ff 868.5px,#00acff 871.5px,#09f1ee 874.5px,#21ffd6 877.5px,#29ffce 883.5px,#27ffd0 1003.5px,#1affdd 1015.5px,#14fee3 1018.5px,#00ddfd 1027.5px,#00cbff 1030.5px,#00afff 1033.5px,#0085ff 1036.5px,#001dff 1042.5px,#0000ff 1045.5px,#0000f3 1057.5px,#0000f5 1342.5px,#0000ff 1345.5px,#0022ff 1348.5px,#0053ff 1351.5px,#0067ff 1354.5px,#006aff 1486.5px)"></div>
<div style="top:669px;height:3px;background:linear-gradient(90deg,#0026ff 1.5px,#0029ff 115.5px,#0031ff 208.5px,#002bff 211.5px,#0000fd 217.5px,#0000e4 220.5px,#0000dc 226.5px,#0000df 313.5px,#0000ed 319.5px,#0000ff 322.5px,#000cff 325.5px,#006cff 334.5px,#0083ff 337.5px,#0099ff 343.5px,#00b4ff 373.5px,#00c4ff 403.5px,#00d5ff 448.5px,#00e6f6 457.5px,#13fee3 469.5px,#19ffde 496.5px,#16ffe1 655.5px,#12fce5 658.5px,#00e5f7 664.5px,#00d8ff 667.5px,#00c8ff 673.5px,#00bfff 697.5px,#00c1ff 700.5px,#00d9ff 706.5px,#01e6f6 709.5px,#06edf0 715.5px,#03e9f4 730.5px,#00e2f9 733.5px,#00ccff 736.5px,#009cff 739.5px,#0010ff 745.5px,#0000f2 748.5px,#0000e1 751.5px,#0000dc 766.5px,#0000de 862.5px,#0000e5 865.5px,#0000ff 868.5px,#0038ff 871.5px,#0094ff 874.5px,#00e1fb 877.5px,#1cffda 880.5px,#27ffd0 883.5px,#27ffd0 1009.5px,#1affdd 1021.5px,#13fde3 1024.5px,#02e8f4 1030.5px,#00daff 1033.5px,#00c6ff 1036.5px,#00a4ff 1039.5px,#0041ff 1045.5px,#0016ff 1048.5px,#0000ff 1051.5px,#0000f4 1060.5px,#0000f4 1342.5px,#0005ff 1348.5px,#0035ff 1351.5px,#0059ff 1354.5px,#0064ff 1357.5px,#0065ff 1486.5px)"></div>
<div style="top:672px;height:3px;background:linear-gradient(90deg,#0026ff 1.5px,#002aff 139.5px,#002cff 208.5px,#0027ff 211.5px,#0000ff 217.5px,#0000e5 220.5px,#0000dd 223.5px,#0000df 319.5px,#0000e3 322.5px,#0000ff 328.5px,#000cff 331.5px,#006dff 340.5px,#0084ff 343.5px,#009bff 349.5px,#00beff 391.5px,#00d3ff 448.5px,#00e3f9 457.5px,#12fce4 469.5px,#19ffde 490.5px,#17ffe0 658.5px,#14ffe3 661.5px,#00e5f7 673.5px,#00d7ff 700.5px,#00e2fa 706.5px,#04ebf3 715.5px,#00e1fa 736.5px,#00d5ff 739.5px,#00b1ff 742.5px,#006fff 745.5px,#0024ff 748.5px,#0000fc 751.5px,#0000e3 754.5px,#0000dc 760.5px,#0000dd 865.5px,#0000e2 868.5px,#0000f9 871.5px,#0021ff 874.5px,#00d6ff 880.5px,#1dffd9 883.5px,#28ffcf 886.5px,#27ffd0 1015.5px,#1affdd 1027.5px,#13fde4 1030.5px,#00e4f8 1036.5px,#00d3ff 1039.5px,#00baff 1042.5px,#0097ff 1045.5px,#003aff 1051.5px,#0012ff 1054.5px,#0000ff 1057.5px,#0000f4 1066.5px,#0000f6 1210.5px,#0000f5 1345.5px,#0000ff 1348.5px,#0015ff 1351.5px,#0043ff 1354.5px,#005bff 1357.5px,#0060ff 1363.5px,#0060ff 1486.5px)"></div>
<div style="top:675px;height:3px;background:linear-gradient(90deg,#0025ff 1.5px,#0027ff 208.5px,#0024ff 211.5px,#0000ff 217.5px,#0000e6 220.5px,#0000dc 226.5px,#0000df 325.5px,#0000ee 331.5px,#0000ff 334.5px,#000dff 337.5px,#006fff 346.5px,#0085ff 349.5px,#0094ff 352.5px,#00a5ff 361.5px,#00bdff 397.5px,#00d0ff 448.5px,#00e0fb 457.5px,#11fbe5 469.5px,#18ffdf 481.5px,#16ffe0 664.5px,#04ebf2 694.5px,#02e8f5 706.5px,#00defd 739.5px,#00d6ff 742.5px,#00bcff 745.5px,#0082ff 748.5px,#0034ff 751.5px,#0000ff 754.5px,#0000e7 757.5px,#0000de 760.5px,#0000dd 868.5px,#0000e0 871.5px,#0000ef 874.5px,#0016ff 877.5px,#0084ff 880.5px,#06ecf1 883.5px,#24ffd3 886.5px,#29ffce 892.5px,#27ffd0 1021.5px,#1effd8 1030.5px,#10f9e7 1036.5px,#04eaf3 1039.5px,#00d9ff 1042.5px,#00acff 1048.5px,#008bff 1051.5px,#0034ff 1057.5px,#000fff 1060.5px,#0000ff 1063.5px,#0000f4 1072.5px,#0000f4 1204.5px,#0000ff 1210.5px,#000dff 1213.5px,#0000ff 1219.5px,#0000f4 1228.5px,#0000f4 1345.5px,#0000ff 1351.5px,#004dff 1357.5px,#0059ff 1360.5px,#005bff 1486.5px)"></div>
<div style="top:678px;height:3px;background:linear-gradient(90deg,#0025ff 1.5px,#0024ff 196.5px,#0020ff 211.5px,#0000ff 217.5px,#0000e8 220.5px,#0000de 223.5px,#0000df 331.5px,#0000ee 337.5px,#0000ff 340.5px,#000dff 343.5px,#0070ff 352.5px,#0087ff 355.5px,#0096ff 358.5px,#00a7ff 367.5px,#00b9ff 394.5px,#00ceff 448.5px,#00ddfd 457.5px,#06ecf1 463.5px,#14fee3 472.5px,#19ffde 499.5px,#16ffe1 676.5px,#0ff8e8 688.5px,#02e8f4 706.5px,#00d9ff 742.5px,#00d4ff 745.5px,#00c1ff 748.5px,#0091ff 751.5px,#0007ff 757.5px,#0000ed 760.5px,#0000df 763.5px,#0000dc 871.5px,#0000df 874.5px,#0000f4 877.5px,#0039ff 880.5px,#00bbff 883.5px,#1affdd 886.5px,#27ffd0 889.5px,#27ffd0 1027.5px,#1cffdb 1036.5px,#13fde4 1039.5px,#06edf1 1042.5px,#00daff 1045.5px,#009fff 1054.5px,#0081ff 1057.5px,#0031ff 1063.5px,#000eff 1066.5px,#0000ff 1069.5px,#0000f4 1078.5px,#0000f4 1204.5px,#0000fe 1207.5px,#003fff 1213.5px,#003dff 1216.5px,#002eff 1219.5px,#0000ff 1225.5px,#0000f3 1231.5px,#0000f4 1348.5px,#0000fc 1351.5px,#000bff 1354.5px,#0038ff 1357.5px,#0051ff 1360.5px,#0056ff 1375.5px,#0056ff 1486.5px)"></div>
<div style="top:681px;height:3px;background:linear-gradient(90deg,#0024ff 1.5px,#0022ff 175.5px,#001bff 211.5px,#0000ff 217.5px,#0000e9 220.5px,#0000de 223.5px,#0000df 337.5px,#0000ee 343.5px,#0000ff 346.5px,#000eff 349.5px,#0071ff 358.5px,#0089ff 361.5px,#00a1ff 367.5px,#00b6ff 391.5px,#00ccff 448.5px,#00daff 457.5px,#09f1ed 466.5px,#15ffe1 475.5px,#19ffde 523.5px,#16ffe1 679.5px,#00e5f7 709.5px,#00d5ff 742.5px,#00d2ff 748.5px,#00c5ff 751.5px,#00a0ff 754.5px,#0014ff 760.5px,#0000f4 763.5px,#0000e0 766.5px,#0000dc 790.5px,#0000dd 874.5px,#0000e3 877.5px,#0004ff 880.5px,#007aff 883.5px,#03eaf3 886.5px,#23ffd4 889.5px,#29ffce 898.5px,#27ffd0 1033.5px,#1effd9 1039.5px,#14fee3 1042.5px,#06edf1 1045.5px,#00d9ff 1048.5px,#0095ff 1060.5px,#007aff 1063.5px,#0030ff 1069.5px,#0013ff 1072.5px,#0000ff 1075.5px,#0000f9 1081.5px,#0000f3 1096.5px,#0000f4 1204.5px,#0000fd 1207.5px,#001dff 1210.5px,#0045ff 1213.5px,#004cff 1216.5px,#004aff 1219.5px,#0041ff 1222.5px,#001cff 1225.5px,#0000ff 1228.5px,#0000f4 1231.5px,#0000f5 1279.5px,#0000f5 1288.5px,#0000f6 1351.5px,#0000ff 1354.5px,#0043ff 1360.5px,#004fff 1363.5px,#0050ff 1486.5px)"></div>
<div style="top:684px;height:3px;background:linear-gradient(90deg,#0023ff 1.5px,#0020ff 172.5px,#0018ff 211.5px,#0000ff 217.5px,#0000eb 220.5px,#0000df 223.5px,#0000dd 340.5px,#0000e4 346.5px,#0000ff 352.5px,#000eff 355.5px,#0076ff 364.5px,#008eff 367.5px,#00a2ff 373.5px,#00b2ff 391.5px,#00c8ff 448.5px,#00defd 460.5px,#07eef0 466.5px,#15ffe2 475.5px,#19ffde 511.5px,#16ffe1 679.5px,#08f0ef 694.5px,#00e1fb 712.5px,#00cfff 751.5px,#00c7ff 754.5px,#00a9ff 757.5px,#006cff 760.5px,#001eff 763.5px,#0000f3 766.5px,#0000df 769.5px,#0000de 877.5px,#0000f2 880.5px,#0037ff 883.5px,#00b9ff 886.5px,#18ffde 889.5px,#26ffd0 892.5px,#27ffd0 1036.5px,#1effd9 1042.5px,#13fde3 1045.5px,#05ecf2 1048.5px,#00d7ff 1051.5px,#00b3ff 1057.5px,#008dff 1066.5px,#005dff 1072.5px,#0022ff 1078.5px,#000aff 1081.5px,#0000ff 1084.5px,#0000f4 1096.5px,#0000f3 1204.5px,#0003ff 1210.5px,#0032ff 1213.5px,#0049ff 1216.5px,#004bff 1222.5px,#0036ff 1225.5px,#0002ff 1228.5px,#0000f3 1234.5px,#0000f5 1276.5px,#0000ff 1279.5px,#000fff 1282.5px,#000dff 1285.5px,#0000ff 1288.5px,#0000f3 1297.5px,#0000f4 1351.5px,#0000fb 1354.5px,#0008ff 1357.5px,#0032ff 1360.5px,#0049ff 1363.5px,#004dff 1375.5px,#004dff 1486.5px)"></div>
<div style="top:687px;height:3px;background:linear-gradient(90deg,#0022ff 1.5px,#001fff 172.5px,#0018ff 211.5px,#0010ff 214.5px,#0000ff 217.5px,#0000df 223.5px,#0000dd 346.5px,#0000e4 352.5px,#0000ee 355.5px,#0000ff 358.5px,#0011ff 361.5px,#005bff 367.5px,#0079ff 370.5px,#008dff 373.5px,#00a0ff 379.5px,#00aeff 400.5px,#00c3ff 448.5px,#00d9ff 460.5px,#04ebf3 466.5px,#14fee3 475.5px,#19ffde 502.5px,#16ffe1 679.5px,#0af2ed 691.5px,#00e3f9 703.5px,#00d3ff 733.5px,#00ccff 754.5px,#00c6ff 757.5px,#00adff 760.5px,#0069ff 763.5px,#0010ff 766.5px,#0000eb 769.5px,#0000de 772.5px,#0000dd 877.5px,#0000e3 880.5px,#0003ff 883.5px,#0075ff 886.5px,#00e4f8 889.5px,#21ffd6 892.5px,#29ffce 898.5px,#27ffd0 1039.5px,#1dffda 1045.5px,#12fce5 1048.5px,#02e9f4 1051.5px,#00d3ff 1054.5px,#00adff 1060.5px,#009aff 1066.5px,#008aff 1072.5px,#007cff 1075.5px,#0034ff 1084.5px,#0004ff 1090.5px,#0000f5 1102.5px,#0000f4 1207.5px,#0000fb 1210.5px,#000fff 1213.5px,#0036ff 1216.5px,#0044ff 1219.5px,#0049ff 1222.5px,#0043ff 1225.5px,#0017ff 1228.5px,#0000fb 1231.5px,#0000f3 1237.5px,#0000f3 1273.5px,#0000f7 1276.5px,#0009ff 1279.5px,#0039ff 1282.5px,#0040ff 1285.5px,#002dff 1288.5px,#0001ff 1291.5px,#0000f3 1297.5px,#0000f6 1354.5px,#0000ff 1357.5px,#0043ff 1363.5px,#004eff 1366.5px,#0050ff 1486.5px)"></div>
<div style="top:690px;height:3px;background:linear-gradient(90deg,#0021ff 1.5px,#001eff 172.5px,#0017ff 211.5px,#0011ff 214.5px,#0000ff 217.5px,#0000e0 223.5px,#0000dc 247.5px,#0000df 355.5px,#0000e4 358.5px,#0000ff 364.5px,#0017ff 367.5px,#005bff 373.5px,#0077ff 376.5px,#008bff 379.5px,#009fff 385.5px,#00c1ff 451.5px,#00ddfd 463.5px,#08efef 469.5px,#15ffe2 478.5px,#19ffde 514.5px,#17ffe0 676.5px,#0cf5eb 688.5px,#00e3f9 700.5px,#00d4ff 724.5px,#00c8ff 757.5px,#00c2ff 760.5px,#00a1ff 763.5px,#0000ff 769.5px,#0000e5 772.5px,#0000dd 775.5px,#0000de 880.5px,#0000f0 883.5px,#002cff 886.5px,#00a7ff 889.5px,#10f9e7 892.5px,#23ffd3 895.5px,#29ffce 910.5px,#27ffd0 1042.5px,#1bffdc 1048.5px,#0ef7e9 1051.5px,#00e0fb 1054.5px,#00afff 1060.5px,#009fff 1063.5px,#0091ff 1069.5px,#0086ff 1078.5px,#0070ff 1084.5px,#0042ff 1090.5px,#0013ff 1096.5px,#0001ff 1099.5px,#0000f4 1114.5px,#0000f4 1210.5px,#0000fe 1213.5px,#0005ff 1216.5px,#0029ff 1222.5px,#0032ff 1225.5px,#0000ff 1231.5px,#0000f4 1234.5px,#0000f6 1276.5px,#0001ff 1279.5px,#0036ff 1282.5px,#004aff 1285.5px,#0044ff 1288.5px,#001aff 1291.5px,#0000fc 1294.5px,#0000f4 1297.5px,#0000f4 1354.5px,#0000fb 1357.5px,#000aff 1360.5px,#0035ff 1363.5px,#004dff 1366.5px,#0053ff 1375.5px,#0053ff 1486.5px)"></div>
<div style="top:693px;height:3px;background:linear-gradient(90deg,#0020ff 1.5px,#001dff 175.5px,#0017ff 211.5px,#0012ff 214.5px,#0000ff 217.5px,#0000f4 220.5px,#0000e1 223.5px,#0000dc 238.5px,#0000df 361.5px,#0000f3 367.5px,#0000ff 370.5px,#0016ff 373.5px,#007dff 382.5px,#0090ff 385.5px,#0099ff 388.5px,#00bcff 451.5px,#00d8ff 463.5px,#05ebf2 469.5px,#14fee3 478.5px,#19ffde 505.5px,#17ffe0 676.5px,#0bf3ec 688.5px,#00e4f8 697.5px,#00d8ff 712.5px,#00c6ff 751.5px,#00c4ff 760.5px,#00baff 763.5px,#008dff 766.5px,#0037ff 769.5px,#0000fd 772.5px,#0000e1 775.5px,#0000dc 781.5px,#0000dc 880.5px,#0000e1 883.5px,#0000ff 886.5px,#0059ff 889.5px,#00ccff 892.5px,#18ffdf 895.5px,#24ffd3 898.5px,#29ffce 913.5px,#26ffd0 1042.5px,#1bffdc 1048.5px,#0df6ea 1051.5px,#00dcff 1054.5px,#00a4ff 1060.5px,#0093ff 1063.5px,#0084ff 1069.5px,#007dff 1084.5px,#006fff 1090.5px,#0052ff 1096.5px,#000fff 1105.5px,#0000ff 1108.5px,#0000f4 1132.5px,#0000f6 1216.5px,#0000ff 1225.5px,#0000f9 1231.5px,#0000f3 1237.5px,#0000f4 1276.5px,#0000ff 1279.5px,#0034ff 1285.5px,#003bff 1288.5px,#0022ff 1291.5px,#0000ff 1294.5px,#0000f4 1297.5px,#0000f6 1357.5px,#0000ff 1360.5px,#0047ff 1366.5px,#0053ff 1369.5px,#0056ff 1486.5px)"></div>
<div style="top:696px;height:3px;background:linear-gradient(90deg,#001fff 1.5px,#001cff 175.5px,#0017ff 211.5px,#0013ff 214.5px,#0003ff 217.5px,#0000f6 220.5px,#0000e3 223.5px,#0000dc 229.5px,#0000dd 364.5px,#0000e6 370.5px,#0000ff 376.5px,#001eff 379.5px,#0074ff 385.5px,#008aff 388.5px,#0093ff 391.5px,#00b7ff 451.5px,#00c9ff 460.5px,#00ddfe 466.5px,#08f0ef 472.5px,#15ffe2 481.5px,#19ffde 541.5px,#16ffe1 676.5px,#09f1ee 688.5px,#00e6f7 694.5px,#00d8ff 706.5px,#00c2ff 754.5px,#00bfff 763.5px,#00afff 766.5px,#0075ff 769.5px,#001cff 772.5px,#0000ef 775.5px,#0000de 778.5px,#0000dd 883.5px,#0000e9 886.5px,#0014ff 889.5px,#0083ff 892.5px,#00e2fa 895.5px,#1bffdc 898.5px,#27ffd0 904.5px,#26ffd1 1036.5px,#16ffe1 1045.5px,#08f0ee 1048.5px,#00d8ff 1051.5px,#009cff 1057.5px,#0087ff 1060.5px,#007aff 1063.5px,#0074ff 1066.5px,#007aff 1078.5px,#006cff 1096.5px,#005aff 1102.5px,#0017ff 1114.5px,#0003ff 1120.5px,#0000fc 1132.5px,#0000f4 1150.5px,#0000f5 1279.5px,#0000ff 1282.5px,#0000ff 1285.5px,#0007ff 1288.5px,#0000fc 1294.5px,#0000f4 1297.5px,#0000f4 1357.5px,#0000fc 1360.5px,#000bff 1363.5px,#0039ff 1366.5px,#0052ff 1369.5px,#0058ff 1378.5px,#005aff 1486.5px)"></div>
<div style="top:699px;height:3px;background:linear-gradient(90deg,#001eff 1.5px,#001bff 178.5px,#0013ff 214.5px,#0005ff 217.5px,#0000fa 220.5px,#0000e4 223.5px,#0000dc 229.5px,#0000dd 370.5px,#0000e8 376.5px,#0000fd 379.5px,#0015ff 382.5px,#0046ff 385.5px,#006fff 388.5px,#0085ff 391.5px,#0090ff 397.5px,#00b2ff 451.5px,#00ccff 463.5px,#00e1fa 469.5px,#0ff8e8 478.5px,#16ffe1 487.5px,#17ffe0 673.5px,#10f9e7 682.5px,#00e3f9 694.5px,#00d5ff 706.5px,#00bfff 754.5px,#00b8ff 766.5px,#009fff 769.5px,#0059ff 772.5px,#0006ff 775.5px,#0000e7 778.5px,#0000dd 781.5px,#0000df 886.5px,#0000f6 889.5px,#0034ff 892.5px,#00a7ff 895.5px,#08efef 898.5px,#1cffdb 901.5px,#26ffd1 907.5px,#27ffcf 1027.5px,#1affdd 1036.5px,#10fae6 1039.5px,#04eaf3 1042.5px,#00d6ff 1045.5px,#0089ff 1054.5px,#0075ff 1057.5px,#0069ff 1060.5px,#0065ff 1063.5px,#006cff 1066.5px,#009dff 1072.5px,#009eff 1081.5px,#006dff 1099.5px,#0061ff 1105.5px,#0045ff 1117.5px,#0005ff 1135.5px,#0000ff 1141.5px,#0000f5 1159.5px,#0000f6 1360.5px,#0000ff 1363.5px,#004cff 1369.5px,#0059ff 1372.5px,#005dff 1480.5px,#005dff 1486.5px)"></div>
<div style="top:702px;height:3px;background:linear-gradient(90deg,#001dff 1.5px,#001aff 178.5px,#0013ff 214.5px,#0000fd 220.5px,#0000e6 223.5px,#0000dc 229.5px,#0000de 376.5px,#0000e5 379.5px,#0000fa 382.5px,#0012ff 385.5px,#0043ff 388.5px,#006aff 391.5px,#007fff 394.5px,#008aff 400.5px,#00acff 451.5px,#00c6ff 463.5px,#00daff 469.5px,#05ecf1 475.5px,#14fee3 487.5px,#19ffde 532.5px,#16ffe1 673.5px,#0ef7e9 682.5px,#00e5f7 691.5px,#00d7ff 700.5px,#00bbff 754.5px,#00b7ff 766.5px,#00b0ff 769.5px,#008dff 772.5px,#003dff 775.5px,#0000ff 778.5px,#0000e1 781.5px,#0000dc 787.5px,#0000dd 886.5px,#0000e3 889.5px,#0000ff 892.5px,#005cff 895.5px,#00c2ff 898.5px,#0cf4eb 901.5px,#1affdc 904.5px,#28ffcf 913.5px,#26ffd1 1024.5px,#17ffe0 1030.5px,#00dffc 1036.5px,#0074ff 1051.5px,#005eff 1057.5px,#005eff 1063.5px,#0081ff 1066.5px,#00b0ff 1069.5px,#00c1ff 1072.5px,#00c0ff 1084.5px,#00b2ff 1093.5px,#00a8ff 1096.5px,#007fff 1099.5px,#0060ff 1102.5px,#0058ff 1123.5px,#0046ff 1132.5px,#0005ff 1147.5px,#0000ff 1153.5px,#0000f4 1177.5px,#0000f4 1360.5px,#0000fc 1363.5px,#000dff 1366.5px,#003dff 1369.5px,#0057ff 1372.5px,#005eff 1378.5px,#0060ff 1486.5px)"></div>
<div style="top:705px;height:3px;background:linear-gradient(90deg,#001cff 1.5px,#0019ff 181.5px,#0013ff 214.5px,#0000ff 220.5px,#0000e8 223.5px,#0000de 226.5px,#0000de 379.5px,#0000e4 382.5px,#0000f9 385.5px,#0010ff 388.5px,#003fff 391.5px,#0066ff 394.5px,#007aff 397.5px,#0085ff 403.5px,#00a7ff 451.5px,#00bfff 463.5px,#00dcff 472.5px,#05ecf2 478.5px,#13fde4 490.5px,#19ffde 523.5px,#17ffe0 670.5px,#10f9e7 679.5px,#00e2fa 691.5px,#00d1ff 703.5px,#00b7ff 757.5px,#00b2ff 769.5px,#00a5ff 772.5px,#0072ff 775.5px,#0019ff 778.5px,#0000ec 781.5px,#0000dd 784.5px,#0000dd 889.5px,#0000eb 892.5px,#0016ff 895.5px,#007dff 898.5px,#00d1ff 901.5px,#0cf4eb 904.5px,#18ffdf 907.5px,#27ffd0 916.5px,#26ffd1 1021.5px,#1effd9 1024.5px,#0df6ea 1027.5px,#00daff 1030.5px,#0090ff 1039.5px,#0070ff 1045.5px,#005eff 1051.5px,#0057ff 1060.5px,#005cff 1063.5px,#0082ff 1066.5px,#00b6ff 1069.5px,#00c4ff 1072.5px,#00c5ff 1093.5px,#00bbff 1096.5px,#005fff 1102.5px,#0058ff 1105.5px,#005dff 1111.5px,#0072ff 1117.5px,#0073ff 1120.5px,#005cff 1129.5px,#004cff 1141.5px,#001eff 1153.5px,#0001ff 1162.5px,#0000fa 1177.5px,#0000f3 1219.5px,#0000f6 1363.5px,#0000ff 1366.5px,#0050ff 1372.5px,#005eff 1375.5px,#0063ff 1426.5px,#0063ff 1486.5px)"></div>
<div style="top:708px;height:3px;background:linear-gradient(90deg,#001bff 1.5px,#0018ff 184.5px,#0013ff 214.5px,#0000ff 220.5px,#0000eb 223.5px,#0000df 226.5px,#0000de 382.5px,#0000e4 385.5px,#0000f8 388.5px,#000eff 391.5px,#003cff 394.5px,#0063ff 397.5px,#0077ff 400.5px,#0083ff 409.5px,#00a5ff 454.5px,#00c0ff 466.5px,#00dbff 475.5px,#0ff8e8 490.5px,#17ffe0 505.5px,#17ffe0 667.5px,#0df5ea 679.5px,#00e4f8 688.5px,#00d4ff 697.5px,#00baff 739.5px,#00abff 772.5px,#0091ff 775.5px,#0000ff 781.5px,#0000e1 784.5px,#0000dc 790.5px,#0000df 892.5px,#0000f8 895.5px,#0035ff 898.5px,#0099ff 901.5px,#00d5ff 904.5px,#07efef 907.5px,#13fde4 910.5px,#26ffd1 919.5px,#27ffd0 1018.5px,#20ffd7 1021.5px,#0df5ea 1024.5px,#00cfff 1027.5px,#00a7ff 1030.5px,#0089ff 1033.5px,#0069ff 1039.5px,#0059ff 1048.5px,#0058ff 1063.5px,#006aff 1066.5px,#008fff 1069.5px,#00afff 1075.5px,#00bdff 1081.5px,#00c1ff 1090.5px,#00baff 1093.5px,#00a2ff 1096.5px,#007aff 1099.5px,#005eff 1102.5px,#005fff 1105.5px,#006cff 1108.5px,#00acff 1117.5px,#00aeff 1120.5px,#007bff 1129.5px,#0067ff 1132.5px,#005bff 1135.5px,#0059ff 1144.5px,#005dff 1150.5px,#004bff 1156.5px,#0031ff 1162.5px,#0004ff 1177.5px,#0000ff 1189.5px,#0000f4 1216.5px,#0000f4 1363.5px,#0000fc 1366.5px,#000fff 1369.5px,#0041ff 1372.5px,#005cff 1375.5px,#0063ff 1381.5px,#0066ff 1486.5px)"></div>
<div style="top:711px;height:3px;background:linear-gradient(90deg,#001aff 1.5px,#0017ff 187.5px,#0013ff 214.5px,#000dff 217.5px,#0000ff 220.5px,#0000e0 226.5px,#0000dc 250.5px,#0000de 385.5px,#0000e4 388.5px,#0000f8 391.5px,#0010ff 394.5px,#0040ff 397.5px,#0065ff 400.5px,#0074ff 403.5px,#0092ff 439.5px,#00a4ff 457.5px,#00d0ff 475.5px,#00e6f7 484.5px,#11fbe5 499.5px,#18ffde 523.5px,#16ffe0 664.5px,#0df6ea 676.5px,#00e5f7 685.5px,#00d4ff 694.5px,#00c3ff 715.5px,#00a9ff 772.5px,#009eff 775.5px,#006fff 778.5px,#0019ff 781.5px,#0000ed 784.5px,#0000de 787.5px,#0000dd 892.5px,#0000e4 895.5px,#0000ff 898.5px,#00a2ff 904.5px,#00d0ff 907.5px,#01e6f6 910.5px,#0df6ea 913.5px,#17ffdf 916.5px,#27ffd0 925.5px,#28ffcf 1015.5px,#22ffd4 1018.5px,#12fce4 1021.5px,#00d6ff 1024.5px,#00a5ff 1027.5px,#007eff 1030.5px,#0068ff 1033.5px,#005aff 1039.5px,#0059ff 1066.5px,#0067ff 1072.5px,#0094ff 1084.5px,#00b3ff 1087.5px,#00bfff 1090.5px,#00b6ff 1093.5px,#0083ff 1099.5px,#007bff 1102.5px,#008cff 1105.5px,#00a5ff 1108.5px,#00b7ff 1111.5px,#00c5ff 1117.5px,#00c3ff 1123.5px,#00b4ff 1129.5px,#0098ff 1132.5px,#0072ff 1135.5px,#005cff 1138.5px,#005cff 1141.5px,#0070ff 1144.5px,#0090ff 1147.5px,#009cff 1150.5px,#0099ff 1153.5px,#0089ff 1156.5px,#0064ff 1159.5px,#0052ff 1162.5px,#003cff 1174.5px,#000cff 1198.5px,#0000ff 1201.5px,#0000f4 1243.5px,#0000f6 1366.5px,#0000ff 1369.5px,#0051ff 1375.5px,#0062ff 1378.5px,#0069ff 1399.5px,#0069ff 1486.5px)"></div>
<div style="top:714px;height:3px;background:linear-gradient(90deg,#0019ff 1.5px,#0016ff 190.5px,#0013ff 214.5px,#000fff 217.5px,#0000ff 220.5px,#0000f6 223.5px,#0000e4 226.5px,#0000dc 232.5px,#0000de 388.5px,#0000e5 391.5px,#0000fd 394.5px,#001bff 397.5px,#004bff 400.5px,#0068ff 403.5px,#0075ff 409.5px,#009bff 454.5px,#00afff 466.5px,#00daff 484.5px,#05ecf1 493.5px,#13fee3 508.5px,#19ffde 553.5px,#16ffe0 661.5px,#0df5ea 673.5px,#00e5f7 682.5px,#00d4ff 691.5px,#00c3ff 709.5px,#00a1ff 775.5px,#008aff 778.5px,#0000ff 784.5px,#0000e3 787.5px,#0000dc 793.5px,#0000de 895.5px,#0000ea 898.5px,#000aff 901.5px,#005bff 904.5px,#00a3ff 907.5px,#00c7ff 910.5px,#00dcfe 913.5px,#12fce5 919.5px,#21ffd5 925.5px,#29ffce 940.5px,#28ffcf 1012.5px,#24ffd3 1015.5px,#18ffdf 1018.5px,#00e1fb 1021.5px,#0082ff 1027.5px,#0066ff 1030.5px,#005bff 1033.5px,#0057ff 1057.5px,#005aff 1078.5px,#005fff 1081.5px,#0082ff 1084.5px,#00b8ff 1087.5px,#00c6ff 1090.5px,#00b8ff 1102.5px,#00c6ff 1111.5px,#00c4ff 1129.5px,#00b4ff 1132.5px,#0086ff 1135.5px,#0061ff 1138.5px,#0071ff 1141.5px,#00a1ff 1144.5px,#00bcff 1147.5px,#00c0ff 1150.5px,#00bcff 1153.5px,#00a7ff 1156.5px,#0073ff 1159.5px,#0059ff 1162.5px,#0056ff 1180.5px,#005aff 1186.5px,#003eff 1198.5px,#0010ff 1207.5px,#0001ff 1213.5px,#0000fb 1234.5px,#0000f4 1276.5px,#0000f4 1366.5px,#0006ff 1372.5px,#0035ff 1375.5px,#005aff 1378.5px,#0067ff 1381.5px,#006cff 1417.5px,#006cff 1486.5px)"></div>
<div style="top:717px;height:3px;background:linear-gradient(90deg,#0018ff 1.5px,#0015ff 196.5px,#0010ff 217.5px,#0000ff 223.5px,#0000e9 226.5px,#0000df 229.5px,#0000de 391.5px,#0000e9 394.5px,#0000ff 397.5px,#0055ff 403.5px,#0068ff 406.5px,#0080ff 430.5px,#0099ff 457.5px,#00baff 475.5px,#00dcfe 490.5px,#0af2ed 502.5px,#15ffe2 517.5px,#19ffde 601.5px,#15ffe2 661.5px,#04eaf3 676.5px,#00d4ff 688.5px,#00c2ff 706.5px,#009fff 775.5px,#0097ff 778.5px,#0070ff 781.5px,#0021ff 784.5px,#0000f1 787.5px,#0000de 790.5px,#0000de 898.5px,#0000ef 901.5px,#0014ff 904.5px,#0060ff 907.5px,#009dff 910.5px,#00bdff 913.5px,#00e3f9 919.5px,#16ffe1 925.5px,#25ffd1 934.5px,#29ffce 970.5px,#27ffd0 1009.5px,#24ffd3 1012.5px,#1affdc 1015.5px,#03eaf4 1018.5px,#00bbff 1021.5px,#008bff 1024.5px,#006aff 1027.5px,#005cff 1030.5px,#0057ff 1042.5px,#005aff 1081.5px,#0080ff 1084.5px,#00b7ff 1087.5px,#00c6ff 1090.5px,#00c3ff 1120.5px,#00b9ff 1126.5px,#00aeff 1129.5px,#0093ff 1132.5px,#006bff 1135.5px,#005eff 1138.5px,#0082ff 1141.5px,#00b1ff 1144.5px,#00b2ff 1147.5px,#00a6ff 1150.5px,#007dff 1156.5px,#0062ff 1159.5px,#0057ff 1162.5px,#005dff 1171.5px,#0091ff 1183.5px,#009aff 1186.5px,#0089ff 1189.5px,#006aff 1192.5px,#005aff 1195.5px,#0049ff 1204.5px,#001fff 1216.5px,#0000ff 1234.5px,#0000f9 1264.5px,#0000f3 1342.5px,#0000f5 1369.5px,#0000ff 1372.5px,#0011ff 1375.5px,#003fff 1378.5px,#0060ff 1381.5px,#006bff 1384.5px,#006fff 1432.5px,#006fff 1486.5px)"></div>
<div style="top:720px;height:3px;background:linear-gradient(90deg,#0017ff 1.5px,#0014ff 202.5px,#0011ff 217.5px,#0000ff 223.5px,#0000e1 229.5px,#0000dc 244.5px,#0000dd 391.5px,#0000e1 394.5px,#0000f3 397.5px,#000dff 400.5px,#003cff 403.5px,#005bff 406.5px,#0066ff 409.5px,#0083ff 442.5px,#0081ff 448.5px,#00c3ff 484.5px,#00defd 496.5px,#10f9e7 514.5px,#17ffe0 532.5px,#16ffe1 655.5px,#0bf4eb 667.5px,#00ddfe 679.5px,#00c5ff 697.5px,#0098ff 778.5px,#0086ff 781.5px,#0049ff 784.5px,#0000ff 787.5px,#0000e4 790.5px,#0000dc 796.5px,#0000dc 898.5px,#0000e0 901.5px,#0000f3 904.5px,#001aff 907.5px,#0064ff 910.5px,#0098ff 913.5px,#00c4ff 919.5px,#00d6ff 922.5px,#01e7f5 925.5px,#17ffe0 931.5px,#27ffd0 943.5px,#26ffd1 1000.5px,#20ffd6 1009.5px,#18ffdf 1012.5px,#05ecf2 1015.5px,#00c3ff 1018.5px,#0093ff 1021.5px,#006fff 1024.5px,#005dff 1027.5px,#0057ff 1036.5px,#0058ff 1081.5px,#006cff 1084.5px,#009aff 1087.5px,#00bbff 1090.5px,#00c5ff 1093.5px,#00c6ff 1108.5px,#00c3ff 1111.5px,#0092ff 1123.5px,#0064ff 1132.5px,#0059ff 1135.5px,#0059ff 1138.5px,#0081ff 1144.5px,#0060ff 1153.5px,#0057ff 1162.5px,#005aff 1168.5px,#0075ff 1171.5px,#009cff 1174.5px,#00b1ff 1177.5px,#00c0ff 1183.5px,#00c2ff 1186.5px,#00baff 1189.5px,#009eff 1192.5px,#0074ff 1195.5px,#005bff 1198.5px,#004cff 1213.5px,#0022ff 1234.5px,#0000ff 1258.5px,#0000fb 1288.5px,#0000f4 1336.5px,#0000f6 1369.5px,#0000ff 1375.5px,#0019ff 1378.5px,#0049ff 1381.5px,#0066ff 1384.5px,#006fff 1387.5px,#0072ff 1486.5px)"></div>
<div style="top:723px;height:3px;background:linear-gradient(90deg,#0016ff 1.5px,#0012ff 214.5px,#000eff 220.5px,#0001ff 223.5px,#0000f9 226.5px,#0000e5 229.5px,#0000dc 235.5px,#0000dd 394.5px,#0000e5 397.5px,#0000ff 400.5px,#001eff 403.5px,#0047ff 406.5px,#005cff 409.5px,#006cff 421.5px,#0079ff 439.5px,#005eff 448.5px,#0066ff 451.5px,#008aff 457.5px,#00bfff 487.5px,#00e0fc 502.5px,#11fbe5 523.5px,#17ffdf 547.5px,#15ffe2 652.5px,#0bf3ec 664.5px,#00e1fa 673.5px,#00d6ff 679.5px,#00c1ff 697.5px,#0094ff 778.5px,#008dff 781.5px,#006aff 784.5px,#0024ff 787.5px,#0000fb 790.5px,#0000e4 793.5px,#0000dd 799.5px,#0000dd 901.5px,#0000e1 904.5px,#0000f9 907.5px,#0023ff 910.5px,#0065ff 913.5px,#0090ff 916.5px,#00d7ff 928.5px,#01e7f5 931.5px,#16ffe1 937.5px,#25ffd2 946.5px,#28ffcf 979.5px,#1bffdb 1003.5px,#10f9e7 1009.5px,#00e5f8 1012.5px,#00c2ff 1015.5px,#0097ff 1018.5px,#0073ff 1021.5px,#005fff 1024.5px,#0057ff 1030.5px,#0059ff 1045.5px,#0071ff 1051.5px,#0072ff 1054.5px,#005cff 1060.5px,#0057ff 1072.5px,#0059ff 1081.5px,#0068ff 1084.5px,#00b5ff 1090.5px,#00c4ff 1093.5px,#00c6ff 1111.5px,#00bdff 1114.5px,#00a6ff 1117.5px,#006cff 1123.5px,#005dff 1126.5px,#0057ff 1135.5px,#0059ff 1147.5px,#0059ff 1168.5px,#0073ff 1171.5px,#00a6ff 1174.5px,#00baff 1177.5px,#00c5ff 1186.5px,#00c5ff 1189.5px,#00bdff 1192.5px,#0068ff 1198.5px,#0075ff 1204.5px,#0074ff 1207.5px,#0053ff 1219.5px,#004eff 1228.5px,#005bff 1240.5px,#004fff 1243.5px,#0038ff 1246.5px,#002aff 1252.5px,#0000ff 1291.5px,#0000fa 1321.5px,#0000f3 1360.5px,#0000f4 1363.5px,#0000ff 1366.5px,#0018ff 1372.5px,#000eff 1378.5px,#0024ff 1381.5px,#0052ff 1384.5px,#006cff 1387.5px,#0074ff 1393.5px,#0075ff 1486.5px)"></div>
<div style="top:726px;height:3px;background:linear-gradient(90deg,#0015ff 1.5px,#0011ff 217.5px,#0007ff 223.5px,#0000ff 226.5px,#0000eb 229.5px,#0000df 232.5px,#0000dd 394.5px,#0000df 397.5px,#0001ff 403.5px,#002dff 406.5px,#004dff 409.5px,#005aff 412.5px,#006fff 433.5px,#006eff 436.5px,#0064ff 439.5px,#0050ff 442.5px,#0034ff 445.5px,#0022ff 448.5px,#002fff 451.5px,#0077ff 457.5px,#0089ff 460.5px,#00c8ff 496.5px,#00e1fb 508.5px,#11fae6 529.5px,#16ffe1 550.5px,#14fee3 649.5px,#09f1ed 661.5px,#00e6f7 667.5px,#00d4ff 676.5px,#00bcff 700.5px,#008dff 781.5px,#007fff 784.5px,#0058ff 787.5px,#0023ff 790.5px,#0000ff 793.5px,#0000e1 799.5px,#0000dc 814.5px,#0000dd 904.5px,#0000e3 907.5px,#0000fe 910.5px,#0028ff 913.5px,#0065ff 916.5px,#0086ff 919.5px,#00d4ff 934.5px,#00e4f8 937.5px,#14fee3 943.5px,#24ffd2 955.5px,#25ffd2 976.5px,#13fee3 994.5px,#00e4f8 1006.5px,#00d3ff 1009.5px,#00b7ff 1012.5px,#0073ff 1018.5px,#0060ff 1021.5px,#0057ff 1027.5px,#0057ff 1042.5px,#005cff 1045.5px,#00a8ff 1051.5px,#00aeff 1054.5px,#009dff 1057.5px,#006dff 1063.5px,#005dff 1066.5px,#0057ff 1075.5px,#005dff 1081.5px,#0077ff 1084.5px,#009eff 1087.5px,#00b9ff 1090.5px,#00c3ff 1093.5px,#00c7ff 1111.5px,#00c2ff 1117.5px,#00b1ff 1120.5px,#0065ff 1126.5px,#0058ff 1129.5px,#0057ff 1168.5px,#005fff 1171.5px,#0079ff 1174.5px,#00abff 1186.5px,#00aeff 1189.5px,#00a6ff 1192.5px,#0083ff 1195.5px,#007cff 1198.5px,#00a8ff 1201.5px,#00b7ff 1204.5px,#00b6ff 1207.5px,#00a0ff 1213.5px,#006aff 1219.5px,#0065ff 1222.5px,#0070ff 1225.5px,#0093ff 1231.5px,#00a8ff 1237.5px,#00acff 1240.5px,#0095ff 1243.5px,#0062ff 1246.5px,#004eff 1249.5px,#003cff 1270.5px,#001bff 1303.5px,#0001ff 1321.5px,#0000fe 1339.5px,#0000f4 1354.5px,#0000f5 1363.5px,#0002ff 1366.5px,#005dff 1369.5px,#0091ff 1372.5px,#008aff 1375.5px,#0046ff 1378.5px,#000cff 1381.5px,#002cff 1384.5px,#005bff 1387.5px,#0071ff 1390.5px,#0078ff 1396.5px,#0078ff 1486.5px)"></div>
<div style="top:729px;height:3px;background:linear-gradient(90deg,#0014ff 1.5px,#0010ff 217.5px,#000aff 223.5px,#0000ff 226.5px,#0000e2 232.5px,#0000dc 241.5px,#0000dd 397.5px,#0000e2 400.5px,#0000f7 403.5px,#000fff 406.5px,#0036ff 409.5px,#004cff 412.5px,#005eff 421.5px,#0065ff 430.5px,#0061ff 433.5px,#0053ff 436.5px,#003bff 439.5px,#0000ff 445.5px,#0000ff 451.5px,#0023ff 454.5px,#0053ff 457.5px,#0076ff 460.5px,#0088ff 463.5px,#00c5ff 499.5px,#00dcff 511.5px,#06edf1 523.5px,#12fce5 544.5px,#12fbe5 646.5px,#03eaf3 661.5px,#00d8ff 670.5px,#00c3ff 685.5px,#0089ff 781.5px,#0086ff 784.5px,#007aff 787.5px,#0061ff 790.5px,#0013ff 796.5px,#0000fd 799.5px,#0000e5 802.5px,#0000dd 805.5px,#0000dd 907.5px,#0000e4 910.5px,#0000ff 913.5px,#005cff 919.5px,#0077ff 922.5px,#00adff 934.5px,#00dffc 943.5px,#14ffe3 952.5px,#22ffd5 964.5px,#1bffdc 976.5px,#11fae6 982.5px,#00e4f8 991.5px,#00d5ff 997.5px,#00c5ff 1003.5px,#00a5ff 1009.5px,#0071ff 1015.5px,#0060ff 1018.5px,#0057ff 1024.5px,#0059ff 1045.5px,#0075ff 1048.5px,#00abff 1051.5px,#00c2ff 1054.5px,#00c2ff 1057.5px,#00b9ff 1060.5px,#00a3ff 1063.5px,#0065ff 1069.5px,#0058ff 1072.5px,#0059ff 1081.5px,#0061ff 1084.5px,#0071ff 1087.5px,#00a1ff 1093.5px,#00b3ff 1096.5px,#00c3ff 1102.5px,#00c2ff 1117.5px,#00b4ff 1120.5px,#0065ff 1126.5px,#0058ff 1129.5px,#0057ff 1168.5px,#005fff 1171.5px,#0078ff 1174.5px,#0089ff 1177.5px,#0089ff 1186.5px,#006eff 1195.5px,#0092ff 1198.5px,#00bfff 1201.5px,#00c7ff 1207.5px,#00c5ff 1213.5px,#00bdff 1216.5px,#00a9ff 1219.5px,#00a2ff 1222.5px,#00baff 1228.5px,#00c3ff 1234.5px,#00c5ff 1240.5px,#00b6ff 1243.5px,#007dff 1246.5px,#0059ff 1249.5px,#0059ff 1258.5px,#0051ff 1300.5px,#0021ff 1333.5px,#0000ff 1345.5px,#0000ff 1366.5px,#005fff 1369.5px,#00b7ff 1372.5px,#00bfff 1375.5px,#0084ff 1378.5px,#0017ff 1381.5px,#000aff 1384.5px,#0064ff 1390.5px,#0077ff 1393.5px,#007cff 1408.5px,#007cff 1486.5px)"></div>
<div style="top:732px;height:3px;background:linear-gradient(90deg,#0013ff 1.5px,#000fff 220.5px,#000cff 223.5px,#0002ff 226.5px,#0000fc 229.5px,#0000e7 232.5px,#0000de 235.5px,#0000de 400.5px,#0000e7 403.5px,#0000ff 406.5px,#0013ff 409.5px,#002dff 412.5px,#0048ff 418.5px,#0057ff 424.5px,#0058ff 427.5px,#0052ff 430.5px,#0041ff 433.5px,#0007ff 439.5px,#0000fb 442.5px,#0000e9 445.5px,#0000e3 448.5px,#0000ea 451.5px,#0000ff 454.5px,#0022ff 457.5px,#0052ff 460.5px,#0075ff 463.5px,#0087ff 466.5px,#009bff 478.5px,#00dffc 520.5px,#0bf4eb 541.5px,#0ff8e8 625.5px,#0af2ec 649.5px,#00dbff 664.5px,#00c1ff 682.5px,#008fff 766.5px,#0080ff 787.5px,#007aff 790.5px,#006cff 793.5px,#0051ff 796.5px,#0022ff 799.5px,#0000ff 802.5px,#0000e2 805.5px,#0000dc 814.5px,#0000dd 910.5px,#0000e6 913.5px,#0000ff 916.5px,#001dff 919.5px,#0046ff 922.5px,#0063ff 925.5px,#0074ff 928.5px,#0096ff 937.5px,#00d2ff 949.5px,#02e8f5 955.5px,#13fde4 964.5px,#10fae6 970.5px,#00e1fb 979.5px,#00b8ff 991.5px,#008eff 1006.5px,#005fff 1015.5px,#0057ff 1021.5px,#0057ff 1045.5px,#0060ff 1048.5px,#00aaff 1054.5px,#00c1ff 1057.5px,#00c6ff 1060.5px,#00c3ff 1063.5px,#00b4ff 1066.5px,#0062ff 1072.5px,#0057ff 1075.5px,#0059ff 1087.5px,#0067ff 1093.5px,#0099ff 1102.5px,#00a3ff 1108.5px,#00aeff 1117.5px,#00a2ff 1120.5px,#006eff 1126.5px,#005aff 1132.5px,#0058ff 1168.5px,#006dff 1171.5px,#00a1ff 1174.5px,#00baff 1177.5px,#00baff 1183.5px,#00abff 1189.5px,#0090ff 1195.5px,#008dff 1198.5px,#00adff 1201.5px,#00c0ff 1204.5px,#00c7ff 1210.5px,#00c5ff 1237.5px,#00c1ff 1240.5px,#00afff 1243.5px,#007bff 1246.5px,#005eff 1249.5px,#006bff 1255.5px,#0079ff 1261.5px,#007aff 1300.5px,#005dff 1309.5px,#004eff 1333.5px,#0038ff 1345.5px,#0025ff 1351.5px,#001fff 1360.5px,#0016ff 1363.5px,#0016ff 1366.5px,#004fff 1369.5px,#00acff 1372.5px,#00c5ff 1375.5px,#00abff 1378.5px,#004aff 1381.5px,#000fff 1384.5px,#0024ff 1387.5px,#0053ff 1390.5px,#0074ff 1393.5px,#007dff 1396.5px,#007fff 1486.5px)"></div>
<div style="top:735px;height:3px;background:linear-gradient(90deg,#0012ff 1.5px,#000fff 220.5px,#0000ff 229.5px,#0000e0 235.5px,#0000dc 259.5px,#0000df 403.5px,#0000ea 406.5px,#0000fc 409.5px,#0000ff 412.5px,#002fff 421.5px,#003aff 424.5px,#003bff 427.5px,#002cff 430.5px,#0011ff 433.5px,#0000ff 436.5px,#0000e3 442.5px,#0000dd 448.5px,#0000df 451.5px,#0000e9 454.5px,#0000ff 457.5px,#0021ff 460.5px,#0051ff 463.5px,#0075ff 466.5px,#0086ff 469.5px,#009fff 484.5px,#00ddfe 526.5px,#06edf0 550.5px,#06edf1 643.5px,#00ddfd 658.5px,#00c2ff 676.5px,#008eff 763.5px,#0076ff 793.5px,#006dff 796.5px,#004fff 799.5px,#0016ff 802.5px,#0000f2 805.5px,#0000df 808.5px,#0000dd 913.5px,#0000e3 916.5px,#0000f5 919.5px,#0006ff 922.5px,#004eff 928.5px,#0062ff 931.5px,#00a4ff 949.5px,#00d2ff 961.5px,#00d9ff 967.5px,#00cbff 973.5px,#0094ff 988.5px,#0071ff 1006.5px,#0059ff 1015.5px,#005aff 1039.5px,#0062ff 1048.5px,#006bff 1051.5px,#007eff 1054.5px,#00a0ff 1057.5px,#00b6ff 1060.5px,#00c0ff 1063.5px,#00c2ff 1066.5px,#00a8ff 1069.5px,#006eff 1072.5px,#0058ff 1075.5px,#0059ff 1096.5px,#0068ff 1108.5px,#00b1ff 1114.5px,#00bdff 1117.5px,#00bdff 1120.5px,#00b6ff 1123.5px,#0096ff 1129.5px,#0069ff 1135.5px,#0063ff 1141.5px,#0061ff 1147.5px,#0057ff 1156.5px,#0057ff 1168.5px,#0066ff 1171.5px,#0095ff 1174.5px,#00b5ff 1177.5px,#00c0ff 1180.5px,#00c5ff 1189.5px,#00c2ff 1192.5px,#00abff 1195.5px,#0075ff 1198.5px,#0072ff 1201.5px,#00a7ff 1207.5px,#00b5ff 1210.5px,#00c6ff 1219.5px,#00beff 1234.5px,#00afff 1237.5px,#0064ff 1246.5px,#0069ff 1249.5px,#008eff 1252.5px,#00a3ff 1255.5px,#00b5ff 1261.5px,#00b0ff 1282.5px,#00aeff 1300.5px,#008cff 1306.5px,#006bff 1312.5px,#005cff 1318.5px,#0059ff 1336.5px,#0062ff 1348.5px,#005dff 1360.5px,#0053ff 1366.5px,#0068ff 1369.5px,#00a6ff 1372.5px,#00c4ff 1375.5px,#00c1ff 1378.5px,#0092ff 1381.5px,#0052ff 1384.5px,#0049ff 1387.5px,#0077ff 1393.5px,#0080ff 1396.5px,#0082ff 1486.5px)"></div>
<div style="top:738px;height:3px;background:linear-gradient(90deg,#0011ff 1.5px,#000eff 220.5px,#000aff 226.5px,#0000ff 229.5px,#0000f6 232.5px,#0000e4 235.5px,#0000dc 241.5px,#0000df 406.5px,#0000f5 415.5px,#0000ff 418.5px,#0000ff 421.5px,#000aff 424.5px,#000aff 427.5px,#0000ff 430.5px,#0000f7 433.5px,#0000e7 436.5px,#0000dd 442.5px,#0000df 454.5px,#0000e9 457.5px,#0000ff 460.5px,#0021ff 463.5px,#0051ff 466.5px,#0073ff 469.5px,#0085ff 472.5px,#00a3ff 490.5px,#00c5ff 514.5px,#00dffc 541.5px,#00e4f8 577.5px,#00e2fa 643.5px,#00d0ff 661.5px,#00bbff 682.5px,#008fff 757.5px,#006fff 796.5px,#0063ff 799.5px,#003bff 802.5px,#0000ff 805.5px,#0000e7 808.5px,#0000dd 811.5px,#0000df 919.5px,#0000e9 922.5px,#0000ff 925.5px,#0014ff 928.5px,#0037ff 931.5px,#0050ff 934.5px,#0064ff 940.5px,#008dff 955.5px,#00a8ff 964.5px,#00a4ff 970.5px,#0070ff 985.5px,#0063ff 997.5px,#005eff 1009.5px,#0057ff 1021.5px,#005cff 1030.5px,#006eff 1036.5px,#0098ff 1048.5px,#009bff 1051.5px,#0074ff 1057.5px,#007eff 1060.5px,#00a9ff 1066.5px,#0097ff 1069.5px,#0067ff 1072.5px,#0058ff 1075.5px,#0057ff 1105.5px,#005bff 1108.5px,#0080ff 1111.5px,#00b7ff 1114.5px,#00c6ff 1117.5px,#00c2ff 1129.5px,#009fff 1138.5px,#009eff 1144.5px,#0093ff 1147.5px,#0061ff 1153.5px,#0057ff 1156.5px,#005aff 1171.5px,#0068ff 1174.5px,#00a5ff 1183.5px,#00baff 1192.5px,#00a0ff 1195.5px,#0067ff 1198.5px,#0054ff 1201.5px,#0058ff 1204.5px,#006dff 1210.5px,#007dff 1213.5px,#0094ff 1216.5px,#00a0ff 1219.5px,#009aff 1225.5px,#0092ff 1231.5px,#0088ff 1234.5px,#005fff 1240.5px,#0053ff 1246.5px,#0060ff 1249.5px,#008fff 1252.5px,#00b6ff 1255.5px,#00c6ff 1258.5px,#00cfff 1264.5px,#00ccff 1300.5px,#00bcff 1306.5px,#0099ff 1312.5px,#0075ff 1318.5px,#005fff 1324.5px,#0057ff 1330.5px,#005bff 1339.5px,#0073ff 1351.5px,#0076ff 1366.5px,#007dff 1369.5px,#00c2ff 1375.5px,#00c6ff 1378.5px,#00b7ff 1381.5px,#008cff 1384.5px,#0078ff 1387.5px,#0085ff 1399.5px,#0085ff 1486.5px)"></div>
<div style="top:741px;height:3px;background:linear-gradient(90deg,#0010ff 1.5px,#000dff 223.5px,#000bff 226.5px,#0002ff 229.5px,#0000fe 232.5px,#0000e9 235.5px,#0000df 238.5px,#0000de 412.5px,#0000f0 427.5px,#0000de 436.5px,#0000df 457.5px,#0000e9 460.5px,#0000ff 463.5px,#001fff 466.5px,#004dff 469.5px,#006eff 472.5px,#0081ff 475.5px,#0092ff 481.5px,#00b9ff 508.5px,#00d5ff 541.5px,#00daff 601.5px,#00d6ff 646.5px,#00bbff 679.5px,#008eff 754.5px,#0066ff 799.5px,#0052ff 802.5px,#0021ff 805.5px,#0000fa 808.5px,#0000e1 811.5px,#0000dc 826.5px,#0000de 922.5px,#0000e3 925.5px,#0000ff 931.5px,#0020ff 934.5px,#0039ff 937.5px,#004eff 943.5px,#0078ff 964.5px,#0070ff 970.5px,#003aff 982.5px,#0035ff 994.5px,#0042ff 1000.5px,#0052ff 1006.5px,#0059ff 1024.5px,#006aff 1027.5px,#0099ff 1033.5px,#00abff 1036.5px,#00bbff 1042.5px,#00c2ff 1051.5px,#00afff 1054.5px,#007cff 1057.5px,#005eff 1060.5px,#0062ff 1063.5px,#006eff 1066.5px,#006aff 1069.5px,#005aff 1072.5px,#0058ff 1108.5px,#006bff 1111.5px,#009bff 1114.5px,#00beff 1117.5px,#00c6ff 1120.5px,#00c3ff 1141.5px,#00bcff 1144.5px,#00a4ff 1147.5px,#007cff 1150.5px,#005fff 1153.5px,#0057ff 1156.5px,#005aff 1177.5px,#0083ff 1192.5px,#0076ff 1195.5px,#0050ff 1198.5px,#0037ff 1201.5px,#0030ff 1204.5px,#0037ff 1216.5px,#003bff 1225.5px,#0030ff 1243.5px,#0033ff 1249.5px,#0047ff 1252.5px,#00b0ff 1258.5px,#00c9ff 1261.5px,#00d1ff 1267.5px,#00cfff 1306.5px,#00c4ff 1312.5px,#00a9ff 1318.5px,#0096ff 1321.5px,#0064ff 1327.5px,#0059ff 1330.5px,#0059ff 1339.5px,#0076ff 1351.5px,#0080ff 1369.5px,#0098ff 1372.5px,#00bcff 1375.5px,#00c6ff 1378.5px,#00c2ff 1381.5px,#0089ff 1387.5px,#0086ff 1393.5px,#0088ff 1486.5px)"></div>
<div style="top:744px;height:3px;background:linear-gradient(90deg,#000fff 1.5px,#000dff 223.5px,#0000ff 232.5px,#0000e1 238.5px,#0000dc 253.5px,#0000df 460.5px,#0000e9 463.5px,#0000ff 466.5px,#0017ff 469.5px,#0061ff 475.5px,#0079ff 478.5px,#0091ff 484.5px,#00b3ff 508.5px,#00ccff 538.5px,#00d1ff 604.5px,#00cdff 649.5px,#008cff 754.5px,#0064ff 799.5px,#005cff 802.5px,#003fff 805.5px,#0009ff 808.5px,#0000ed 811.5px,#0000de 814.5px,#0000df 928.5px,#0000e8 931.5px,#0000fb 934.5px,#0001ff 937.5px,#003bff 949.5px,#0050ff 958.5px,#004cff 964.5px,#0034ff 970.5px,#0000ff 979.5px,#0000ff 997.5px,#0009ff 1000.5px,#003aff 1009.5px,#004eff 1015.5px,#005dff 1024.5px,#00b6ff 1030.5px,#00c2ff 1033.5px,#00c7ff 1048.5px,#00c5ff 1051.5px,#00b4ff 1054.5px,#007cff 1057.5px,#005aff 1060.5px,#005aff 1111.5px,#0071ff 1114.5px,#009eff 1117.5px,#00bcff 1120.5px,#00c6ff 1123.5px,#00c7ff 1138.5px,#00c2ff 1141.5px,#00a4ff 1144.5px,#0078ff 1147.5px,#005fff 1150.5px,#0057ff 1156.5px,#005bff 1192.5px,#0056ff 1195.5px,#0039ff 1198.5px,#0009ff 1201.5px,#0000ff 1204.5px,#0000ff 1252.5px,#0034ff 1255.5px,#0074ff 1258.5px,#00a5ff 1261.5px,#00c5ff 1264.5px,#00d0ff 1267.5px,#00ceff 1315.5px,#00c3ff 1321.5px,#00a8ff 1324.5px,#007dff 1327.5px,#0061ff 1330.5px,#0058ff 1333.5px,#005bff 1342.5px,#0075ff 1351.5px,#007fff 1369.5px,#008dff 1372.5px,#00b3ff 1375.5px,#00c5ff 1378.5px,#00c5ff 1381.5px,#00b5ff 1384.5px,#0093ff 1387.5px,#0087ff 1390.5px,#0088ff 1486.5px)"></div>
<div style="top:747px;height:3px;background:linear-gradient(90deg,#000fff 1.5px,#000cff 226.5px,#0000ff 232.5px,#0000f9 235.5px,#0000e6 238.5px,#0000dc 244.5px,#0000df 463.5px,#0000e6 466.5px,#0000f8 469.5px,#0005ff 472.5px,#004dff 478.5px,#006cff 481.5px,#0081ff 484.5px,#0095ff 490.5px,#00adff 508.5px,#00c7ff 538.5px,#00caff 619.5px,#00c4ff 658.5px,#009fff 727.5px,#007cff 769.5px,#0060ff 802.5px,#0053ff 805.5px,#002dff 808.5px,#0000ff 811.5px,#0000e5 814.5px,#0000dd 817.5px,#0000dd 931.5px,#0000ef 940.5px,#0000ff 946.5px,#0007ff 949.5px,#0022ff 955.5px,#0028ff 958.5px,#0022ff 961.5px,#0005ff 967.5px,#0000ff 970.5px,#0000e5 979.5px,#0000e2 994.5px,#0000e9 1000.5px,#0000ff 1006.5px,#0003ff 1009.5px,#0044ff 1021.5px,#0059ff 1024.5px,#0094ff 1027.5px,#00c0ff 1030.5px,#00c6ff 1036.5px,#00c0ff 1045.5px,#00b2ff 1051.5px,#0095ff 1054.5px,#0067ff 1057.5px,#0058ff 1060.5px,#005aff 1114.5px,#0067ff 1117.5px,#0086ff 1120.5px,#00b2ff 1123.5px,#00c4ff 1126.5px,#00c4ff 1138.5px,#00bbff 1141.5px,#009fff 1144.5px,#0071ff 1147.5px,#0059ff 1150.5px,#0057ff 1192.5px,#0052ff 1195.5px,#0031ff 1198.5px,#0000ff 1201.5px,#0000dc 1204.5px,#0000d7 1210.5px,#0000d9 1249.5px,#0000f0 1252.5px,#001dff 1255.5px,#0053ff 1258.5px,#007dff 1261.5px,#00b0ff 1264.5px,#00ccff 1267.5px,#00d1ff 1273.5px,#00ceff 1321.5px,#00c2ff 1324.5px,#00aaff 1327.5px,#0064ff 1333.5px,#0058ff 1336.5px,#005aff 1342.5px,#0077ff 1354.5px,#007dff 1369.5px,#0084ff 1372.5px,#00c2ff 1378.5px,#00c7ff 1381.5px,#00bfff 1384.5px,#009eff 1387.5px,#0086ff 1390.5px,#0085ff 1486.5px)"></div>
<div style="top:750px;height:3px;background:linear-gradient(90deg,#000fff 1.5px,#000cff 226.5px,#0000ff 235.5px,#0000e1 241.5px,#0000dc 256.5px,#0000de 466.5px,#0000e2 469.5px,#0000ed 472.5px,#0000ff 475.5px,#0011ff 478.5px,#005aff 484.5px,#0076ff 487.5px,#0088ff 490.5px,#009dff 499.5px,#00c4ff 538.5px,#00c5ff 652.5px,#00b0ff 703.5px,#008bff 754.5px,#005cff 805.5px,#0049ff 808.5px,#001aff 811.5px,#0000f7 814.5px,#0000e0 817.5px,#0000dc 829.5px,#0000de 940.5px,#0000e9 949.5px,#0000ff 958.5px,#0000e2 970.5px,#0000dc 988.5px,#0000e1 1006.5px,#0000f0 1012.5px,#0000fc 1015.5px,#0000ff 1018.5px,#0012ff 1021.5px,#0031ff 1024.5px,#0074ff 1027.5px,#00a6ff 1030.5px,#00adff 1036.5px,#00acff 1039.5px,#005aff 1057.5px,#005aff 1102.5px,#0057ff 1117.5px,#005eff 1120.5px,#009eff 1126.5px,#00a5ff 1135.5px,#007fff 1144.5px,#0059ff 1150.5px,#0057ff 1192.5px,#0052ff 1195.5px,#0030ff 1198.5px,#0000ff 1201.5px,#0000d9 1204.5px,#0000d3 1210.5px,#0000d9 1249.5px,#0000f0 1252.5px,#001dff 1255.5px,#004eff 1258.5px,#006bff 1261.5px,#009cff 1264.5px,#00c5ff 1267.5px,#00d0ff 1270.5px,#00ceff 1318.5px,#00c0ff 1327.5px,#00b0ff 1330.5px,#0081ff 1333.5px,#005dff 1336.5px,#005eff 1339.5px,#0082ff 1351.5px,#007aff 1366.5px,#007eff 1372.5px,#0096ff 1375.5px,#00bcff 1378.5px,#00c6ff 1381.5px,#00c4ff 1384.5px,#00adff 1387.5px,#008bff 1390.5px,#0081ff 1393.5px,#0082ff 1486.5px)"></div>
<div style="top:753px;height:3px;background:linear-gradient(90deg,#000fff 1.5px,#000cff 226.5px,#0008ff 232.5px,#0000ff 235.5px,#0000fb 238.5px,#0000ea 241.5px,#0000dd 247.5px,#0000df 472.5px,#0000e5 475.5px,#0000ff 481.5px,#001eff 484.5px,#0066ff 490.5px,#007eff 493.5px,#0096ff 499.5px,#00a4ff 511.5px,#00c3ff 538.5px,#00c3ff 658.5px,#00b2ff 706.5px,#008eff 754.5px,#006bff 790.5px,#0060ff 805.5px,#0059ff 808.5px,#003cff 811.5px,#0006ff 814.5px,#0000ea 817.5px,#0000de 820.5px,#0000de 952.5px,#0000de 964.5px,#0000de 1012.5px,#0000e5 1018.5px,#0000ff 1024.5px,#001dff 1027.5px,#0041ff 1030.5px,#005eff 1036.5px,#0065ff 1039.5px,#0058ff 1051.5px,#0058ff 1096.5px,#0063ff 1099.5px,#007cff 1102.5px,#0086ff 1105.5px,#0060ff 1114.5px,#0058ff 1120.5px,#0063ff 1126.5px,#0064ff 1135.5px,#005aff 1144.5px,#0057ff 1192.5px,#0052ff 1195.5px,#0034ff 1198.5px,#0000ff 1201.5px,#0000ef 1204.5px,#0000ea 1216.5px,#0000ee 1225.5px,#0000fc 1231.5px,#0000ff 1252.5px,#002bff 1255.5px,#004fff 1258.5px,#0061ff 1261.5px,#0087ff 1264.5px,#00b9ff 1267.5px,#00ceff 1270.5px,#00d0ff 1315.5px,#00c7ff 1318.5px,#00adff 1321.5px,#009dff 1324.5px,#0099ff 1330.5px,#007bff 1333.5px,#0065ff 1336.5px,#009dff 1342.5px,#00abff 1345.5px,#00b3ff 1351.5px,#00a3ff 1357.5px,#0079ff 1363.5px,#007aff 1372.5px,#0088ff 1375.5px,#00b0ff 1378.5px,#00c5ff 1381.5px,#00c6ff 1384.5px,#00bbff 1387.5px,#0096ff 1390.5px,#0080ff 1393.5px,#007fff 1486.5px)"></div>
<div style="top:756px;height:3px;background:linear-gradient(90deg,#000fff 1.5px,#000cff 229.5px,#0000ff 238.5px,#0000f9 241.5px,#0000e9 244.5px,#0000dd 250.5px,#0000dd 475.5px,#0000e9 481.5px,#0000fa 484.5px,#0008ff 487.5px,#0050ff 493.5px,#006eff 496.5px,#0083ff 499.5px,#0099ff 505.5px,#00adff 523.5px,#00c2ff 538.5px,#00c6ff 574.5px,#00c2ff 670.5px,#00afff 718.5px,#008dff 760.5px,#006fff 790.5px,#0062ff 808.5px,#0054ff 811.5px,#0000ff 817.5px,#0000e3 820.5px,#0000dc 826.5px,#0000de 1021.5px,#0000eb 1027.5px,#0000ff 1033.5px,#0032ff 1042.5px,#004dff 1054.5px,#0056ff 1072.5px,#0058ff 1093.5px,#0062ff 1096.5px,#00b4ff 1102.5px,#00beff 1105.5px,#00b8ff 1108.5px,#00abff 1111.5px,#0063ff 1120.5px,#0057ff 1126.5px,#0054ff 1195.5px,#0044ff 1198.5px,#0028ff 1201.5px,#001cff 1204.5px,#001bff 1216.5px,#002fff 1225.5px,#0042ff 1231.5px,#0032ff 1240.5px,#0030ff 1249.5px,#0036ff 1252.5px,#0054ff 1258.5px,#005bff 1261.5px,#0075ff 1264.5px,#00a9ff 1267.5px,#00caff 1270.5px,#00d1ff 1273.5px,#00d0ff 1315.5px,#00c9ff 1318.5px,#00b1ff 1321.5px,#0071ff 1327.5px,#005fff 1333.5px,#0070ff 1336.5px,#00a9ff 1339.5px,#00c2ff 1342.5px,#00c5ff 1354.5px,#00bdff 1357.5px,#007aff 1363.5px,#0077ff 1372.5px,#007dff 1375.5px,#00bfff 1381.5px,#00c7ff 1384.5px,#00c2ff 1387.5px,#0083ff 1393.5px,#007cff 1396.5px,#007cff 1486.5px)"></div>
<div style="top:759px;height:3px;background:linear-gradient(90deg,#000fff 1.5px,#000cff 229.5px,#0000ff 241.5px,#0000f9 244.5px,#0000e9 247.5px,#0000dd 253.5px,#0000de 481.5px,#0000e2 484.5px,#0000ed 487.5px,#0000ff 490.5px,#0012ff 493.5px,#0056ff 499.5px,#0073ff 502.5px,#0088ff 505.5px,#0098ff 511.5px,#00b3ff 529.5px,#00c4ff 541.5px,#00c4ff 655.5px,#00b7ff 709.5px,#0097ff 757.5px,#0076ff 790.5px,#0069ff 808.5px,#0063ff 811.5px,#004bff 814.5px,#0017ff 817.5px,#0000f4 820.5px,#0000e0 823.5px,#0000dc 835.5px,#0000df 1030.5px,#0000ec 1036.5px,#0000f9 1039.5px,#0001ff 1045.5px,#003fff 1063.5px,#0052ff 1075.5px,#005cff 1090.5px,#006dff 1093.5px,#00afff 1099.5px,#00c3ff 1102.5px,#00c6ff 1111.5px,#00c2ff 1114.5px,#00b1ff 1117.5px,#0075ff 1123.5px,#005dff 1126.5px,#0057ff 1132.5px,#0056ff 1195.5px,#004bff 1204.5px,#004cff 1216.5px,#005dff 1219.5px,#0086ff 1222.5px,#009cff 1225.5px,#00a4ff 1228.5px,#00a5ff 1231.5px,#0099ff 1234.5px,#005fff 1243.5px,#0053ff 1249.5px,#0058ff 1261.5px,#0068ff 1264.5px,#00c1ff 1270.5px,#00cfff 1273.5px,#00d0ff 1315.5px,#00c5ff 1321.5px,#00b7ff 1324.5px,#0070ff 1330.5px,#005eff 1333.5px,#006cff 1336.5px,#00a1ff 1339.5px,#00bcff 1342.5px,#00c2ff 1351.5px,#00bcff 1354.5px,#00aeff 1357.5px,#008cff 1360.5px,#0076ff 1363.5px,#0077ff 1375.5px,#0089ff 1378.5px,#00b4ff 1381.5px,#00c6ff 1384.5px,#00c6ff 1387.5px,#00b4ff 1390.5px,#008bff 1393.5px,#007aff 1396.5px,#0079ff 1486.5px)"></div>
<div style="top:762px;height:3px;background:linear-gradient(90deg,#000fff 1.5px,#000cff 229.5px,#0004ff 241.5px,#0000ff 244.5px,#0000f8 247.5px,#0000e0 253.5px,#0000dc 277.5px,#0000df 487.5px,#0000e5 490.5px,#0000ff 496.5px,#0016ff 499.5px,#005eff 505.5px,#0078ff 508.5px,#0089ff 511.5px,#009eff 520.5px,#00c3ff 541.5px,#00c7ff 589.5px,#00bdff 688.5px,#00a5ff 745.5px,#0078ff 799.5px,#006dff 811.5px,#0063ff 814.5px,#0040ff 817.5px,#0009ff 820.5px,#0000ee 823.5px,#0000df 826.5px,#0000de 1036.5px,#0000e9 1048.5px,#0000ff 1057.5px,#0000ff 1060.5px,#001dff 1069.5px,#0040ff 1078.5px,#0055ff 1087.5px,#0072ff 1090.5px,#00a0ff 1093.5px,#00baff 1096.5px,#00c3ff 1099.5px,#00c5ff 1117.5px,#00beff 1120.5px,#00a4ff 1123.5px,#006fff 1126.5px,#0058ff 1129.5px,#0056ff 1216.5px,#005fff 1219.5px,#00b9ff 1225.5px,#00c5ff 1228.5px,#00beff 1237.5px,#00b2ff 1240.5px,#0083ff 1246.5px,#0069ff 1252.5px,#0058ff 1258.5px,#0057ff 1261.5px,#005eff 1264.5px,#007eff 1267.5px,#00aeff 1270.5px,#00caff 1273.5px,#00d1ff 1276.5px,#00d0ff 1315.5px,#00c6ff 1324.5px,#00bdff 1327.5px,#00a4ff 1330.5px,#007dff 1333.5px,#0064ff 1336.5px,#0096ff 1345.5px,#009eff 1348.5px,#0099ff 1351.5px,#0074ff 1360.5px,#0073ff 1375.5px,#007cff 1378.5px,#00c1ff 1384.5px,#00c6ff 1387.5px,#00bfff 1390.5px,#007bff 1396.5px,#0076ff 1402.5px,#0076ff 1486.5px)"></div>
<div style="top:765px;height:3px;background:linear-gradient(90deg,#000fff 1.5px,#000cff 229.5px,#0008ff 241.5px,#0000ff 247.5px,#0000f8 250.5px,#0000e8 253.5px,#0000dd 259.5px,#0000dd 490.5px,#0000e6 496.5px,#0000ff 502.5px,#0080ff 514.5px,#0090ff 517.5px,#00beff 538.5px,#00c7ff 556.5px,#00c2ff 637.5px,#00b0ff 718.5px,#0098ff 766.5px,#0077ff 811.5px,#0072ff 814.5px,#0063ff 817.5px,#003bff 820.5px,#0006ff 823.5px,#0000df 829.5px,#0000de 1051.5px,#0000ed 1066.5px,#0000fe 1072.5px,#0000ff 1075.5px,#0015ff 1081.5px,#0024ff 1084.5px,#003aff 1087.5px,#009eff 1093.5px,#00acff 1096.5px,#00a9ff 1102.5px,#0091ff 1108.5px,#0098ff 1111.5px,#00b3ff 1117.5px,#00bbff 1120.5px,#00abff 1123.5px,#0076ff 1126.5px,#0059ff 1129.5px,#0058ff 1219.5px,#006dff 1222.5px,#009eff 1225.5px,#00bbff 1228.5px,#00c4ff 1231.5px,#00c5ff 1240.5px,#00bcff 1246.5px,#00a4ff 1252.5px,#006eff 1258.5px,#005dff 1261.5px,#0059ff 1264.5px,#0068ff 1267.5px,#00bcff 1273.5px,#00ceff 1276.5px,#00cfff 1315.5px,#00c2ff 1330.5px,#00a6ff 1333.5px,#006eff 1336.5px,#005aff 1339.5px,#0064ff 1351.5px,#0065ff 1357.5px,#0070ff 1366.5px,#0073ff 1378.5px,#008bff 1381.5px,#00b7ff 1384.5px,#00c6ff 1387.5px,#00c4ff 1390.5px,#00aaff 1393.5px,#0080ff 1396.5px,#0074ff 1399.5px,#0073ff 1486.5px)"></div>
<div style="top:768px;height:3px;background:linear-gradient(90deg,#000fff 1.5px,#000cff 229.5px,#0008ff 244.5px,#0000ff 250.5px,#0000e6 256.5px,#0000dd 262.5px,#0000dd 496.5px,#0000e8 502.5px,#0000f9 505.5px,#0004ff 508.5px,#002cff 511.5px,#005dff 514.5px,#0082ff 517.5px,#0091ff 520.5px,#00c0ff 541.5px,#00c7ff 562.5px,#00c3ff 616.5px,#00a2ff 748.5px,#007dff 814.5px,#0077ff 817.5px,#0066ff 820.5px,#003eff 823.5px,#0008ff 826.5px,#0000ee 829.5px,#0000df 832.5px,#0000de 1069.5px,#0000ef 1081.5px,#0000ff 1087.5px,#0013ff 1090.5px,#0034ff 1093.5px,#0045ff 1096.5px,#004fff 1102.5px,#0049ff 1108.5px,#005fff 1114.5px,#0080ff 1120.5px,#0077ff 1123.5px,#005fff 1126.5px,#0054ff 1129.5px,#0057ff 1219.5px,#005bff 1222.5px,#006dff 1225.5px,#00a7ff 1231.5px,#00bbff 1234.5px,#00c7ff 1240.5px,#00c4ff 1252.5px,#00bbff 1255.5px,#00a3ff 1258.5px,#0076ff 1261.5px,#005aff 1264.5px,#005cff 1267.5px,#0074ff 1270.5px,#00a1ff 1273.5px,#00c4ff 1276.5px,#00cfff 1279.5px,#00cfff 1315.5px,#00bbff 1321.5px,#00bbff 1324.5px,#00c2ff 1327.5px,#00c1ff 1330.5px,#00aeff 1333.5px,#0077ff 1336.5px,#0059ff 1339.5px,#005aff 1354.5px,#006dff 1366.5px,#006fff 1378.5px,#007bff 1381.5px,#00a6ff 1384.5px,#00c3ff 1387.5px,#00c6ff 1390.5px,#00baff 1393.5px,#008fff 1396.5px,#0073ff 1399.5px,#0070ff 1486.5px)"></div>
<div style="top:771px;height:3px;background:linear-gradient(90deg,#000fff 1.5px,#000cff 229.5px,#0007ff 247.5px,#0000ff 253.5px,#0000e5 259.5px,#0000dc 268.5px,#0000de 502.5px,#0000e2 505.5px,#0000ed 508.5px,#0000ff 511.5px,#006eff 517.5px,#0088ff 520.5px,#00beff 541.5px,#00c7ff 556.5px,#00c4ff 607.5px,#00b4ff 655.5px,#0091ff 790.5px,#0082ff 817.5px,#007dff 820.5px,#006cff 823.5px,#0042ff 826.5px,#000aff 829.5px,#0000ef 832.5px,#0000df 835.5px,#0000df 1084.5px,#0000ef 1093.5px,#0000ff 1099.5px,#0005ff 1105.5px,#001cff 1114.5px,#0031ff 1120.5px,#004fff 1144.5px,#0056ff 1177.5px,#0058ff 1225.5px,#005eff 1228.5px,#006fff 1231.5px,#00aaff 1237.5px,#00c0ff 1240.5px,#00c6ff 1246.5px,#00c2ff 1255.5px,#00b5ff 1258.5px,#0085ff 1261.5px,#005dff 1264.5px,#0058ff 1267.5px,#0061ff 1270.5px,#007fff 1273.5px,#00acff 1276.5px,#00c9ff 1279.5px,#00d1ff 1285.5px,#00d1ff 1315.5px,#00caff 1318.5px,#0098ff 1324.5px,#009bff 1327.5px,#0097ff 1330.5px,#0084ff 1333.5px,#0068ff 1336.5px,#0058ff 1339.5px,#0058ff 1354.5px,#006bff 1366.5px,#0070ff 1381.5px,#008eff 1384.5px,#00baff 1387.5px,#00c6ff 1390.5px,#00c3ff 1393.5px,#00a2ff 1396.5px,#0077ff 1399.5px,#006dff 1402.5px,#006dff 1486.5px)"></div>
<div style="top:774px;height:3px;background:linear-gradient(90deg,#000fff 1.5px,#000cff 229.5px,#0006ff 250.5px,#0000ff 256.5px,#0000e5 262.5px,#0000dc 271.5px,#0000dd 505.5px,#0000e1 508.5px,#0000f5 511.5px,#0018ff 514.5px,#0056ff 517.5px,#007dff 520.5px,#008cff 523.5px,#00bbff 541.5px,#00c6ff 553.5px,#00c5ff 604.5px,#00b2ff 634.5px,#008bff 814.5px,#0082ff 823.5px,#0071ff 826.5px,#0046ff 829.5px,#000cff 832.5px,#0000f0 835.5px,#0000e0 838.5px,#0000dc 862.5px,#0000de 1096.5px,#0000f2 1114.5px,#0000ff 1120.5px,#0000ff 1126.5px,#003dff 1153.5px,#0050ff 1171.5px,#0058ff 1231.5px,#005fff 1234.5px,#0074ff 1237.5px,#0099ff 1240.5px,#00b7ff 1243.5px,#00c2ff 1246.5px,#00bbff 1249.5px,#009bff 1255.5px,#008cff 1258.5px,#006bff 1261.5px,#0059ff 1264.5px,#0059ff 1270.5px,#0066ff 1273.5px,#00b8ff 1279.5px,#00cdff 1282.5px,#00d1ff 1294.5px,#00cfff 1318.5px,#00bdff 1321.5px,#0092ff 1324.5px,#0070ff 1327.5px,#005cff 1333.5px,#0057ff 1345.5px,#005aff 1357.5px,#006aff 1369.5px,#006bff 1381.5px,#007bff 1384.5px,#00abff 1387.5px,#00c4ff 1390.5px,#00c4ff 1393.5px,#00aeff 1396.5px,#007fff 1399.5px,#006bff 1402.5px,#006aff 1486.5px)"></div>
<div style="top:777px;height:3px;background:linear-gradient(90deg,#000fff 1.5px,#000cff 229.5px,#0005ff 253.5px,#0000ff 259.5px,#0000e5 265.5px,#0000dc 274.5px,#0000de 508.5px,#0000e8 511.5px,#0000ff 514.5px,#003bff 517.5px,#006eff 520.5px,#0084ff 523.5px,#00beff 544.5px,#00c7ff 559.5px,#00c4ff 604.5px,#00acff 631.5px,#0097ff 757.5px,#008dff 820.5px,#0086ff 826.5px,#0075ff 829.5px,#0049ff 832.5px,#000eff 835.5px,#0000f1 838.5px,#0000e0 841.5px,#0000dc 865.5px,#0000df 1117.5px,#0000ee 1135.5px,#0000ff 1144.5px,#0000ff 1150.5px,#002bff 1168.5px,#0032ff 1180.5px,#003eff 1186.5px,#0043ff 1198.5px,#0054ff 1213.5px,#005aff 1237.5px,#0067ff 1240.5px,#0084ff 1243.5px,#0099ff 1246.5px,#008bff 1249.5px,#0071ff 1252.5px,#0063ff 1255.5px,#0057ff 1264.5px,#005bff 1273.5px,#0070ff 1276.5px,#009bff 1279.5px,#00bfff 1282.5px,#00cdff 1285.5px,#00d1ff 1309.5px,#00d0ff 1318.5px,#00c8ff 1321.5px,#00a5ff 1324.5px,#0074ff 1327.5px,#005eff 1330.5px,#0058ff 1357.5px,#0068ff 1372.5px,#0068ff 1381.5px,#006eff 1384.5px,#00b4ff 1390.5px,#00acff 1393.5px,#0095ff 1396.5px,#0076ff 1399.5px,#0068ff 1402.5px,#0067ff 1486.5px)"></div>
<div style="top:780px;height:3px;background:linear-gradient(90deg,#000fff 1.5px,#000cff 229.5px,#0005ff 256.5px,#0000ff 262.5px,#0000e5 268.5px,#0000dc 277.5px,#0000dd 508.5px,#0000e2 511.5px,#0000fb 514.5px,#0020ff 517.5px,#005aff 520.5px,#007aff 523.5px,#00acff 538.5px,#00c0ff 547.5px,#00c7ff 568.5px,#00c3ff 604.5px,#00a7ff 628.5px,#0097ff 724.5px,#008fff 823.5px,#008aff 829.5px,#0079ff 832.5px,#004cff 835.5px,#0010ff 838.5px,#0000f2 841.5px,#0000e0 844.5px,#0000dc 868.5px,#0000df 1141.5px,#0000ef 1159.5px,#0000ff 1168.5px,#0001ff 1183.5px,#000dff 1198.5px,#0040ff 1213.5px,#0054ff 1228.5px,#0058ff 1240.5px,#0063ff 1246.5px,#0057ff 1255.5px,#0057ff 1273.5px,#005fff 1276.5px,#0078ff 1279.5px,#009cff 1282.5px,#00b7ff 1285.5px,#00c6ff 1288.5px,#00d0ff 1294.5px,#00cfff 1318.5px,#00c4ff 1321.5px,#00a4ff 1324.5px,#007dff 1327.5px,#007bff 1330.5px,#0083ff 1333.5px,#0083ff 1345.5px,#007bff 1348.5px,#0063ff 1351.5px,#0058ff 1354.5px,#005dff 1363.5px,#0065ff 1375.5px,#0066ff 1384.5px,#0085ff 1390.5px,#006cff 1396.5px,#0064ff 1402.5px,#0063ff 1486.5px)"></div>
<div style="top:783px;height:3px;background:linear-gradient(90deg,#000fff 1.5px,#000cff 229.5px,#0004ff 259.5px,#0000ff 265.5px,#0000e1 274.5px,#0000dc 295.5px,#0000de 511.5px,#0000ec 514.5px,#0007ff 517.5px,#0042ff 520.5px,#006dff 523.5px,#0080ff 526.5px,#00b8ff 544.5px,#00c5ff 556.5px,#00c4ff 601.5px,#00b5ff 613.5px,#00a1ff 628.5px,#0096ff 718.5px,#0090ff 829.5px,#008cff 832.5px,#007bff 835.5px,#004fff 838.5px,#0014ff 841.5px,#0000f7 844.5px,#0000e3 847.5px,#0000dc 856.5px,#0000df 1165.5px,#0000eb 1198.5px,#0000ff 1207.5px,#0000ff 1210.5px,#003cff 1228.5px,#0055ff 1240.5px,#0058ff 1276.5px,#005fff 1279.5px,#0087ff 1285.5px,#00b7ff 1291.5px,#00c6ff 1294.5px,#00d0ff 1300.5px,#00d1ff 1312.5px,#00cdff 1315.5px,#00c2ff 1318.5px,#0087ff 1324.5px,#008cff 1327.5px,#00afff 1330.5px,#00bbff 1333.5px,#00bbff 1345.5px,#00aeff 1348.5px,#007cff 1351.5px,#005bff 1354.5px,#0058ff 1360.5px,#0063ff 1375.5px,#0062ff 1393.5px,#0060ff 1486.5px)"></div>
<div style="top:786px;height:3px;background:linear-gradient(90deg,#000fff 1.5px,#000cff 229.5px,#0004ff 262.5px,#0000ff 268.5px,#0000e0 280.5px,#0000dc 316.5px,#0000dd 511.5px,#0000e4 514.5px,#0000ff 517.5px,#0028ff 520.5px,#005cff 523.5px,#0077ff 526.5px,#00b3ff 544.5px,#00c3ff 556.5px,#00c5ff 598.5px,#00b8ff 610.5px,#009fff 625.5px,#0098ff 655.5px,#0092ff 832.5px,#008eff 835.5px,#007eff 838.5px,#0058ff 841.5px,#0025ff 844.5px,#0000ff 847.5px,#0000eb 850.5px,#0000e0 853.5px,#0000dc 877.5px,#0000df 1204.5px,#0000ed 1216.5px,#0000fe 1222.5px,#0005ff 1228.5px,#0050ff 1240.5px,#0057ff 1246.5px,#005bff 1282.5px,#0063ff 1285.5px,#0072ff 1288.5px,#00bbff 1297.5px,#00c9ff 1300.5px,#00d0ff 1306.5px,#00cbff 1312.5px,#00bbff 1315.5px,#007cff 1321.5px,#006dff 1324.5px,#008eff 1327.5px,#00b8ff 1330.5px,#00c2ff 1333.5px,#00c2ff 1345.5px,#00b6ff 1348.5px,#0082ff 1351.5px,#005dff 1354.5px,#0059ff 1360.5px,#0060ff 1381.5px,#005dff 1486.5px)"></div>
<div style="top:789px;height:3px;background:linear-gradient(90deg,#000fff 1.5px,#000cff 229.5px,#0004ff 265.5px,#0000ff 274.5px,#0000e3 283.5px,#0000dc 295.5px,#0000df 514.5px,#0000f1 517.5px,#000fff 520.5px,#0046ff 523.5px,#006bff 526.5px,#007bff 529.5px,#00b4ff 547.5px,#00c3ff 562.5px,#00c3ff 601.5px,#00b1ff 613.5px,#009cff 625.5px,#0096ff 652.5px,#0093ff 835.5px,#0090ff 838.5px,#0085ff 841.5px,#006aff 844.5px,#000dff 850.5px,#0000f6 853.5px,#0000e3 856.5px,#0000dc 865.5px,#0000df 1219.5px,#0000ec 1225.5px,#0000fe 1228.5px,#0008ff 1231.5px,#0040ff 1237.5px,#0051ff 1240.5px,#0058ff 1246.5px,#005cff 1285.5px,#0066ff 1291.5px,#0077ff 1294.5px,#00aaff 1300.5px,#00beff 1303.5px,#00c8ff 1306.5px,#00c7ff 1309.5px,#00b5ff 1312.5px,#0076ff 1318.5px,#0063ff 1321.5px,#005fff 1324.5px,#006eff 1327.5px,#008eff 1330.5px,#009bff 1333.5px,#009cff 1345.5px,#0091ff 1348.5px,#006eff 1351.5px,#005cff 1354.5px,#005bff 1396.5px,#005aff 1486.5px)"></div>
<div style="top:792px;height:3px;background:linear-gradient(90deg,#000fff 1.5px,#000cff 229.5px,#0000fd 280.5px,#0000e2 289.5px,#0000dc 307.5px,#0000dd 514.5px,#0000e6 517.5px,#0000ff 520.5px,#005aff 526.5px,#0072ff 529.5px,#00acff 547.5px,#00bdff 559.5px,#00c5ff 595.5px,#00bcff 607.5px,#009dff 622.5px,#0095ff 640.5px,#0092ff 841.5px,#008cff 844.5px,#007aff 847.5px,#0056ff 850.5px,#0024ff 853.5px,#0000ff 856.5px,#0000ea 859.5px,#0000df 862.5px,#0000dd 1213.5px,#0000e7 1219.5px,#0000ff 1225.5px,#0032ff 1231.5px,#0045ff 1234.5px,#0056ff 1240.5px,#0064ff 1294.5px,#007eff 1300.5px,#00a7ff 1306.5px,#00a6ff 1309.5px,#0072ff 1315.5px,#0064ff 1318.5px,#0061ff 1327.5px,#006aff 1336.5px,#0067ff 1348.5px,#005eff 1354.5px,#0057ff 1432.5px,#0057ff 1486.5px)"></div>
<div style="top:795px;height:3px;background:linear-gradient(90deg,#000fff 1.5px,#000cff 229.5px,#0000ff 283.5px,#0000ef 289.5px,#0000e0 295.5px,#0000dc 331.5px,#0000dd 514.5px,#0000e0 517.5px,#0000f3 520.5px,#000fff 523.5px,#0043ff 526.5px,#0065ff 529.5px,#0075ff 532.5px,#00a9ff 550.5px,#00bbff 568.5px,#00c3ff 598.5px,#00b5ff 610.5px,#009cff 622.5px,#0094ff 640.5px,#0093ff 844.5px,#0090ff 847.5px,#0084ff 850.5px,#0068ff 853.5px,#0009ff 859.5px,#0000f4 862.5px,#0000e2 865.5px,#0000dc 874.5px,#0000dd 1207.5px,#0000e9 1213.5px,#0000f9 1216.5px,#0000ff 1219.5px,#0043ff 1228.5px,#0053ff 1234.5px,#0063ff 1291.5px,#0068ff 1300.5px,#007bff 1306.5px,#007bff 1309.5px,#0065ff 1315.5px,#0054ff 1417.5px,#0054ff 1486.5px)"></div>
<div style="top:798px;height:3px;background:linear-gradient(90deg,#000fff 1.5px,#000cff 229.5px,#0001ff 283.5px,#0000ff 289.5px,#0000e4 298.5px,#0000dc 310.5px,#0000de 517.5px,#0000e6 520.5px,#0000ff 523.5px,#0054ff 529.5px,#006bff 532.5px,#009dff 550.5px,#00b3ff 568.5px,#00c0ff 598.5px,#00b4ff 610.5px,#0098ff 625.5px,#0094ff 661.5px,#0091ff 850.5px,#0089ff 853.5px,#0074ff 856.5px,#004cff 859.5px,#001aff 862.5px,#0000ff 865.5px,#0000e7 868.5px,#0000de 871.5px,#0000de 1201.5px,#0000ea 1207.5px,#0000f9 1210.5px,#0002ff 1213.5px,#0032ff 1219.5px,#004aff 1225.5px,#0054ff 1237.5px,#0063ff 1288.5px,#0063ff 1315.5px,#005bff 1363.5px,#0051ff 1414.5px,#0051ff 1486.5px)"></div>
<div style="top:801px;height:3px;background:linear-gradient(90deg,#000fff 1.5px,#000cff 229.5px,#0003ff 286.5px,#0000fe 295.5px,#0000e3 304.5px,#0000dc 325.5px,#0000dd 517.5px,#0000e0 520.5px,#0000f2 523.5px,#000cff 526.5px,#003dff 529.5px,#005eff 532.5px,#0074ff 538.5px,#009eff 559.5px,#00b8ff 589.5px,#00baff 604.5px,#0098ff 625.5px,#0094ff 661.5px,#0092ff 850.5px,#0088ff 856.5px,#0077ff 859.5px,#0056ff 862.5px,#0000ff 868.5px,#0000e0 874.5px,#0000dc 898.5px,#0000df 1195.5px,#0000ec 1201.5px,#0000fe 1204.5px,#0004ff 1207.5px,#0030ff 1213.5px,#0040ff 1216.5px,#004cff 1222.5px,#0062ff 1291.5px,#005dff 1351.5px,#004eff 1411.5px,#004eff 1486.5px)"></div>
<div style="top:804px;height:3px;background:linear-gradient(90deg,#000fff 1.5px,#000cff 229.5px,#0002ff 292.5px,#0000fb 301.5px,#0000e4 310.5px,#0000dc 325.5px,#0000dd 520.5px,#0000e6 523.5px,#0000ff 526.5px,#004dff 532.5px,#0062ff 535.5px,#008bff 556.5px,#00a9ff 583.5px,#00b4ff 604.5px,#0096ff 628.5px,#0092ff 850.5px,#008aff 856.5px,#0072ff 862.5px,#0056ff 865.5px,#0006ff 871.5px,#0000f5 874.5px,#0000e4 877.5px,#0000dc 883.5px,#0000df 1183.5px,#0000ed 1192.5px,#0000ff 1198.5px,#0007ff 1201.5px,#0030ff 1207.5px,#0044ff 1213.5px,#004eff 1228.5px,#005fff 1288.5px,#005cff 1348.5px,#004bff 1408.5px,#004bff 1486.5px)"></div>
<div style="top:807px;height:3px;background:linear-gradient(90deg,#000eff 1.5px,#000bff 232.5px,#0004ff 295.5px,#0000fe 307.5px,#0000e4 316.5px,#0000dc 331.5px,#0000dd 520.5px,#0000e0 523.5px,#0000f1 526.5px,#000aff 529.5px,#0038ff 532.5px,#0056ff 535.5px,#0062ff 538.5px,#008dff 568.5px,#00abff 604.5px,#0095ff 628.5px,#0092ff 850.5px,#0082ff 859.5px,#0066ff 865.5px,#0050ff 868.5px,#000eff 874.5px,#0000fe 877.5px,#0000e9 880.5px,#0000dd 886.5px,#0000df 1171.5px,#0000ec 1180.5px,#0000ff 1186.5px,#0000ff 1189.5px,#003aff 1204.5px,#0046ff 1213.5px,#005cff 1288.5px,#0059ff 1348.5px,#0049ff 1408.5px,#0049ff 1486.5px)"></div>
<div style="top:810px;height:3px;background:linear-gradient(90deg,#000eff 1.5px,#000bff 229.5px,#0003ff 301.5px,#0000fe 313.5px,#0000e1 325.5px,#0000dc 355.5px,#0000dd 523.5px,#0000e6 526.5px,#0000ff 529.5px,#0046ff 535.5px,#0059ff 538.5px,#007fff 568.5px,#00a0ff 607.5px,#0094ff 637.5px,#0092ff 850.5px,#0082ff 859.5px,#0058ff 868.5px,#002fff 874.5px,#0014ff 877.5px,#0000ff 880.5px,#0000e3 886.5px,#0000dc 895.5px,#0000df 1159.5px,#0000ed 1168.5px,#0000ff 1174.5px,#0005ff 1180.5px,#002eff 1192.5px,#003fff 1204.5px,#0059ff 1282.5px,#0056ff 1348.5px,#0047ff 1411.5px,#0047ff 1486.5px)"></div>
<div style="top:813px;height:3px;background:linear-gradient(90deg,#000dff 1.5px,#000aff 235.5px,#0002ff 310.5px,#0000ff 319.5px,#0000e2 331.5px,#0000dc 349.5px,#0000dd 523.5px,#0000e0 526.5px,#0000f0 529.5px,#0007ff 532.5px,#0033ff 535.5px,#004eff 538.5px,#005cff 544.5px,#0097ff 613.5px,#0091ff 850.5px,#0082ff 859.5px,#002bff 877.5px,#0002ff 883.5px,#0000f9 886.5px,#0000e8 889.5px,#0000df 892.5px,#0000de 1144.5px,#0000ec 1156.5px,#0000fe 1162.5px,#0005ff 1168.5px,#0022ff 1177.5px,#0035ff 1189.5px,#004aff 1237.5px,#0056ff 1291.5px,#0053ff 1351.5px,#0045ff 1411.5px,#0045ff 1486.5px)"></div>
<div style="top:816px;height:3px;background:linear-gradient(90deg,#000dff 1.5px,#000aff 232.5px,#0002ff 316.5px,#0000ff 325.5px,#0000e3 337.5px,#0000dc 349.5px,#0000dd 526.5px,#0000e5 529.5px,#0000ff 532.5px,#001cff 535.5px,#0040ff 538.5px,#0050ff 541.5px,#0069ff 571.5px,#007bff 598.5px,#0093ff 622.5px,#0090ff 850.5px,#0081ff 859.5px,#0030ff 877.5px,#001cff 883.5px,#0000ff 889.5px,#0000e3 895.5px,#0000dc 904.5px,#0000de 1132.5px,#0000ed 1144.5px,#0000fd 1150.5px,#0003ff 1156.5px,#0024ff 1168.5px,#0034ff 1186.5px,#004cff 1252.5px,#0053ff 1297.5px,#004fff 1354.5px,#0043ff 1414.5px,#0043ff 1486.5px)"></div>
<div style="top:819px;height:3px;background:linear-gradient(90deg,#000cff 1.5px,#0009ff 238.5px,#0003ff 322.5px,#0000fb 334.5px,#0000e3 343.5px,#0000dc 364.5px,#0000dd 526.5px,#0000e0 529.5px,#0004ff 535.5px,#002eff 538.5px,#0047ff 541.5px,#0053ff 547.5px,#0060ff 571.5px,#006aff 595.5px,#008fff 622.5px,#0092ff 658.5px,#008dff 850.5px,#007eff 859.5px,#0030ff 877.5px,#001fff 886.5px,#0013ff 889.5px,#0000ff 892.5px,#0000f9 895.5px,#0000e8 898.5px,#0000df 901.5px,#0000de 1120.5px,#0000ee 1132.5px,#0000ff 1138.5px,#0004ff 1144.5px,#0020ff 1156.5px,#0032ff 1183.5px,#004aff 1255.5px,#0050ff 1303.5px,#004cff 1354.5px,#0041ff 1414.5px,#0041ff 1486.5px)"></div>
<div style="top:822px;height:3px;background:linear-gradient(90deg,#000cff 1.5px,#0009ff 235.5px,#0003ff 328.5px,#0000fc 340.5px,#0000e5 349.5px,#0000dc 367.5px,#0000dd 529.5px,#0000e5 532.5px,#0000ff 535.5px,#0019ff 538.5px,#003bff 541.5px,#004aff 544.5px,#0059ff 571.5px,#0061ff 598.5px,#007aff 613.5px,#008dff 625.5px,#008dff 763.5px,#0088ff 850.5px,#007aff 859.5px,#0038ff 874.5px,#0026ff 883.5px,#001aff 892.5px,#0000ff 898.5px,#0000e3 904.5px,#0000dc 916.5px,#0000df 1108.5px,#0000e9 1117.5px,#0000ff 1126.5px,#0005ff 1132.5px,#001cff 1141.5px,#0027ff 1156.5px,#0046ff 1249.5px,#004dff 1300.5px,#0049ff 1357.5px,#003fff 1417.5px,#003fff 1486.5px)"></div>
<div style="top:825px;height:3px;background:linear-gradient(90deg,#000bff 1.5px,#0008ff 244.5px,#0003ff 334.5px,#0000ff 346.5px,#0000e6 358.5px,#0000dc 376.5px,#0000dd 529.5px,#0000e0 532.5px,#0006ff 538.5px,#002dff 541.5px,#0043ff 544.5px,#004dff 553.5px,#0053ff 577.5px,#0057ff 598.5px,#006aff 610.5px,#0084ff 622.5px,#008aff 640.5px,#0081ff 850.5px,#0073ff 859.5px,#0036ff 874.5px,#0026ff 883.5px,#001eff 895.5px,#0014ff 898.5px,#0002ff 901.5px,#0000fe 904.5px,#0000e7 910.5px,#0000dd 919.5px,#0000df 1096.5px,#0000e9 1105.5px,#0000ff 1114.5px,#0000ff 1117.5px,#001fff 1132.5px,#0026ff 1153.5px,#0042ff 1243.5px,#004aff 1303.5px,#0046ff 1357.5px,#003dff 1414.5px,#003dff 1486.5px)"></div>
<div style="top:828px;height:3px;background:linear-gradient(90deg,#000bff 1.5px,#0008ff 241.5px,#0002ff 343.5px,#0000ff 355.5px,#0000e3 370.5px,#0000dc 394.5px,#0000de 532.5px,#0000e7 535.5px,#0000ff 538.5px,#003aff 544.5px,#0044ff 547.5px,#004eff 568.5px,#004fff 598.5px,#0061ff 610.5px,#007bff 622.5px,#0081ff 640.5px,#0075ff 850.5px,#0069ff 859.5px,#002cff 877.5px,#0024ff 889.5px,#0022ff 898.5px,#0012ff 904.5px,#0000ff 910.5px,#0000e5 919.5px,#0000dc 931.5px,#0000df 1084.5px,#0000f0 1096.5px,#0000ff 1102.5px,#0000ff 1105.5px,#001cff 1117.5px,#0025ff 1135.5px,#0029ff 1171.5px,#003fff 1240.5px,#0046ff 1303.5px,#0042ff 1363.5px,#003bff 1420.5px,#003bff 1486.5px)"></div>
<div style="top:831px;height:3px;background:linear-gradient(90deg,#000aff 1.5px,#0007ff 250.5px,#0003ff 349.5px,#0000ff 364.5px,#0000e1 382.5px,#0000dc 418.5px,#0000dd 532.5px,#0000e2 535.5px,#0000f7 538.5px,#000fff 541.5px,#0030ff 544.5px,#003fff 547.5px,#0049ff 571.5px,#004bff 601.5px,#005eff 613.5px,#0073ff 625.5px,#0073ff 667.5px,#0065ff 853.5px,#0055ff 862.5px,#0030ff 874.5px,#0024ff 883.5px,#0020ff 907.5px,#0003ff 916.5px,#0000ff 919.5px,#0000e4 928.5px,#0000dc 943.5px,#0000df 1072.5px,#0000eb 1081.5px,#0000ff 1090.5px,#0006ff 1096.5px,#001fff 1108.5px,#0024ff 1138.5px,#0029ff 1174.5px,#003cff 1237.5px,#0043ff 1303.5px,#003eff 1372.5px,#0039ff 1432.5px,#0039ff 1486.5px)"></div>
<div style="top:834px;height:3px;background:linear-gradient(90deg,#000aff 1.5px,#0007ff 250.5px,#0002ff 361.5px,#0000fd 376.5px,#0000e5 388.5px,#0000dc 406.5px,#0000df 535.5px,#0000ff 541.5px,#0025ff 544.5px,#0038ff 547.5px,#0041ff 556.5px,#0047ff 604.5px,#0065ff 625.5px,#0056ff 850.5px,#0048ff 862.5px,#0028ff 877.5px,#0024ff 895.5px,#0024ff 913.5px,#001aff 919.5px,#0001ff 925.5px,#0000ff 928.5px,#0000e3 937.5px,#0000dc 949.5px,#0000de 1057.5px,#0000eb 1069.5px,#0000ff 1078.5px,#0000ff 1081.5px,#001bff 1093.5px,#0023ff 1117.5px,#0026ff 1168.5px,#003bff 1246.5px,#0040ff 1321.5px,#0037ff 1432.5px,#0037ff 1486.5px)"></div>
<div style="top:837px;height:3px;background:linear-gradient(90deg,#0009ff 1.5px,#0006ff 262.5px,#0002ff 370.5px,#0000fe 385.5px,#0000e0 403.5px,#0000dc 463.5px,#0000dd 535.5px,#0000e6 538.5px,#0000ff 541.5px,#0031ff 547.5px,#003bff 553.5px,#003fff 577.5px,#0041ff 604.5px,#0057ff 625.5px,#0047ff 847.5px,#003cff 862.5px,#0024ff 880.5px,#0027ff 919.5px,#0020ff 925.5px,#0000ff 934.5px,#0000ff 937.5px,#0000e8 943.5px,#0000df 952.5px,#0000de 1042.5px,#0000e9 1054.5px,#0000fe 1063.5px,#0000ff 1069.5px,#001aff 1081.5px,#0022ff 1096.5px,#0025ff 1171.5px,#0038ff 1243.5px,#003dff 1324.5px,#0035ff 1438.5px,#0035ff 1486.5px)"></div>
<div style="top:840px;height:3px;background:linear-gradient(90deg,#0009ff 1.5px,#0006ff 259.5px,#0003ff 379.5px,#0000ff 394.5px,#0000e1 412.5px,#0000dc 442.5px,#0000dd 535.5px,#0000e2 538.5px,#0000f7 541.5px,#000cff 544.5px,#0029ff 547.5px,#0034ff 550.5px,#003bff 574.5px,#003dff 607.5px,#004aff 628.5px,#0043ff 721.5px,#0039ff 847.5px,#002bff 868.5px,#0022ff 883.5px,#0029ff 925.5px,#001eff 934.5px,#0000ff 943.5px,#0000f7 949.5px,#0000e1 967.5px,#0000dd 1015.5px,#0000e3 1036.5px,#0000ff 1051.5px,#0004ff 1057.5px,#001dff 1072.5px,#0021ff 1120.5px,#0024ff 1171.5px,#0036ff 1246.5px,#003aff 1342.5px,#0033ff 1429.5px,#0033ff 1486.5px)"></div>
<div style="top:843px;height:3px;background:linear-gradient(90deg,#0008ff 1.5px,#0003ff 388.5px,#0000fd 406.5px,#0000e1 421.5px,#0000dc 451.5px,#0000df 538.5px,#0000ff 544.5px,#001eff 547.5px,#002eff 550.5px,#0036ff 574.5px,#0038ff 610.5px,#003fff 631.5px,#0037ff 709.5px,#0032ff 823.5px,#0028ff 862.5px,#0022ff 886.5px,#0029ff 931.5px,#001bff 943.5px,#0000ff 958.5px,#0000fb 967.5px,#0000e4 982.5px,#0000e4 1006.5px,#0000ea 1018.5px,#0000ec 1027.5px,#0000ff 1036.5px,#0001ff 1042.5px,#0018ff 1054.5px,#0020ff 1078.5px,#0023ff 1171.5px,#0033ff 1243.5px,#0037ff 1342.5px,#0031ff 1444.5px,#0031ff 1486.5px)"></div>
<div style="top:846px;height:3px;background:linear-gradient(90deg,#0008ff 1.5px,#0003ff 400.5px,#0000fe 415.5px,#0000e4 427.5px,#0000dc 445.5px,#0000de 538.5px,#0000e6 541.5px,#0000ff 544.5px,#0027ff 550.5px,#0030ff 559.5px,#0033ff 649.5px,#002fff 715.5px,#002bff 823.5px,#0021ff 880.5px,#002aff 928.5px,#001cff 958.5px,#0000ff 976.5px,#0000ff 1027.5px,#0019ff 1042.5px,#001fff 1069.5px,#0022ff 1174.5px,#0030ff 1237.5px,#0033ff 1354.5px,#002fff 1486.5px)"></div>
<div style="top:849px;height:3px;background:linear-gradient(90deg,#0007ff 1.5px,#0003ff 412.5px,#0000fc 424.5px,#0000e4 436.5px,#0000dc 451.5px,#0000dd 538.5px,#0000e2 541.5px,#0000f5 544.5px,#0006ff 547.5px,#001fff 550.5px,#002bff 556.5px,#002bff 661.5px,#002bff 742.5px,#0025ff 832.5px,#0020ff 877.5px,#0036ff 916.5px,#0034ff 928.5px,#002bff 940.5px,#0016ff 979.5px,#0011ff 991.5px,#001eff 1057.5px,#0021ff 1174.5px,#002eff 1240.5px,#002eff 1384.5px,#002cff 1486.5px)"></div>
<div style="top:852px;height:3px;background:linear-gradient(90deg,#0007ff 1.5px,#0004ff 418.5px,#0000fc 433.5px,#0000e3 445.5px,#0000dc 466.5px,#0000df 541.5px,#0000eb 544.5px,#0000ff 547.5px,#0015ff 550.5px,#0023ff 553.5px,#0029ff 571.5px,#0026ff 718.5px,#0026ff 811.5px,#001eff 871.5px,#0023ff 880.5px,#004cff 886.5px,#0052ff 895.5px,#0066ff 901.5px,#006cff 916.5px,#0068ff 928.5px,#0055ff 934.5px,#0052ff 943.5px,#0046ff 946.5px,#0030ff 949.5px,#0026ff 952.5px,#001cff 994.5px,#0020ff 1174.5px,#002cff 1246.5px,#002bff 1396.5px,#002aff 1486.5px)"></div>
<div style="top:855px;height:3px;background:linear-gradient(90deg,#0006ff 1.5px,#0004ff 427.5px,#0000ff 439.5px,#0000e2 454.5px,#0000dc 481.5px,#0000dd 541.5px,#0000e5 544.5px,#0000fc 547.5px,#000aff 550.5px,#001cff 553.5px,#0024ff 565.5px,#0022ff 706.5px,#0026ff 784.5px,#001dff 871.5px,#0023ff 880.5px,#0043ff 883.5px,#0077ff 886.5px,#0087ff 889.5px,#0091ff 913.5px,#0088ff 943.5px,#007dff 946.5px,#0037ff 952.5px,#0026ff 955.5px,#001cff 991.5px,#001fff 1177.5px,#0029ff 1240.5px,#0028ff 1486.5px)"></div>
<div style="top:858px;height:3px;background:linear-gradient(90deg,#0006ff 1.5px,#0003ff 436.5px,#0000ff 448.5px,#0000e2 463.5px,#0000dc 487.5px,#0000dd 541.5px,#0000e1 544.5px,#0000ff 550.5px,#0015ff 553.5px,#001eff 559.5px,#0020ff 709.5px,#0025ff 784.5px,#001cff 868.5px,#0021ff 880.5px,#0031ff 883.5px,#0064ff 886.5px,#008cff 889.5px,#0094ff 895.5px,#0092ff 946.5px,#0086ff 949.5px,#0064ff 952.5px,#003bff 955.5px,#0026ff 958.5px,#001eff 970.5px,#001dff 1174.5px,#0027ff 1243.5px,#0026ff 1486.5px)"></div>
<div style="top:861px;height:3px;background:linear-gradient(90deg,#0005ff 1.5px,#0002ff 445.5px,#0000ff 457.5px,#0000e0 472.5px,#0000dc 496.5px,#0000df 544.5px,#0000eb 547.5px,#0000ff 550.5px,#0017ff 556.5px,#001bff 592.5px,#001dff 703.5px,#0024ff 769.5px,#001fff 832.5px,#001cff 871.5px,#0024ff 883.5px,#0043ff 886.5px,#007cff 889.5px,#0092ff 892.5px,#0093ff 949.5px,#0085ff 952.5px,#002cff 958.5px,#0021ff 961.5px,#001aff 997.5px,#001dff 1180.5px,#0024ff 1243.5px,#0024ff 1486.5px)"></div>
<div style="top:864px;height:3px;background:linear-gradient(90deg,#0005ff 1.5px,#0003ff 454.5px,#0000ff 466.5px,#0000e1 475.5px,#0000dc 490.5px,#0000de 544.5px,#0000e5 547.5px,#0000fb 550.5px,#0006ff 553.5px,#0014ff 556.5px,#001aff 574.5px,#001dff 706.5px,#0024ff 772.5px,#001eff 838.5px,#001cff 871.5px,#0021ff 883.5px,#002dff 886.5px,#008aff 892.5px,#0093ff 895.5px,#0094ff 946.5px,#0090ff 949.5px,#0074ff 952.5px,#0042ff 955.5px,#0026ff 958.5px,#001eff 970.5px,#001aff 1006.5px,#001cff 1177.5px,#0024ff 1243.5px,#0024ff 1486.5px)"></div>
<div style="top:867px;height:3px;background:linear-gradient(90deg,#0005ff 1.5px,#0003ff 463.5px,#0000ff 469.5px,#0000e3 475.5px,#0000dc 481.5px,#0000dd 544.5px,#0000e2 547.5px,#0000ff 553.5px,#0011ff 556.5px,#0019ff 562.5px,#001dff 706.5px,#0024ff 772.5px,#001eff 838.5px,#001cff 871.5px,#0024ff 886.5px,#003cff 889.5px,#0073ff 892.5px,#008eff 895.5px,#0094ff 913.5px,#0091ff 946.5px,#007eff 949.5px,#004cff 952.5px,#0029ff 955.5px,#0021ff 961.5px,#0019ff 994.5px,#001cff 1177.5px,#0024ff 1243.5px,#0024ff 1486.5px)"></div>
<div style="top:870px;height:3px;background:linear-gradient(90deg,#0005ff 1.5px,#0005ff 463.5px,#0000ff 469.5px,#0000ec 472.5px,#0000e1 475.5px,#0000dc 490.5px,#0000df 547.5px,#0000eb 550.5px,#0000ff 553.5px,#0016ff 559.5px,#0019ff 595.5px,#001cff 700.5px,#0024ff 772.5px,#001eff 838.5px,#001cff 871.5px,#0022ff 886.5px,#0029ff 889.5px,#0066ff 895.5px,#007cff 901.5px,#008fff 910.5px,#0090ff 928.5px,#0088ff 943.5px,#007cff 946.5px,#002eff 952.5px,#0023ff 955.5px,#0019ff 994.5px,#001cff 1177.5px,#0024ff 1243.5px,#0024ff 1486.5px)"></div>
<div style="top:873px;height:3px;background:linear-gradient(90deg,#0005ff 1.5px,#0005ff 460.5px,#0000ff 466.5px,#0000e4 472.5px,#0000dc 478.5px,#0000de 547.5px,#0000e6 550.5px,#0000fc 553.5px,#0007ff 556.5px,#0015ff 559.5px,#0019ff 571.5px,#001cff 700.5px,#0024ff 772.5px,#001eff 838.5px,#001cff 871.5px,#0023ff 889.5px,#004bff 904.5px,#0065ff 910.5px,#006dff 913.5px,#0068ff 928.5px,#0055ff 934.5px,#0052ff 943.5px,#0046ff 946.5px,#002fff 949.5px,#0025ff 952.5px,#0019ff 991.5px,#001cff 1177.5px,#0024ff 1243.5px,#0024ff 1486.5px)"></div>
<div style="top:876px;height:3px;background:linear-gradient(90deg,#0005ff 1.5px,#0005ff 457.5px,#0000ff 463.5px,#0000e5 469.5px,#0000dc 478.5px,#0000dd 547.5px,#0000e2 550.5px,#0000f4 553.5px,#0000ff 556.5px,#0012ff 559.5px,#0019ff 565.5px,#001cff 700.5px,#0024ff 772.5px,#001eff 838.5px,#001cff 871.5px,#002aff 904.5px,#0038ff 916.5px,#0036ff 928.5px,#002cff 940.5px,#001aff 979.5px,#001cff 1177.5px,#0024ff 1243.5px,#0024ff 1486.5px)"></div>
<div style="top:879px;height:3px;background:linear-gradient(90deg,#0005ff 1.5px,#0005ff 454.5px,#0000ff 460.5px,#0000e6 466.5px,#0000dd 472.5px,#0000dd 547.5px,#0000e0 550.5px,#0000ff 556.5px,#0017ff 562.5px,#001cff 700.5px,#0024ff 772.5px,#001eff 838.5px,#001cff 871.5px,#002dff 925.5px,#001aff 988.5px,#001cff 1177.5px,#0024ff 1243.5px,#0024ff 1486.5px)"></div>
<div style="top:882px;height:3px;background:linear-gradient(90deg,#0005ff 1.5px,#0005ff 451.5px,#0000ff 457.5px,#0000f7 460.5px,#0000df 466.5px,#0000de 550.5px,#0000e7 553.5px,#0000ff 556.5px,#0016ff 562.5px,#001aff 601.5px,#001cff 700.5px,#0024ff 772.5px,#001eff 838.5px,#001cff 871.5px,#002dff 925.5px,#001aff 988.5px,#001cff 1177.5px,#0024ff 1243.5px,#0024ff 1486.5px)"></div>
<div style="top:885px;height:3px;background:linear-gradient(90deg,#0005ff 1.5px,#0002ff 451.5px,#0000ff 454.5px,#0000f8 457.5px,#0000e0 463.5px,#0000dc 487.5px,#0000dd 550.5px,#0000e3 553.5px,#0000f7 556.5px,#0003ff 559.5px,#0014ff 562.5px,#0019ff 568.5px,#001cff 700.5px,#0024ff 772.5px,#001eff 838.5px,#001cff 871.5px,#002dff 925.5px,#0019ff 991.5px,#001cff 1177.5px,#0024ff 1243.5px,#0024ff 1486.5px)"></div>
<div style="top:888px;height:3px;background:linear-gradient(90deg,#0005ff 1.5px,#0004ff 448.5px,#0000fe 454.5px,#0000ec 457.5px,#0000e1 460.5px,#0000dc 475.5px,#0000dd 550.5px,#0000e1 553.5px,#0000ff 559.5px,#0012ff 562.5px,#0019ff 565.5px,#001cff 700.5px,#0024ff 772.5px,#001eff 838.5px,#001cff 871.5px,#002dff 925.5px,#0019ff 991.5px,#001cff 1177.5px,#0024ff 1243.5px,#0024ff 1486.5px)"></div>
<div style="top:891px;height:3px;background:linear-gradient(90deg,#0005ff 1.5px,#0004ff 448.5px,#0000fa 454.5px,#0000e8 457.5px,#0000df 460.5px,#0000dd 550.5px,#0000e0 553.5px,#0000ff 559.5px,#0011ff 562.5px,#0019ff 568.5px,#001cff 700.5px,#0024ff 772.5px,#001eff 838.5px,#001cff 871.5px,#002dff 925.5px,#0019ff 991.5px,#001cff 1177.5px,#0024ff 1243.5px,#0024ff 1486.5px)"></div>
</div>
<div id="cb"></div>
<svg width="2400" height="1800" viewBox="0 0 2400 1800">
<g stroke="#000" stroke-width="2" fill="none">
<line x1="300.3" y1="454.0" x2="300.3" y2="471.0"/>
<line x1="300.3" y1="1346.0" x2="300.3" y2="1329.0"/>
<line x1="597.9" y1="454.0" x2="597.9" y2="471.0"/>
<line x1="597.9" y1="1346.0" x2="597.9" y2="1329.0"/>
<line x1="895.5" y1="454.0" x2="895.5" y2="471.0"/>
<line x1="895.5" y1="1346.0" x2="895.5" y2="1329.0"/>
<line x1="1193.1" y1="454.0" x2="1193.1" y2="471.0"/>
<line x1="1193.1" y1="1346.0" x2="1193.1" y2="1329.0"/>
<line x1="1490.7" y1="454.0" x2="1490.7" y2="471.0"/>
<line x1="1490.7" y1="1346.0" x2="1490.7" y2="1329.0"/>
<line x1="300.0" y1="454.3" x2="317.0" y2="454.3"/>
<line x1="1788.0" y1="454.3" x2="1771.0" y2="454.3"/>
<line x1="300.0" y1="573.3" x2="317.0" y2="573.3"/>
<line x1="1788.0" y1="573.3" x2="1771.0" y2="573.3"/>
<line x1="300.0" y1="692.4" x2="317.0" y2="692.4"/>
<line x1="1788.0" y1="692.4" x2="1771.0" y2="692.4"/>
<line x1="300.0" y1="811.4" x2="317.0" y2="811.4"/>
<line x1="1788.0" y1="811.4" x2="1771.0" y2="811.4"/>
<line x1="300.0" y1="930.5" x2="317.0" y2="930.5"/>
<line x1="1788.0" y1="930.5" x2="1771.0" y2="930.5"/>
<line x1="300.0" y1="1049.5" x2="317.0" y2="1049.5"/>
<line x1="1788.0" y1="1049.5" x2="1771.0" y2="1049.5"/>
<line x1="300.0" y1="1168.5" x2="317.0" y2="1168.5"/>
<line x1="1788.0" y1="1168.5" x2="1771.0" y2="1168.5"/>
<line x1="300.0" y1="1287.6" x2="317.0" y2="1287.6"/>
<line x1="1788.0" y1="1287.6" x2="1771.0" y2="1287.6"/>
<line x1="1953" y1="1491.7" x2="1936" y2="1491.7"/>
<line x1="1953" y1="1320.8" x2="1936" y2="1320.8"/>
<line x1="1953" y1="1149.9" x2="1936" y2="1149.9"/>
<line x1="1953" y1="979.0" x2="1936" y2="979.0"/>
<line x1="1953" y1="808.1" x2="1936" y2="808.1"/>
<line x1="1953" y1="637.2" x2="1936" y2="637.2"/>
<line x1="1953" y1="466.3" x2="1936" y2="466.3"/>
<line x1="1953" y1="295.4" x2="1936" y2="295.4"/>
</g>
<rect x="300.0" y="454.0" width="1488.0" height="892.0" fill="none" stroke="#000" stroke-width="4" stroke-linejoin="miter"/>
<rect x="1881" y="180" width="72" height="1440" fill="none" stroke="#000" stroke-width="4"/>
<text class="t" x="300.3" y="1399" text-anchor="middle" textLength="31.81" lengthAdjust="spacingAndGlyphs">0</text>
<text class="t" x="597.9" y="1399" text-anchor="middle" textLength="95.44" lengthAdjust="spacingAndGlyphs">500</text>
<text class="t" x="895.5" y="1399" text-anchor="middle" textLength="127.25" lengthAdjust="spacingAndGlyphs">1000</text>
<text class="t" x="1193.1" y="1399" text-anchor="middle" textLength="127.25" lengthAdjust="spacingAndGlyphs">1500</text>
<text class="t" x="1490.7" y="1399" text-anchor="middle" textLength="127.25" lengthAdjust="spacingAndGlyphs">2000</text>
<text class="t" x="285.5" y="471.3" text-anchor="end" textLength="31.81" lengthAdjust="spacingAndGlyphs">0</text>
<text class="t" x="285.5" y="590.3" text-anchor="end" textLength="95.44" lengthAdjust="spacingAndGlyphs">200</text>
<text class="t" x="285.5" y="709.4" text-anchor="end" textLength="95.44" lengthAdjust="spacingAndGlyphs">400</text>
<text class="t" x="285.5" y="828.4" text-anchor="end" textLength="95.44" lengthAdjust="spacingAndGlyphs">600</text>
<text class="t" x="285.5" y="947.5" text-anchor="end" textLength="95.44" lengthAdjust="spacingAndGlyphs">800</text>
<text class="t" x="285.5" y="1066.5" text-anchor="end" textLength="127.25" lengthAdjust="spacingAndGlyphs">1000</text>
<text class="t" x="285.5" y="1185.5" text-anchor="end" textLength="127.25" lengthAdjust="spacingAndGlyphs">1200</text>
<text class="t" x="285.5" y="1304.6" text-anchor="end" textLength="127.25" lengthAdjust="spacingAndGlyphs">1400</text>
<text class="t" x="1965.5" y="1508.7" textLength="63.62" lengthAdjust="spacingAndGlyphs">18</text>
<text class="t" x="1965.5" y="1337.8" textLength="63.62" lengthAdjust="spacingAndGlyphs">24</text>
<text class="t" x="1965.5" y="1166.9" textLength="63.62" lengthAdjust="spacingAndGlyphs">30</text>
<text class="t" x="1965.5" y="996.0" textLength="63.62" lengthAdjust="spacingAndGlyphs">36</text>
<text class="t" x="1965.5" y="825.1" textLength="63.62" lengthAdjust="spacingAndGlyphs">42</text>
<text class="t" x="1965.5" y="654.2" textLength="63.62" lengthAdjust="spacingAndGlyphs">48</text>
<text class="t" x="1965.5" y="483.3" textLength="63.62" lengthAdjust="spacingAndGlyphs">54</text>
<text class="t" x="1965.5" y="312.4" textLength="63.62" lengthAdjust="spacingAndGlyphs">60</text>
<text class="ti" x="1044" y="361.7" text-anchor="middle" textLength="1080.9" lengthAdjust="spacingAndGlyphs">ABI_Rad_band12_GOES-Imager_b09</text>
<text class="ti" x="1044" y="432" text-anchor="middle" textLength="234.4" lengthAdjust="spacingAndGlyphs">in File B</text>
<text class="t" transform="translate(2085,898) rotate(-90)" text-anchor="middle" textLength="1470.3" lengthAdjust="spacingAndGlyphs">milliWatts per meter squared per steradian per inverse cm</text>
</svg>
</body></html>
